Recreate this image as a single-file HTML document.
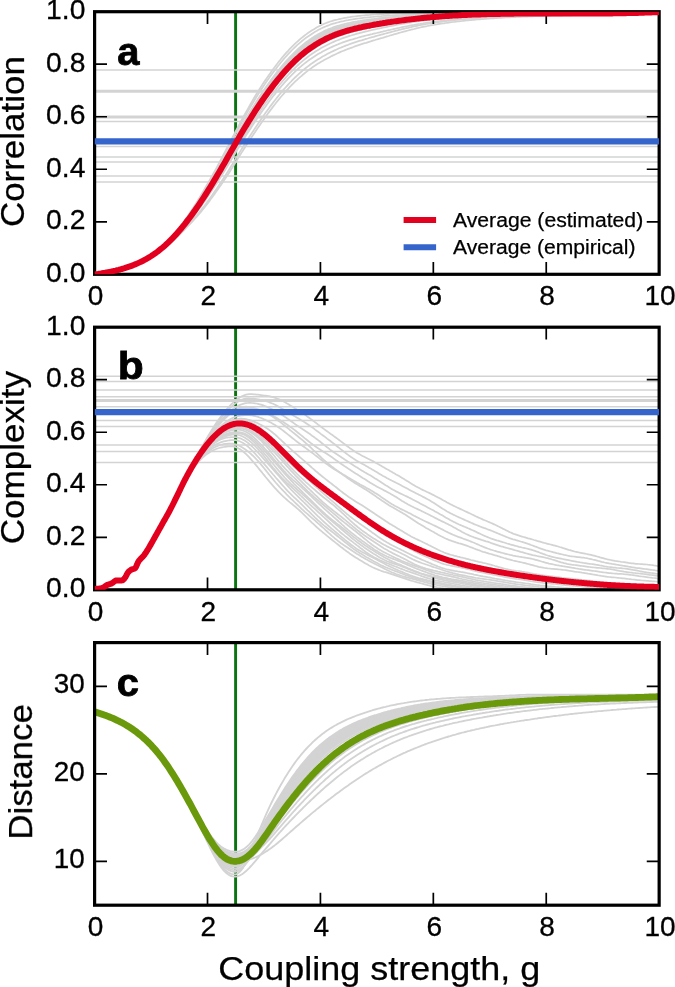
<!DOCTYPE html>
<html lang="en"><head><meta charset="utf-8"><title>Coupling strength figure</title>
<style>html,body{margin:0;padding:0;background:#fff;}body{width:675px;height:987px;overflow:hidden;}svg{display:block;}text{font-family:"Liberation Sans", sans-serif;fill:#000;}.tk{font-size:27.4px;stroke:#000;stroke-width:.3px;}.lb{font-size:33px;stroke:#000;stroke-width:.25px;}.lg{font-size:19.6px;stroke:#000;stroke-width:.25px;}.pl{font-size:39px;font-weight:bold;stroke:#000;stroke-width:.8px;}</style></head><body>
<svg width="675" height="987" viewBox="0 0 675 987">
<rect x="0" y="0" width="675" height="987" fill="#fff"/>
<defs>
<clipPath id="cpa"><rect x="94.60" y="11.70" width="564.55" height="262.60"/></clipPath>
<clipPath id="cpb"><rect x="94.60" y="327.20" width="564.55" height="262.60"/></clipPath>
<clipPath id="cpc"><rect x="94.60" y="642.60" width="564.55" height="262.60"/></clipPath>
</defs>
<line x1="235.6" x2="235.6" y1="11.70" y2="274.30" stroke="#0a7410" stroke-width="2.9" clip-path="url(#cpa)"/>
<g stroke="#d3d3d3" stroke-width="1.75" fill="none" clip-path="url(#cpa)" stroke-linejoin="round">
<line x1="94.60" x2="659.15" y1="69.90" y2="69.90" stroke-width="1.50"/>
<line x1="94.60" x2="659.15" y1="91.30" y2="91.30" stroke-width="3.00"/>
<line x1="94.60" x2="659.15" y1="117.00" y2="117.00" stroke-width="3.15"/>
<line x1="94.60" x2="659.15" y1="121.50" y2="121.50" stroke-width="1.50"/>
<line x1="94.60" x2="659.15" y1="146.40" y2="146.40" stroke-width="1.50"/>
<line x1="94.60" x2="659.15" y1="157.10" y2="157.10" stroke-width="1.50"/>
<line x1="94.60" x2="659.15" y1="162.10" y2="162.10" stroke-width="1.50"/>
<line x1="94.60" x2="659.15" y1="175.90" y2="175.90" stroke-width="1.50"/>
<line x1="94.60" x2="659.15" y1="182.00" y2="182.00" stroke-width="1.50"/>
<path d="M94.6,274.3 L96.1,274.3 L97.6,274.1 L99.1,273.8 L100.6,273.6 L102.1,273.3 L103.6,273.1 L105.1,272.8 L106.6,272.5 L108.1,272.3 L109.6,272.0 L111.1,271.7 L112.6,271.4 L114.1,271.1 L115.6,270.7 L117.1,270.4 L118.6,270.1 L120.1,269.7 L121.6,269.3 L123.1,268.9 L124.6,268.5 L126.1,268.1 L127.6,267.6 L129.1,267.1 L130.6,266.6 L132.1,266.1 L133.6,265.6 L135.1,265.0 L136.6,264.4 L138.1,263.8 L139.6,263.1 L141.1,262.5 L142.6,261.7 L144.1,261.0 L145.6,260.2 L147.1,259.4 L148.6,258.6 L150.1,257.7 L151.6,256.8 L153.1,255.9 L154.6,255.0 L156.1,254.0 L157.6,253.0 L159.1,252.0 L160.6,250.9 L162.1,249.8 L163.6,248.7 L165.1,247.5 L166.6,246.4 L168.1,245.1 L169.6,243.9 L171.1,242.6 L172.6,241.3 L174.1,239.9 L175.6,238.5 L177.1,237.1 L178.6,235.6 L180.1,234.1 L181.6,232.6 L183.1,231.1 L184.6,229.6 L186.1,228.0 L187.6,226.5 L189.1,225.0 L190.6,223.4 L192.1,221.8 L193.6,220.2 L195.1,218.5 L196.6,216.9 L198.1,215.2 L199.6,213.4 L201.1,211.7 L202.6,209.8 L204.1,208.0 L205.6,206.0 L207.1,204.1 L208.6,202.1 L210.1,200.1 L211.6,198.0 L213.1,196.0 L214.6,193.9 L216.1,191.8 L217.6,189.7 L219.1,187.6 L220.6,185.4 L222.1,183.2 L223.6,181.0 L225.1,178.8 L226.6,176.5 L228.1,174.2 L229.6,171.9 L231.1,169.5 L232.6,167.1 L234.1,164.7 L235.6,162.3 L237.1,159.8 L238.6,157.4 L240.1,155.0 L241.6,152.6 L243.1,150.2 L244.6,147.9 L246.1,145.6 L247.6,143.3 L249.1,141.0 L250.6,138.7 L252.1,136.4 L253.6,134.2 L255.1,132.0 L256.6,129.8 L258.1,127.6 L259.6,125.4 L261.1,123.2 L262.6,121.1 L264.1,118.9 L265.6,116.8 L267.1,114.7 L268.6,112.6 L270.1,110.6 L271.6,108.6 L273.1,106.6 L274.6,104.7 L276.1,102.8 L277.6,100.9 L279.1,99.1 L280.6,97.3 L282.1,95.5 L283.6,93.8 L285.1,92.1 L286.6,90.4 L288.1,88.8 L289.6,87.2 L291.1,85.7 L292.6,84.1 L294.1,82.7 L295.6,81.2 L297.1,79.8 L298.6,78.4 L300.1,77.1 L301.6,75.8 L303.1,74.5 L304.6,73.3 L306.1,72.1 L307.6,70.9 L309.1,69.8 L310.6,68.7 L312.1,67.6 L313.6,66.6 L315.1,65.6 L316.6,64.6 L318.1,63.6 L319.6,62.7 L321.1,61.8 L322.6,61.0 L324.1,60.1 L325.6,59.3 L327.1,58.5 L328.6,57.7 L330.1,56.9 L331.6,56.1 L333.1,55.4 L334.6,54.7 L336.1,54.0 L337.6,53.3 L339.1,52.6 L340.6,51.9 L342.1,51.3 L343.6,50.7 L345.1,50.1 L346.6,49.5 L348.1,48.9 L349.6,48.4 L351.1,47.8 L352.6,47.3 L354.1,46.7 L355.6,46.2 L357.1,45.7 L358.6,45.2 L360.1,44.7 L361.6,44.2 L363.1,43.7 L364.6,43.2 L366.1,42.8 L367.6,42.3 L369.1,41.8 L370.6,41.4 L372.1,40.9 L373.6,40.4 L375.1,40.0 L376.6,39.5 L378.1,39.1 L379.6,38.7 L381.1,38.2 L382.6,37.8 L384.1,37.3 L385.6,36.9 L387.1,36.4 L388.6,36.0 L390.1,35.5 L391.6,35.1 L393.1,34.7 L394.6,34.2 L396.1,33.8 L397.6,33.4 L399.1,32.9 L400.6,32.5 L402.1,32.1 L403.6,31.7 L405.1,31.3 L406.6,30.9 L408.1,30.5 L409.6,30.1 L411.1,29.7 L412.6,29.3 L414.1,29.0 L415.6,28.6 L417.1,28.2 L418.6,27.9 L420.1,27.5 L421.6,27.2 L423.1,26.9 L424.6,26.6 L426.1,26.3 L427.6,26.0 L429.1,25.7 L430.6,25.4 L432.1,25.1 L433.6,24.9 L435.1,24.6 L436.6,24.4 L438.1,24.1 L439.6,23.9 L441.1,23.7 L442.6,23.5 L444.1,23.3 L445.6,23.0 L447.1,22.8 L448.6,22.6 L450.1,22.4 L451.6,22.2 L453.1,22.0 L454.6,21.9 L456.1,21.7 L457.6,21.5 L459.1,21.3 L460.6,21.2 L462.1,21.0 L463.6,20.8 L465.1,20.7 L466.6,20.5 L468.1,20.4 L469.6,20.2 L471.1,20.1 L472.6,19.9 L474.1,19.8 L475.6,19.7 L477.1,19.5 L478.6,19.4 L480.1,19.3 L481.6,19.2 L483.1,19.1 L484.6,18.9 L486.1,18.8 L487.6,18.7 L489.1,18.6 L490.6,18.5 L492.1,18.4 L493.6,18.3 L495.1,18.2 L496.6,18.1 L498.1,18.0 L499.6,17.9 L501.1,17.8 L502.6,17.7 L504.1,17.6 L505.6,17.5 L507.1,17.4 L508.6,17.4 L510.1,17.3 L511.6,17.2 L513.1,17.1 L514.6,17.0 L516.1,17.0 L517.6,16.9 L519.1,16.8 L520.6,16.8 L522.1,16.7 L523.6,16.6 L525.1,16.6 L526.6,16.5 L528.1,16.5 L529.6,16.4 L531.1,16.3 L532.6,16.3 L534.1,16.2 L535.6,16.2 L537.1,16.1 L538.6,16.1 L540.1,16.0 L541.6,16.0 L543.1,16.0 L544.6,15.9 L546.1,15.9 L547.6,15.8 L549.1,15.8 L550.6,15.8 L552.1,15.7 L553.6,15.7 L555.1,15.6 L556.6,15.6 L558.1,15.6 L559.6,15.5 L561.1,15.5 L562.6,15.5 L564.1,15.4 L565.6,15.4 L567.1,15.4 L568.6,15.3 L570.1,15.3 L571.6,15.3 L573.1,15.2 L574.6,15.2 L576.1,15.1 L577.6,15.1 L579.1,15.1 L580.6,15.0 L582.1,15.0 L583.6,15.0 L585.1,14.9 L586.6,14.9 L588.1,14.9 L589.6,14.8 L591.1,14.8 L592.6,14.8 L594.1,14.7 L595.6,14.7 L597.1,14.6 L598.6,14.6 L600.1,14.6 L601.6,14.5 L603.1,14.5 L604.6,14.4 L606.1,14.4 L607.6,14.3 L609.1,14.3 L610.6,14.3 L612.1,14.2 L613.6,14.2 L615.1,14.1 L616.6,14.1 L618.1,14.0 L619.6,14.0 L621.1,13.9 L622.6,13.9 L624.1,13.8 L625.6,13.8 L627.1,13.7 L628.6,13.7 L630.1,13.6 L631.6,13.6 L633.1,13.5 L634.6,13.4 L636.1,13.4 L637.6,13.3 L639.1,13.3 L640.6,13.2 L642.1,13.1 L643.6,13.1 L645.1,13.0 L646.6,12.9 L648.1,12.9 L649.6,12.8 L651.1,12.7 L652.6,12.7 L654.1,12.6 L655.6,12.5 L657.1,12.4 L659.1,12.3"/>
<path d="M94.6,274.3 L96.1,274.3 L97.6,274.1 L99.1,273.8 L100.6,273.6 L102.1,273.3 L103.6,273.1 L105.1,272.8 L106.6,272.5 L108.1,272.3 L109.6,272.0 L111.1,271.7 L112.6,271.4 L114.1,271.1 L115.6,270.7 L117.1,270.4 L118.6,270.0 L120.1,269.7 L121.6,269.3 L123.1,268.9 L124.6,268.5 L126.1,268.0 L127.6,267.6 L129.1,267.1 L130.6,266.6 L132.1,266.0 L133.6,265.5 L135.1,264.9 L136.6,264.3 L138.1,263.7 L139.6,263.0 L141.1,262.4 L142.6,261.6 L144.1,260.9 L145.6,260.1 L147.1,259.3 L148.6,258.5 L150.1,257.6 L151.6,256.7 L153.1,255.8 L154.6,254.8 L156.1,253.8 L157.6,252.8 L159.1,251.7 L160.6,250.7 L162.1,249.6 L163.6,248.4 L165.1,247.2 L166.6,246.0 L168.1,244.8 L169.6,243.5 L171.1,242.2 L172.6,240.8 L174.1,239.4 L175.6,238.0 L177.1,236.5 L178.6,235.0 L180.1,233.4 L181.6,231.9 L183.1,230.3 L184.6,228.8 L186.1,227.2 L187.6,225.6 L189.1,224.0 L190.6,222.3 L192.1,220.7 L193.6,219.0 L195.1,217.2 L196.6,215.5 L198.1,213.7 L199.6,211.9 L201.1,210.0 L202.6,208.1 L204.1,206.2 L205.6,204.2 L207.1,202.1 L208.6,200.1 L210.1,198.0 L211.6,195.9 L213.1,193.7 L214.6,191.6 L216.1,189.4 L217.6,187.2 L219.1,185.0 L220.6,182.8 L222.1,180.5 L223.6,178.2 L225.1,175.9 L226.6,173.6 L228.1,171.2 L229.6,168.8 L231.1,166.3 L232.6,163.9 L234.1,161.4 L235.6,158.9 L237.1,156.5 L238.6,154.0 L240.1,151.6 L241.6,149.1 L243.1,146.7 L244.6,144.3 L246.1,142.0 L247.6,139.6 L249.1,137.3 L250.6,135.0 L252.1,132.7 L253.6,130.4 L255.1,128.2 L256.6,125.9 L258.1,123.7 L259.6,121.5 L261.1,119.3 L262.6,117.1 L264.1,115.0 L265.6,112.8 L267.1,110.7 L268.6,108.7 L270.1,106.6 L271.6,104.6 L273.1,102.6 L274.6,100.7 L276.1,98.8 L277.6,96.9 L279.1,95.0 L280.6,93.2 L282.1,91.4 L283.6,89.7 L285.1,88.0 L286.6,86.3 L288.1,84.6 L289.6,83.0 L291.1,81.5 L292.6,79.9 L294.1,78.4 L295.6,77.0 L297.1,75.6 L298.6,74.2 L300.1,72.8 L301.6,71.5 L303.1,70.2 L304.6,69.0 L306.1,67.8 L307.6,66.6 L309.1,65.5 L310.6,64.3 L312.1,63.3 L313.6,62.2 L315.1,61.2 L316.6,60.2 L318.1,59.3 L319.6,58.4 L321.1,57.5 L322.6,56.6 L324.1,55.8 L325.6,54.9 L327.1,54.1 L328.6,53.3 L330.1,52.6 L331.6,51.8 L333.1,51.1 L334.6,50.4 L336.1,49.7 L337.6,49.0 L339.1,48.3 L340.6,47.7 L342.1,47.1 L343.6,46.5 L345.1,45.9 L346.6,45.3 L348.1,44.8 L349.6,44.2 L351.1,43.7 L352.6,43.2 L354.1,42.7 L355.6,42.2 L357.1,41.7 L358.6,41.2 L360.1,40.7 L361.6,40.3 L363.1,39.8 L364.6,39.4 L366.1,38.9 L367.6,38.5 L369.1,38.0 L370.6,37.6 L372.1,37.2 L373.6,36.8 L375.1,36.3 L376.6,35.9 L378.1,35.5 L379.6,35.1 L381.1,34.7 L382.6,34.3 L384.1,33.9 L385.6,33.5 L387.1,33.1 L388.6,32.7 L390.1,32.3 L391.6,31.9 L393.1,31.5 L394.6,31.1 L396.1,30.7 L397.6,30.3 L399.1,29.9 L400.6,29.6 L402.1,29.2 L403.6,28.8 L405.1,28.5 L406.6,28.1 L408.1,27.8 L409.6,27.4 L411.1,27.1 L412.6,26.7 L414.1,26.4 L415.6,26.1 L417.1,25.8 L418.6,25.5 L420.1,25.2 L421.6,24.9 L423.1,24.6 L424.6,24.3 L426.1,24.0 L427.6,23.8 L429.1,23.5 L430.6,23.3 L432.1,23.0 L433.6,22.8 L435.1,22.6 L436.6,22.4 L438.1,22.2 L439.6,22.0 L441.1,21.8 L442.6,21.6 L444.1,21.4 L445.6,21.2 L447.1,21.0 L448.6,20.8 L450.1,20.6 L451.6,20.5 L453.1,20.3 L454.6,20.1 L456.1,20.0 L457.6,19.8 L459.1,19.7 L460.6,19.5 L462.1,19.4 L463.6,19.2 L465.1,19.1 L466.6,19.0 L468.1,18.8 L469.6,18.7 L471.1,18.6 L472.6,18.5 L474.1,18.3 L475.6,18.2 L477.1,18.1 L478.6,18.0 L480.1,17.9 L481.6,17.8 L483.1,17.7 L484.6,17.6 L486.1,17.5 L487.6,17.4 L489.1,17.3 L490.6,17.2 L492.1,17.1 L493.6,17.0 L495.1,17.0 L496.6,16.9 L498.1,16.8 L499.6,16.7 L501.1,16.6 L502.6,16.6 L504.1,16.5 L505.6,16.4 L507.1,16.4 L508.6,16.3 L510.1,16.2 L511.6,16.2 L513.1,16.1 L514.6,16.0 L516.1,16.0 L517.6,15.9 L519.1,15.9 L520.6,15.8 L522.1,15.8 L523.6,15.7 L525.1,15.7 L526.6,15.6 L528.1,15.6 L529.6,15.5 L531.1,15.5 L532.6,15.4 L534.1,15.4 L535.6,15.4 L537.1,15.3 L538.6,15.3 L540.1,15.3 L541.6,15.2 L543.1,15.2 L544.6,15.2 L546.1,15.1 L547.6,15.1 L549.1,15.1 L550.6,15.1 L552.1,15.0 L553.6,15.0 L555.1,15.0 L556.6,14.9 L558.1,14.9 L559.6,14.9 L561.1,14.9 L562.6,14.8 L564.1,14.8 L565.6,14.8 L567.1,14.8 L568.6,14.7 L570.1,14.7 L571.6,14.7 L573.1,14.7 L574.6,14.6 L576.1,14.6 L577.6,14.6 L579.1,14.6 L580.6,14.5 L582.1,14.5 L583.6,14.5 L585.1,14.5 L586.6,14.4 L588.1,14.4 L589.6,14.4 L591.1,14.4 L592.6,14.3 L594.1,14.3 L595.6,14.3 L597.1,14.3 L598.6,14.2 L600.1,14.2 L601.6,14.2 L603.1,14.1 L604.6,14.1 L606.1,14.1 L607.6,14.0 L609.1,14.0 L610.6,14.0 L612.1,13.9 L613.6,13.9 L615.1,13.9 L616.6,13.8 L618.1,13.8 L619.6,13.7 L621.1,13.7 L622.6,13.7 L624.1,13.6 L625.6,13.6 L627.1,13.5 L628.6,13.5 L630.1,13.4 L631.6,13.4 L633.1,13.3 L634.6,13.3 L636.1,13.2 L637.6,13.2 L639.1,13.1 L640.6,13.1 L642.1,13.0 L643.6,12.9 L645.1,12.9 L646.6,12.8 L648.1,12.7 L649.6,12.7 L651.1,12.6 L652.6,12.5 L654.1,12.5 L655.6,12.4 L657.1,12.3 L659.1,12.2"/>
<path d="M94.6,274.3 L96.1,274.3 L97.6,274.1 L99.1,273.8 L100.6,273.6 L102.1,273.3 L103.6,273.1 L105.1,272.8 L106.6,272.5 L108.1,272.2 L109.6,271.9 L111.1,271.6 L112.6,271.3 L114.1,271.0 L115.6,270.7 L117.1,270.3 L118.6,269.9 L120.1,269.6 L121.6,269.2 L123.1,268.7 L124.6,268.3 L126.1,267.9 L127.6,267.4 L129.1,266.9 L130.6,266.4 L132.1,265.8 L133.6,265.3 L135.1,264.7 L136.6,264.1 L138.1,263.4 L139.6,262.7 L141.1,262.0 L142.6,261.3 L144.1,260.5 L145.6,259.8 L147.1,258.9 L148.6,258.1 L150.1,257.2 L151.6,256.2 L153.1,255.3 L154.6,254.3 L156.1,253.3 L157.6,252.2 L159.1,251.1 L160.6,250.0 L162.1,248.8 L163.6,247.6 L165.1,246.3 L166.6,245.0 L168.1,243.7 L169.6,242.4 L171.1,241.0 L172.6,239.5 L174.1,238.0 L175.6,236.5 L177.1,235.0 L178.6,233.4 L180.1,231.7 L181.6,230.1 L183.1,228.4 L184.6,226.7 L186.1,225.0 L187.6,223.2 L189.1,221.5 L190.6,219.7 L192.1,217.8 L193.6,216.0 L195.1,214.1 L196.6,212.2 L198.1,210.2 L199.6,208.2 L201.1,206.2 L202.6,204.1 L204.1,202.0 L205.6,199.9 L207.1,197.7 L208.6,195.5 L210.1,193.3 L211.6,191.1 L213.1,188.8 L214.6,186.5 L216.1,184.2 L217.6,181.9 L219.1,179.6 L220.6,177.2 L222.1,174.8 L223.6,172.4 L225.1,170.0 L226.6,167.6 L228.1,165.1 L229.6,162.6 L231.1,160.1 L232.6,157.6 L234.1,155.1 L235.6,152.6 L237.1,150.0 L238.6,147.6 L240.1,145.1 L241.6,142.6 L243.1,140.2 L244.6,137.8 L246.1,135.4 L247.6,133.1 L249.1,130.7 L250.6,128.4 L252.1,126.1 L253.6,123.8 L255.1,121.6 L256.6,119.3 L258.1,117.1 L259.6,114.9 L261.1,112.8 L262.6,110.6 L264.1,108.5 L265.6,106.4 L267.1,104.3 L268.6,102.3 L270.1,100.3 L271.6,98.3 L273.1,96.3 L274.6,94.4 L276.1,92.5 L277.6,90.7 L279.1,88.9 L280.6,87.1 L282.1,85.3 L283.6,83.6 L285.1,81.9 L286.6,80.3 L288.1,78.7 L289.6,77.1 L291.1,75.6 L292.6,74.1 L294.1,72.6 L295.6,71.2 L297.1,69.8 L298.6,68.4 L300.1,67.1 L301.6,65.8 L303.1,64.6 L304.6,63.4 L306.1,62.2 L307.6,61.1 L309.1,60.0 L310.6,58.9 L312.1,57.9 L313.6,56.9 L315.1,55.9 L316.6,55.0 L318.1,54.1 L319.6,53.2 L321.1,52.4 L322.6,51.5 L324.1,50.7 L325.6,50.0 L327.1,49.2 L328.6,48.5 L330.1,47.8 L331.6,47.1 L333.1,46.4 L334.6,45.7 L336.1,45.1 L337.6,44.5 L339.1,43.9 L340.6,43.3 L342.1,42.7 L343.6,42.2 L345.1,41.7 L346.6,41.2 L348.1,40.7 L349.6,40.2 L351.1,39.7 L352.6,39.3 L354.1,38.8 L355.6,38.4 L357.1,38.0 L358.6,37.5 L360.1,37.1 L361.6,36.7 L363.1,36.3 L364.6,35.9 L366.1,35.5 L367.6,35.2 L369.1,34.8 L370.6,34.4 L372.1,34.1 L373.6,33.7 L375.1,33.3 L376.6,33.0 L378.1,32.6 L379.6,32.3 L381.1,31.9 L382.6,31.6 L384.1,31.2 L385.6,30.9 L387.1,30.5 L388.6,30.2 L390.1,29.9 L391.6,29.5 L393.1,29.2 L394.6,28.8 L396.1,28.5 L397.6,28.2 L399.1,27.9 L400.6,27.5 L402.1,27.2 L403.6,26.9 L405.1,26.6 L406.6,26.3 L408.1,26.0 L409.6,25.7 L411.1,25.4 L412.6,25.1 L414.1,24.9 L415.6,24.6 L417.1,24.3 L418.6,24.0 L420.1,23.8 L421.6,23.5 L423.1,23.3 L424.6,23.0 L426.1,22.8 L427.6,22.6 L429.1,22.4 L430.6,22.2 L432.1,21.9 L433.6,21.8 L435.1,21.6 L436.6,21.4 L438.1,21.2 L439.6,21.0 L441.1,20.8 L442.6,20.7 L444.1,20.5 L445.6,20.3 L447.1,20.2 L448.6,20.0 L450.1,19.9 L451.6,19.7 L453.1,19.6 L454.6,19.4 L456.1,19.3 L457.6,19.2 L459.1,19.0 L460.6,18.9 L462.1,18.8 L463.6,18.6 L465.1,18.5 L466.6,18.4 L468.1,18.3 L469.6,18.2 L471.1,18.1 L472.6,18.0 L474.1,17.9 L475.6,17.8 L477.1,17.7 L478.6,17.6 L480.1,17.5 L481.6,17.4 L483.1,17.3 L484.6,17.2 L486.1,17.1 L487.6,17.0 L489.1,17.0 L490.6,16.9 L492.1,16.8 L493.6,16.7 L495.1,16.7 L496.6,16.6 L498.1,16.5 L499.6,16.4 L501.1,16.4 L502.6,16.3 L504.1,16.3 L505.6,16.2 L507.1,16.1 L508.6,16.1 L510.1,16.0 L511.6,16.0 L513.1,15.9 L514.6,15.9 L516.1,15.8 L517.6,15.8 L519.1,15.7 L520.6,15.7 L522.1,15.6 L523.6,15.6 L525.1,15.5 L526.6,15.5 L528.1,15.5 L529.6,15.4 L531.1,15.4 L532.6,15.4 L534.1,15.3 L535.6,15.3 L537.1,15.3 L538.6,15.2 L540.1,15.2 L541.6,15.2 L543.1,15.1 L544.6,15.1 L546.1,15.1 L547.6,15.1 L549.1,15.0 L550.6,15.0 L552.1,15.0 L553.6,15.0 L555.1,15.0 L556.6,14.9 L558.1,14.9 L559.6,14.9 L561.1,14.9 L562.6,14.8 L564.1,14.8 L565.6,14.8 L567.1,14.8 L568.6,14.8 L570.1,14.7 L571.6,14.7 L573.1,14.7 L574.6,14.7 L576.1,14.6 L577.6,14.6 L579.1,14.6 L580.6,14.6 L582.1,14.5 L583.6,14.5 L585.1,14.5 L586.6,14.5 L588.1,14.5 L589.6,14.4 L591.1,14.4 L592.6,14.4 L594.1,14.3 L595.6,14.3 L597.1,14.3 L598.6,14.3 L600.1,14.2 L601.6,14.2 L603.1,14.2 L604.6,14.1 L606.1,14.1 L607.6,14.1 L609.1,14.0 L610.6,14.0 L612.1,14.0 L613.6,13.9 L615.1,13.9 L616.6,13.9 L618.1,13.8 L619.6,13.8 L621.1,13.7 L622.6,13.7 L624.1,13.6 L625.6,13.6 L627.1,13.6 L628.6,13.5 L630.1,13.5 L631.6,13.4 L633.1,13.4 L634.6,13.3 L636.1,13.3 L637.6,13.2 L639.1,13.1 L640.6,13.1 L642.1,13.0 L643.6,13.0 L645.1,12.9 L646.6,12.8 L648.1,12.8 L649.6,12.7 L651.1,12.6 L652.6,12.6 L654.1,12.5 L655.6,12.4 L657.1,12.4 L659.1,12.2"/>
<path d="M94.6,274.3 L96.1,274.3 L97.6,274.1 L99.1,273.8 L100.6,273.6 L102.1,273.3 L103.6,273.1 L105.1,272.8 L106.6,272.5 L108.1,272.2 L109.6,271.9 L111.1,271.6 L112.6,271.3 L114.1,271.0 L115.6,270.7 L117.1,270.3 L118.6,269.9 L120.1,269.6 L121.6,269.2 L123.1,268.7 L124.6,268.3 L126.1,267.8 L127.6,267.4 L129.1,266.9 L130.6,266.4 L132.1,265.8 L133.6,265.2 L135.1,264.7 L136.6,264.0 L138.1,263.4 L139.6,262.7 L141.1,262.0 L142.6,261.3 L144.1,260.5 L145.6,259.7 L147.1,258.9 L148.6,258.0 L150.1,257.1 L151.6,256.2 L153.1,255.2 L154.6,254.2 L156.1,253.2 L157.6,252.1 L159.1,251.0 L160.6,249.9 L162.1,248.7 L163.6,247.5 L165.1,246.2 L166.6,244.9 L168.1,243.6 L169.6,242.2 L171.1,240.8 L172.6,239.3 L174.1,237.8 L175.6,236.2 L177.1,234.7 L178.6,233.1 L180.1,231.4 L181.6,229.7 L183.1,228.0 L184.6,226.3 L186.1,224.5 L187.6,222.7 L189.1,220.9 L190.6,219.1 L192.1,217.2 L193.6,215.3 L195.1,213.3 L196.6,211.4 L198.1,209.3 L199.6,207.3 L201.1,205.2 L202.6,203.1 L204.1,200.9 L205.6,198.8 L207.1,196.5 L208.6,194.3 L210.1,192.0 L211.6,189.7 L213.1,187.4 L214.6,185.0 L216.1,182.7 L217.6,180.3 L219.1,177.9 L220.6,175.4 L222.1,173.0 L223.6,170.5 L225.1,168.0 L226.6,165.5 L228.1,163.0 L229.6,160.4 L231.1,157.9 L232.6,155.3 L234.1,152.7 L235.6,150.1 L237.1,147.6 L238.6,145.0 L240.1,142.5 L241.6,140.0 L243.1,137.6 L244.6,135.1 L246.1,132.7 L247.6,130.3 L249.1,127.9 L250.6,125.5 L252.1,123.2 L253.6,120.9 L255.1,118.6 L256.6,116.3 L258.1,114.0 L259.6,111.8 L261.1,109.6 L262.6,107.4 L264.1,105.3 L265.6,103.1 L267.1,101.0 L268.6,98.9 L270.1,96.9 L271.6,94.9 L273.1,92.9 L274.6,91.0 L276.1,89.1 L277.6,87.2 L279.1,85.3 L280.6,83.5 L282.1,81.7 L283.6,80.0 L285.1,78.3 L286.6,76.6 L288.1,75.0 L289.6,73.4 L291.1,71.8 L292.6,70.3 L294.1,68.8 L295.6,67.3 L297.1,65.9 L298.6,64.5 L300.1,63.2 L301.6,61.9 L303.1,60.6 L304.6,59.4 L306.1,58.2 L307.6,57.0 L309.1,55.9 L310.6,54.8 L312.1,53.8 L313.6,52.8 L315.1,51.8 L316.6,50.8 L318.1,49.9 L319.6,49.0 L321.1,48.1 L322.6,47.3 L324.1,46.5 L325.6,45.7 L327.1,44.9 L328.6,44.2 L330.1,43.5 L331.6,42.8 L333.1,42.1 L334.6,41.4 L336.1,40.8 L337.6,40.2 L339.1,39.6 L340.6,39.0 L342.1,38.4 L343.6,37.9 L345.1,37.4 L346.6,36.9 L348.1,36.4 L349.6,35.9 L351.1,35.5 L352.6,35.0 L354.1,34.6 L355.6,34.2 L357.1,33.7 L358.6,33.3 L360.1,32.9 L361.6,32.6 L363.1,32.2 L364.6,31.8 L366.1,31.4 L367.6,31.1 L369.1,30.7 L370.6,30.4 L372.1,30.0 L373.6,29.7 L375.1,29.4 L376.6,29.0 L378.1,28.7 L379.6,28.4 L381.1,28.1 L382.6,27.7 L384.1,27.4 L385.6,27.1 L387.1,26.8 L388.6,26.5 L390.1,26.2 L391.6,25.9 L393.1,25.6 L394.6,25.3 L396.1,25.0 L397.6,24.7 L399.1,24.5 L400.6,24.2 L402.1,23.9 L403.6,23.7 L405.1,23.4 L406.6,23.1 L408.1,22.9 L409.6,22.6 L411.1,22.4 L412.6,22.1 L414.1,21.9 L415.6,21.7 L417.1,21.5 L418.6,21.2 L420.1,21.0 L421.6,20.8 L423.1,20.6 L424.6,20.4 L426.1,20.2 L427.6,20.0 L429.1,19.8 L430.6,19.7 L432.1,19.5 L433.6,19.3 L435.1,19.1 L436.6,19.0 L438.1,18.8 L439.6,18.7 L441.1,18.5 L442.6,18.4 L444.1,18.2 L445.6,18.1 L447.1,18.0 L448.6,17.8 L450.1,17.7 L451.6,17.6 L453.1,17.5 L454.6,17.3 L456.1,17.2 L457.6,17.1 L459.1,17.0 L460.6,16.9 L462.1,16.8 L463.6,16.7 L465.1,16.6 L466.6,16.5 L468.1,16.4 L469.6,16.3 L471.1,16.2 L472.6,16.1 L474.1,16.0 L475.6,16.0 L477.1,15.9 L478.6,15.8 L480.1,15.7 L481.6,15.7 L483.1,15.6 L484.6,15.5 L486.1,15.5 L487.6,15.4 L489.1,15.3 L490.6,15.3 L492.1,15.2 L493.6,15.2 L495.1,15.1 L496.6,15.0 L498.1,15.0 L499.6,14.9 L501.1,14.9 L502.6,14.9 L504.1,14.8 L505.6,14.8 L507.1,14.7 L508.6,14.7 L510.1,14.6 L511.6,14.6 L513.1,14.6 L514.6,14.5 L516.1,14.5 L517.6,14.5 L519.1,14.5 L520.6,14.4 L522.1,14.4 L523.6,14.4 L525.1,14.3 L526.6,14.3 L528.1,14.3 L529.6,14.3 L531.1,14.3 L532.6,14.2 L534.1,14.2 L535.6,14.2 L537.1,14.2 L538.6,14.2 L540.1,14.2 L541.6,14.1 L543.1,14.1 L544.6,14.1 L546.1,14.1 L547.6,14.1 L549.1,14.1 L550.6,14.1 L552.1,14.1 L553.6,14.1 L555.1,14.0 L556.6,14.0 L558.1,14.0 L559.6,14.0 L561.1,14.0 L562.6,14.0 L564.1,14.0 L565.6,14.0 L567.1,14.0 L568.6,14.0 L570.1,14.0 L571.6,13.9 L573.1,13.9 L574.6,13.9 L576.1,13.9 L577.6,13.9 L579.1,13.9 L580.6,13.9 L582.1,13.9 L583.6,13.9 L585.1,13.9 L586.6,13.9 L588.1,13.8 L589.6,13.8 L591.1,13.8 L592.6,13.8 L594.1,13.8 L595.6,13.8 L597.1,13.8 L598.6,13.7 L600.1,13.7 L601.6,13.7 L603.1,13.7 L604.6,13.7 L606.1,13.6 L607.6,13.6 L609.1,13.6 L610.6,13.6 L612.1,13.6 L613.6,13.5 L615.1,13.5 L616.6,13.5 L618.1,13.5 L619.6,13.4 L621.1,13.4 L622.6,13.4 L624.1,13.3 L625.6,13.3 L627.1,13.3 L628.6,13.2 L630.1,13.2 L631.6,13.1 L633.1,13.1 L634.6,13.1 L636.1,13.0 L637.6,13.0 L639.1,12.9 L640.6,12.9 L642.1,12.8 L643.6,12.8 L645.1,12.7 L646.6,12.7 L648.1,12.6 L649.6,12.5 L651.1,12.5 L652.6,12.4 L654.1,12.3 L655.6,12.3 L657.1,12.2 L659.1,12.1"/>
<path d="M94.6,274.3 L96.1,274.3 L97.6,274.1 L99.1,273.8 L100.6,273.6 L102.1,273.3 L103.6,273.0 L105.1,272.8 L106.6,272.5 L108.1,272.2 L109.6,271.9 L111.1,271.6 L112.6,271.3 L114.1,271.0 L115.6,270.6 L117.1,270.3 L118.6,269.9 L120.1,269.5 L121.6,269.1 L123.1,268.7 L124.6,268.2 L126.1,267.8 L127.6,267.3 L129.1,266.8 L130.6,266.3 L132.1,265.7 L133.6,265.1 L135.1,264.5 L136.6,263.9 L138.1,263.2 L139.6,262.6 L141.1,261.8 L142.6,261.1 L144.1,260.3 L145.6,259.5 L147.1,258.7 L148.6,257.8 L150.1,256.9 L151.6,255.9 L153.1,255.0 L154.6,253.9 L156.1,252.9 L157.6,251.8 L159.1,250.7 L160.6,249.5 L162.1,248.3 L163.6,247.0 L165.1,245.7 L166.6,244.4 L168.1,243.0 L169.6,241.6 L171.1,240.1 L172.6,238.6 L174.1,237.0 L175.6,235.4 L177.1,233.8 L178.6,232.1 L180.1,230.4 L181.6,228.7 L183.1,226.9 L184.6,225.1 L186.1,223.3 L187.6,221.4 L189.1,219.5 L190.6,217.5 L192.1,215.5 L193.6,213.5 L195.1,211.5 L196.6,209.4 L198.1,207.3 L199.6,205.2 L201.1,203.0 L202.6,200.8 L204.1,198.5 L205.6,196.2 L207.1,193.9 L208.6,191.6 L210.1,189.2 L211.6,186.8 L213.1,184.4 L214.6,182.0 L216.1,179.5 L217.6,177.1 L219.1,174.6 L220.6,172.1 L222.1,169.5 L223.6,167.0 L225.1,164.4 L226.6,161.8 L228.1,159.2 L229.6,156.6 L231.1,154.0 L232.6,151.4 L234.1,148.8 L235.6,146.1 L237.1,143.6 L238.6,141.0 L240.1,138.4 L241.6,135.9 L243.1,133.4 L244.6,130.9 L246.1,128.5 L247.6,126.0 L249.1,123.6 L250.6,121.3 L252.1,118.9 L253.6,116.6 L255.1,114.2 L256.6,112.0 L258.1,109.7 L259.6,107.5 L261.1,105.3 L262.6,103.1 L264.1,100.9 L265.6,98.8 L267.1,96.7 L268.6,94.6 L270.1,92.6 L271.6,90.6 L273.1,88.6 L274.6,86.7 L276.1,84.8 L277.6,82.9 L279.1,81.1 L280.6,79.3 L282.1,77.5 L283.6,75.8 L285.1,74.1 L286.6,72.4 L288.1,70.8 L289.6,69.2 L291.1,67.6 L292.6,66.1 L294.1,64.6 L295.6,63.1 L297.1,61.7 L298.6,60.4 L300.1,59.0 L301.6,57.7 L303.1,56.5 L304.6,55.3 L306.1,54.1 L307.6,53.0 L309.1,51.8 L310.6,50.8 L312.1,49.7 L313.6,48.7 L315.1,47.8 L316.6,46.8 L318.1,45.9 L319.6,45.0 L321.1,44.2 L322.6,43.3 L324.1,42.6 L325.6,41.8 L327.1,41.0 L328.6,40.3 L330.1,39.6 L331.6,38.9 L333.1,38.3 L334.6,37.7 L336.1,37.1 L337.6,36.5 L339.1,35.9 L340.6,35.4 L342.1,34.8 L343.6,34.3 L345.1,33.9 L346.6,33.4 L348.1,32.9 L349.6,32.5 L351.1,32.1 L352.6,31.6 L354.1,31.2 L355.6,30.8 L357.1,30.5 L358.6,30.1 L360.1,29.7 L361.6,29.4 L363.1,29.1 L364.6,28.7 L366.1,28.4 L367.6,28.1 L369.1,27.8 L370.6,27.4 L372.1,27.1 L373.6,26.8 L375.1,26.5 L376.6,26.2 L378.1,26.0 L379.6,25.7 L381.1,25.4 L382.6,25.1 L384.1,24.8 L385.6,24.6 L387.1,24.3 L388.6,24.0 L390.1,23.8 L391.6,23.5 L393.1,23.3 L394.6,23.0 L396.1,22.8 L397.6,22.5 L399.1,22.3 L400.6,22.1 L402.1,21.8 L403.6,21.6 L405.1,21.4 L406.6,21.2 L408.1,21.0 L409.6,20.8 L411.1,20.6 L412.6,20.4 L414.1,20.2 L415.6,20.0 L417.1,19.8 L418.6,19.6 L420.1,19.4 L421.6,19.2 L423.1,19.1 L424.6,18.9 L426.1,18.7 L427.6,18.6 L429.1,18.4 L430.6,18.3 L432.1,18.1 L433.6,18.0 L435.1,17.8 L436.6,17.7 L438.1,17.6 L439.6,17.4 L441.1,17.3 L442.6,17.2 L444.1,17.1 L445.6,16.9 L447.1,16.8 L448.6,16.7 L450.1,16.6 L451.6,16.5 L453.1,16.4 L454.6,16.3 L456.1,16.2 L457.6,16.1 L459.1,16.0 L460.6,15.9 L462.1,15.8 L463.6,15.7 L465.1,15.6 L466.6,15.6 L468.1,15.5 L469.6,15.4 L471.1,15.3 L472.6,15.3 L474.1,15.2 L475.6,15.1 L477.1,15.1 L478.6,15.0 L480.1,14.9 L481.6,14.9 L483.1,14.8 L484.6,14.8 L486.1,14.7 L487.6,14.7 L489.1,14.6 L490.6,14.6 L492.1,14.5 L493.6,14.5 L495.1,14.4 L496.6,14.4 L498.1,14.4 L499.6,14.3 L501.1,14.3 L502.6,14.2 L504.1,14.2 L505.6,14.2 L507.1,14.2 L508.6,14.1 L510.1,14.1 L511.6,14.1 L513.1,14.0 L514.6,14.0 L516.1,14.0 L517.6,14.0 L519.1,14.0 L520.6,13.9 L522.1,13.9 L523.6,13.9 L525.1,13.9 L526.6,13.9 L528.1,13.9 L529.6,13.8 L531.1,13.8 L532.6,13.8 L534.1,13.8 L535.6,13.8 L537.1,13.8 L538.6,13.8 L540.1,13.8 L541.6,13.8 L543.1,13.8 L544.6,13.8 L546.1,13.8 L547.6,13.8 L549.1,13.7 L550.6,13.7 L552.1,13.7 L553.6,13.7 L555.1,13.7 L556.6,13.7 L558.1,13.7 L559.6,13.7 L561.1,13.7 L562.6,13.7 L564.1,13.7 L565.6,13.7 L567.1,13.7 L568.6,13.7 L570.1,13.7 L571.6,13.7 L573.1,13.7 L574.6,13.7 L576.1,13.7 L577.6,13.7 L579.1,13.7 L580.6,13.7 L582.1,13.7 L583.6,13.7 L585.1,13.7 L586.6,13.7 L588.1,13.7 L589.6,13.6 L591.1,13.6 L592.6,13.6 L594.1,13.6 L595.6,13.6 L597.1,13.6 L598.6,13.6 L600.1,13.6 L601.6,13.6 L603.1,13.5 L604.6,13.5 L606.1,13.5 L607.6,13.5 L609.1,13.5 L610.6,13.5 L612.1,13.4 L613.6,13.4 L615.1,13.4 L616.6,13.4 L618.1,13.4 L619.6,13.3 L621.1,13.3 L622.6,13.3 L624.1,13.2 L625.6,13.2 L627.1,13.2 L628.6,13.1 L630.1,13.1 L631.6,13.1 L633.1,13.0 L634.6,13.0 L636.1,13.0 L637.6,12.9 L639.1,12.9 L640.6,12.8 L642.1,12.8 L643.6,12.7 L645.1,12.7 L646.6,12.6 L648.1,12.6 L649.6,12.5 L651.1,12.4 L652.6,12.4 L654.1,12.3 L655.6,12.2 L657.1,12.2 L659.1,12.1"/>
<path d="M94.6,274.3 L96.1,274.3 L97.6,274.1 L99.1,273.8 L100.6,273.6 L102.1,273.3 L103.6,273.0 L105.1,272.8 L106.6,272.5 L108.1,272.2 L109.6,271.9 L111.1,271.6 L112.6,271.3 L114.1,270.9 L115.6,270.6 L117.1,270.2 L118.6,269.8 L120.1,269.5 L121.6,269.0 L123.1,268.6 L124.6,268.2 L126.1,267.7 L127.6,267.2 L129.1,266.7 L130.6,266.2 L132.1,265.6 L133.6,265.0 L135.1,264.4 L136.6,263.8 L138.1,263.1 L139.6,262.4 L141.1,261.7 L142.6,261.0 L144.1,260.2 L145.6,259.4 L147.1,258.5 L148.6,257.6 L150.1,256.7 L151.6,255.8 L153.1,254.8 L154.6,253.8 L156.1,252.7 L157.6,251.6 L159.1,250.4 L160.6,249.2 L162.1,248.0 L163.6,246.7 L165.1,245.4 L166.6,244.0 L168.1,242.6 L169.6,241.2 L171.1,239.7 L172.6,238.1 L174.1,236.6 L175.6,234.9 L177.1,233.3 L178.6,231.6 L180.1,229.9 L181.6,228.1 L183.1,226.3 L184.6,224.4 L186.1,222.5 L187.6,220.6 L189.1,218.6 L190.6,216.7 L192.1,214.6 L193.6,212.6 L195.1,210.5 L196.6,208.3 L198.1,206.2 L199.6,204.0 L201.1,201.8 L202.6,199.5 L204.1,197.2 L205.6,194.9 L207.1,192.5 L208.6,190.2 L210.1,187.8 L211.6,185.4 L213.1,182.9 L214.6,180.4 L216.1,178.0 L217.6,175.5 L219.1,172.9 L220.6,170.4 L222.1,167.8 L223.6,165.2 L225.1,162.6 L226.6,160.0 L228.1,157.4 L229.6,154.8 L231.1,152.2 L232.6,149.5 L234.1,146.9 L235.6,144.3 L237.1,141.7 L238.6,139.2 L240.1,136.6 L241.6,134.1 L243.1,131.6 L244.6,129.1 L246.1,126.7 L247.6,124.3 L249.1,121.9 L250.6,119.5 L252.1,117.1 L253.6,114.8 L255.1,112.5 L256.6,110.2 L258.1,108.0 L259.6,105.8 L261.1,103.6 L262.6,101.4 L264.1,99.3 L265.6,97.2 L267.1,95.1 L268.6,93.1 L270.1,91.0 L271.6,89.1 L273.1,87.1 L274.6,85.2 L276.1,83.3 L277.6,81.5 L279.1,79.6 L280.6,77.8 L282.1,76.1 L283.6,74.4 L285.1,72.7 L286.6,71.0 L288.1,69.4 L289.6,67.9 L291.1,66.3 L292.6,64.8 L294.1,63.4 L295.6,61.9 L297.1,60.5 L298.6,59.2 L300.1,57.9 L301.6,56.6 L303.1,55.4 L304.6,54.2 L306.1,53.0 L307.6,51.9 L309.1,50.8 L310.6,49.8 L312.1,48.8 L313.6,47.8 L315.1,46.8 L316.6,45.9 L318.1,45.0 L319.6,44.2 L321.1,43.3 L322.6,42.5 L324.1,41.8 L325.6,41.0 L327.1,40.3 L328.6,39.6 L330.1,38.9 L331.6,38.3 L333.1,37.6 L334.6,37.0 L336.1,36.5 L337.6,35.9 L339.1,35.3 L340.6,34.8 L342.1,34.3 L343.6,33.8 L345.1,33.4 L346.6,32.9 L348.1,32.5 L349.6,32.1 L351.1,31.7 L352.6,31.3 L354.1,30.9 L355.6,30.5 L357.1,30.2 L358.6,29.8 L360.1,29.5 L361.6,29.1 L363.1,28.8 L364.6,28.5 L366.1,28.2 L367.6,27.9 L369.1,27.6 L370.6,27.3 L372.1,27.0 L373.6,26.7 L375.1,26.4 L376.6,26.2 L378.1,25.9 L379.6,25.6 L381.1,25.4 L382.6,25.1 L384.1,24.8 L385.6,24.6 L387.1,24.3 L388.6,24.1 L390.1,23.8 L391.6,23.6 L393.1,23.3 L394.6,23.1 L396.1,22.9 L397.6,22.6 L399.1,22.4 L400.6,22.2 L402.1,22.0 L403.6,21.8 L405.1,21.6 L406.6,21.3 L408.1,21.1 L409.6,20.9 L411.1,20.7 L412.6,20.5 L414.1,20.4 L415.6,20.2 L417.1,20.0 L418.6,19.8 L420.1,19.6 L421.6,19.5 L423.1,19.3 L424.6,19.1 L426.1,19.0 L427.6,18.8 L429.1,18.7 L430.6,18.5 L432.1,18.4 L433.6,18.2 L435.1,18.1 L436.6,17.9 L438.1,17.8 L439.6,17.7 L441.1,17.6 L442.6,17.4 L444.1,17.3 L445.6,17.2 L447.1,17.1 L448.6,17.0 L450.1,16.9 L451.6,16.8 L453.1,16.7 L454.6,16.6 L456.1,16.5 L457.6,16.4 L459.1,16.3 L460.6,16.2 L462.1,16.1 L463.6,16.0 L465.1,15.9 L466.6,15.9 L468.1,15.8 L469.6,15.7 L471.1,15.6 L472.6,15.6 L474.1,15.5 L475.6,15.4 L477.1,15.4 L478.6,15.3 L480.1,15.2 L481.6,15.2 L483.1,15.1 L484.6,15.1 L486.1,15.0 L487.6,15.0 L489.1,14.9 L490.6,14.9 L492.1,14.8 L493.6,14.8 L495.1,14.7 L496.6,14.7 L498.1,14.7 L499.6,14.6 L501.1,14.6 L502.6,14.5 L504.1,14.5 L505.6,14.5 L507.1,14.4 L508.6,14.4 L510.1,14.4 L511.6,14.4 L513.1,14.3 L514.6,14.3 L516.1,14.3 L517.6,14.3 L519.1,14.2 L520.6,14.2 L522.1,14.2 L523.6,14.2 L525.1,14.2 L526.6,14.1 L528.1,14.1 L529.6,14.1 L531.1,14.1 L532.6,14.1 L534.1,14.1 L535.6,14.1 L537.1,14.1 L538.6,14.0 L540.1,14.0 L541.6,14.0 L543.1,14.0 L544.6,14.0 L546.1,14.0 L547.6,14.0 L549.1,14.0 L550.6,14.0 L552.1,14.0 L553.6,14.0 L555.1,14.0 L556.6,14.0 L558.1,14.0 L559.6,14.0 L561.1,14.0 L562.6,13.9 L564.1,13.9 L565.6,13.9 L567.1,13.9 L568.6,13.9 L570.1,13.9 L571.6,13.9 L573.1,13.9 L574.6,13.9 L576.1,13.9 L577.6,13.9 L579.1,13.9 L580.6,13.9 L582.1,13.9 L583.6,13.9 L585.1,13.9 L586.6,13.8 L588.1,13.8 L589.6,13.8 L591.1,13.8 L592.6,13.8 L594.1,13.8 L595.6,13.8 L597.1,13.8 L598.6,13.7 L600.1,13.7 L601.6,13.7 L603.1,13.7 L604.6,13.7 L606.1,13.7 L607.6,13.6 L609.1,13.6 L610.6,13.6 L612.1,13.6 L613.6,13.5 L615.1,13.5 L616.6,13.5 L618.1,13.5 L619.6,13.4 L621.1,13.4 L622.6,13.4 L624.1,13.3 L625.6,13.3 L627.1,13.3 L628.6,13.2 L630.1,13.2 L631.6,13.2 L633.1,13.1 L634.6,13.1 L636.1,13.0 L637.6,13.0 L639.1,12.9 L640.6,12.9 L642.1,12.8 L643.6,12.8 L645.1,12.7 L646.6,12.7 L648.1,12.6 L649.6,12.6 L651.1,12.5 L652.6,12.4 L654.1,12.4 L655.6,12.3 L657.1,12.2 L659.1,12.1"/>
<path d="M94.6,274.3 L96.1,274.3 L97.6,274.1 L99.1,273.8 L100.6,273.6 L102.1,273.3 L103.6,273.0 L105.1,272.8 L106.6,272.5 L108.1,272.2 L109.6,271.9 L111.1,271.6 L112.6,271.3 L114.1,271.0 L115.6,270.6 L117.1,270.3 L118.6,269.9 L120.1,269.5 L121.6,269.1 L123.1,268.7 L124.6,268.2 L126.1,267.8 L127.6,267.3 L129.1,266.8 L130.6,266.2 L132.1,265.7 L133.6,265.1 L135.1,264.5 L136.6,263.9 L138.1,263.2 L139.6,262.5 L141.1,261.8 L142.6,261.1 L144.1,260.3 L145.6,259.5 L147.1,258.6 L148.6,257.8 L150.1,256.8 L151.6,255.9 L153.1,254.9 L154.6,253.9 L156.1,252.8 L157.6,251.7 L159.1,250.6 L160.6,249.4 L162.1,248.2 L163.6,246.9 L165.1,245.6 L166.6,244.3 L168.1,242.9 L169.6,241.4 L171.1,239.9 L172.6,238.4 L174.1,236.9 L175.6,235.3 L177.1,233.6 L178.6,231.9 L180.1,230.2 L181.6,228.4 L183.1,226.6 L184.6,224.8 L186.1,222.9 L187.6,221.0 L189.1,219.1 L190.6,217.1 L192.1,215.1 L193.6,213.1 L195.1,211.0 L196.6,208.9 L198.1,206.7 L199.6,204.6 L201.1,202.3 L202.6,200.1 L204.1,197.8 L205.6,195.5 L207.1,193.2 L208.6,190.8 L210.1,188.4 L211.6,186.0 L213.1,183.5 L214.6,181.1 L216.1,178.6 L217.6,176.0 L219.1,173.5 L220.6,171.0 L222.1,168.4 L223.6,165.8 L225.1,163.2 L226.6,160.6 L228.1,157.9 L229.6,155.3 L231.1,152.6 L232.6,150.0 L234.1,147.3 L235.6,144.7 L237.1,142.1 L238.6,139.5 L240.1,136.9 L241.6,134.4 L243.1,131.9 L244.6,129.3 L246.1,126.9 L247.6,124.4 L249.1,122.0 L250.6,119.6 L252.1,117.2 L253.6,114.8 L255.1,112.5 L256.6,110.2 L258.1,107.9 L259.6,105.7 L261.1,103.4 L262.6,101.2 L264.1,99.1 L265.6,96.9 L267.1,94.8 L268.6,92.7 L270.1,90.7 L271.6,88.7 L273.1,86.7 L274.6,84.7 L276.1,82.8 L277.6,80.9 L279.1,79.1 L280.6,77.3 L282.1,75.5 L283.6,73.7 L285.1,72.0 L286.6,70.3 L288.1,68.7 L289.6,67.1 L291.1,65.5 L292.6,64.0 L294.1,62.5 L295.6,61.0 L297.1,59.6 L298.6,58.2 L300.1,56.9 L301.6,55.6 L303.1,54.3 L304.6,53.1 L306.1,51.9 L307.6,50.7 L309.1,49.6 L310.6,48.5 L312.1,47.5 L313.6,46.5 L315.1,45.5 L316.6,44.5 L318.1,43.6 L319.6,42.7 L321.1,41.9 L322.6,41.0 L324.1,40.2 L325.6,39.5 L327.1,38.7 L328.6,38.0 L330.1,37.3 L331.6,36.6 L333.1,36.0 L334.6,35.4 L336.1,34.8 L337.6,34.2 L339.1,33.6 L340.6,33.1 L342.1,32.5 L343.6,32.0 L345.1,31.6 L346.6,31.1 L348.1,30.6 L349.6,30.2 L351.1,29.8 L352.6,29.4 L354.1,29.0 L355.6,28.6 L357.1,28.2 L358.6,27.9 L360.1,27.5 L361.6,27.2 L363.1,26.9 L364.6,26.5 L366.1,26.2 L367.6,25.9 L369.1,25.6 L370.6,25.3 L372.1,25.0 L373.6,24.8 L375.1,24.5 L376.6,24.2 L378.1,23.9 L379.6,23.7 L381.1,23.4 L382.6,23.2 L384.1,22.9 L385.6,22.7 L387.1,22.4 L388.6,22.2 L390.1,21.9 L391.6,21.7 L393.1,21.5 L394.6,21.3 L396.1,21.1 L397.6,20.8 L399.1,20.6 L400.6,20.4 L402.1,20.2 L403.6,20.0 L405.1,19.8 L406.6,19.6 L408.1,19.5 L409.6,19.3 L411.1,19.1 L412.6,18.9 L414.1,18.8 L415.6,18.6 L417.1,18.4 L418.6,18.3 L420.1,18.1 L421.6,18.0 L423.1,17.8 L424.6,17.7 L426.1,17.5 L427.6,17.4 L429.1,17.2 L430.6,17.1 L432.1,17.0 L433.6,16.9 L435.1,16.7 L436.6,16.6 L438.1,16.5 L439.6,16.4 L441.1,16.3 L442.6,16.2 L444.1,16.0 L445.6,15.9 L447.1,15.8 L448.6,15.7 L450.1,15.6 L451.6,15.6 L453.1,15.5 L454.6,15.4 L456.1,15.3 L457.6,15.2 L459.1,15.1 L460.6,15.0 L462.1,15.0 L463.6,14.9 L465.1,14.8 L466.6,14.8 L468.1,14.7 L469.6,14.6 L471.1,14.6 L472.6,14.5 L474.1,14.4 L475.6,14.4 L477.1,14.3 L478.6,14.3 L480.1,14.2 L481.6,14.2 L483.1,14.1 L484.6,14.1 L486.1,14.1 L487.6,14.0 L489.1,14.0 L490.6,13.9 L492.1,13.9 L493.6,13.9 L495.1,13.8 L496.6,13.8 L498.1,13.8 L499.6,13.7 L501.1,13.7 L502.6,13.7 L504.1,13.7 L505.6,13.6 L507.1,13.6 L508.6,13.6 L510.1,13.6 L511.6,13.6 L513.1,13.6 L514.6,13.5 L516.1,13.5 L517.6,13.5 L519.1,13.5 L520.6,13.5 L522.1,13.5 L523.6,13.5 L525.1,13.5 L526.6,13.5 L528.1,13.5 L529.6,13.4 L531.1,13.4 L532.6,13.4 L534.1,13.4 L535.6,13.4 L537.1,13.4 L538.6,13.4 L540.1,13.4 L541.6,13.4 L543.1,13.4 L544.6,13.4 L546.1,13.4 L547.6,13.4 L549.1,13.4 L550.6,13.4 L552.1,13.4 L553.6,13.4 L555.1,13.4 L556.6,13.4 L558.1,13.4 L559.6,13.4 L561.1,13.4 L562.6,13.5 L564.1,13.5 L565.6,13.5 L567.1,13.5 L568.6,13.5 L570.1,13.5 L571.6,13.5 L573.1,13.5 L574.6,13.5 L576.1,13.5 L577.6,13.5 L579.1,13.5 L580.6,13.5 L582.1,13.5 L583.6,13.5 L585.1,13.5 L586.6,13.5 L588.1,13.5 L589.6,13.5 L591.1,13.5 L592.6,13.5 L594.1,13.5 L595.6,13.5 L597.1,13.4 L598.6,13.4 L600.1,13.4 L601.6,13.4 L603.1,13.4 L604.6,13.4 L606.1,13.4 L607.6,13.4 L609.1,13.4 L610.6,13.4 L612.1,13.3 L613.6,13.3 L615.1,13.3 L616.6,13.3 L618.1,13.3 L619.6,13.2 L621.1,13.2 L622.6,13.2 L624.1,13.2 L625.6,13.1 L627.1,13.1 L628.6,13.1 L630.1,13.0 L631.6,13.0 L633.1,13.0 L634.6,12.9 L636.1,12.9 L637.6,12.9 L639.1,12.8 L640.6,12.8 L642.1,12.7 L643.6,12.7 L645.1,12.6 L646.6,12.6 L648.1,12.5 L649.6,12.5 L651.1,12.4 L652.6,12.3 L654.1,12.3 L655.6,12.2 L657.1,12.2 L659.1,12.1"/>
<path d="M94.6,274.3 L96.1,274.3 L97.6,274.1 L99.1,273.8 L100.6,273.6 L102.1,273.3 L103.6,273.0 L105.1,272.8 L106.6,272.5 L108.1,272.2 L109.6,271.9 L111.1,271.6 L112.6,271.3 L114.1,270.9 L115.6,270.6 L117.1,270.2 L118.6,269.8 L120.1,269.4 L121.6,269.0 L123.1,268.6 L124.6,268.2 L126.1,267.7 L127.6,267.2 L129.1,266.7 L130.6,266.2 L132.1,265.6 L133.6,265.0 L135.1,264.4 L136.6,263.8 L138.1,263.1 L139.6,262.4 L141.1,261.7 L142.6,260.9 L144.1,260.2 L145.6,259.3 L147.1,258.5 L148.6,257.6 L150.1,256.7 L151.6,255.7 L153.1,254.7 L154.6,253.7 L156.1,252.6 L157.6,251.5 L159.1,250.4 L160.6,249.2 L162.1,247.9 L163.6,246.6 L165.1,245.3 L166.6,243.9 L168.1,242.5 L169.6,241.1 L171.1,239.6 L172.6,238.0 L174.1,236.4 L175.6,234.8 L177.1,233.1 L178.6,231.4 L180.1,229.7 L181.6,227.9 L183.1,226.1 L184.6,224.2 L186.1,222.3 L187.6,220.3 L189.1,218.4 L190.6,216.4 L192.1,214.3 L193.6,212.2 L195.1,210.1 L196.6,207.9 L198.1,205.8 L199.6,203.5 L201.1,201.3 L202.6,199.0 L204.1,196.7 L205.6,194.3 L207.1,192.0 L208.6,189.6 L210.1,187.2 L211.6,184.7 L213.1,182.2 L214.6,179.7 L216.1,177.2 L217.6,174.7 L219.1,172.1 L220.6,169.6 L222.1,167.0 L223.6,164.4 L225.1,161.7 L226.6,159.1 L228.1,156.4 L229.6,153.8 L231.1,151.1 L232.6,148.5 L234.1,145.8 L235.6,143.2 L237.1,140.6 L238.6,138.0 L240.1,135.4 L241.6,132.9 L243.1,130.4 L244.6,127.9 L246.1,125.4 L247.6,123.0 L249.1,120.5 L250.6,118.1 L252.1,115.8 L253.6,113.4 L255.1,111.1 L256.6,108.8 L258.1,106.6 L259.6,104.3 L261.1,102.1 L262.6,100.0 L264.1,97.8 L265.6,95.7 L267.1,93.6 L268.6,91.5 L270.1,89.5 L271.6,87.5 L273.1,85.6 L274.6,83.6 L276.1,81.7 L277.6,79.9 L279.1,78.0 L280.6,76.2 L282.1,74.5 L283.6,72.8 L285.1,71.1 L286.6,69.4 L288.1,67.8 L289.6,66.2 L291.1,64.7 L292.6,63.1 L294.1,61.7 L295.6,60.2 L297.1,58.8 L298.6,57.5 L300.1,56.2 L301.6,54.9 L303.1,53.6 L304.6,52.4 L306.1,51.3 L307.6,50.2 L309.1,49.1 L310.6,48.0 L312.1,47.0 L313.6,46.0 L315.1,45.0 L316.6,44.1 L318.1,43.2 L319.6,42.3 L321.1,41.5 L322.6,40.7 L324.1,39.9 L325.6,39.2 L327.1,38.5 L328.6,37.8 L330.1,37.1 L331.6,36.4 L333.1,35.8 L334.6,35.2 L336.1,34.6 L337.6,34.1 L339.1,33.5 L340.6,33.0 L342.1,32.5 L343.6,32.0 L345.1,31.6 L346.6,31.1 L348.1,30.7 L349.6,30.3 L351.1,29.9 L352.6,29.5 L354.1,29.1 L355.6,28.8 L357.1,28.4 L358.6,28.1 L360.1,27.8 L361.6,27.4 L363.1,27.1 L364.6,26.8 L366.1,26.5 L367.6,26.2 L369.1,25.9 L370.6,25.7 L372.1,25.4 L373.6,25.1 L375.1,24.8 L376.6,24.6 L378.1,24.3 L379.6,24.1 L381.1,23.8 L382.6,23.6 L384.1,23.3 L385.6,23.1 L387.1,22.8 L388.6,22.6 L390.1,22.4 L391.6,22.1 L393.1,21.9 L394.6,21.7 L396.1,21.5 L397.6,21.3 L399.1,21.1 L400.6,20.9 L402.1,20.7 L403.6,20.5 L405.1,20.3 L406.6,20.1 L408.1,19.9 L409.6,19.7 L411.1,19.5 L412.6,19.4 L414.1,19.2 L415.6,19.0 L417.1,18.9 L418.6,18.7 L420.1,18.5 L421.6,18.4 L423.1,18.2 L424.6,18.1 L426.1,17.9 L427.6,17.8 L429.1,17.7 L430.6,17.5 L432.1,17.4 L433.6,17.3 L435.1,17.1 L436.6,17.0 L438.1,16.9 L439.6,16.8 L441.1,16.7 L442.6,16.6 L444.1,16.4 L445.6,16.3 L447.1,16.2 L448.6,16.1 L450.1,16.0 L451.6,15.9 L453.1,15.9 L454.6,15.8 L456.1,15.7 L457.6,15.6 L459.1,15.5 L460.6,15.4 L462.1,15.3 L463.6,15.3 L465.1,15.2 L466.6,15.1 L468.1,15.1 L469.6,15.0 L471.1,14.9 L472.6,14.9 L474.1,14.8 L475.6,14.7 L477.1,14.7 L478.6,14.6 L480.1,14.6 L481.6,14.5 L483.1,14.5 L484.6,14.4 L486.1,14.4 L487.6,14.3 L489.1,14.3 L490.6,14.3 L492.1,14.2 L493.6,14.2 L495.1,14.1 L496.6,14.1 L498.1,14.1 L499.6,14.1 L501.1,14.0 L502.6,14.0 L504.1,14.0 L505.6,13.9 L507.1,13.9 L508.6,13.9 L510.1,13.9 L511.6,13.9 L513.1,13.8 L514.6,13.8 L516.1,13.8 L517.6,13.8 L519.1,13.8 L520.6,13.8 L522.1,13.7 L523.6,13.7 L525.1,13.7 L526.6,13.7 L528.1,13.7 L529.6,13.7 L531.1,13.7 L532.6,13.7 L534.1,13.7 L535.6,13.7 L537.1,13.7 L538.6,13.7 L540.1,13.7 L541.6,13.6 L543.1,13.6 L544.6,13.6 L546.1,13.6 L547.6,13.6 L549.1,13.6 L550.6,13.6 L552.1,13.6 L553.6,13.6 L555.1,13.6 L556.6,13.6 L558.1,13.6 L559.6,13.6 L561.1,13.6 L562.6,13.6 L564.1,13.6 L565.6,13.6 L567.1,13.6 L568.6,13.6 L570.1,13.6 L571.6,13.6 L573.1,13.6 L574.6,13.6 L576.1,13.6 L577.6,13.6 L579.1,13.6 L580.6,13.6 L582.1,13.6 L583.6,13.6 L585.1,13.6 L586.6,13.6 L588.1,13.6 L589.6,13.6 L591.1,13.6 L592.6,13.6 L594.1,13.6 L595.6,13.6 L597.1,13.6 L598.6,13.6 L600.1,13.5 L601.6,13.5 L603.1,13.5 L604.6,13.5 L606.1,13.5 L607.6,13.5 L609.1,13.5 L610.6,13.4 L612.1,13.4 L613.6,13.4 L615.1,13.4 L616.6,13.4 L618.1,13.3 L619.6,13.3 L621.1,13.3 L622.6,13.3 L624.1,13.2 L625.6,13.2 L627.1,13.2 L628.6,13.1 L630.1,13.1 L631.6,13.1 L633.1,13.0 L634.6,13.0 L636.1,12.9 L637.6,12.9 L639.1,12.9 L640.6,12.8 L642.1,12.8 L643.6,12.7 L645.1,12.7 L646.6,12.6 L648.1,12.5 L649.6,12.5 L651.1,12.4 L652.6,12.4 L654.1,12.3 L655.6,12.2 L657.1,12.2 L659.1,12.1"/>
<path d="M94.6,274.3 L96.1,274.3 L97.6,274.1 L99.1,273.8 L100.6,273.6 L102.1,273.3 L103.6,273.0 L105.1,272.8 L106.6,272.5 L108.1,272.2 L109.6,271.9 L111.1,271.6 L112.6,271.3 L114.1,270.9 L115.6,270.6 L117.1,270.2 L118.6,269.8 L120.1,269.4 L121.6,269.0 L123.1,268.6 L124.6,268.1 L126.1,267.7 L127.6,267.2 L129.1,266.7 L130.6,266.1 L132.1,265.6 L133.6,265.0 L135.1,264.4 L136.6,263.7 L138.1,263.1 L139.6,262.4 L141.1,261.7 L142.6,260.9 L144.1,260.1 L145.6,259.3 L147.1,258.4 L148.6,257.5 L150.1,256.6 L151.6,255.7 L153.1,254.7 L154.6,253.6 L156.1,252.6 L157.6,251.4 L159.1,250.3 L160.6,249.1 L162.1,247.8 L163.6,246.5 L165.1,245.2 L166.6,243.8 L168.1,242.4 L169.6,240.9 L171.1,239.4 L172.6,237.9 L174.1,236.3 L175.6,234.6 L177.1,232.9 L178.6,231.2 L180.1,229.5 L181.6,227.7 L183.1,225.8 L184.6,224.0 L186.1,222.0 L187.6,220.1 L189.1,218.1 L190.6,216.1 L192.1,214.0 L193.6,211.9 L195.1,209.8 L196.6,207.6 L198.1,205.4 L199.6,203.2 L201.1,200.9 L202.6,198.6 L204.1,196.3 L205.6,193.9 L207.1,191.5 L208.6,189.1 L210.1,186.7 L211.6,184.2 L213.1,181.7 L214.6,179.2 L216.1,176.7 L217.6,174.1 L219.1,171.6 L220.6,169.0 L222.1,166.4 L223.6,163.7 L225.1,161.1 L226.6,158.4 L228.1,155.8 L229.6,153.1 L231.1,150.4 L232.6,147.8 L234.1,145.1 L235.6,142.5 L237.1,139.9 L238.6,137.3 L240.1,134.7 L241.6,132.1 L243.1,129.6 L244.6,127.1 L246.1,124.6 L247.6,122.1 L249.1,119.7 L250.6,117.3 L252.1,114.9 L253.6,112.5 L255.1,110.2 L256.6,107.9 L258.1,105.6 L259.6,103.4 L261.1,101.2 L262.6,99.0 L264.1,96.8 L265.6,94.7 L267.1,92.6 L268.6,90.6 L270.1,88.5 L271.6,86.5 L273.1,84.6 L274.6,82.6 L276.1,80.7 L277.6,78.9 L279.1,77.0 L280.6,75.2 L282.1,73.5 L283.6,71.7 L285.1,70.0 L286.6,68.4 L288.1,66.8 L289.6,65.2 L291.1,63.6 L292.6,62.1 L294.1,60.6 L295.6,59.2 L297.1,57.8 L298.6,56.5 L300.1,55.1 L301.6,53.9 L303.1,52.6 L304.6,51.4 L306.1,50.3 L307.6,49.1 L309.1,48.0 L310.6,47.0 L312.1,46.0 L313.6,45.0 L315.1,44.0 L316.6,43.1 L318.1,42.2 L319.6,41.4 L321.1,40.5 L322.6,39.7 L324.1,39.0 L325.6,38.2 L327.1,37.5 L328.6,36.8 L330.1,36.1 L331.6,35.5 L333.1,34.9 L334.6,34.3 L336.1,33.7 L337.6,33.2 L339.1,32.7 L340.6,32.1 L342.1,31.7 L343.6,31.2 L345.1,30.7 L346.6,30.3 L348.1,29.9 L349.6,29.5 L351.1,29.1 L352.6,28.7 L354.1,28.3 L355.6,28.0 L357.1,27.6 L358.6,27.3 L360.1,27.0 L361.6,26.7 L363.1,26.4 L364.6,26.1 L366.1,25.8 L367.6,25.5 L369.1,25.2 L370.6,24.9 L372.1,24.7 L373.6,24.4 L375.1,24.2 L376.6,23.9 L378.1,23.6 L379.6,23.4 L381.1,23.2 L382.6,22.9 L384.1,22.7 L385.6,22.4 L387.1,22.2 L388.6,22.0 L390.1,21.8 L391.6,21.6 L393.1,21.3 L394.6,21.1 L396.1,20.9 L397.6,20.7 L399.1,20.5 L400.6,20.3 L402.1,20.1 L403.6,20.0 L405.1,19.8 L406.6,19.6 L408.1,19.4 L409.6,19.3 L411.1,19.1 L412.6,18.9 L414.1,18.8 L415.6,18.6 L417.1,18.4 L418.6,18.3 L420.1,18.1 L421.6,18.0 L423.1,17.8 L424.6,17.7 L426.1,17.6 L427.6,17.4 L429.1,17.3 L430.6,17.2 L432.1,17.0 L433.6,16.9 L435.1,16.8 L436.6,16.7 L438.1,16.6 L439.6,16.5 L441.1,16.3 L442.6,16.2 L444.1,16.1 L445.6,16.0 L447.1,15.9 L448.6,15.8 L450.1,15.7 L451.6,15.6 L453.1,15.6 L454.6,15.5 L456.1,15.4 L457.6,15.3 L459.1,15.2 L460.6,15.1 L462.1,15.1 L463.6,15.0 L465.1,14.9 L466.6,14.9 L468.1,14.8 L469.6,14.7 L471.1,14.7 L472.6,14.6 L474.1,14.6 L475.6,14.5 L477.1,14.4 L478.6,14.4 L480.1,14.3 L481.6,14.3 L483.1,14.3 L484.6,14.2 L486.1,14.2 L487.6,14.1 L489.1,14.1 L490.6,14.0 L492.1,14.0 L493.6,14.0 L495.1,13.9 L496.6,13.9 L498.1,13.9 L499.6,13.9 L501.1,13.8 L502.6,13.8 L504.1,13.8 L505.6,13.8 L507.1,13.7 L508.6,13.7 L510.1,13.7 L511.6,13.7 L513.1,13.7 L514.6,13.6 L516.1,13.6 L517.6,13.6 L519.1,13.6 L520.6,13.6 L522.1,13.6 L523.6,13.6 L525.1,13.6 L526.6,13.6 L528.1,13.5 L529.6,13.5 L531.1,13.5 L532.6,13.5 L534.1,13.5 L535.6,13.5 L537.1,13.5 L538.6,13.5 L540.1,13.5 L541.6,13.5 L543.1,13.5 L544.6,13.5 L546.1,13.5 L547.6,13.5 L549.1,13.5 L550.6,13.5 L552.1,13.5 L553.6,13.5 L555.1,13.5 L556.6,13.5 L558.1,13.5 L559.6,13.5 L561.1,13.5 L562.6,13.5 L564.1,13.5 L565.6,13.5 L567.1,13.5 L568.6,13.5 L570.1,13.5 L571.6,13.5 L573.1,13.5 L574.6,13.5 L576.1,13.5 L577.6,13.6 L579.1,13.6 L580.6,13.5 L582.1,13.5 L583.6,13.5 L585.1,13.5 L586.6,13.5 L588.1,13.5 L589.6,13.5 L591.1,13.5 L592.6,13.5 L594.1,13.5 L595.6,13.5 L597.1,13.5 L598.6,13.5 L600.1,13.5 L601.6,13.5 L603.1,13.5 L604.6,13.5 L606.1,13.4 L607.6,13.4 L609.1,13.4 L610.6,13.4 L612.1,13.4 L613.6,13.4 L615.1,13.3 L616.6,13.3 L618.1,13.3 L619.6,13.3 L621.1,13.2 L622.6,13.2 L624.1,13.2 L625.6,13.2 L627.1,13.1 L628.6,13.1 L630.1,13.1 L631.6,13.0 L633.1,13.0 L634.6,13.0 L636.1,12.9 L637.6,12.9 L639.1,12.8 L640.6,12.8 L642.1,12.7 L643.6,12.7 L645.1,12.6 L646.6,12.6 L648.1,12.5 L649.6,12.5 L651.1,12.4 L652.6,12.4 L654.1,12.3 L655.6,12.2 L657.1,12.2 L659.1,12.1"/>
<path d="M94.6,274.3 L96.1,274.3 L97.6,274.1 L99.1,273.8 L100.6,273.6 L102.1,273.3 L103.6,273.0 L105.1,272.8 L106.6,272.5 L108.1,272.2 L109.6,271.9 L111.1,271.6 L112.6,271.3 L114.1,270.9 L115.6,270.6 L117.1,270.2 L118.6,269.8 L120.1,269.5 L121.6,269.0 L123.1,268.6 L124.6,268.2 L126.1,267.7 L127.6,267.2 L129.1,266.7 L130.6,266.2 L132.1,265.6 L133.6,265.0 L135.1,264.4 L136.6,263.8 L138.1,263.1 L139.6,262.4 L141.1,261.7 L142.6,260.9 L144.1,260.2 L145.6,259.3 L147.1,258.5 L148.6,257.6 L150.1,256.7 L151.6,255.7 L153.1,254.7 L154.6,253.7 L156.1,252.6 L157.6,251.5 L159.1,250.3 L160.6,249.1 L162.1,247.9 L163.6,246.6 L165.1,245.3 L166.6,243.9 L168.1,242.5 L169.6,241.0 L171.1,239.5 L172.6,238.0 L174.1,236.4 L175.6,234.7 L177.1,233.0 L178.6,231.3 L180.1,229.6 L181.6,227.8 L183.1,225.9 L184.6,224.1 L186.1,222.1 L187.6,220.2 L189.1,218.2 L190.6,216.2 L192.1,214.1 L193.6,212.0 L195.1,209.9 L196.6,207.7 L198.1,205.5 L199.6,203.3 L201.1,201.0 L202.6,198.7 L204.1,196.3 L205.6,194.0 L207.1,191.6 L208.6,189.2 L210.1,186.7 L211.6,184.3 L213.1,181.8 L214.6,179.2 L216.1,176.7 L217.6,174.1 L219.1,171.6 L220.6,169.0 L222.1,166.3 L223.6,163.7 L225.1,161.0 L226.6,158.4 L228.1,155.7 L229.6,153.0 L231.1,150.3 L232.6,147.7 L234.1,145.0 L235.6,142.3 L237.1,139.7 L238.6,137.1 L240.1,134.5 L241.6,131.9 L243.1,129.3 L244.6,126.8 L246.1,124.3 L247.6,121.8 L249.1,119.3 L250.6,116.9 L252.1,114.5 L253.6,112.1 L255.1,109.8 L256.6,107.4 L258.1,105.2 L259.6,102.9 L261.1,100.6 L262.6,98.4 L264.1,96.3 L265.6,94.1 L267.1,92.0 L268.6,89.9 L270.1,87.9 L271.6,85.8 L273.1,83.8 L274.6,81.9 L276.1,80.0 L277.6,78.1 L279.1,76.2 L280.6,74.4 L282.1,72.6 L283.6,70.8 L285.1,69.1 L286.6,67.4 L288.1,65.8 L289.6,64.2 L291.1,62.6 L292.6,61.1 L294.1,59.6 L295.6,58.1 L297.1,56.7 L298.6,55.3 L300.1,54.0 L301.6,52.7 L303.1,51.5 L304.6,50.2 L306.1,49.1 L307.6,47.9 L309.1,46.8 L310.6,45.7 L312.1,44.7 L313.6,43.7 L315.1,42.7 L316.6,41.8 L318.1,40.9 L319.6,40.0 L321.1,39.2 L322.6,38.4 L324.1,37.6 L325.6,36.8 L327.1,36.1 L328.6,35.4 L330.1,34.7 L331.6,34.1 L333.1,33.5 L334.6,32.9 L336.1,32.3 L337.6,31.8 L339.1,31.2 L340.6,30.7 L342.1,30.2 L343.6,29.8 L345.1,29.3 L346.6,28.9 L348.1,28.5 L349.6,28.1 L351.1,27.7 L352.6,27.3 L354.1,26.9 L355.6,26.6 L357.1,26.3 L358.6,25.9 L360.1,25.6 L361.6,25.3 L363.1,25.0 L364.6,24.7 L366.1,24.4 L367.6,24.2 L369.1,23.9 L370.6,23.6 L372.1,23.4 L373.6,23.1 L375.1,22.8 L376.6,22.6 L378.1,22.4 L379.6,22.1 L381.1,21.9 L382.6,21.7 L384.1,21.4 L385.6,21.2 L387.1,21.0 L388.6,20.8 L390.1,20.6 L391.6,20.4 L393.1,20.2 L394.6,20.0 L396.1,19.8 L397.6,19.6 L399.1,19.4 L400.6,19.3 L402.1,19.1 L403.6,18.9 L405.1,18.7 L406.6,18.6 L408.1,18.4 L409.6,18.3 L411.1,18.1 L412.6,18.0 L414.1,17.8 L415.6,17.7 L417.1,17.5 L418.6,17.4 L420.1,17.3 L421.6,17.1 L423.1,17.0 L424.6,16.9 L426.1,16.8 L427.6,16.6 L429.1,16.5 L430.6,16.4 L432.1,16.3 L433.6,16.2 L435.1,16.1 L436.6,16.0 L438.1,15.9 L439.6,15.8 L441.1,15.7 L442.6,15.6 L444.1,15.5 L445.6,15.4 L447.1,15.3 L448.6,15.2 L450.1,15.1 L451.6,15.0 L453.1,15.0 L454.6,14.9 L456.1,14.8 L457.6,14.7 L459.1,14.7 L460.6,14.6 L462.1,14.5 L463.6,14.5 L465.1,14.4 L466.6,14.3 L468.1,14.3 L469.6,14.2 L471.1,14.2 L472.6,14.1 L474.1,14.1 L475.6,14.0 L477.1,14.0 L478.6,13.9 L480.1,13.9 L481.6,13.9 L483.1,13.8 L484.6,13.8 L486.1,13.7 L487.6,13.7 L489.1,13.7 L490.6,13.6 L492.1,13.6 L493.6,13.6 L495.1,13.6 L496.6,13.5 L498.1,13.5 L499.6,13.5 L501.1,13.5 L502.6,13.4 L504.1,13.4 L505.6,13.4 L507.1,13.4 L508.6,13.4 L510.1,13.4 L511.6,13.4 L513.1,13.3 L514.6,13.3 L516.1,13.3 L517.6,13.3 L519.1,13.3 L520.6,13.3 L522.1,13.3 L523.6,13.3 L525.1,13.3 L526.6,13.3 L528.1,13.3 L529.6,13.3 L531.1,13.3 L532.6,13.3 L534.1,13.3 L535.6,13.3 L537.1,13.3 L538.6,13.3 L540.1,13.3 L541.6,13.3 L543.1,13.3 L544.6,13.3 L546.1,13.3 L547.6,13.3 L549.1,13.3 L550.6,13.3 L552.1,13.3 L553.6,13.3 L555.1,13.3 L556.6,13.3 L558.1,13.3 L559.6,13.3 L561.1,13.3 L562.6,13.4 L564.1,13.4 L565.6,13.4 L567.1,13.4 L568.6,13.4 L570.1,13.4 L571.6,13.4 L573.1,13.4 L574.6,13.4 L576.1,13.4 L577.6,13.4 L579.1,13.4 L580.6,13.4 L582.1,13.4 L583.6,13.4 L585.1,13.4 L586.6,13.4 L588.1,13.4 L589.6,13.4 L591.1,13.4 L592.6,13.4 L594.1,13.4 L595.6,13.4 L597.1,13.4 L598.6,13.4 L600.1,13.4 L601.6,13.4 L603.1,13.4 L604.6,13.4 L606.1,13.4 L607.6,13.3 L609.1,13.3 L610.6,13.3 L612.1,13.3 L613.6,13.3 L615.1,13.3 L616.6,13.3 L618.1,13.2 L619.6,13.2 L621.1,13.2 L622.6,13.2 L624.1,13.1 L625.6,13.1 L627.1,13.1 L628.6,13.1 L630.1,13.0 L631.6,13.0 L633.1,13.0 L634.6,12.9 L636.1,12.9 L637.6,12.9 L639.1,12.8 L640.6,12.8 L642.1,12.7 L643.6,12.7 L645.1,12.6 L646.6,12.6 L648.1,12.5 L649.6,12.5 L651.1,12.4 L652.6,12.3 L654.1,12.3 L655.6,12.2 L657.1,12.2 L659.1,12.1"/>
<path d="M94.6,274.3 L96.1,274.3 L97.6,274.1 L99.1,273.8 L100.6,273.6 L102.1,273.3 L103.6,273.0 L105.1,272.8 L106.6,272.5 L108.1,272.2 L109.6,271.9 L111.1,271.6 L112.6,271.2 L114.1,270.9 L115.6,270.5 L117.1,270.2 L118.6,269.8 L120.1,269.4 L121.6,269.0 L123.1,268.5 L124.6,268.1 L126.1,267.6 L127.6,267.1 L129.1,266.6 L130.6,266.1 L132.1,265.5 L133.6,264.9 L135.1,264.3 L136.6,263.6 L138.1,263.0 L139.6,262.3 L141.1,261.5 L142.6,260.8 L144.1,260.0 L145.6,259.2 L147.1,258.3 L148.6,257.4 L150.1,256.5 L151.6,255.5 L153.1,254.5 L154.6,253.5 L156.1,252.4 L157.6,251.2 L159.1,250.1 L160.6,248.9 L162.1,247.6 L163.6,246.3 L165.1,244.9 L166.6,243.5 L168.1,242.1 L169.6,240.6 L171.1,239.1 L172.6,237.5 L174.1,235.9 L175.6,234.2 L177.1,232.5 L178.6,230.8 L180.1,229.0 L181.6,227.2 L183.1,225.3 L184.6,223.4 L186.1,221.5 L187.6,219.5 L189.1,217.5 L190.6,215.4 L192.1,213.3 L193.6,211.2 L195.1,209.1 L196.6,206.9 L198.1,204.6 L199.6,202.4 L201.1,200.1 L202.6,197.7 L204.1,195.4 L205.6,193.0 L207.1,190.6 L208.6,188.1 L210.1,185.7 L211.6,183.2 L213.1,180.7 L214.6,178.1 L216.1,175.6 L217.6,173.0 L219.1,170.4 L220.6,167.8 L222.1,165.1 L223.6,162.5 L225.1,159.8 L226.6,157.1 L228.1,154.4 L229.6,151.7 L231.1,149.1 L232.6,146.4 L234.1,143.7 L235.6,141.0 L237.1,138.4 L238.6,135.7 L240.1,133.1 L241.6,130.6 L243.1,128.0 L244.6,125.5 L246.1,123.0 L247.6,120.5 L249.1,118.0 L250.6,115.6 L252.1,113.2 L253.6,110.8 L255.1,108.4 L256.6,106.1 L258.1,103.8 L259.6,101.6 L261.1,99.4 L262.6,97.2 L264.1,95.0 L265.6,92.9 L267.1,90.8 L268.6,88.7 L270.1,86.7 L271.6,84.7 L273.1,82.7 L274.6,80.8 L276.1,78.9 L277.6,77.0 L279.1,75.1 L280.6,73.3 L282.1,71.6 L283.6,69.8 L285.1,68.1 L286.6,66.5 L288.1,64.9 L289.6,63.3 L291.1,61.7 L292.6,60.2 L294.1,58.8 L295.6,57.3 L297.1,56.0 L298.6,54.6 L300.1,53.3 L301.6,52.0 L303.1,50.8 L304.6,49.6 L306.1,48.5 L307.6,47.4 L309.1,46.3 L310.6,45.2 L312.1,44.2 L313.6,43.2 L315.1,42.3 L316.6,41.4 L318.1,40.5 L319.6,39.7 L321.1,38.9 L322.6,38.1 L324.1,37.3 L325.6,36.6 L327.1,35.9 L328.6,35.2 L330.1,34.6 L331.6,34.0 L333.1,33.4 L334.6,32.8 L336.1,32.3 L337.6,31.7 L339.1,31.2 L340.6,30.8 L342.1,30.3 L343.6,29.8 L345.1,29.4 L346.6,29.0 L348.1,28.6 L349.6,28.2 L351.1,27.8 L352.6,27.5 L354.1,27.1 L355.6,26.8 L357.1,26.5 L358.6,26.2 L360.1,25.9 L361.6,25.6 L363.1,25.3 L364.6,25.0 L366.1,24.8 L367.6,24.5 L369.1,24.2 L370.6,24.0 L372.1,23.7 L373.6,23.5 L375.1,23.2 L376.6,23.0 L378.1,22.8 L379.6,22.5 L381.1,22.3 L382.6,22.1 L384.1,21.9 L385.6,21.7 L387.1,21.4 L388.6,21.2 L390.1,21.0 L391.6,20.8 L393.1,20.6 L394.6,20.5 L396.1,20.3 L397.6,20.1 L399.1,19.9 L400.6,19.7 L402.1,19.6 L403.6,19.4 L405.1,19.2 L406.6,19.1 L408.1,18.9 L409.6,18.7 L411.1,18.6 L412.6,18.4 L414.1,18.3 L415.6,18.1 L417.1,18.0 L418.6,17.9 L420.1,17.7 L421.6,17.6 L423.1,17.5 L424.6,17.3 L426.1,17.2 L427.6,17.1 L429.1,17.0 L430.6,16.8 L432.1,16.7 L433.6,16.6 L435.1,16.5 L436.6,16.4 L438.1,16.3 L439.6,16.2 L441.1,16.1 L442.6,16.0 L444.1,15.9 L445.6,15.8 L447.1,15.7 L448.6,15.6 L450.1,15.5 L451.6,15.4 L453.1,15.3 L454.6,15.3 L456.1,15.2 L457.6,15.1 L459.1,15.0 L460.6,15.0 L462.1,14.9 L463.6,14.8 L465.1,14.8 L466.6,14.7 L468.1,14.6 L469.6,14.6 L471.1,14.5 L472.6,14.5 L474.1,14.4 L475.6,14.4 L477.1,14.3 L478.6,14.3 L480.1,14.2 L481.6,14.2 L483.1,14.1 L484.6,14.1 L486.1,14.0 L487.6,14.0 L489.1,14.0 L490.6,13.9 L492.1,13.9 L493.6,13.9 L495.1,13.8 L496.6,13.8 L498.1,13.8 L499.6,13.8 L501.1,13.7 L502.6,13.7 L504.1,13.7 L505.6,13.7 L507.1,13.6 L508.6,13.6 L510.1,13.6 L511.6,13.6 L513.1,13.6 L514.6,13.6 L516.1,13.6 L517.6,13.5 L519.1,13.5 L520.6,13.5 L522.1,13.5 L523.6,13.5 L525.1,13.5 L526.6,13.5 L528.1,13.5 L529.6,13.5 L531.1,13.5 L532.6,13.5 L534.1,13.5 L535.6,13.5 L537.1,13.5 L538.6,13.5 L540.1,13.5 L541.6,13.5 L543.1,13.5 L544.6,13.5 L546.1,13.5 L547.6,13.5 L549.1,13.5 L550.6,13.5 L552.1,13.5 L553.6,13.5 L555.1,13.5 L556.6,13.5 L558.1,13.5 L559.6,13.5 L561.1,13.5 L562.6,13.5 L564.1,13.5 L565.6,13.5 L567.1,13.5 L568.6,13.5 L570.1,13.5 L571.6,13.5 L573.1,13.5 L574.6,13.5 L576.1,13.5 L577.6,13.5 L579.1,13.5 L580.6,13.5 L582.1,13.5 L583.6,13.5 L585.1,13.5 L586.6,13.5 L588.1,13.5 L589.6,13.5 L591.1,13.5 L592.6,13.5 L594.1,13.5 L595.6,13.5 L597.1,13.5 L598.6,13.5 L600.1,13.5 L601.6,13.5 L603.1,13.4 L604.6,13.4 L606.1,13.4 L607.6,13.4 L609.1,13.4 L610.6,13.4 L612.1,13.4 L613.6,13.3 L615.1,13.3 L616.6,13.3 L618.1,13.3 L619.6,13.3 L621.1,13.2 L622.6,13.2 L624.1,13.2 L625.6,13.1 L627.1,13.1 L628.6,13.1 L630.1,13.1 L631.6,13.0 L633.1,13.0 L634.6,12.9 L636.1,12.9 L637.6,12.9 L639.1,12.8 L640.6,12.8 L642.1,12.7 L643.6,12.7 L645.1,12.6 L646.6,12.6 L648.1,12.5 L649.6,12.5 L651.1,12.4 L652.6,12.3 L654.1,12.3 L655.6,12.2 L657.1,12.2 L659.1,12.1"/>
<path d="M94.6,274.3 L96.1,274.3 L97.6,274.1 L99.1,273.8 L100.6,273.6 L102.1,273.3 L103.6,273.0 L105.1,272.8 L106.6,272.5 L108.1,272.2 L109.6,271.9 L111.1,271.6 L112.6,271.2 L114.1,270.9 L115.6,270.6 L117.1,270.2 L118.6,269.8 L120.1,269.4 L121.6,269.0 L123.1,268.6 L124.6,268.1 L126.1,267.6 L127.6,267.1 L129.1,266.6 L130.6,266.1 L132.1,265.5 L133.6,264.9 L135.1,264.3 L136.6,263.7 L138.1,263.0 L139.6,262.3 L141.1,261.6 L142.6,260.8 L144.1,260.0 L145.6,259.2 L147.1,258.3 L148.6,257.4 L150.1,256.5 L151.6,255.5 L153.1,254.5 L154.6,253.5 L156.1,252.4 L157.6,251.3 L159.1,250.1 L160.6,248.9 L162.1,247.6 L163.6,246.3 L165.1,245.0 L166.6,243.6 L168.1,242.1 L169.6,240.7 L171.1,239.1 L172.6,237.6 L174.1,235.9 L175.6,234.3 L177.1,232.6 L178.6,230.9 L180.1,229.1 L181.6,227.3 L183.1,225.4 L184.6,223.5 L186.1,221.6 L187.6,219.6 L189.1,217.6 L190.6,215.5 L192.1,213.4 L193.6,211.3 L195.1,209.1 L196.6,206.9 L198.1,204.7 L199.6,202.4 L201.1,200.1 L202.6,197.7 L204.1,195.4 L205.6,193.0 L207.1,190.6 L208.6,188.1 L210.1,185.7 L211.6,183.2 L213.1,180.6 L214.6,178.1 L216.1,175.5 L217.6,172.9 L219.1,170.3 L220.6,167.7 L222.1,165.0 L223.6,162.4 L225.1,159.7 L226.6,157.0 L228.1,154.3 L229.6,151.6 L231.1,148.9 L232.6,146.2 L234.1,143.5 L235.6,140.8 L237.1,138.2 L238.6,135.5 L240.1,132.9 L241.6,130.3 L243.1,127.7 L244.6,125.2 L246.1,122.7 L247.6,120.1 L249.1,117.7 L250.6,115.2 L252.1,112.8 L253.6,110.4 L255.1,108.0 L256.6,105.7 L258.1,103.4 L259.6,101.1 L261.1,98.9 L262.6,96.7 L264.1,94.5 L265.6,92.3 L267.1,90.2 L268.6,88.1 L270.1,86.1 L271.6,84.1 L273.1,82.1 L274.6,80.1 L276.1,78.2 L277.6,76.3 L279.1,74.4 L280.6,72.6 L282.1,70.8 L283.6,69.1 L285.1,67.4 L286.6,65.7 L288.1,64.1 L289.6,62.5 L291.1,60.9 L292.6,59.4 L294.1,57.9 L295.6,56.5 L297.1,55.1 L298.6,53.7 L300.1,52.4 L301.6,51.1 L303.1,49.9 L304.6,48.6 L306.1,47.5 L307.6,46.4 L309.1,45.3 L310.6,44.2 L312.1,43.2 L313.6,42.2 L315.1,41.3 L316.6,40.3 L318.1,39.4 L319.6,38.6 L321.1,37.8 L322.6,37.0 L324.1,36.2 L325.6,35.5 L327.1,34.8 L328.6,34.1 L330.1,33.5 L331.6,32.8 L333.1,32.3 L334.6,31.7 L336.1,31.1 L337.6,30.6 L339.1,30.1 L340.6,29.6 L342.1,29.2 L343.6,28.7 L345.1,28.3 L346.6,27.9 L348.1,27.5 L349.6,27.1 L351.1,26.8 L352.6,26.4 L354.1,26.1 L355.6,25.7 L357.1,25.4 L358.6,25.1 L360.1,24.8 L361.6,24.5 L363.1,24.2 L364.6,24.0 L366.1,23.7 L367.6,23.4 L369.1,23.2 L370.6,22.9 L372.1,22.7 L373.6,22.5 L375.1,22.2 L376.6,22.0 L378.1,21.8 L379.6,21.5 L381.1,21.3 L382.6,21.1 L384.1,20.9 L385.6,20.7 L387.1,20.5 L388.6,20.3 L390.1,20.1 L391.6,19.9 L393.1,19.8 L394.6,19.6 L396.1,19.4 L397.6,19.2 L399.1,19.1 L400.6,18.9 L402.1,18.7 L403.6,18.6 L405.1,18.4 L406.6,18.3 L408.1,18.1 L409.6,18.0 L411.1,17.8 L412.6,17.7 L414.1,17.6 L415.6,17.4 L417.1,17.3 L418.6,17.2 L420.1,17.1 L421.6,16.9 L423.1,16.8 L424.6,16.7 L426.1,16.6 L427.6,16.5 L429.1,16.4 L430.6,16.3 L432.1,16.1 L433.6,16.0 L435.1,15.9 L436.6,15.8 L438.1,15.7 L439.6,15.6 L441.1,15.5 L442.6,15.4 L444.1,15.4 L445.6,15.3 L447.1,15.2 L448.6,15.1 L450.1,15.0 L451.6,14.9 L453.1,14.9 L454.6,14.8 L456.1,14.7 L457.6,14.7 L459.1,14.6 L460.6,14.5 L462.1,14.5 L463.6,14.4 L465.1,14.3 L466.6,14.3 L468.1,14.2 L469.6,14.2 L471.1,14.1 L472.6,14.1 L474.1,14.0 L475.6,14.0 L477.1,13.9 L478.6,13.9 L480.1,13.9 L481.6,13.8 L483.1,13.8 L484.6,13.8 L486.1,13.7 L487.6,13.7 L489.1,13.7 L490.6,13.6 L492.1,13.6 L493.6,13.6 L495.1,13.5 L496.6,13.5 L498.1,13.5 L499.6,13.5 L501.1,13.5 L502.6,13.4 L504.1,13.4 L505.6,13.4 L507.1,13.4 L508.6,13.4 L510.1,13.4 L511.6,13.4 L513.1,13.3 L514.6,13.3 L516.1,13.3 L517.6,13.3 L519.1,13.3 L520.6,13.3 L522.1,13.3 L523.6,13.3 L525.1,13.3 L526.6,13.3 L528.1,13.3 L529.6,13.3 L531.1,13.3 L532.6,13.3 L534.1,13.3 L535.6,13.3 L537.1,13.3 L538.6,13.3 L540.1,13.3 L541.6,13.3 L543.1,13.3 L544.6,13.3 L546.1,13.3 L547.6,13.3 L549.1,13.3 L550.6,13.3 L552.1,13.3 L553.6,13.3 L555.1,13.3 L556.6,13.3 L558.1,13.4 L559.6,13.4 L561.1,13.4 L562.6,13.4 L564.1,13.4 L565.6,13.4 L567.1,13.4 L568.6,13.4 L570.1,13.4 L571.6,13.4 L573.1,13.4 L574.6,13.4 L576.1,13.4 L577.6,13.4 L579.1,13.4 L580.6,13.4 L582.1,13.4 L583.6,13.4 L585.1,13.4 L586.6,13.4 L588.1,13.4 L589.6,13.4 L591.1,13.4 L592.6,13.4 L594.1,13.4 L595.6,13.4 L597.1,13.4 L598.6,13.4 L600.1,13.4 L601.6,13.4 L603.1,13.4 L604.6,13.4 L606.1,13.4 L607.6,13.4 L609.1,13.3 L610.6,13.3 L612.1,13.3 L613.6,13.3 L615.1,13.3 L616.6,13.3 L618.1,13.2 L619.6,13.2 L621.1,13.2 L622.6,13.2 L624.1,13.2 L625.6,13.1 L627.1,13.1 L628.6,13.1 L630.1,13.0 L631.6,13.0 L633.1,13.0 L634.6,12.9 L636.1,12.9 L637.6,12.9 L639.1,12.8 L640.6,12.8 L642.1,12.7 L643.6,12.7 L645.1,12.6 L646.6,12.6 L648.1,12.5 L649.6,12.5 L651.1,12.4 L652.6,12.3 L654.1,12.3 L655.6,12.2 L657.1,12.2 L659.1,12.1"/>
<path d="M94.6,274.3 L96.1,274.3 L97.6,274.1 L99.1,273.8 L100.6,273.6 L102.1,273.3 L103.6,273.0 L105.1,272.8 L106.6,272.5 L108.1,272.2 L109.6,271.9 L111.1,271.6 L112.6,271.2 L114.1,270.9 L115.6,270.6 L117.1,270.2 L118.6,269.8 L120.1,269.4 L121.6,269.0 L123.1,268.6 L124.6,268.1 L126.1,267.6 L127.6,267.1 L129.1,266.6 L130.6,266.1 L132.1,265.5 L133.6,264.9 L135.1,264.3 L136.6,263.7 L138.1,263.0 L139.6,262.3 L141.1,261.6 L142.6,260.8 L144.1,260.0 L145.6,259.2 L147.1,258.3 L148.6,257.4 L150.1,256.5 L151.6,255.5 L153.1,254.5 L154.6,253.5 L156.1,252.4 L157.6,251.3 L159.1,250.1 L160.6,248.9 L162.1,247.6 L163.6,246.3 L165.1,245.0 L166.6,243.6 L168.1,242.1 L169.6,240.6 L171.1,239.1 L172.6,237.5 L174.1,235.9 L175.6,234.2 L177.1,232.5 L178.6,230.8 L180.1,229.0 L181.6,227.2 L183.1,225.3 L184.6,223.4 L186.1,221.5 L187.6,219.5 L189.1,217.5 L190.6,215.4 L192.1,213.3 L193.6,211.1 L195.1,209.0 L196.6,206.8 L198.1,204.5 L199.6,202.2 L201.1,199.9 L202.6,197.6 L204.1,195.2 L205.6,192.8 L207.1,190.4 L208.6,187.9 L210.1,185.4 L211.6,182.9 L213.1,180.4 L214.6,177.8 L216.1,175.3 L217.6,172.7 L219.1,170.0 L220.6,167.4 L222.1,164.7 L223.6,162.1 L225.1,159.4 L226.6,156.7 L228.1,154.0 L229.6,151.3 L231.1,148.5 L232.6,145.8 L234.1,143.1 L235.6,140.4 L237.1,137.7 L238.6,135.1 L240.1,132.5 L241.6,129.8 L243.1,127.3 L244.6,124.7 L246.1,122.1 L247.6,119.6 L249.1,117.1 L250.6,114.7 L252.1,112.2 L253.6,109.8 L255.1,107.4 L256.6,105.1 L258.1,102.8 L259.6,100.5 L261.1,98.2 L262.6,96.0 L264.1,93.8 L265.6,91.7 L267.1,89.5 L268.6,87.4 L270.1,85.4 L271.6,83.3 L273.1,81.3 L274.6,79.4 L276.1,77.4 L277.6,75.5 L279.1,73.7 L280.6,71.8 L282.1,70.0 L283.6,68.3 L285.1,66.6 L286.6,64.9 L288.1,63.2 L289.6,61.6 L291.1,60.1 L292.6,58.5 L294.1,57.0 L295.6,55.6 L297.1,54.2 L298.6,52.8 L300.1,51.5 L301.6,50.2 L303.1,49.0 L304.6,47.7 L306.1,46.6 L307.6,45.4 L309.1,44.4 L310.6,43.3 L312.1,42.3 L313.6,41.3 L315.1,40.3 L316.6,39.4 L318.1,38.5 L319.6,37.7 L321.1,36.8 L322.6,36.0 L324.1,35.3 L325.6,34.5 L327.1,33.8 L328.6,33.2 L330.1,32.5 L331.6,31.9 L333.1,31.3 L334.6,30.8 L336.1,30.2 L337.6,29.7 L339.1,29.2 L340.6,28.8 L342.1,28.3 L343.6,27.9 L345.1,27.4 L346.6,27.0 L348.1,26.6 L349.6,26.3 L351.1,25.9 L352.6,25.6 L354.1,25.2 L355.6,24.9 L357.1,24.6 L358.6,24.3 L360.1,24.0 L361.6,23.7 L363.1,23.4 L364.6,23.2 L366.1,22.9 L367.6,22.7 L369.1,22.4 L370.6,22.2 L372.1,21.9 L373.6,21.7 L375.1,21.5 L376.6,21.3 L378.1,21.0 L379.6,20.8 L381.1,20.6 L382.6,20.4 L384.1,20.2 L385.6,20.0 L387.1,19.8 L388.6,19.7 L390.1,19.5 L391.6,19.3 L393.1,19.1 L394.6,19.0 L396.1,18.8 L397.6,18.6 L399.1,18.5 L400.6,18.3 L402.1,18.2 L403.6,18.0 L405.1,17.9 L406.6,17.7 L408.1,17.6 L409.6,17.5 L411.1,17.3 L412.6,17.2 L414.1,17.1 L415.6,17.0 L417.1,16.9 L418.6,16.7 L420.1,16.6 L421.6,16.5 L423.1,16.4 L424.6,16.3 L426.1,16.2 L427.6,16.1 L429.1,16.0 L430.6,15.9 L432.1,15.8 L433.6,15.7 L435.1,15.6 L436.6,15.5 L438.1,15.4 L439.6,15.3 L441.1,15.2 L442.6,15.1 L444.1,15.0 L445.6,14.9 L447.1,14.9 L448.6,14.8 L450.1,14.7 L451.6,14.6 L453.1,14.6 L454.6,14.5 L456.1,14.4 L457.6,14.4 L459.1,14.3 L460.6,14.3 L462.1,14.2 L463.6,14.1 L465.1,14.1 L466.6,14.0 L468.1,14.0 L469.6,13.9 L471.1,13.9 L472.6,13.9 L474.1,13.8 L475.6,13.8 L477.1,13.7 L478.6,13.7 L480.1,13.7 L481.6,13.6 L483.1,13.6 L484.6,13.6 L486.1,13.5 L487.6,13.5 L489.1,13.5 L490.6,13.4 L492.1,13.4 L493.6,13.4 L495.1,13.4 L496.6,13.3 L498.1,13.3 L499.6,13.3 L501.1,13.3 L502.6,13.3 L504.1,13.3 L505.6,13.3 L507.1,13.2 L508.6,13.2 L510.1,13.2 L511.6,13.2 L513.1,13.2 L514.6,13.2 L516.1,13.2 L517.6,13.2 L519.1,13.2 L520.6,13.2 L522.1,13.2 L523.6,13.2 L525.1,13.2 L526.6,13.2 L528.1,13.2 L529.6,13.2 L531.1,13.2 L532.6,13.2 L534.1,13.2 L535.6,13.2 L537.1,13.2 L538.6,13.2 L540.1,13.2 L541.6,13.2 L543.1,13.2 L544.6,13.2 L546.1,13.2 L547.6,13.2 L549.1,13.2 L550.6,13.2 L552.1,13.2 L553.6,13.2 L555.1,13.3 L556.6,13.3 L558.1,13.3 L559.6,13.3 L561.1,13.3 L562.6,13.3 L564.1,13.3 L565.6,13.3 L567.1,13.3 L568.6,13.3 L570.1,13.3 L571.6,13.3 L573.1,13.3 L574.6,13.3 L576.1,13.3 L577.6,13.4 L579.1,13.4 L580.6,13.4 L582.1,13.4 L583.6,13.4 L585.1,13.4 L586.6,13.4 L588.1,13.4 L589.6,13.4 L591.1,13.4 L592.6,13.4 L594.1,13.4 L595.6,13.4 L597.1,13.4 L598.6,13.4 L600.1,13.4 L601.6,13.4 L603.1,13.4 L604.6,13.3 L606.1,13.3 L607.6,13.3 L609.1,13.3 L610.6,13.3 L612.1,13.3 L613.6,13.3 L615.1,13.3 L616.6,13.2 L618.1,13.2 L619.6,13.2 L621.1,13.2 L622.6,13.2 L624.1,13.1 L625.6,13.1 L627.1,13.1 L628.6,13.1 L630.1,13.0 L631.6,13.0 L633.1,13.0 L634.6,12.9 L636.1,12.9 L637.6,12.8 L639.1,12.8 L640.6,12.8 L642.1,12.7 L643.6,12.7 L645.1,12.6 L646.6,12.6 L648.1,12.5 L649.6,12.5 L651.1,12.4 L652.6,12.3 L654.1,12.3 L655.6,12.2 L657.1,12.2 L659.1,12.1"/>
<path d="M94.6,274.3 L96.1,274.3 L97.6,274.1 L99.1,273.8 L100.6,273.6 L102.1,273.3 L103.6,273.0 L105.1,272.7 L106.6,272.5 L108.1,272.2 L109.6,271.9 L111.1,271.5 L112.6,271.2 L114.1,270.9 L115.6,270.5 L117.1,270.1 L118.6,269.8 L120.1,269.4 L121.6,268.9 L123.1,268.5 L124.6,268.0 L126.1,267.6 L127.6,267.1 L129.1,266.5 L130.6,266.0 L132.1,265.4 L133.6,264.8 L135.1,264.2 L136.6,263.5 L138.1,262.9 L139.6,262.2 L141.1,261.4 L142.6,260.7 L144.1,259.9 L145.6,259.0 L147.1,258.2 L148.6,257.2 L150.1,256.3 L151.6,255.3 L153.1,254.3 L154.6,253.3 L156.1,252.2 L157.6,251.0 L159.1,249.8 L160.6,248.6 L162.1,247.3 L163.6,246.0 L165.1,244.6 L166.6,243.2 L168.1,241.8 L169.6,240.2 L171.1,238.7 L172.6,237.1 L174.1,235.5 L175.6,233.8 L177.1,232.1 L178.6,230.3 L180.1,228.5 L181.6,226.7 L183.1,224.8 L184.6,222.8 L186.1,220.9 L187.6,218.9 L189.1,216.8 L190.6,214.7 L192.1,212.6 L193.6,210.4 L195.1,208.2 L196.6,206.0 L198.1,203.7 L199.6,201.4 L201.1,199.1 L202.6,196.7 L204.1,194.3 L205.6,191.9 L207.1,189.4 L208.6,186.9 L210.1,184.4 L211.6,181.9 L213.1,179.4 L214.6,176.8 L216.1,174.2 L217.6,171.6 L219.1,168.9 L220.6,166.3 L222.1,163.6 L223.6,160.9 L225.1,158.2 L226.6,155.5 L228.1,152.8 L229.6,150.1 L231.1,147.3 L232.6,144.6 L234.1,141.9 L235.6,139.2 L237.1,136.5 L238.6,133.8 L240.1,131.2 L241.6,128.6 L243.1,126.0 L244.6,123.4 L246.1,120.9 L247.6,118.4 L249.1,115.9 L250.6,113.4 L252.1,111.0 L253.6,108.6 L255.1,106.2 L256.6,103.8 L258.1,101.5 L259.6,99.2 L261.1,97.0 L262.6,94.8 L264.1,92.6 L265.6,90.5 L267.1,88.3 L268.6,86.3 L270.1,84.2 L271.6,82.2 L273.1,80.2 L274.6,78.3 L276.1,76.3 L277.6,74.5 L279.1,72.6 L280.6,70.8 L282.1,69.0 L283.6,67.3 L285.1,65.6 L286.6,63.9 L288.1,62.3 L289.6,60.7 L291.1,59.2 L292.6,57.7 L294.1,56.2 L295.6,54.8 L297.1,53.4 L298.6,52.1 L300.1,50.8 L301.6,49.5 L303.1,48.3 L304.6,47.1 L306.1,46.0 L307.6,44.9 L309.1,43.8 L310.6,42.8 L312.1,41.8 L313.6,40.8 L315.1,39.9 L316.6,39.0 L318.1,38.1 L319.6,37.3 L321.1,36.5 L322.6,35.7 L324.1,35.0 L325.6,34.2 L327.1,33.6 L328.6,32.9 L330.1,32.3 L331.6,31.7 L333.1,31.2 L334.6,30.6 L336.1,30.1 L337.6,29.6 L339.1,29.2 L340.6,28.7 L342.1,28.3 L343.6,27.8 L345.1,27.4 L346.6,27.1 L348.1,26.7 L349.6,26.3 L351.1,26.0 L352.6,25.7 L354.1,25.3 L355.6,25.0 L357.1,24.7 L358.6,24.4 L360.1,24.2 L361.6,23.9 L363.1,23.6 L364.6,23.4 L366.1,23.2 L367.6,22.9 L369.1,22.7 L370.6,22.5 L372.1,22.2 L373.6,22.0 L375.1,21.8 L376.6,21.6 L378.1,21.4 L379.6,21.2 L381.1,21.0 L382.6,20.8 L384.1,20.6 L385.6,20.4 L387.1,20.2 L388.6,20.0 L390.1,19.8 L391.6,19.7 L393.1,19.5 L394.6,19.3 L396.1,19.2 L397.6,19.0 L399.1,18.9 L400.6,18.7 L402.1,18.6 L403.6,18.4 L405.1,18.3 L406.6,18.1 L408.1,18.0 L409.6,17.9 L411.1,17.7 L412.6,17.6 L414.1,17.5 L415.6,17.4 L417.1,17.2 L418.6,17.1 L420.1,17.0 L421.6,16.9 L423.1,16.8 L424.6,16.7 L426.1,16.6 L427.6,16.4 L429.1,16.3 L430.6,16.2 L432.1,16.1 L433.6,16.0 L435.1,15.9 L436.6,15.8 L438.1,15.7 L439.6,15.6 L441.1,15.5 L442.6,15.5 L444.1,15.4 L445.6,15.3 L447.1,15.2 L448.6,15.1 L450.1,15.1 L451.6,15.0 L453.1,14.9 L454.6,14.8 L456.1,14.8 L457.6,14.7 L459.1,14.6 L460.6,14.6 L462.1,14.5 L463.6,14.5 L465.1,14.4 L466.6,14.3 L468.1,14.3 L469.6,14.2 L471.1,14.2 L472.6,14.1 L474.1,14.1 L475.6,14.1 L477.1,14.0 L478.6,14.0 L480.1,13.9 L481.6,13.9 L483.1,13.9 L484.6,13.8 L486.1,13.8 L487.6,13.8 L489.1,13.7 L490.6,13.7 L492.1,13.7 L493.6,13.6 L495.1,13.6 L496.6,13.6 L498.1,13.6 L499.6,13.5 L501.1,13.5 L502.6,13.5 L504.1,13.5 L505.6,13.5 L507.1,13.5 L508.6,13.4 L510.1,13.4 L511.6,13.4 L513.1,13.4 L514.6,13.4 L516.1,13.4 L517.6,13.4 L519.1,13.4 L520.6,13.4 L522.1,13.4 L523.6,13.4 L525.1,13.4 L526.6,13.4 L528.1,13.4 L529.6,13.4 L531.1,13.4 L532.6,13.4 L534.1,13.4 L535.6,13.4 L537.1,13.4 L538.6,13.4 L540.1,13.4 L541.6,13.4 L543.1,13.4 L544.6,13.4 L546.1,13.4 L547.6,13.4 L549.1,13.4 L550.6,13.4 L552.1,13.4 L553.6,13.4 L555.1,13.4 L556.6,13.4 L558.1,13.4 L559.6,13.4 L561.1,13.4 L562.6,13.4 L564.1,13.4 L565.6,13.4 L567.1,13.4 L568.6,13.4 L570.1,13.4 L571.6,13.4 L573.1,13.4 L574.6,13.5 L576.1,13.5 L577.6,13.5 L579.1,13.5 L580.6,13.5 L582.1,13.5 L583.6,13.5 L585.1,13.5 L586.6,13.5 L588.1,13.5 L589.6,13.5 L591.1,13.5 L592.6,13.5 L594.1,13.5 L595.6,13.4 L597.1,13.4 L598.6,13.4 L600.1,13.4 L601.6,13.4 L603.1,13.4 L604.6,13.4 L606.1,13.4 L607.6,13.4 L609.1,13.4 L610.6,13.4 L612.1,13.3 L613.6,13.3 L615.1,13.3 L616.6,13.3 L618.1,13.3 L619.6,13.2 L621.1,13.2 L622.6,13.2 L624.1,13.2 L625.6,13.1 L627.1,13.1 L628.6,13.1 L630.1,13.0 L631.6,13.0 L633.1,13.0 L634.6,12.9 L636.1,12.9 L637.6,12.9 L639.1,12.8 L640.6,12.8 L642.1,12.7 L643.6,12.7 L645.1,12.6 L646.6,12.6 L648.1,12.5 L649.6,12.5 L651.1,12.4 L652.6,12.3 L654.1,12.3 L655.6,12.2 L657.1,12.2 L659.1,12.1"/>
<path d="M94.6,274.3 L96.1,274.3 L97.6,274.1 L99.1,273.8 L100.6,273.6 L102.1,273.3 L103.6,273.0 L105.1,272.8 L106.6,272.5 L108.1,272.2 L109.6,271.9 L111.1,271.6 L112.6,271.2 L114.1,270.9 L115.6,270.5 L117.1,270.2 L118.6,269.8 L120.1,269.4 L121.6,269.0 L123.1,268.5 L124.6,268.1 L126.1,267.6 L127.6,267.1 L129.1,266.6 L130.6,266.0 L132.1,265.5 L133.6,264.9 L135.1,264.3 L136.6,263.6 L138.1,262.9 L139.6,262.2 L141.1,261.5 L142.6,260.7 L144.1,259.9 L145.6,259.1 L147.1,258.2 L148.6,257.3 L150.1,256.4 L151.6,255.4 L153.1,254.4 L154.6,253.4 L156.1,252.3 L157.6,251.1 L159.1,250.0 L160.6,248.7 L162.1,247.5 L163.6,246.1 L165.1,244.8 L166.6,243.4 L168.1,241.9 L169.6,240.4 L171.1,238.9 L172.6,237.3 L174.1,235.6 L175.6,234.0 L177.1,232.3 L178.6,230.5 L180.1,228.7 L181.6,226.9 L183.1,225.0 L184.6,223.1 L186.1,221.1 L187.6,219.1 L189.1,217.0 L190.6,214.9 L192.1,212.8 L193.6,210.7 L195.1,208.5 L196.6,206.2 L198.1,204.0 L199.6,201.7 L201.1,199.3 L202.6,197.0 L204.1,194.6 L205.6,192.1 L207.1,189.7 L208.6,187.2 L210.1,184.7 L211.6,182.2 L213.1,179.6 L214.6,177.0 L216.1,174.4 L217.6,171.8 L219.1,169.2 L220.6,166.5 L222.1,163.8 L223.6,161.1 L225.1,158.4 L226.6,155.7 L228.1,152.9 L229.6,150.2 L231.1,147.5 L232.6,144.7 L234.1,142.0 L235.6,139.3 L237.1,136.6 L238.6,133.9 L240.1,131.2 L241.6,128.6 L243.1,126.0 L244.6,123.4 L246.1,120.8 L247.6,118.3 L249.1,115.8 L250.6,113.3 L252.1,110.8 L253.6,108.4 L255.1,106.0 L256.6,103.6 L258.1,101.3 L259.6,99.0 L261.1,96.7 L262.6,94.5 L264.1,92.3 L265.6,90.1 L267.1,87.9 L268.6,85.8 L270.1,83.8 L271.6,81.7 L273.1,79.7 L274.6,77.7 L276.1,75.8 L277.6,73.9 L279.1,72.0 L280.6,70.2 L282.1,68.4 L283.6,66.6 L285.1,64.9 L286.6,63.2 L288.1,61.5 L289.6,59.9 L291.1,58.3 L292.6,56.8 L294.1,55.3 L295.6,53.9 L297.1,52.5 L298.6,51.1 L300.1,49.8 L301.6,48.5 L303.1,47.3 L304.6,46.1 L306.1,44.9 L307.6,43.8 L309.1,42.7 L310.6,41.6 L312.1,40.6 L313.6,39.6 L315.1,38.7 L316.6,37.7 L318.1,36.9 L319.6,36.0 L321.1,35.2 L322.6,34.4 L324.1,33.6 L325.6,32.9 L327.1,32.2 L328.6,31.6 L330.1,31.0 L331.6,30.4 L333.1,29.8 L334.6,29.2 L336.1,28.7 L337.6,28.2 L339.1,27.8 L340.6,27.3 L342.1,26.9 L343.6,26.5 L345.1,26.1 L346.6,25.7 L348.1,25.3 L349.6,24.9 L351.1,24.6 L352.6,24.2 L354.1,23.9 L355.6,23.6 L357.1,23.3 L358.6,23.0 L360.1,22.8 L361.6,22.5 L363.1,22.3 L364.6,22.0 L366.1,21.8 L367.6,21.5 L369.1,21.3 L370.6,21.1 L372.1,20.9 L373.6,20.6 L375.1,20.4 L376.6,20.2 L378.1,20.0 L379.6,19.8 L381.1,19.6 L382.6,19.4 L384.1,19.3 L385.6,19.1 L387.1,18.9 L388.6,18.7 L390.1,18.6 L391.6,18.4 L393.1,18.3 L394.6,18.1 L396.1,18.0 L397.6,17.8 L399.1,17.7 L400.6,17.6 L402.1,17.4 L403.6,17.3 L405.1,17.2 L406.6,17.1 L408.1,16.9 L409.6,16.8 L411.1,16.7 L412.6,16.6 L414.1,16.5 L415.6,16.4 L417.1,16.3 L418.6,16.2 L420.1,16.1 L421.6,16.0 L423.1,15.9 L424.6,15.8 L426.1,15.7 L427.6,15.6 L429.1,15.5 L430.6,15.4 L432.1,15.3 L433.6,15.2 L435.1,15.1 L436.6,15.0 L438.1,15.0 L439.6,14.9 L441.1,14.8 L442.6,14.7 L444.1,14.6 L445.6,14.6 L447.1,14.5 L448.6,14.4 L450.1,14.4 L451.6,14.3 L453.1,14.2 L454.6,14.2 L456.1,14.1 L457.6,14.1 L459.1,14.0 L460.6,14.0 L462.1,13.9 L463.6,13.9 L465.1,13.8 L466.6,13.8 L468.1,13.7 L469.6,13.7 L471.1,13.6 L472.6,13.6 L474.1,13.6 L475.6,13.5 L477.1,13.5 L478.6,13.5 L480.1,13.4 L481.6,13.4 L483.1,13.4 L484.6,13.3 L486.1,13.3 L487.6,13.3 L489.1,13.3 L490.6,13.2 L492.1,13.2 L493.6,13.2 L495.1,13.2 L496.6,13.2 L498.1,13.1 L499.6,13.1 L501.1,13.1 L502.6,13.1 L504.1,13.1 L505.6,13.1 L507.1,13.1 L508.6,13.1 L510.1,13.1 L511.6,13.1 L513.1,13.1 L514.6,13.1 L516.1,13.1 L517.6,13.1 L519.1,13.1 L520.6,13.1 L522.1,13.1 L523.6,13.1 L525.1,13.1 L526.6,13.1 L528.1,13.1 L529.6,13.1 L531.1,13.1 L532.6,13.1 L534.1,13.1 L535.6,13.1 L537.1,13.1 L538.6,13.1 L540.1,13.1 L541.6,13.1 L543.1,13.1 L544.6,13.1 L546.1,13.1 L547.6,13.1 L549.1,13.1 L550.6,13.2 L552.1,13.2 L553.6,13.2 L555.1,13.2 L556.6,13.2 L558.1,13.2 L559.6,13.2 L561.1,13.2 L562.6,13.2 L564.1,13.2 L565.6,13.2 L567.1,13.2 L568.6,13.3 L570.1,13.3 L571.6,13.3 L573.1,13.3 L574.6,13.3 L576.1,13.3 L577.6,13.3 L579.1,13.3 L580.6,13.3 L582.1,13.3 L583.6,13.3 L585.1,13.3 L586.6,13.3 L588.1,13.3 L589.6,13.3 L591.1,13.3 L592.6,13.3 L594.1,13.3 L595.6,13.3 L597.1,13.3 L598.6,13.3 L600.1,13.3 L601.6,13.3 L603.1,13.3 L604.6,13.3 L606.1,13.3 L607.6,13.3 L609.1,13.3 L610.6,13.3 L612.1,13.3 L613.6,13.3 L615.1,13.2 L616.6,13.2 L618.1,13.2 L619.6,13.2 L621.1,13.2 L622.6,13.2 L624.1,13.1 L625.6,13.1 L627.1,13.1 L628.6,13.0 L630.1,13.0 L631.6,13.0 L633.1,13.0 L634.6,12.9 L636.1,12.9 L637.6,12.8 L639.1,12.8 L640.6,12.8 L642.1,12.7 L643.6,12.7 L645.1,12.6 L646.6,12.6 L648.1,12.5 L649.6,12.5 L651.1,12.4 L652.6,12.3 L654.1,12.3 L655.6,12.2 L657.1,12.2 L659.1,12.1"/>
<path d="M94.6,274.3 L96.1,274.3 L97.6,274.1 L99.1,273.8 L100.6,273.6 L102.1,273.3 L103.6,273.0 L105.1,272.7 L106.6,272.5 L108.1,272.2 L109.6,271.9 L111.1,271.5 L112.6,271.2 L114.1,270.9 L115.6,270.5 L117.1,270.1 L118.6,269.8 L120.1,269.4 L121.6,268.9 L123.1,268.5 L124.6,268.0 L126.1,267.6 L127.6,267.1 L129.1,266.5 L130.6,266.0 L132.1,265.4 L133.6,264.8 L135.1,264.2 L136.6,263.5 L138.1,262.9 L139.6,262.2 L141.1,261.4 L142.6,260.6 L144.1,259.8 L145.6,259.0 L147.1,258.1 L148.6,257.2 L150.1,256.3 L151.6,255.3 L153.1,254.3 L154.6,253.2 L156.1,252.1 L157.6,251.0 L159.1,249.8 L160.6,248.6 L162.1,247.3 L163.6,246.0 L165.1,244.6 L166.6,243.2 L168.1,241.7 L169.6,240.2 L171.1,238.6 L172.6,237.0 L174.1,235.4 L175.6,233.7 L177.1,232.0 L178.6,230.2 L180.1,228.4 L181.6,226.6 L183.1,224.7 L184.6,222.7 L186.1,220.7 L187.6,218.7 L189.1,216.6 L190.6,214.5 L192.1,212.4 L193.6,210.2 L195.1,208.0 L196.6,205.7 L198.1,203.5 L199.6,201.1 L201.1,198.8 L202.6,196.4 L204.1,194.0 L205.6,191.5 L207.1,189.1 L208.6,186.6 L210.1,184.1 L211.6,181.5 L213.1,178.9 L214.6,176.4 L216.1,173.7 L217.6,171.1 L219.1,168.4 L220.6,165.8 L222.1,163.1 L223.6,160.4 L225.1,157.6 L226.6,154.9 L228.1,152.1 L229.6,149.4 L231.1,146.6 L232.6,143.9 L234.1,141.2 L235.6,138.4 L237.1,135.7 L238.6,133.0 L240.1,130.4 L241.6,127.7 L243.1,125.1 L244.6,122.5 L246.1,119.9 L247.6,117.4 L249.1,114.8 L250.6,112.3 L252.1,109.9 L253.6,107.4 L255.1,105.0 L256.6,102.7 L258.1,100.3 L259.6,98.0 L261.1,95.7 L262.6,93.5 L264.1,91.3 L265.6,89.1 L267.1,87.0 L268.6,84.9 L270.1,82.8 L271.6,80.8 L273.1,78.8 L274.6,76.8 L276.1,74.9 L277.6,73.0 L279.1,71.1 L280.6,69.2 L282.1,67.5 L283.6,65.7 L285.1,64.0 L286.6,62.3 L288.1,60.7 L289.6,59.0 L291.1,57.5 L292.6,56.0 L294.1,54.5 L295.6,53.1 L297.1,51.7 L298.6,50.3 L300.1,49.0 L301.6,47.7 L303.1,46.5 L304.6,45.3 L306.1,44.1 L307.6,43.0 L309.1,41.9 L310.6,40.9 L312.1,39.9 L313.6,38.9 L315.1,38.0 L316.6,37.1 L318.1,36.2 L319.6,35.4 L321.1,34.5 L322.6,33.8 L324.1,33.0 L325.6,32.3 L327.1,31.7 L328.6,31.0 L330.1,30.4 L331.6,29.8 L333.1,29.3 L334.6,28.7 L336.1,28.2 L337.6,27.8 L339.1,27.3 L340.6,26.9 L342.1,26.4 L343.6,26.0 L345.1,25.6 L346.6,25.3 L348.1,24.9 L349.6,24.6 L351.1,24.2 L352.6,23.9 L354.1,23.6 L355.6,23.3 L357.1,23.0 L358.6,22.8 L360.1,22.5 L361.6,22.2 L363.1,22.0 L364.6,21.8 L366.1,21.5 L367.6,21.3 L369.1,21.1 L370.6,20.9 L372.1,20.7 L373.6,20.4 L375.1,20.2 L376.6,20.0 L378.1,19.9 L379.6,19.7 L381.1,19.5 L382.6,19.3 L384.1,19.1 L385.6,19.0 L387.1,18.8 L388.6,18.6 L390.1,18.5 L391.6,18.3 L393.1,18.2 L394.6,18.0 L396.1,17.9 L397.6,17.8 L399.1,17.6 L400.6,17.5 L402.1,17.4 L403.6,17.2 L405.1,17.1 L406.6,17.0 L408.1,16.9 L409.6,16.8 L411.1,16.7 L412.6,16.6 L414.1,16.5 L415.6,16.4 L417.1,16.3 L418.6,16.2 L420.1,16.1 L421.6,16.0 L423.1,15.9 L424.6,15.8 L426.1,15.7 L427.6,15.6 L429.1,15.5 L430.6,15.4 L432.1,15.3 L433.6,15.2 L435.1,15.2 L436.6,15.1 L438.1,15.0 L439.6,14.9 L441.1,14.8 L442.6,14.7 L444.1,14.7 L445.6,14.6 L447.1,14.5 L448.6,14.5 L450.1,14.4 L451.6,14.3 L453.1,14.3 L454.6,14.2 L456.1,14.2 L457.6,14.1 L459.1,14.0 L460.6,14.0 L462.1,13.9 L463.6,13.9 L465.1,13.8 L466.6,13.8 L468.1,13.8 L469.6,13.7 L471.1,13.7 L472.6,13.6 L474.1,13.6 L475.6,13.6 L477.1,13.5 L478.6,13.5 L480.1,13.5 L481.6,13.4 L483.1,13.4 L484.6,13.4 L486.1,13.4 L487.6,13.3 L489.1,13.3 L490.6,13.3 L492.1,13.3 L493.6,13.2 L495.1,13.2 L496.6,13.2 L498.1,13.2 L499.6,13.2 L501.1,13.2 L502.6,13.2 L504.1,13.1 L505.6,13.1 L507.1,13.1 L508.6,13.1 L510.1,13.1 L511.6,13.1 L513.1,13.1 L514.6,13.1 L516.1,13.1 L517.6,13.1 L519.1,13.1 L520.6,13.1 L522.1,13.1 L523.6,13.1 L525.1,13.1 L526.6,13.1 L528.1,13.1 L529.6,13.1 L531.1,13.1 L532.6,13.1 L534.1,13.1 L535.6,13.1 L537.1,13.1 L538.6,13.1 L540.1,13.1 L541.6,13.1 L543.1,13.2 L544.6,13.2 L546.1,13.2 L547.6,13.2 L549.1,13.2 L550.6,13.2 L552.1,13.2 L553.6,13.2 L555.1,13.2 L556.6,13.2 L558.1,13.2 L559.6,13.2 L561.1,13.2 L562.6,13.3 L564.1,13.3 L565.6,13.3 L567.1,13.3 L568.6,13.3 L570.1,13.3 L571.6,13.3 L573.1,13.3 L574.6,13.3 L576.1,13.3 L577.6,13.3 L579.1,13.3 L580.6,13.3 L582.1,13.3 L583.6,13.4 L585.1,13.4 L586.6,13.4 L588.1,13.4 L589.6,13.4 L591.1,13.4 L592.6,13.4 L594.1,13.4 L595.6,13.4 L597.1,13.4 L598.6,13.4 L600.1,13.4 L601.6,13.3 L603.1,13.3 L604.6,13.3 L606.1,13.3 L607.6,13.3 L609.1,13.3 L610.6,13.3 L612.1,13.3 L613.6,13.3 L615.1,13.3 L616.6,13.2 L618.1,13.2 L619.6,13.2 L621.1,13.2 L622.6,13.2 L624.1,13.1 L625.6,13.1 L627.1,13.1 L628.6,13.1 L630.1,13.0 L631.6,13.0 L633.1,13.0 L634.6,12.9 L636.1,12.9 L637.6,12.8 L639.1,12.8 L640.6,12.8 L642.1,12.7 L643.6,12.7 L645.1,12.6 L646.6,12.6 L648.1,12.5 L649.6,12.5 L651.1,12.4 L652.6,12.3 L654.1,12.3 L655.6,12.2 L657.1,12.2 L659.1,12.1"/>
<path d="M94.6,274.3 L96.1,274.3 L97.6,274.1 L99.1,273.8 L100.6,273.6 L102.1,273.3 L103.6,273.0 L105.1,272.7 L106.6,272.5 L108.1,272.2 L109.6,271.8 L111.1,271.5 L112.6,271.2 L114.1,270.9 L115.6,270.5 L117.1,270.1 L118.6,269.7 L120.1,269.3 L121.6,268.9 L123.1,268.5 L124.6,268.0 L126.1,267.5 L127.6,267.0 L129.1,266.5 L130.6,265.9 L132.1,265.3 L133.6,264.7 L135.1,264.1 L136.6,263.5 L138.1,262.8 L139.6,262.1 L141.1,261.3 L142.6,260.5 L144.1,259.7 L145.6,258.9 L147.1,258.0 L148.6,257.1 L150.1,256.2 L151.6,255.2 L153.1,254.2 L154.6,253.1 L156.1,252.0 L157.6,250.8 L159.1,249.6 L160.6,248.4 L162.1,247.1 L163.6,245.8 L165.1,244.4 L166.6,243.0 L168.1,241.5 L169.6,239.9 L171.1,238.4 L172.6,236.8 L174.1,235.1 L175.6,233.4 L177.1,231.7 L178.6,229.9 L180.1,228.1 L181.6,226.2 L183.1,224.3 L184.6,222.3 L186.1,220.3 L187.6,218.3 L189.1,216.2 L190.6,214.1 L192.1,211.9 L193.6,209.7 L195.1,207.5 L196.6,205.2 L198.1,202.9 L199.6,200.6 L201.1,198.2 L202.6,195.8 L204.1,193.3 L205.6,190.9 L207.1,188.4 L208.6,185.9 L210.1,183.4 L211.6,180.8 L213.1,178.2 L214.6,175.6 L216.1,173.0 L217.6,170.3 L219.1,167.6 L220.6,165.0 L222.1,162.2 L223.6,159.5 L225.1,156.8 L226.6,154.0 L228.1,151.3 L229.6,148.5 L231.1,145.7 L232.6,143.0 L234.1,140.2 L235.6,137.5 L237.1,134.8 L238.6,132.1 L240.1,129.4 L241.6,126.8 L243.1,124.1 L244.6,121.5 L246.1,118.9 L247.6,116.4 L249.1,113.8 L250.6,111.3 L252.1,108.9 L253.6,106.4 L255.1,104.0 L256.6,101.6 L258.1,99.3 L259.6,97.0 L261.1,94.7 L262.6,92.5 L264.1,90.3 L265.6,88.1 L267.1,86.0 L268.6,83.9 L270.1,81.8 L271.6,79.8 L273.1,77.8 L274.6,75.8 L276.1,73.9 L277.6,72.0 L279.1,70.1 L280.6,68.3 L282.1,66.5 L283.6,64.8 L285.1,63.1 L286.6,61.4 L288.1,59.8 L289.6,58.2 L291.1,56.6 L292.6,55.1 L294.1,53.7 L295.6,52.2 L297.1,50.8 L298.6,49.5 L300.1,48.2 L301.6,46.9 L303.1,45.7 L304.6,44.5 L306.1,43.4 L307.6,42.3 L309.1,41.2 L310.6,40.2 L312.1,39.2 L313.6,38.3 L315.1,37.3 L316.6,36.4 L318.1,35.6 L319.6,34.8 L321.1,34.0 L322.6,33.2 L324.1,32.5 L325.6,31.8 L327.1,31.1 L328.6,30.5 L330.1,29.9 L331.6,29.4 L333.1,28.8 L334.6,28.3 L336.1,27.8 L337.6,27.4 L339.1,26.9 L340.6,26.5 L342.1,26.1 L343.6,25.7 L345.1,25.3 L346.6,25.0 L348.1,24.6 L349.6,24.3 L351.1,24.0 L352.6,23.7 L354.1,23.4 L355.6,23.1 L357.1,22.8 L358.6,22.5 L360.1,22.3 L361.6,22.1 L363.1,21.8 L364.6,21.6 L366.1,21.4 L367.6,21.2 L369.1,21.0 L370.6,20.7 L372.1,20.5 L373.6,20.3 L375.1,20.2 L376.6,20.0 L378.1,19.8 L379.6,19.6 L381.1,19.4 L382.6,19.3 L384.1,19.1 L385.6,18.9 L387.1,18.8 L388.6,18.6 L390.1,18.5 L391.6,18.3 L393.1,18.2 L394.6,18.0 L396.1,17.9 L397.6,17.8 L399.1,17.6 L400.6,17.5 L402.1,17.4 L403.6,17.3 L405.1,17.2 L406.6,17.1 L408.1,16.9 L409.6,16.8 L411.1,16.7 L412.6,16.6 L414.1,16.5 L415.6,16.4 L417.1,16.3 L418.6,16.2 L420.1,16.1 L421.6,16.0 L423.1,15.9 L424.6,15.9 L426.1,15.8 L427.6,15.7 L429.1,15.6 L430.6,15.5 L432.1,15.4 L433.6,15.3 L435.1,15.2 L436.6,15.2 L438.1,15.1 L439.6,15.0 L441.1,14.9 L442.6,14.8 L444.1,14.8 L445.6,14.7 L447.1,14.6 L448.6,14.6 L450.1,14.5 L451.6,14.4 L453.1,14.4 L454.6,14.3 L456.1,14.3 L457.6,14.2 L459.1,14.1 L460.6,14.1 L462.1,14.0 L463.6,14.0 L465.1,13.9 L466.6,13.9 L468.1,13.9 L469.6,13.8 L471.1,13.8 L472.6,13.7 L474.1,13.7 L475.6,13.7 L477.1,13.6 L478.6,13.6 L480.1,13.6 L481.6,13.5 L483.1,13.5 L484.6,13.5 L486.1,13.4 L487.6,13.4 L489.1,13.4 L490.6,13.4 L492.1,13.4 L493.6,13.3 L495.1,13.3 L496.6,13.3 L498.1,13.3 L499.6,13.3 L501.1,13.3 L502.6,13.2 L504.1,13.2 L505.6,13.2 L507.1,13.2 L508.6,13.2 L510.1,13.2 L511.6,13.2 L513.1,13.2 L514.6,13.2 L516.1,13.2 L517.6,13.2 L519.1,13.2 L520.6,13.2 L522.1,13.2 L523.6,13.2 L525.1,13.2 L526.6,13.2 L528.1,13.2 L529.6,13.2 L531.1,13.2 L532.6,13.2 L534.1,13.2 L535.6,13.2 L537.1,13.2 L538.6,13.2 L540.1,13.2 L541.6,13.2 L543.1,13.2 L544.6,13.2 L546.1,13.2 L547.6,13.2 L549.1,13.2 L550.6,13.2 L552.1,13.3 L553.6,13.3 L555.1,13.3 L556.6,13.3 L558.1,13.3 L559.6,13.3 L561.1,13.3 L562.6,13.3 L564.1,13.3 L565.6,13.3 L567.1,13.3 L568.6,13.3 L570.1,13.3 L571.6,13.3 L573.1,13.4 L574.6,13.4 L576.1,13.4 L577.6,13.4 L579.1,13.4 L580.6,13.4 L582.1,13.4 L583.6,13.4 L585.1,13.4 L586.6,13.4 L588.1,13.4 L589.6,13.4 L591.1,13.4 L592.6,13.4 L594.1,13.4 L595.6,13.4 L597.1,13.4 L598.6,13.4 L600.1,13.4 L601.6,13.4 L603.1,13.4 L604.6,13.4 L606.1,13.4 L607.6,13.3 L609.1,13.3 L610.6,13.3 L612.1,13.3 L613.6,13.3 L615.1,13.3 L616.6,13.3 L618.1,13.2 L619.6,13.2 L621.1,13.2 L622.6,13.2 L624.1,13.1 L625.6,13.1 L627.1,13.1 L628.6,13.1 L630.1,13.0 L631.6,13.0 L633.1,13.0 L634.6,12.9 L636.1,12.9 L637.6,12.9 L639.1,12.8 L640.6,12.8 L642.1,12.7 L643.6,12.7 L645.1,12.6 L646.6,12.6 L648.1,12.5 L649.6,12.5 L651.1,12.4 L652.6,12.3 L654.1,12.3 L655.6,12.2 L657.1,12.2 L659.1,12.1"/>
<path d="M94.6,274.3 L96.1,274.3 L97.6,274.1 L99.1,273.8 L100.6,273.6 L102.1,273.3 L103.6,273.0 L105.1,272.7 L106.6,272.5 L108.1,272.2 L109.6,271.9 L111.1,271.5 L112.6,271.2 L114.1,270.9 L115.6,270.5 L117.1,270.1 L118.6,269.8 L120.1,269.4 L121.6,268.9 L123.1,268.5 L124.6,268.0 L126.1,267.6 L127.6,267.1 L129.1,266.5 L130.6,266.0 L132.1,265.4 L133.6,264.8 L135.1,264.2 L136.6,263.5 L138.1,262.9 L139.6,262.1 L141.1,261.4 L142.6,260.6 L144.1,259.8 L145.6,259.0 L147.1,258.1 L148.6,257.2 L150.1,256.3 L151.6,255.3 L153.1,254.3 L154.6,253.2 L156.1,252.1 L157.6,251.0 L159.1,249.8 L160.6,248.5 L162.1,247.3 L163.6,245.9 L165.1,244.5 L166.6,243.1 L168.1,241.6 L169.6,240.1 L171.1,238.6 L172.6,237.0 L174.1,235.3 L175.6,233.6 L177.1,231.9 L178.6,230.1 L180.1,228.3 L181.6,226.4 L183.1,224.5 L184.6,222.6 L186.1,220.6 L187.6,218.5 L189.1,216.5 L190.6,214.3 L192.1,212.2 L193.6,210.0 L195.1,207.7 L196.6,205.5 L198.1,203.2 L199.6,200.8 L201.1,198.5 L202.6,196.1 L204.1,193.6 L205.6,191.2 L207.1,188.7 L208.6,186.2 L210.1,183.6 L211.6,181.1 L213.1,178.5 L214.6,175.9 L216.1,173.2 L217.6,170.6 L219.1,167.9 L220.6,165.2 L222.1,162.5 L223.6,159.7 L225.1,157.0 L226.6,154.2 L228.1,151.5 L229.6,148.7 L231.1,145.9 L232.6,143.1 L234.1,140.4 L235.6,137.6 L237.1,134.9 L238.6,132.2 L240.1,129.5 L241.6,126.8 L243.1,124.1 L244.6,121.5 L246.1,118.9 L247.6,116.3 L249.1,113.8 L250.6,111.3 L252.1,108.8 L253.6,106.3 L255.1,103.9 L256.6,101.4 L258.1,99.1 L259.6,96.7 L261.1,94.4 L262.6,92.2 L264.1,90.0 L265.6,87.8 L267.1,85.6 L268.6,83.5 L270.1,81.4 L271.6,79.3 L273.1,77.3 L274.6,75.3 L276.1,73.3 L277.6,71.4 L279.1,69.5 L280.6,67.7 L282.1,65.9 L283.6,64.1 L285.1,62.3 L286.6,60.6 L288.1,59.0 L289.6,57.4 L291.1,55.8 L292.6,54.3 L294.1,52.8 L295.6,51.3 L297.1,49.9 L298.6,48.5 L300.1,47.2 L301.6,45.9 L303.1,44.7 L304.6,43.5 L306.1,42.3 L307.6,41.2 L309.1,40.1 L310.6,39.1 L312.1,38.0 L313.6,37.1 L315.1,36.1 L316.6,35.2 L318.1,34.3 L319.6,33.5 L321.1,32.7 L322.6,31.9 L324.1,31.1 L325.6,30.4 L327.1,29.8 L328.6,29.1 L330.1,28.5 L331.6,28.0 L333.1,27.4 L334.6,26.9 L336.1,26.4 L337.6,25.9 L339.1,25.5 L340.6,25.1 L342.1,24.7 L343.6,24.3 L345.1,23.9 L346.6,23.5 L348.1,23.2 L349.6,22.9 L351.1,22.5 L352.6,22.2 L354.1,21.9 L355.6,21.6 L357.1,21.4 L358.6,21.1 L360.1,20.9 L361.6,20.6 L363.1,20.4 L364.6,20.2 L366.1,20.0 L367.6,19.7 L369.1,19.5 L370.6,19.3 L372.1,19.1 L373.6,19.0 L375.1,18.8 L376.6,18.6 L378.1,18.4 L379.6,18.2 L381.1,18.1 L382.6,17.9 L384.1,17.7 L385.6,17.6 L387.1,17.4 L388.6,17.3 L390.1,17.2 L391.6,17.0 L393.1,16.9 L394.6,16.8 L396.1,16.7 L397.6,16.6 L399.1,16.4 L400.6,16.3 L402.1,16.2 L403.6,16.1 L405.1,16.0 L406.6,15.9 L408.1,15.8 L409.6,15.8 L411.1,15.7 L412.6,15.6 L414.1,15.5 L415.6,15.4 L417.1,15.3 L418.6,15.3 L420.1,15.2 L421.6,15.1 L423.1,15.0 L424.6,14.9 L426.1,14.9 L427.6,14.8 L429.1,14.7 L430.6,14.6 L432.1,14.6 L433.6,14.5 L435.1,14.4 L436.6,14.3 L438.1,14.3 L439.6,14.2 L441.1,14.1 L442.6,14.1 L444.1,14.0 L445.6,14.0 L447.1,13.9 L448.6,13.8 L450.1,13.8 L451.6,13.7 L453.1,13.7 L454.6,13.6 L456.1,13.6 L457.6,13.5 L459.1,13.5 L460.6,13.5 L462.1,13.4 L463.6,13.4 L465.1,13.3 L466.6,13.3 L468.1,13.3 L469.6,13.2 L471.1,13.2 L472.6,13.2 L474.1,13.1 L475.6,13.1 L477.1,13.1 L478.6,13.1 L480.1,13.0 L481.6,13.0 L483.1,13.0 L484.6,13.0 L486.1,13.0 L487.6,12.9 L489.1,12.9 L490.6,12.9 L492.1,12.9 L493.6,12.9 L495.1,12.9 L496.6,12.9 L498.1,12.8 L499.6,12.8 L501.1,12.8 L502.6,12.8 L504.1,12.8 L505.6,12.8 L507.1,12.8 L508.6,12.8 L510.1,12.8 L511.6,12.8 L513.1,12.8 L514.6,12.8 L516.1,12.8 L517.6,12.8 L519.1,12.8 L520.6,12.8 L522.1,12.8 L523.6,12.8 L525.1,12.9 L526.6,12.9 L528.1,12.9 L529.6,12.9 L531.1,12.9 L532.6,12.9 L534.1,12.9 L535.6,12.9 L537.1,12.9 L538.6,12.9 L540.1,12.9 L541.6,12.9 L543.1,13.0 L544.6,13.0 L546.1,13.0 L547.6,13.0 L549.1,13.0 L550.6,13.0 L552.1,13.0 L553.6,13.0 L555.1,13.0 L556.6,13.1 L558.1,13.1 L559.6,13.1 L561.1,13.1 L562.6,13.1 L564.1,13.1 L565.6,13.1 L567.1,13.1 L568.6,13.1 L570.1,13.2 L571.6,13.2 L573.1,13.2 L574.6,13.2 L576.1,13.2 L577.6,13.2 L579.1,13.2 L580.6,13.2 L582.1,13.2 L583.6,13.2 L585.1,13.3 L586.6,13.3 L588.1,13.3 L589.6,13.3 L591.1,13.3 L592.6,13.3 L594.1,13.3 L595.6,13.3 L597.1,13.3 L598.6,13.3 L600.1,13.3 L601.6,13.3 L603.1,13.3 L604.6,13.3 L606.1,13.3 L607.6,13.3 L609.1,13.3 L610.6,13.2 L612.1,13.2 L613.6,13.2 L615.1,13.2 L616.6,13.2 L618.1,13.2 L619.6,13.2 L621.1,13.1 L622.6,13.1 L624.1,13.1 L625.6,13.1 L627.1,13.1 L628.6,13.0 L630.1,13.0 L631.6,13.0 L633.1,12.9 L634.6,12.9 L636.1,12.9 L637.6,12.8 L639.1,12.8 L640.6,12.8 L642.1,12.7 L643.6,12.7 L645.1,12.6 L646.6,12.6 L648.1,12.5 L649.6,12.5 L651.1,12.4 L652.6,12.3 L654.1,12.3 L655.6,12.2 L657.1,12.2 L659.1,12.1"/>
<path d="M94.6,274.3 L96.1,274.3 L97.6,274.1 L99.1,273.8 L100.6,273.6 L102.1,273.3 L103.6,273.0 L105.1,272.7 L106.6,272.4 L108.1,272.1 L109.6,271.8 L111.1,271.5 L112.6,271.2 L114.1,270.8 L115.6,270.4 L117.1,270.1 L118.6,269.7 L120.1,269.2 L121.6,268.8 L123.1,268.4 L124.6,267.9 L126.1,267.4 L127.6,266.9 L129.1,266.3 L130.6,265.8 L132.1,265.2 L133.6,264.6 L135.1,263.9 L136.6,263.3 L138.1,262.6 L139.6,261.8 L141.1,261.1 L142.6,260.3 L144.1,259.5 L145.6,258.6 L147.1,257.7 L148.6,256.8 L150.1,255.9 L151.6,254.9 L153.1,253.8 L154.6,252.7 L156.1,251.6 L157.6,250.4 L159.1,249.2 L160.6,247.9 L162.1,246.6 L163.6,245.2 L165.1,243.8 L166.6,242.3 L168.1,240.8 L169.6,239.3 L171.1,237.6 L172.6,236.0 L174.1,234.3 L175.6,232.5 L177.1,230.8 L178.6,228.9 L180.1,227.1 L181.6,225.1 L183.1,223.2 L184.6,221.1 L186.1,219.1 L187.6,217.0 L189.1,214.8 L190.6,212.6 L192.1,210.4 L193.6,208.1 L195.1,205.8 L196.6,203.4 L198.1,201.0 L199.6,198.6 L201.1,196.2 L202.6,193.7 L204.1,191.2 L205.6,188.6 L207.1,186.1 L208.6,183.5 L210.1,180.9 L211.6,178.3 L213.1,175.6 L214.6,172.9 L216.1,170.2 L217.6,167.5 L219.1,164.7 L220.6,161.9 L222.1,159.2 L223.6,156.4 L225.1,153.5 L226.6,150.7 L228.1,147.9 L229.6,145.0 L231.1,142.2 L232.6,139.3 L234.1,136.5 L235.6,133.7 L237.1,130.9 L238.6,128.1 L240.1,125.4 L241.6,122.7 L243.1,119.9 L244.6,117.3 L246.1,114.6 L247.6,111.9 L249.1,109.3 L250.6,106.8 L252.1,104.2 L253.6,101.7 L255.1,99.2 L256.6,96.8 L258.1,94.4 L259.6,92.0 L261.1,89.7 L262.6,87.4 L264.1,85.2 L265.6,83.0 L267.1,80.8 L268.6,78.7 L270.1,76.5 L271.6,74.5 L273.1,72.4 L274.6,70.4 L276.1,68.5 L277.6,66.5 L279.1,64.7 L280.6,62.8 L282.1,61.0 L283.6,59.2 L285.1,57.5 L286.6,55.8 L288.1,54.2 L289.6,52.6 L291.1,51.0 L292.6,49.5 L294.1,48.0 L295.6,46.6 L297.1,45.2 L298.6,43.9 L300.1,42.6 L301.6,41.3 L303.1,40.1 L304.6,38.9 L306.1,37.8 L307.6,36.7 L309.1,35.7 L310.6,34.7 L312.1,33.7 L313.6,32.7 L315.1,31.8 L316.6,31.0 L318.1,30.1 L319.6,29.3 L321.1,28.5 L322.6,27.8 L324.1,27.1 L325.6,26.5 L327.1,25.8 L328.6,25.3 L330.1,24.7 L331.6,24.2 L333.1,23.7 L334.6,23.3 L336.1,22.9 L337.6,22.5 L339.1,22.1 L340.6,21.7 L342.1,21.4 L343.6,21.1 L345.1,20.7 L346.6,20.4 L348.1,20.2 L349.6,19.9 L351.1,19.6 L352.6,19.4 L354.1,19.1 L355.6,18.9 L357.1,18.7 L358.6,18.5 L360.1,18.3 L361.6,18.1 L363.1,17.9 L364.6,17.7 L366.1,17.6 L367.6,17.4 L369.1,17.3 L370.6,17.1 L372.1,17.0 L373.6,16.8 L375.1,16.7 L376.6,16.5 L378.1,16.4 L379.6,16.3 L381.1,16.2 L382.6,16.0 L384.1,15.9 L385.6,15.8 L387.1,15.7 L388.6,15.6 L390.1,15.5 L391.6,15.5 L393.1,15.4 L394.6,15.3 L396.1,15.2 L397.6,15.1 L399.1,15.1 L400.6,15.0 L402.1,14.9 L403.6,14.9 L405.1,14.8 L406.6,14.8 L408.1,14.7 L409.6,14.7 L411.1,14.6 L412.6,14.6 L414.1,14.5 L415.6,14.5 L417.1,14.4 L418.6,14.4 L420.1,14.3 L421.6,14.3 L423.1,14.2 L424.6,14.2 L426.1,14.1 L427.6,14.1 L429.1,14.0 L430.6,14.0 L432.1,13.9 L433.6,13.9 L435.1,13.8 L436.6,13.7 L438.1,13.7 L439.6,13.6 L441.1,13.6 L442.6,13.5 L444.1,13.5 L445.6,13.5 L447.1,13.4 L448.6,13.4 L450.1,13.3 L451.6,13.3 L453.1,13.3 L454.6,13.2 L456.1,13.2 L457.6,13.1 L459.1,13.1 L460.6,13.1 L462.1,13.1 L463.6,13.0 L465.1,13.0 L466.6,13.0 L468.1,13.0 L469.6,12.9 L471.1,12.9 L472.6,12.9 L474.1,12.9 L475.6,12.9 L477.1,12.8 L478.6,12.8 L480.1,12.8 L481.6,12.8 L483.1,12.8 L484.6,12.8 L486.1,12.8 L487.6,12.7 L489.1,12.7 L490.6,12.7 L492.1,12.7 L493.6,12.7 L495.1,12.7 L496.6,12.7 L498.1,12.7 L499.6,12.7 L501.1,12.7 L502.6,12.7 L504.1,12.7 L505.6,12.7 L507.1,12.7 L508.6,12.7 L510.1,12.7 L511.6,12.7 L513.1,12.7 L514.6,12.7 L516.1,12.7 L517.6,12.7 L519.1,12.7 L520.6,12.7 L522.1,12.8 L523.6,12.8 L525.1,12.8 L526.6,12.8 L528.1,12.8 L529.6,12.8 L531.1,12.8 L532.6,12.8 L534.1,12.8 L535.6,12.9 L537.1,12.9 L538.6,12.9 L540.1,12.9 L541.6,12.9 L543.1,12.9 L544.6,12.9 L546.1,12.9 L547.6,12.9 L549.1,13.0 L550.6,13.0 L552.1,13.0 L553.6,13.0 L555.1,13.0 L556.6,13.0 L558.1,13.0 L559.6,13.1 L561.1,13.1 L562.6,13.1 L564.1,13.1 L565.6,13.1 L567.1,13.1 L568.6,13.1 L570.1,13.1 L571.6,13.2 L573.1,13.2 L574.6,13.2 L576.1,13.2 L577.6,13.2 L579.1,13.2 L580.6,13.2 L582.1,13.2 L583.6,13.2 L585.1,13.2 L586.6,13.3 L588.1,13.3 L589.6,13.3 L591.1,13.3 L592.6,13.3 L594.1,13.3 L595.6,13.3 L597.1,13.3 L598.6,13.3 L600.1,13.3 L601.6,13.3 L603.1,13.3 L604.6,13.3 L606.1,13.3 L607.6,13.3 L609.1,13.3 L610.6,13.2 L612.1,13.2 L613.6,13.2 L615.1,13.2 L616.6,13.2 L618.1,13.2 L619.6,13.2 L621.1,13.2 L622.6,13.1 L624.1,13.1 L625.6,13.1 L627.1,13.1 L628.6,13.0 L630.1,13.0 L631.6,13.0 L633.1,12.9 L634.6,12.9 L636.1,12.9 L637.6,12.8 L639.1,12.8 L640.6,12.8 L642.1,12.7 L643.6,12.7 L645.1,12.6 L646.6,12.6 L648.1,12.5 L649.6,12.5 L651.1,12.4 L652.6,12.3 L654.1,12.3 L655.6,12.2 L657.1,12.2 L659.1,12.1"/>
<path d="M94.6,274.3 L96.1,274.3 L97.6,274.1 L99.1,273.8 L100.6,273.6 L102.1,273.3 L103.6,273.0 L105.1,272.7 L106.6,272.4 L108.1,272.1 L109.6,271.8 L111.1,271.5 L112.6,271.1 L114.1,270.8 L115.6,270.4 L117.1,270.0 L118.6,269.6 L120.1,269.2 L121.6,268.8 L123.1,268.3 L124.6,267.8 L126.1,267.3 L127.6,266.8 L129.1,266.3 L130.6,265.7 L132.1,265.1 L133.6,264.5 L135.1,263.8 L136.6,263.2 L138.1,262.5 L139.6,261.7 L141.1,261.0 L142.6,260.2 L144.1,259.3 L145.6,258.5 L147.1,257.6 L148.6,256.6 L150.1,255.7 L151.6,254.7 L153.1,253.6 L154.6,252.5 L156.1,251.4 L157.6,250.2 L159.1,248.9 L160.6,247.7 L162.1,246.3 L163.6,244.9 L165.1,243.5 L166.6,242.0 L168.1,240.4 L169.6,238.8 L171.1,237.2 L172.6,235.5 L174.1,233.8 L175.6,232.0 L177.1,230.2 L178.6,228.4 L180.1,226.5 L181.6,224.5 L183.1,222.5 L184.6,220.5 L186.1,218.3 L187.6,216.2 L189.1,214.0 L190.6,211.8 L192.1,209.5 L193.6,207.2 L195.1,204.8 L196.6,202.4 L198.1,200.0 L199.6,197.5 L201.1,195.0 L202.6,192.5 L204.1,189.9 L205.6,187.3 L207.1,184.7 L208.6,182.1 L210.1,179.4 L211.6,176.8 L213.1,174.0 L214.6,171.3 L216.1,168.6 L217.6,165.8 L219.1,163.0 L220.6,160.2 L222.1,157.3 L223.6,154.5 L225.1,151.6 L226.6,148.7 L228.1,145.8 L229.6,142.9 L231.1,140.1 L232.6,137.2 L234.1,134.3 L235.6,131.5 L237.1,128.6 L238.6,125.8 L240.1,123.0 L241.6,120.2 L243.1,117.4 L244.6,114.7 L246.1,112.0 L247.6,109.3 L249.1,106.6 L250.6,104.0 L252.1,101.4 L253.6,98.8 L255.1,96.3 L256.6,93.8 L258.1,91.4 L259.6,89.0 L261.1,86.6 L262.6,84.3 L264.1,82.1 L265.6,79.8 L267.1,77.7 L268.6,75.5 L270.1,73.4 L271.6,71.3 L273.1,69.2 L274.6,67.2 L276.1,65.2 L277.6,63.3 L279.1,61.3 L280.6,59.5 L282.1,57.6 L283.6,55.9 L285.1,54.1 L286.6,52.4 L288.1,50.8 L289.6,49.1 L291.1,47.6 L292.6,46.1 L294.1,44.6 L295.6,43.2 L297.1,41.8 L298.6,40.5 L300.1,39.2 L301.6,37.9 L303.1,36.7 L304.6,35.5 L306.1,34.4 L307.6,33.3 L309.1,32.3 L310.6,31.3 L312.1,30.3 L313.6,29.4 L315.1,28.5 L316.6,27.6 L318.1,26.8 L319.6,26.0 L321.1,25.2 L322.6,24.5 L324.1,23.8 L325.6,23.2 L327.1,22.6 L328.6,22.1 L330.1,21.5 L331.6,21.1 L333.1,20.6 L334.6,20.2 L336.1,19.8 L337.6,19.5 L339.1,19.1 L340.6,18.8 L342.1,18.5 L343.6,18.2 L345.1,17.9 L346.6,17.7 L348.1,17.4 L349.6,17.2 L351.1,16.9 L352.6,16.7 L354.1,16.5 L355.6,16.3 L357.1,16.1 L358.6,15.9 L360.1,15.8 L361.6,15.6 L363.1,15.5 L364.6,15.3 L366.1,15.2 L367.6,15.1 L369.1,15.0 L370.6,14.8 L372.1,14.7 L373.6,14.6 L375.1,14.5 L376.6,14.4 L378.1,14.3 L379.6,14.2 L381.1,14.1 L382.6,14.0 L384.1,14.0 L385.6,13.9 L387.1,13.8 L388.6,13.8 L390.1,13.7 L391.6,13.7 L393.1,13.6 L394.6,13.6 L396.1,13.5 L397.6,13.5 L399.1,13.5 L400.6,13.4 L402.1,13.4 L403.6,13.4 L405.1,13.4 L406.6,13.3 L408.1,13.3 L409.6,13.3 L411.1,13.3 L412.6,13.3 L414.1,13.2 L415.6,13.2 L417.1,13.2 L418.6,13.2 L420.1,13.2 L421.6,13.2 L423.1,13.1 L424.6,13.1 L426.1,13.1 L427.6,13.1 L429.1,13.0 L430.6,13.0 L432.1,13.0 L433.6,12.9 L435.1,12.9 L436.6,12.9 L438.1,12.8 L439.6,12.8 L441.1,12.8 L442.6,12.7 L444.1,12.7 L445.6,12.7 L447.1,12.6 L448.6,12.6 L450.1,12.6 L451.6,12.6 L453.1,12.5 L454.6,12.5 L456.1,12.5 L457.6,12.5 L459.1,12.5 L460.6,12.5 L462.1,12.4 L463.6,12.4 L465.1,12.4 L466.6,12.4 L468.1,12.4 L469.6,12.4 L471.1,12.4 L472.6,12.4 L474.1,12.3 L475.6,12.3 L477.1,12.3 L478.6,12.3 L480.1,12.3 L481.6,12.3 L483.1,12.3 L484.6,12.3 L486.1,12.3 L487.6,12.3 L489.1,12.3 L490.6,12.3 L492.1,12.3 L493.6,12.3 L495.1,12.3 L496.6,12.3 L498.1,12.3 L499.6,12.3 L501.1,12.3 L502.6,12.3 L504.1,12.3 L505.6,12.4 L507.1,12.4 L508.6,12.4 L510.1,12.4 L511.6,12.4 L513.1,12.4 L514.6,12.4 L516.1,12.4 L517.6,12.4 L519.1,12.5 L520.6,12.5 L522.1,12.5 L523.6,12.5 L525.1,12.5 L526.6,12.5 L528.1,12.6 L529.6,12.6 L531.1,12.6 L532.6,12.6 L534.1,12.6 L535.6,12.6 L537.1,12.7 L538.6,12.7 L540.1,12.7 L541.6,12.7 L543.1,12.7 L544.6,12.7 L546.1,12.7 L547.6,12.8 L549.1,12.8 L550.6,12.8 L552.1,12.8 L553.6,12.8 L555.1,12.8 L556.6,12.9 L558.1,12.9 L559.6,12.9 L561.1,12.9 L562.6,12.9 L564.1,12.9 L565.6,13.0 L567.1,13.0 L568.6,13.0 L570.1,13.0 L571.6,13.0 L573.1,13.0 L574.6,13.1 L576.1,13.1 L577.6,13.1 L579.1,13.1 L580.6,13.1 L582.1,13.1 L583.6,13.1 L585.1,13.1 L586.6,13.2 L588.1,13.2 L589.6,13.2 L591.1,13.2 L592.6,13.2 L594.1,13.2 L595.6,13.2 L597.1,13.2 L598.6,13.2 L600.1,13.2 L601.6,13.2 L603.1,13.2 L604.6,13.2 L606.1,13.2 L607.6,13.2 L609.1,13.2 L610.6,13.2 L612.1,13.2 L613.6,13.2 L615.1,13.2 L616.6,13.2 L618.1,13.2 L619.6,13.1 L621.1,13.1 L622.6,13.1 L624.1,13.1 L625.6,13.1 L627.1,13.0 L628.6,13.0 L630.1,13.0 L631.6,13.0 L633.1,12.9 L634.6,12.9 L636.1,12.9 L637.6,12.8 L639.1,12.8 L640.6,12.7 L642.1,12.7 L643.6,12.7 L645.1,12.6 L646.6,12.6 L648.1,12.5 L649.6,12.5 L651.1,12.4 L652.6,12.3 L654.1,12.3 L655.6,12.2 L657.1,12.2 L659.1,12.1"/>
</g>
<g stroke="#000" fill="none">
<path d="M207.51,274.30v-12.40M207.51,11.70v12.40M320.42,274.30v-12.40M320.42,11.70v12.40M433.33,274.30v-12.40M433.33,11.70v12.40M546.24,274.30v-12.40M546.24,11.70v12.40M94.60,64.22h12.40M659.15,64.22h-12.40M94.60,116.74h12.40M659.15,116.74h-12.40M94.60,169.26h12.40M659.15,169.26h-12.40M94.60,221.78h12.40M659.15,221.78h-12.40" stroke-width="1.70"/>
<rect x="94.60" y="11.70" width="564.55" height="262.60" stroke-width="3.20"/>
</g>
<g fill="none" clip-path="url(#cpa)" stroke-linejoin="round">
<line x1="94.60" x2="659.15" y1="141.35" y2="141.35" stroke="#3565cb" stroke-width="6.10"/>
<path d="M94.6,274.6 L96.1,274.3 L97.6,274.1 L99.1,273.8 L100.6,273.6 L102.1,273.3 L103.6,273.0 L105.1,272.8 L106.6,272.5 L108.1,272.2 L109.6,271.9 L111.1,271.6 L112.6,271.3 L114.1,270.9 L115.6,270.6 L117.1,270.2 L118.6,269.9 L120.1,269.5 L121.6,269.0 L123.1,268.6 L124.6,268.2 L126.1,267.7 L127.6,267.2 L129.1,266.7 L130.6,266.2 L132.1,265.6 L133.6,265.0 L135.1,264.4 L136.6,263.8 L138.1,263.1 L139.6,262.4 L141.1,261.7 L142.6,261.0 L144.1,260.2 L145.6,259.4 L147.1,258.5 L148.6,257.6 L150.1,256.7 L151.6,255.8 L153.1,254.8 L154.6,253.7 L156.1,252.7 L157.6,251.6 L159.1,250.4 L160.6,249.2 L162.1,248.0 L163.6,246.7 L165.1,245.4 L166.6,244.0 L168.1,242.6 L169.6,241.1 L171.1,239.6 L172.6,238.1 L174.1,236.5 L175.6,234.9 L177.1,233.2 L178.6,231.5 L180.1,229.8 L181.6,228.0 L183.1,226.1 L184.6,224.3 L186.1,222.4 L187.6,220.4 L189.1,218.5 L190.6,216.5 L192.1,214.4 L193.6,212.3 L195.1,210.2 L196.6,208.1 L198.1,205.9 L199.6,203.7 L201.1,201.4 L202.6,199.1 L204.1,196.8 L205.6,194.5 L207.1,192.1 L208.6,189.7 L210.1,187.3 L211.6,184.9 L213.1,182.4 L214.6,179.9 L216.1,177.4 L217.6,174.8 L219.1,172.3 L220.6,169.7 L222.1,167.1 L223.6,164.5 L225.1,161.9 L226.6,159.2 L228.1,156.6 L229.6,153.9 L231.1,151.3 L232.6,148.6 L234.1,146.0 L235.6,143.4 L237.1,140.7 L238.6,138.2 L240.1,135.6 L241.6,133.0 L243.1,130.5 L244.6,128.0 L246.1,125.6 L247.6,123.1 L249.1,120.7 L250.6,118.3 L252.1,115.9 L253.6,113.6 L255.1,111.2 L256.6,108.9 L258.1,106.7 L259.6,104.4 L261.1,102.2 L262.6,100.1 L264.1,97.9 L265.6,95.8 L267.1,93.7 L268.6,91.6 L270.1,89.6 L271.6,87.6 L273.1,85.6 L274.6,83.7 L276.1,81.8 L277.6,79.9 L279.1,78.1 L280.6,76.3 L282.1,74.5 L283.6,72.8 L285.1,71.1 L286.6,69.4 L288.1,67.8 L289.6,66.2 L291.1,64.7 L292.6,63.1 L294.1,61.7 L295.6,60.2 L297.1,58.8 L298.6,57.5 L300.1,56.1 L301.6,54.8 L303.1,53.6 L304.6,52.4 L306.1,51.2 L307.6,50.1 L309.1,49.0 L310.6,47.9 L312.1,46.9 L313.6,45.9 L315.1,44.9 L316.6,44.0 L318.1,43.1 L319.6,42.2 L321.1,41.4 L322.6,40.6 L324.1,39.8 L325.6,39.0 L327.1,38.3 L328.6,37.6 L330.1,36.9 L331.6,36.3 L333.1,35.6 L334.6,35.0 L336.1,34.4 L337.6,33.9 L339.1,33.3 L340.6,32.8 L342.1,32.3 L343.6,31.8 L345.1,31.4 L346.6,30.9 L348.1,30.5 L349.6,30.1 L351.1,29.7 L352.6,29.3 L354.1,28.9 L355.6,28.5 L357.1,28.2 L358.6,27.8 L360.1,27.5 L361.6,27.2 L363.1,26.8 L364.6,26.5 L366.1,26.2 L367.6,25.9 L369.1,25.7 L370.6,25.4 L372.1,25.1 L373.6,24.8 L375.1,24.5 L376.6,24.3 L378.1,24.0 L379.6,23.8 L381.1,23.5 L382.6,23.3 L384.1,23.0 L385.6,22.8 L387.1,22.5 L388.6,22.3 L390.1,22.1 L391.6,21.8 L393.1,21.6 L394.6,21.4 L396.1,21.2 L397.6,21.0 L399.1,20.8 L400.6,20.6 L402.1,20.4 L403.6,20.2 L405.1,20.0 L406.6,19.8 L408.1,19.6 L409.6,19.4 L411.1,19.3 L412.6,19.1 L414.1,18.9 L415.6,18.8 L417.1,18.6 L418.6,18.4 L420.1,18.3 L421.6,18.1 L423.1,18.0 L424.6,17.8 L426.1,17.7 L427.6,17.5 L429.1,17.4 L430.6,17.3 L432.1,17.1 L433.6,17.0 L435.1,16.9 L436.6,16.8 L438.1,16.7 L439.6,16.5 L441.1,16.4 L442.6,16.3 L444.1,16.2 L445.6,16.1 L447.1,16.0 L448.6,15.9 L450.1,15.8 L451.6,15.7 L453.1,15.6 L454.6,15.5 L456.1,15.4 L457.6,15.4 L459.1,15.3 L460.6,15.2 L462.1,15.1 L463.6,15.0 L465.1,15.0 L466.6,14.9 L468.1,14.8 L469.6,14.8 L471.1,14.7 L472.6,14.6 L474.1,14.6 L475.6,14.5 L477.1,14.5 L478.6,14.4 L480.1,14.4 L481.6,14.3 L483.1,14.3 L484.6,14.2 L486.1,14.2 L487.6,14.1 L489.1,14.1 L490.6,14.1 L492.1,14.0 L493.6,14.0 L495.1,14.0 L496.6,13.9 L498.1,13.9 L499.6,13.9 L501.1,13.8 L502.6,13.8 L504.1,13.8 L505.6,13.8 L507.1,13.7 L508.6,13.7 L510.1,13.7 L511.6,13.7 L513.1,13.7 L514.6,13.6 L516.1,13.6 L517.6,13.6 L519.1,13.6 L520.6,13.6 L522.1,13.6 L523.6,13.6 L525.1,13.6 L526.6,13.6 L528.1,13.5 L529.6,13.5 L531.1,13.5 L532.6,13.5 L534.1,13.5 L535.6,13.5 L537.1,13.5 L538.6,13.5 L540.1,13.5 L541.6,13.5 L543.1,13.5 L544.6,13.5 L546.1,13.5 L547.6,13.5 L549.1,13.5 L550.6,13.5 L552.1,13.5 L553.6,13.5 L555.1,13.5 L556.6,13.5 L558.1,13.5 L559.6,13.5 L561.1,13.5 L562.6,13.5 L564.1,13.5 L565.6,13.5 L567.1,13.5 L568.6,13.5 L570.1,13.5 L571.6,13.5 L573.1,13.5 L574.6,13.5 L576.1,13.5 L577.6,13.5 L579.1,13.5 L580.6,13.5 L582.1,13.5 L583.6,13.5 L585.1,13.5 L586.6,13.5 L588.1,13.5 L589.6,13.5 L591.1,13.5 L592.6,13.5 L594.1,13.5 L595.6,13.5 L597.1,13.5 L598.6,13.5 L600.1,13.5 L601.6,13.5 L603.1,13.4 L604.6,13.4 L606.1,13.4 L607.6,13.4 L609.1,13.4 L610.6,13.4 L612.1,13.4 L613.6,13.3 L615.1,13.3 L616.6,13.3 L618.1,13.3 L619.6,13.3 L621.1,13.2 L622.6,13.2 L624.1,13.2 L625.6,13.2 L627.1,13.1 L628.6,13.1 L630.1,13.1 L631.6,13.0 L633.1,13.0 L634.6,12.9 L636.1,12.9 L637.6,12.9 L639.1,12.8 L640.6,12.8 L642.1,12.7 L643.6,12.7 L645.1,12.6 L646.6,12.6 L648.1,12.5 L649.6,12.5 L651.1,12.4 L652.6,12.3 L654.1,12.3 L655.6,12.2 L657.1,12.2 L659.1,12.1" stroke="#e2001e" stroke-width="6.00"/>
</g>
<line x1="235.6" x2="235.6" y1="327.20" y2="589.80" stroke="#0a7410" stroke-width="2.9" clip-path="url(#cpb)"/>
<g stroke="#d3d3d3" stroke-width="1.75" fill="none" clip-path="url(#cpb)" stroke-linejoin="round">
<line x1="94.60" x2="659.15" y1="376.30" y2="376.30" stroke-width="1.50"/>
<line x1="94.60" x2="659.15" y1="381.60" y2="381.60" stroke-width="1.50"/>
<line x1="94.60" x2="659.15" y1="389.90" y2="389.90" stroke-width="1.50"/>
<line x1="94.60" x2="659.15" y1="396.80" y2="396.80" stroke-width="1.50"/>
<line x1="94.60" x2="659.15" y1="400.60" y2="400.60" stroke-width="3.00"/>
<line x1="94.60" x2="659.15" y1="406.70" y2="406.70" stroke-width="1.50"/>
<line x1="94.60" x2="659.15" y1="420.50" y2="420.50" stroke-width="1.50"/>
<line x1="94.60" x2="659.15" y1="426.60" y2="426.60" stroke-width="1.50"/>
<line x1="94.60" x2="659.15" y1="445.00" y2="445.00" stroke-width="1.50"/>
<line x1="94.60" x2="659.15" y1="451.50" y2="451.50" stroke-width="1.50"/>
<line x1="94.60" x2="659.15" y1="462.50" y2="462.50" stroke-width="1.50"/>
<path d="M94.6,588.9 L96.1,588.9 L97.6,588.8 L99.1,588.6 L100.6,588.3 L102.1,588.1 L103.6,587.4 L105.1,586.2 L106.6,585.1 L108.1,584.6 L109.6,584.2 L111.1,583.7 L112.6,582.8 L114.1,581.6 L115.6,580.7 L117.1,580.4 L118.6,580.4 L120.1,580.4 L121.6,580.4 L123.1,579.9 L124.6,578.3 L126.1,575.9 L127.6,573.0 L129.1,571.3 L130.6,570.1 L132.1,569.3 L133.6,568.9 L135.1,568.2 L136.6,565.5 L138.1,562.1 L139.6,560.0 L141.1,558.4 L142.6,556.9 L144.1,555.1 L145.6,553.0 L147.1,550.7 L148.6,548.2 L150.1,545.7 L151.6,543.1 L153.1,540.4 L154.6,537.7 L156.1,535.0 L157.6,532.3 L159.1,529.6 L160.6,526.9 L162.1,524.2 L163.6,521.6 L165.1,518.9 L166.6,516.3 L168.1,513.6 L169.6,510.8 L171.1,507.9 L172.6,504.9 L174.1,501.8 L175.6,498.8 L177.1,495.7 L178.6,492.5 L180.1,489.3 L181.6,486.1 L183.1,482.9 L184.6,479.8 L186.1,476.8 L187.6,473.7 L189.1,470.8 L190.6,467.8 L192.1,464.9 L193.6,462.1 L195.1,459.3 L196.6,456.5 L198.1,453.7 L199.6,451.0 L201.1,448.3 L202.6,445.6 L204.1,443.0 L205.6,440.4 L207.1,437.8 L208.6,435.2 L210.1,432.8 L211.6,430.3 L213.1,427.9 L214.6,425.6 L216.1,423.3 L217.6,421.1 L219.1,419.0 L220.6,416.9 L222.1,414.9 L223.6,413.0 L225.1,411.1 L226.6,409.4 L228.1,407.7 L229.6,406.1 L231.1,404.5 L232.6,403.1 L234.1,401.7 L235.6,400.5 L237.1,399.3 L238.6,398.2 L240.1,397.3 L241.6,396.4 L243.1,395.7 L244.6,395.1 L246.1,394.7 L247.6,394.4 L249.1,394.2 L250.6,394.2 L252.1,394.2 L253.6,394.3 L255.1,394.4 L256.6,394.6 L258.1,394.7 L259.6,394.9 L261.1,395.1 L262.6,395.3 L264.1,395.5 L265.6,395.7 L267.1,395.9 L268.6,396.1 L270.1,396.4 L271.6,396.8 L273.1,397.2 L274.6,397.6 L276.1,398.1 L277.6,398.7 L279.1,399.3 L280.6,399.9 L282.1,400.7 L283.6,401.5 L285.1,402.3 L286.6,403.2 L288.1,404.0 L289.6,405.0 L291.1,405.9 L292.6,406.8 L294.1,407.8 L295.6,408.7 L297.1,409.7 L298.6,410.7 L300.1,411.6 L301.6,412.6 L303.1,413.6 L304.6,414.6 L306.1,415.6 L307.6,416.7 L309.1,417.8 L310.6,418.9 L312.1,420.0 L313.6,421.1 L315.1,422.3 L316.6,423.4 L318.1,424.6 L319.6,425.7 L321.1,426.9 L322.6,428.0 L324.1,429.1 L325.6,430.2 L327.1,431.3 L328.6,432.4 L330.1,433.5 L331.6,434.6 L333.1,435.6 L334.6,436.7 L336.1,437.8 L337.6,438.9 L339.1,440.0 L340.6,441.1 L342.1,442.3 L343.6,443.4 L345.1,444.5 L346.6,445.7 L348.1,446.8 L349.6,447.9 L351.1,448.9 L352.6,450.0 L354.1,451.0 L355.6,451.9 L357.1,452.9 L358.6,453.7 L360.1,454.6 L361.6,455.4 L363.1,456.2 L364.6,456.9 L366.1,457.7 L367.6,458.5 L369.1,459.2 L370.6,460.0 L372.1,460.8 L373.6,461.6 L375.1,462.4 L376.6,463.2 L378.1,464.1 L379.6,464.9 L381.1,465.8 L382.6,466.7 L384.1,467.5 L385.6,468.4 L387.1,469.3 L388.6,470.1 L390.1,471.0 L391.6,471.8 L393.1,472.7 L394.6,473.5 L396.1,474.4 L397.6,475.2 L399.1,476.1 L400.6,477.0 L402.1,477.9 L403.6,478.8 L405.1,479.8 L406.6,480.7 L408.1,481.6 L409.6,482.6 L411.1,483.5 L412.6,484.4 L414.1,485.3 L415.6,486.2 L417.1,487.0 L418.6,487.8 L420.1,488.6 L421.6,489.4 L423.1,490.1 L424.6,490.8 L426.1,491.5 L427.6,492.2 L429.1,492.9 L430.6,493.6 L432.1,494.4 L433.6,495.1 L435.1,495.9 L436.6,496.7 L438.1,497.5 L439.6,498.3 L441.1,499.1 L442.6,500.0 L444.1,500.8 L445.6,501.6 L447.1,502.5 L448.6,503.3 L450.1,504.1 L451.6,504.8 L453.1,505.6 L454.6,506.3 L456.1,507.0 L457.6,507.7 L459.1,508.4 L460.6,509.1 L462.1,509.8 L463.6,510.5 L465.1,511.2 L466.6,511.9 L468.1,512.6 L469.6,513.3 L471.1,514.0 L472.6,514.7 L474.1,515.4 L475.6,516.2 L477.1,516.9 L478.6,517.6 L480.1,518.2 L481.6,518.9 L483.1,519.6 L484.6,520.2 L486.1,520.8 L487.6,521.5 L489.1,522.1 L490.6,522.8 L492.1,523.4 L493.6,524.1 L495.1,524.8 L496.6,525.5 L498.1,526.3 L499.6,527.0 L501.1,527.8 L502.6,528.6 L504.1,529.3 L505.6,530.1 L507.1,530.8 L508.6,531.6 L510.1,532.3 L511.6,532.9 L513.1,533.6 L514.6,534.2 L516.1,534.7 L517.6,535.2 L519.1,535.7 L520.6,536.2 L522.1,536.6 L523.6,537.0 L525.1,537.4 L526.6,537.8 L528.1,538.3 L529.6,538.7 L531.1,539.1 L532.6,539.5 L534.1,540.0 L535.6,540.4 L537.1,540.9 L538.6,541.3 L540.1,541.7 L541.6,542.2 L543.1,542.6 L544.6,543.0 L546.1,543.4 L547.6,543.8 L549.1,544.2 L550.6,544.5 L552.1,544.9 L553.6,545.3 L555.1,545.7 L556.6,546.1 L558.1,546.5 L559.6,547.0 L561.1,547.4 L562.6,547.9 L564.1,548.3 L565.6,548.8 L567.1,549.3 L568.6,549.8 L570.1,550.2 L571.6,550.7 L573.1,551.1 L574.6,551.5 L576.1,551.8 L577.6,552.2 L579.1,552.5 L580.6,552.8 L582.1,553.1 L583.6,553.4 L585.1,553.7 L586.6,554.0 L588.1,554.3 L589.6,554.6 L591.1,554.9 L592.6,555.3 L594.1,555.7 L595.6,556.1 L597.1,556.5 L598.6,556.9 L600.1,557.4 L601.6,557.8 L603.1,558.2 L604.6,558.6 L606.1,559.0 L607.6,559.4 L609.1,559.7 L610.6,560.0 L612.1,560.3 L613.6,560.6 L615.1,560.9 L616.6,561.1 L618.1,561.3 L619.6,561.5 L621.1,561.8 L622.6,562.0 L624.1,562.2 L625.6,562.4 L627.1,562.6 L628.6,562.9 L630.1,563.1 L631.6,563.3 L633.1,563.4 L634.6,563.6 L636.1,563.8 L637.6,563.9 L639.1,564.0 L640.6,564.1 L642.1,564.2 L643.6,564.3 L645.1,564.4 L646.6,564.5 L648.1,564.7 L649.6,564.8 L651.1,565.0 L652.6,565.2 L654.1,565.5 L655.6,565.7 L657.1,566.0 L659.1,566.4"/>
<path d="M94.6,588.9 L96.1,588.9 L97.6,588.8 L99.1,588.6 L100.6,588.3 L102.1,588.1 L103.6,587.4 L105.1,586.2 L106.6,585.1 L108.1,584.6 L109.6,584.2 L111.1,583.7 L112.6,582.8 L114.1,581.6 L115.6,580.7 L117.1,580.4 L118.6,580.4 L120.1,580.4 L121.6,580.4 L123.1,579.9 L124.6,578.3 L126.1,575.9 L127.6,573.0 L129.1,571.3 L130.6,570.1 L132.1,569.3 L133.6,568.9 L135.1,568.2 L136.6,565.5 L138.1,562.1 L139.6,560.0 L141.1,558.4 L142.6,556.9 L144.1,555.1 L145.6,553.0 L147.1,550.7 L148.6,548.2 L150.1,545.7 L151.6,543.1 L153.1,540.4 L154.6,537.7 L156.1,535.0 L157.6,532.3 L159.1,529.6 L160.6,526.9 L162.1,524.2 L163.6,521.6 L165.1,518.9 L166.6,516.3 L168.1,513.6 L169.6,510.8 L171.1,507.9 L172.6,504.9 L174.1,501.8 L175.6,498.8 L177.1,495.7 L178.6,492.6 L180.1,489.4 L181.6,486.2 L183.1,483.0 L184.6,479.9 L186.1,476.9 L187.6,474.0 L189.1,471.0 L190.6,468.2 L192.1,465.3 L193.6,462.5 L195.1,459.7 L196.6,457.0 L198.1,454.3 L199.6,451.6 L201.1,448.9 L202.6,446.3 L204.1,443.7 L205.6,441.1 L207.1,438.6 L208.6,436.2 L210.1,433.8 L211.6,431.4 L213.1,429.1 L214.6,426.9 L216.1,424.7 L217.6,422.6 L219.1,420.6 L220.6,418.6 L222.1,416.7 L223.6,414.9 L225.1,413.2 L226.6,411.5 L228.1,409.9 L229.6,408.4 L231.1,407.0 L232.6,405.7 L234.1,404.4 L235.6,403.3 L237.1,402.2 L238.6,401.3 L240.1,400.5 L241.6,399.8 L243.1,399.2 L244.6,398.8 L246.1,398.5 L247.6,398.4 L249.1,398.4 L250.6,398.5 L252.1,398.6 L253.6,398.7 L255.1,398.9 L256.6,399.1 L258.1,399.4 L259.6,399.7 L261.1,400.0 L262.6,400.3 L264.1,400.7 L265.6,401.1 L267.1,401.5 L268.6,402.0 L270.1,402.6 L271.6,403.2 L273.1,403.8 L274.6,404.5 L276.1,405.3 L277.6,406.1 L279.1,406.9 L280.6,407.8 L282.1,408.7 L283.6,409.6 L285.1,410.5 L286.6,411.4 L288.1,412.4 L289.6,413.3 L291.1,414.2 L292.6,415.1 L294.1,416.0 L295.6,416.8 L297.1,417.7 L298.6,418.6 L300.1,419.5 L301.6,420.4 L303.1,421.3 L304.6,422.2 L306.1,423.2 L307.6,424.2 L309.1,425.2 L310.6,426.3 L312.1,427.3 L313.6,428.4 L315.1,429.6 L316.6,430.7 L318.1,431.8 L319.6,432.9 L321.1,434.1 L322.6,435.2 L324.1,436.3 L325.6,437.4 L327.1,438.6 L328.6,439.7 L330.1,440.8 L331.6,442.0 L333.1,443.1 L334.6,444.3 L336.1,445.5 L337.6,446.7 L339.1,447.9 L340.6,449.1 L342.1,450.3 L343.6,451.5 L345.1,452.6 L346.6,453.8 L348.1,454.9 L349.6,456.0 L351.1,457.1 L352.6,458.1 L354.1,459.0 L355.6,460.0 L357.1,460.9 L358.6,461.8 L360.1,462.6 L361.6,463.5 L363.1,464.3 L364.6,465.1 L366.1,465.9 L367.6,466.8 L369.1,467.7 L370.6,468.5 L372.1,469.4 L373.6,470.3 L375.1,471.2 L376.6,472.1 L378.1,473.0 L379.6,473.9 L381.1,474.8 L382.6,475.7 L384.1,476.5 L385.6,477.3 L387.1,478.2 L388.6,478.9 L390.1,479.7 L391.6,480.5 L393.1,481.2 L394.6,482.0 L396.1,482.8 L397.6,483.5 L399.1,484.3 L400.6,485.1 L402.1,485.9 L403.6,486.7 L405.1,487.5 L406.6,488.3 L408.1,489.1 L409.6,489.9 L411.1,490.7 L412.6,491.5 L414.1,492.3 L415.6,493.1 L417.1,493.8 L418.6,494.6 L420.1,495.3 L421.6,496.1 L423.1,496.9 L424.6,497.6 L426.1,498.4 L427.6,499.3 L429.1,500.1 L430.6,501.0 L432.1,501.9 L433.6,502.8 L435.1,503.8 L436.6,504.8 L438.1,505.7 L439.6,506.7 L441.1,507.7 L442.6,508.7 L444.1,509.6 L445.6,510.5 L447.1,511.4 L448.6,512.2 L450.1,513.1 L451.6,513.8 L453.1,514.6 L454.6,515.3 L456.1,516.0 L457.6,516.7 L459.1,517.4 L460.6,518.0 L462.1,518.7 L463.6,519.4 L465.1,520.1 L466.6,520.7 L468.1,521.4 L469.6,522.1 L471.1,522.8 L472.6,523.4 L474.1,524.1 L475.6,524.7 L477.1,525.3 L478.6,525.9 L480.1,526.5 L481.6,527.1 L483.1,527.6 L484.6,528.2 L486.1,528.7 L487.6,529.3 L489.1,529.8 L490.6,530.4 L492.1,531.0 L493.6,531.6 L495.1,532.2 L496.6,532.9 L498.1,533.5 L499.6,534.1 L501.1,534.8 L502.6,535.4 L504.1,536.0 L505.6,536.6 L507.1,537.2 L508.6,537.8 L510.1,538.3 L511.6,538.8 L513.1,539.3 L514.6,539.7 L516.1,540.2 L517.6,540.6 L519.1,541.0 L520.6,541.5 L522.1,541.9 L523.6,542.4 L525.1,542.8 L526.6,543.3 L528.1,543.9 L529.6,544.4 L531.1,545.0 L532.6,545.5 L534.1,546.1 L535.6,546.7 L537.1,547.2 L538.6,547.8 L540.1,548.3 L541.6,548.8 L543.1,549.3 L544.6,549.8 L546.1,550.3 L547.6,550.7 L549.1,551.1 L550.6,551.5 L552.1,551.9 L553.6,552.3 L555.1,552.7 L556.6,553.1 L558.1,553.4 L559.6,553.8 L561.1,554.2 L562.6,554.5 L564.1,554.9 L565.6,555.2 L567.1,555.5 L568.6,555.8 L570.1,556.1 L571.6,556.3 L573.1,556.5 L574.6,556.7 L576.1,556.9 L577.6,557.1 L579.1,557.2 L580.6,557.4 L582.1,557.6 L583.6,557.7 L585.1,558.0 L586.6,558.2 L588.1,558.5 L589.6,558.8 L591.1,559.1 L592.6,559.5 L594.1,559.8 L595.6,560.2 L597.1,560.6 L598.6,561.0 L600.1,561.4 L601.6,561.8 L603.1,562.1 L604.6,562.5 L606.1,562.8 L607.6,563.1 L609.1,563.4 L610.6,563.6 L612.1,563.9 L613.6,564.1 L615.1,564.3 L616.6,564.6 L618.1,564.8 L619.6,565.1 L621.1,565.3 L622.6,565.6 L624.1,565.8 L625.6,566.1 L627.1,566.4 L628.6,566.7 L630.1,566.9 L631.6,567.2 L633.1,567.4 L634.6,567.6 L636.1,567.9 L637.6,568.1 L639.1,568.2 L640.6,568.4 L642.1,568.6 L643.6,568.8 L645.1,569.0 L646.6,569.2 L648.1,569.4 L649.6,569.6 L651.1,569.8 L652.6,570.0 L654.1,570.2 L655.6,570.5 L657.1,570.7 L659.1,571.0"/>
<path d="M94.6,588.9 L96.1,588.9 L97.6,588.8 L99.1,588.6 L100.6,588.3 L102.1,588.1 L103.6,587.4 L105.1,586.2 L106.6,585.1 L108.1,584.6 L109.6,584.2 L111.1,583.7 L112.6,582.8 L114.1,581.6 L115.6,580.7 L117.1,580.4 L118.6,580.4 L120.1,580.4 L121.6,580.4 L123.1,579.9 L124.6,578.3 L126.1,575.9 L127.6,573.0 L129.1,571.3 L130.6,570.1 L132.1,569.3 L133.6,568.9 L135.1,568.2 L136.6,565.5 L138.1,562.1 L139.6,560.0 L141.1,558.4 L142.6,556.9 L144.1,555.1 L145.6,553.0 L147.1,550.7 L148.6,548.2 L150.1,545.7 L151.6,543.1 L153.1,540.4 L154.6,537.7 L156.1,535.0 L157.6,532.3 L159.1,529.6 L160.6,526.9 L162.1,524.2 L163.6,521.6 L165.1,518.9 L166.6,516.3 L168.1,513.6 L169.6,510.8 L171.1,507.9 L172.6,504.9 L174.1,501.9 L175.6,498.8 L177.1,495.7 L178.6,492.6 L180.1,489.4 L181.6,486.2 L183.1,483.1 L184.6,480.0 L186.1,477.0 L187.6,474.0 L189.1,471.1 L190.6,468.2 L192.1,465.4 L193.6,462.7 L195.1,460.0 L196.6,457.3 L198.1,454.7 L199.6,452.1 L201.1,449.5 L202.6,447.0 L204.1,444.5 L205.6,442.1 L207.1,439.7 L208.6,437.4 L210.1,435.1 L211.6,432.9 L213.1,430.7 L214.6,428.6 L216.1,426.6 L217.6,424.6 L219.1,422.7 L220.6,420.9 L222.1,419.1 L223.6,417.5 L225.1,415.9 L226.6,414.4 L228.1,413.0 L229.6,411.7 L231.1,410.5 L232.6,409.3 L234.1,408.3 L235.6,407.3 L237.1,406.4 L238.6,405.6 L240.1,404.9 L241.6,404.3 L243.1,403.8 L244.6,403.4 L246.1,403.1 L247.6,403.0 L249.1,402.9 L250.6,402.9 L252.1,403.0 L253.6,403.1 L255.1,403.3 L256.6,403.5 L258.1,403.9 L259.6,404.3 L261.1,404.7 L262.6,405.2 L264.1,405.7 L265.6,406.3 L267.1,406.9 L268.6,407.6 L270.1,408.3 L271.6,409.0 L273.1,409.7 L274.6,410.5 L276.1,411.3 L277.6,412.2 L279.1,413.1 L280.6,414.0 L282.1,414.9 L283.6,415.9 L285.1,416.9 L286.6,418.0 L288.1,419.1 L289.6,420.1 L291.1,421.2 L292.6,422.3 L294.1,423.4 L295.6,424.5 L297.1,425.5 L298.6,426.5 L300.1,427.6 L301.6,428.6 L303.1,429.6 L304.6,430.6 L306.1,431.6 L307.6,432.6 L309.1,433.6 L310.6,434.6 L312.1,435.7 L313.6,436.7 L315.1,437.9 L316.6,439.0 L318.1,440.1 L319.6,441.3 L321.1,442.5 L322.6,443.7 L324.1,444.9 L325.6,446.1 L327.1,447.3 L328.6,448.4 L330.1,449.6 L331.6,450.7 L333.1,451.7 L334.6,452.8 L336.1,453.8 L337.6,454.8 L339.1,455.8 L340.6,456.8 L342.1,457.8 L343.6,458.8 L345.1,459.8 L346.6,460.7 L348.1,461.7 L349.6,462.7 L351.1,463.7 L352.6,464.7 L354.1,465.7 L355.6,466.7 L357.1,467.6 L358.6,468.6 L360.1,469.5 L361.6,470.4 L363.1,471.3 L364.6,472.2 L366.1,473.0 L367.6,473.9 L369.1,474.8 L370.6,475.6 L372.1,476.5 L373.6,477.4 L375.1,478.4 L376.6,479.3 L378.1,480.3 L379.6,481.2 L381.1,482.2 L382.6,483.2 L384.1,484.2 L385.6,485.2 L387.1,486.1 L388.6,487.1 L390.1,488.0 L391.6,488.9 L393.1,489.8 L394.6,490.6 L396.1,491.4 L397.6,492.1 L399.1,492.9 L400.6,493.6 L402.1,494.3 L403.6,495.0 L405.1,495.7 L406.6,496.4 L408.1,497.1 L409.6,497.9 L411.1,498.6 L412.6,499.4 L414.1,500.2 L415.6,501.0 L417.1,501.8 L418.6,502.6 L420.1,503.4 L421.6,504.2 L423.1,505.0 L424.6,505.8 L426.1,506.6 L427.6,507.4 L429.1,508.2 L430.6,509.0 L432.1,509.7 L433.6,510.5 L435.1,511.4 L436.6,512.2 L438.1,513.0 L439.6,513.9 L441.1,514.7 L442.6,515.6 L444.1,516.5 L445.6,517.4 L447.1,518.2 L448.6,519.1 L450.1,520.0 L451.6,520.8 L453.1,521.6 L454.6,522.3 L456.1,523.1 L457.6,523.8 L459.1,524.5 L460.6,525.1 L462.1,525.7 L463.6,526.4 L465.1,527.0 L466.6,527.6 L468.1,528.3 L469.6,528.9 L471.1,529.6 L472.6,530.2 L474.1,530.9 L475.6,531.6 L477.1,532.4 L478.6,533.1 L480.1,533.8 L481.6,534.5 L483.1,535.2 L484.6,535.9 L486.1,536.5 L487.6,537.1 L489.1,537.7 L490.6,538.3 L492.1,538.8 L493.6,539.3 L495.1,539.8 L496.6,540.3 L498.1,540.7 L499.6,541.2 L501.1,541.6 L502.6,542.1 L504.1,542.5 L505.6,543.0 L507.1,543.5 L508.6,543.9 L510.1,544.4 L511.6,544.8 L513.1,545.2 L514.6,545.6 L516.1,546.0 L517.6,546.4 L519.1,546.8 L520.6,547.1 L522.1,547.5 L523.6,547.8 L525.1,548.2 L526.6,548.5 L528.1,548.9 L529.6,549.3 L531.1,549.7 L532.6,550.2 L534.1,550.6 L535.6,551.1 L537.1,551.7 L538.6,552.2 L540.1,552.8 L541.6,553.3 L543.1,553.9 L544.6,554.4 L546.1,555.0 L547.6,555.5 L549.1,555.9 L550.6,556.4 L552.1,556.8 L553.6,557.2 L555.1,557.5 L556.6,557.8 L558.1,558.1 L559.6,558.4 L561.1,558.7 L562.6,559.0 L564.1,559.3 L565.6,559.6 L567.1,559.9 L568.6,560.2 L570.1,560.5 L571.6,560.8 L573.1,561.1 L574.6,561.4 L576.1,561.7 L577.6,562.0 L579.1,562.2 L580.6,562.5 L582.1,562.7 L583.6,563.0 L585.1,563.2 L586.6,563.4 L588.1,563.6 L589.6,563.8 L591.1,564.0 L592.6,564.2 L594.1,564.4 L595.6,564.7 L597.1,564.9 L598.6,565.2 L600.1,565.5 L601.6,565.7 L603.1,566.0 L604.6,566.3 L606.1,566.5 L607.6,566.8 L609.1,567.0 L610.6,567.2 L612.1,567.4 L613.6,567.6 L615.1,567.7 L616.6,567.9 L618.1,568.0 L619.6,568.1 L621.1,568.2 L622.6,568.4 L624.1,568.5 L625.6,568.7 L627.1,568.9 L628.6,569.1 L630.1,569.3 L631.6,569.6 L633.1,569.9 L634.6,570.1 L636.1,570.4 L637.6,570.7 L639.1,571.0 L640.6,571.3 L642.1,571.6 L643.6,571.9 L645.1,572.1 L646.6,572.4 L648.1,572.6 L649.6,572.8 L651.1,573.0 L652.6,573.2 L654.1,573.4 L655.6,573.6 L657.1,573.8 L659.1,574.0"/>
<path d="M94.6,588.9 L96.1,588.9 L97.6,588.8 L99.1,588.6 L100.6,588.3 L102.1,588.1 L103.6,587.4 L105.1,586.2 L106.6,585.1 L108.1,584.6 L109.6,584.2 L111.1,583.7 L112.6,582.8 L114.1,581.6 L115.6,580.7 L117.1,580.4 L118.6,580.4 L120.1,580.4 L121.6,580.4 L123.1,579.9 L124.6,578.3 L126.1,575.9 L127.6,573.0 L129.1,571.3 L130.6,570.1 L132.1,569.3 L133.6,568.9 L135.1,568.2 L136.6,565.5 L138.1,562.1 L139.6,560.0 L141.1,558.4 L142.6,556.9 L144.1,555.1 L145.6,553.0 L147.1,550.7 L148.6,548.2 L150.1,545.7 L151.6,543.1 L153.1,540.4 L154.6,537.7 L156.1,535.0 L157.6,532.3 L159.1,529.6 L160.6,526.9 L162.1,524.2 L163.6,521.6 L165.1,518.9 L166.6,516.3 L168.1,513.6 L169.6,510.8 L171.1,508.0 L172.6,504.9 L174.1,501.9 L175.6,498.8 L177.1,495.8 L178.6,492.6 L180.1,489.5 L181.6,486.3 L183.1,483.1 L184.6,480.0 L186.1,477.1 L187.6,474.1 L189.1,471.3 L190.6,468.5 L192.1,465.7 L193.6,463.0 L195.1,460.4 L196.6,457.8 L198.1,455.2 L199.6,452.7 L201.1,450.2 L202.6,447.8 L204.1,445.4 L205.6,443.1 L207.1,440.9 L208.6,438.7 L210.1,436.5 L211.6,434.5 L213.1,432.4 L214.6,430.5 L216.1,428.6 L217.6,426.7 L219.1,424.9 L220.6,423.2 L222.1,421.5 L223.6,419.9 L225.1,418.4 L226.6,417.0 L228.1,415.6 L229.6,414.3 L231.1,413.2 L232.6,412.1 L234.1,411.2 L235.6,410.4 L237.1,409.7 L238.6,409.2 L240.1,408.7 L241.6,408.4 L243.1,408.3 L244.6,408.2 L246.1,408.3 L247.6,408.4 L249.1,408.5 L250.6,408.7 L252.1,408.9 L253.6,409.1 L255.1,409.4 L256.6,409.7 L258.1,410.0 L259.6,410.4 L261.1,410.8 L262.6,411.2 L264.1,411.7 L265.6,412.3 L267.1,412.9 L268.6,413.6 L270.1,414.3 L271.6,415.1 L273.1,415.9 L274.6,416.7 L276.1,417.6 L277.6,418.5 L279.1,419.4 L280.6,420.4 L282.1,421.3 L283.6,422.3 L285.1,423.3 L286.6,424.3 L288.1,425.3 L289.6,426.4 L291.1,427.4 L292.6,428.5 L294.1,429.6 L295.6,430.8 L297.1,432.0 L298.6,433.2 L300.1,434.4 L301.6,435.6 L303.1,436.8 L304.6,438.1 L306.1,439.3 L307.6,440.5 L309.1,441.7 L310.6,442.9 L312.1,444.0 L313.6,445.1 L315.1,446.2 L316.6,447.2 L318.1,448.3 L319.6,449.2 L321.1,450.2 L322.6,451.2 L324.1,452.2 L325.6,453.1 L327.1,454.1 L328.6,455.1 L330.1,456.1 L331.6,457.1 L333.1,458.1 L334.6,459.2 L336.1,460.3 L337.6,461.3 L339.1,462.4 L340.6,463.5 L342.1,464.5 L343.6,465.5 L345.1,466.6 L346.6,467.6 L348.1,468.6 L349.6,469.5 L351.1,470.5 L352.6,471.5 L354.1,472.4 L355.6,473.4 L357.1,474.3 L358.6,475.3 L360.1,476.2 L361.6,477.2 L363.1,478.2 L364.6,479.1 L366.1,480.1 L367.6,481.1 L369.1,482.0 L370.6,482.9 L372.1,483.8 L373.6,484.7 L375.1,485.6 L376.6,486.4 L378.1,487.2 L379.6,488.0 L381.1,488.8 L382.6,489.6 L384.1,490.4 L385.6,491.1 L387.1,491.9 L388.6,492.8 L390.1,493.6 L391.6,494.4 L393.1,495.3 L394.6,496.2 L396.1,497.1 L397.6,498.1 L399.1,499.0 L400.6,499.9 L402.1,500.9 L403.6,501.8 L405.1,502.7 L406.6,503.5 L408.1,504.4 L409.6,505.2 L411.1,506.0 L412.6,506.7 L414.1,507.5 L415.6,508.2 L417.1,508.9 L418.6,509.6 L420.1,510.3 L421.6,511.1 L423.1,511.8 L424.6,512.5 L426.1,513.3 L427.6,514.0 L429.1,514.8 L430.6,515.6 L432.1,516.3 L433.6,517.1 L435.1,517.9 L436.6,518.6 L438.1,519.4 L439.6,520.1 L441.1,520.9 L442.6,521.6 L444.1,522.3 L445.6,523.1 L447.1,523.8 L448.6,524.6 L450.1,525.3 L451.6,526.1 L453.1,526.9 L454.6,527.7 L456.1,528.5 L457.6,529.4 L459.1,530.2 L460.6,531.0 L462.1,531.9 L463.6,532.7 L465.1,533.5 L466.6,534.2 L468.1,534.9 L469.6,535.6 L471.1,536.2 L472.6,536.8 L474.1,537.4 L475.6,537.9 L477.1,538.4 L478.6,538.9 L480.1,539.4 L481.6,539.9 L483.1,540.3 L484.6,540.8 L486.1,541.3 L487.6,541.7 L489.1,542.2 L490.6,542.8 L492.1,543.3 L493.6,543.8 L495.1,544.3 L496.6,544.8 L498.1,545.3 L499.6,545.8 L501.1,546.3 L502.6,546.7 L504.1,547.2 L505.6,547.6 L507.1,548.0 L508.6,548.4 L510.1,548.8 L511.6,549.2 L513.1,549.6 L514.6,550.1 L516.1,550.5 L517.6,550.9 L519.1,551.3 L520.6,551.8 L522.1,552.2 L523.6,552.7 L525.1,553.1 L526.6,553.5 L528.1,553.9 L529.6,554.3 L531.1,554.7 L532.6,555.1 L534.1,555.4 L535.6,555.7 L537.1,556.0 L538.6,556.3 L540.1,556.6 L541.6,556.9 L543.1,557.2 L544.6,557.5 L546.1,557.9 L547.6,558.2 L549.1,558.6 L550.6,559.0 L552.1,559.5 L553.6,559.9 L555.1,560.4 L556.6,560.9 L558.1,561.4 L559.6,561.8 L561.1,562.3 L562.6,562.7 L564.1,563.1 L565.6,563.4 L567.1,563.8 L568.6,564.1 L570.1,564.3 L571.6,564.6 L573.1,564.8 L574.6,565.0 L576.1,565.2 L577.6,565.4 L579.1,565.6 L580.6,565.8 L582.1,566.0 L583.6,566.2 L585.1,566.4 L586.6,566.6 L588.1,566.8 L589.6,567.0 L591.1,567.2 L592.6,567.3 L594.1,567.5 L595.6,567.6 L597.1,567.8 L598.6,567.9 L600.1,568.0 L601.6,568.2 L603.1,568.3 L604.6,568.5 L606.1,568.6 L607.6,568.8 L609.1,569.0 L610.6,569.2 L612.1,569.5 L613.6,569.7 L615.1,570.0 L616.6,570.3 L618.1,570.6 L619.6,570.9 L621.1,571.1 L622.6,571.4 L624.1,571.7 L625.6,571.9 L627.1,572.1 L628.6,572.3 L630.1,572.5 L631.6,572.7 L633.1,572.9 L634.6,573.0 L636.1,573.2 L637.6,573.3 L639.1,573.5 L640.6,573.6 L642.1,573.8 L643.6,574.0 L645.1,574.2 L646.6,574.4 L648.1,574.6 L649.6,574.8 L651.1,575.0 L652.6,575.2 L654.1,575.4 L655.6,575.6 L657.1,575.8 L659.1,576.1"/>
<path d="M94.6,588.9 L96.1,588.9 L97.6,588.8 L99.1,588.6 L100.6,588.3 L102.1,588.1 L103.6,587.4 L105.1,586.2 L106.6,585.1 L108.1,584.6 L109.6,584.2 L111.1,583.7 L112.6,582.8 L114.1,581.6 L115.6,580.7 L117.1,580.4 L118.6,580.4 L120.1,580.4 L121.6,580.4 L123.1,579.9 L124.6,578.3 L126.1,575.9 L127.6,573.0 L129.1,571.3 L130.6,570.1 L132.1,569.3 L133.6,568.9 L135.1,568.2 L136.6,565.5 L138.1,562.1 L139.6,560.0 L141.1,558.4 L142.6,556.9 L144.1,555.1 L145.6,553.0 L147.1,550.7 L148.6,548.2 L150.1,545.7 L151.6,543.1 L153.1,540.4 L154.6,537.7 L156.1,535.0 L157.6,532.3 L159.1,529.6 L160.6,526.9 L162.1,524.2 L163.6,521.6 L165.1,518.9 L166.6,516.3 L168.1,513.6 L169.6,510.8 L171.1,508.0 L172.6,505.0 L174.1,501.9 L175.6,498.9 L177.1,495.8 L178.6,492.7 L180.1,489.5 L181.6,486.4 L183.1,483.2 L184.6,480.2 L186.1,477.2 L187.6,474.4 L189.1,471.6 L190.6,468.8 L192.1,466.1 L193.6,463.5 L195.1,460.9 L196.6,458.4 L198.1,455.9 L199.6,453.5 L201.1,451.1 L202.6,448.8 L204.1,446.6 L205.6,444.4 L207.1,442.2 L208.6,440.2 L210.1,438.2 L211.6,436.2 L213.1,434.4 L214.6,432.6 L216.1,430.9 L217.6,429.3 L219.1,427.7 L220.6,426.3 L222.1,424.9 L223.6,423.7 L225.1,422.5 L226.6,421.4 L228.1,420.5 L229.6,419.6 L231.1,418.8 L232.6,418.0 L234.1,417.4 L235.6,416.8 L237.1,416.3 L238.6,415.9 L240.1,415.6 L241.6,415.4 L243.1,415.3 L244.6,415.2 L246.1,415.1 L247.6,415.1 L249.1,415.2 L250.6,415.3 L252.1,415.5 L253.6,415.8 L255.1,416.1 L256.6,416.5 L258.1,416.9 L259.6,417.5 L261.1,418.0 L262.6,418.6 L264.1,419.3 L265.6,419.9 L267.1,420.7 L268.6,421.4 L270.1,422.2 L271.6,423.1 L273.1,423.9 L274.6,424.8 L276.1,425.8 L277.6,426.7 L279.1,427.7 L280.6,428.8 L282.1,429.9 L283.6,431.0 L285.1,432.2 L286.6,433.4 L288.1,434.6 L289.6,435.8 L291.1,437.0 L292.6,438.2 L294.1,439.4 L295.6,440.6 L297.1,441.8 L298.6,442.9 L300.1,444.0 L301.6,445.2 L303.1,446.2 L304.6,447.3 L306.1,448.4 L307.6,449.5 L309.1,450.6 L310.6,451.7 L312.1,452.8 L313.6,453.9 L315.1,455.1 L316.6,456.2 L318.1,457.4 L319.6,458.6 L321.1,459.7 L322.6,460.9 L324.1,462.1 L325.6,463.2 L327.1,464.3 L328.6,465.4 L330.1,466.4 L331.6,467.4 L333.1,468.4 L334.6,469.4 L336.1,470.3 L337.6,471.2 L339.1,472.1 L340.6,473.0 L342.1,473.9 L343.6,474.8 L345.1,475.6 L346.6,476.5 L348.1,477.4 L349.6,478.3 L351.1,479.2 L352.6,480.1 L354.1,480.9 L355.6,481.8 L357.1,482.7 L358.6,483.5 L360.1,484.4 L361.6,485.2 L363.1,486.0 L364.6,486.8 L366.1,487.7 L367.6,488.5 L369.1,489.3 L370.6,490.2 L372.1,491.0 L373.6,491.9 L375.1,492.9 L376.6,493.8 L378.1,494.8 L379.6,495.8 L381.1,496.9 L382.6,497.9 L384.1,498.9 L385.6,500.0 L387.1,501.0 L388.6,502.0 L390.1,502.9 L391.6,503.9 L393.1,504.8 L394.6,505.7 L396.1,506.5 L397.6,507.3 L399.1,508.1 L400.6,508.9 L402.1,509.6 L403.6,510.3 L405.1,511.1 L406.6,511.8 L408.1,512.6 L409.6,513.3 L411.1,514.1 L412.6,514.9 L414.1,515.7 L415.6,516.4 L417.1,517.2 L418.6,518.0 L420.1,518.8 L421.6,519.5 L423.1,520.3 L424.6,521.0 L426.1,521.7 L427.6,522.4 L429.1,523.1 L430.6,523.8 L432.1,524.5 L433.6,525.2 L435.1,525.9 L436.6,526.6 L438.1,527.4 L439.6,528.1 L441.1,528.9 L442.6,529.6 L444.1,530.4 L445.6,531.2 L447.1,531.9 L448.6,532.7 L450.1,533.4 L451.6,534.1 L453.1,534.8 L454.6,535.4 L456.1,536.0 L457.6,536.6 L459.1,537.2 L460.6,537.7 L462.1,538.2 L463.6,538.8 L465.1,539.3 L466.6,539.9 L468.1,540.4 L469.6,541.0 L471.1,541.6 L472.6,542.2 L474.1,542.8 L475.6,543.5 L477.1,544.1 L478.6,544.8 L480.1,545.5 L481.6,546.1 L483.1,546.7 L484.6,547.4 L486.1,547.9 L487.6,548.5 L489.1,549.0 L490.6,549.6 L492.1,550.0 L493.6,550.5 L495.1,550.9 L496.6,551.4 L498.1,551.8 L499.6,552.2 L501.1,552.6 L502.6,553.0 L504.1,553.4 L505.6,553.8 L507.1,554.2 L508.6,554.5 L510.1,554.9 L511.6,555.2 L513.1,555.6 L514.6,555.9 L516.1,556.2 L517.6,556.4 L519.1,556.7 L520.6,556.9 L522.1,557.2 L523.6,557.4 L525.1,557.6 L526.6,557.8 L528.1,558.1 L529.6,558.4 L531.1,558.7 L532.6,559.0 L534.1,559.4 L535.6,559.8 L537.1,560.2 L538.6,560.6 L540.1,561.0 L541.6,561.5 L543.1,561.9 L544.6,562.4 L546.1,562.8 L547.6,563.2 L549.1,563.6 L550.6,563.9 L552.1,564.2 L553.6,564.5 L555.1,564.8 L556.6,565.1 L558.1,565.3 L559.6,565.6 L561.1,565.8 L562.6,566.1 L564.1,566.3 L565.6,566.6 L567.1,566.8 L568.6,567.1 L570.1,567.4 L571.6,567.7 L573.1,567.9 L574.6,568.2 L576.1,568.5 L577.6,568.7 L579.1,569.0 L580.6,569.2 L582.1,569.4 L583.6,569.6 L585.1,569.8 L586.6,570.0 L588.1,570.2 L589.6,570.4 L591.1,570.6 L592.6,570.8 L594.1,571.0 L595.6,571.2 L597.1,571.4 L598.6,571.6 L600.1,571.9 L601.6,572.1 L603.1,572.3 L604.6,572.5 L606.1,572.7 L607.6,572.9 L609.1,573.1 L610.6,573.2 L612.1,573.3 L613.6,573.5 L615.1,573.6 L616.6,573.7 L618.1,573.8 L619.6,573.8 L621.1,573.9 L622.6,574.0 L624.1,574.2 L625.6,574.3 L627.1,574.4 L628.6,574.6 L630.1,574.8 L631.6,575.0 L633.1,575.2 L634.6,575.4 L636.1,575.6 L637.6,575.8 L639.1,576.1 L640.6,576.3 L642.1,576.5 L643.6,576.7 L645.1,576.9 L646.6,577.1 L648.1,577.3 L649.6,577.5 L651.1,577.7 L652.6,577.9 L654.1,578.0 L655.6,578.2 L657.1,578.4 L659.1,578.6"/>
<path d="M94.6,588.9 L96.1,588.9 L97.6,588.8 L99.1,588.6 L100.6,588.3 L102.1,588.1 L103.6,587.4 L105.1,586.2 L106.6,585.1 L108.1,584.6 L109.6,584.2 L111.1,583.7 L112.6,582.8 L114.1,581.6 L115.6,580.7 L117.1,580.4 L118.6,580.4 L120.1,580.4 L121.6,580.4 L123.1,579.9 L124.6,578.3 L126.1,575.9 L127.6,573.0 L129.1,571.3 L130.6,570.1 L132.1,569.3 L133.6,568.9 L135.1,568.2 L136.6,565.5 L138.1,562.1 L139.6,560.0 L141.1,558.4 L142.6,556.9 L144.1,555.1 L145.6,553.0 L147.1,550.7 L148.6,548.2 L150.1,545.7 L151.6,543.1 L153.1,540.4 L154.6,537.7 L156.1,535.0 L157.6,532.3 L159.1,529.6 L160.6,526.9 L162.1,524.2 L163.6,521.6 L165.1,518.9 L166.6,516.3 L168.1,513.6 L169.6,510.8 L171.1,507.9 L172.6,504.9 L174.1,501.9 L175.6,498.8 L177.1,495.8 L178.6,492.6 L180.1,489.4 L181.6,486.3 L183.1,483.1 L184.6,480.0 L186.1,477.0 L187.6,474.1 L189.1,471.2 L190.6,468.4 L192.1,465.6 L193.6,462.8 L195.1,460.1 L196.6,457.5 L198.1,454.8 L199.6,452.2 L201.1,449.7 L202.6,447.2 L204.1,444.7 L205.6,442.3 L207.1,440.0 L208.6,437.7 L210.1,435.5 L211.6,433.4 L213.1,431.3 L214.6,429.3 L216.1,427.3 L217.6,425.5 L219.1,423.7 L220.6,422.0 L222.1,420.4 L223.6,418.9 L225.1,417.5 L226.6,416.1 L228.1,414.8 L229.6,413.6 L231.1,412.5 L232.6,411.5 L234.1,410.5 L235.6,409.7 L237.1,408.9 L238.6,408.2 L240.1,407.7 L241.6,407.3 L243.1,406.9 L244.6,406.8 L246.1,406.7 L247.6,406.8 L249.1,406.9 L250.6,407.1 L252.1,407.4 L253.6,407.8 L255.1,408.3 L256.6,408.8 L258.1,409.3 L259.6,409.9 L261.1,410.6 L262.6,411.3 L264.1,412.0 L265.6,412.8 L267.1,413.5 L268.6,414.4 L270.1,415.2 L271.6,416.1 L273.1,417.1 L274.6,418.1 L276.1,419.1 L277.6,420.2 L279.1,421.3 L280.6,422.4 L282.1,423.6 L283.6,424.8 L285.1,426.0 L286.6,427.2 L288.1,428.4 L289.6,429.7 L291.1,430.9 L292.6,432.1 L294.1,433.3 L295.6,434.5 L297.1,435.7 L298.6,437.0 L300.1,438.2 L301.6,439.4 L303.1,440.7 L304.6,442.0 L306.1,443.3 L307.6,444.6 L309.1,446.0 L310.6,447.4 L312.1,448.8 L313.6,450.3 L315.1,451.7 L316.6,453.2 L318.1,454.6 L319.6,456.0 L321.1,457.4 L322.6,458.8 L324.1,460.2 L325.6,461.5 L327.1,462.7 L328.6,464.0 L330.1,465.2 L331.6,466.4 L333.1,467.5 L334.6,468.7 L336.1,469.8 L337.6,470.9 L339.1,472.0 L340.6,473.1 L342.1,474.1 L343.6,475.2 L345.1,476.3 L346.6,477.4 L348.1,478.4 L349.6,479.4 L351.1,480.5 L352.6,481.5 L354.1,482.4 L355.6,483.4 L357.1,484.3 L358.6,485.2 L360.1,486.2 L361.6,487.1 L363.1,488.0 L364.6,488.9 L366.1,489.8 L367.6,490.8 L369.1,491.7 L370.6,492.7 L372.1,493.7 L373.6,494.8 L375.1,495.8 L376.6,496.9 L378.1,497.9 L379.6,499.0 L381.1,500.0 L382.6,501.1 L384.1,502.1 L385.6,503.1 L387.1,504.0 L388.6,505.0 L390.1,505.9 L391.6,506.8 L393.1,507.6 L394.6,508.5 L396.1,509.3 L397.6,510.2 L399.1,511.0 L400.6,511.9 L402.1,512.8 L403.6,513.7 L405.1,514.6 L406.6,515.6 L408.1,516.6 L409.6,517.5 L411.1,518.5 L412.6,519.5 L414.1,520.5 L415.6,521.5 L417.1,522.4 L418.6,523.4 L420.1,524.3 L421.6,525.2 L423.1,526.1 L424.6,527.0 L426.1,527.9 L427.6,528.7 L429.1,529.6 L430.6,530.4 L432.1,531.3 L433.6,532.1 L435.1,533.0 L436.6,533.8 L438.1,534.7 L439.6,535.5 L441.1,536.3 L442.6,537.0 L444.1,537.8 L445.6,538.5 L447.1,539.1 L448.6,539.8 L450.1,540.3 L451.6,540.9 L453.1,541.4 L454.6,541.9 L456.1,542.4 L457.6,542.8 L459.1,543.3 L460.6,543.7 L462.1,544.2 L463.6,544.7 L465.1,545.2 L466.6,545.7 L468.1,546.2 L469.6,546.8 L471.1,547.3 L472.6,547.9 L474.1,548.5 L475.6,549.1 L477.1,549.6 L478.6,550.2 L480.1,550.7 L481.6,551.3 L483.1,551.8 L484.6,552.2 L486.1,552.7 L487.6,553.1 L489.1,553.6 L490.6,554.0 L492.1,554.4 L493.6,554.9 L495.1,555.3 L496.6,555.7 L498.1,556.2 L499.6,556.6 L501.1,557.1 L502.6,557.5 L504.1,558.0 L505.6,558.4 L507.1,558.9 L508.6,559.3 L510.1,559.7 L511.6,560.1 L513.1,560.5 L514.6,560.8 L516.1,561.2 L517.6,561.5 L519.1,561.8 L520.6,562.2 L522.1,562.5 L523.6,562.8 L525.1,563.2 L526.6,563.6 L528.1,564.0 L529.6,564.4 L531.1,564.8 L532.6,565.2 L534.1,565.6 L535.6,566.0 L537.1,566.4 L538.6,566.8 L540.1,567.1 L541.6,567.4 L543.1,567.7 L544.6,568.0 L546.1,568.2 L547.6,568.4 L549.1,568.5 L550.6,568.7 L552.1,568.8 L553.6,568.9 L555.1,569.1 L556.6,569.2 L558.1,569.3 L559.6,569.5 L561.1,569.6 L562.6,569.8 L564.1,570.0 L565.6,570.2 L567.1,570.4 L568.6,570.7 L570.1,570.9 L571.6,571.1 L573.1,571.3 L574.6,571.6 L576.1,571.8 L577.6,572.0 L579.1,572.2 L580.6,572.4 L582.1,572.7 L583.6,572.9 L585.1,573.1 L586.6,573.3 L588.1,573.6 L589.6,573.8 L591.1,574.1 L592.6,574.4 L594.1,574.6 L595.6,574.9 L597.1,575.2 L598.6,575.5 L600.1,575.7 L601.6,576.0 L603.1,576.2 L604.6,576.4 L606.1,576.6 L607.6,576.8 L609.1,577.0 L610.6,577.1 L612.1,577.3 L613.6,577.4 L615.1,577.5 L616.6,577.7 L618.1,577.8 L619.6,578.0 L621.1,578.1 L622.6,578.3 L624.1,578.4 L625.6,578.6 L627.1,578.8 L628.6,579.0 L630.1,579.2 L631.6,579.4 L633.1,579.5 L634.6,579.7 L636.1,579.9 L637.6,580.1 L639.1,580.2 L640.6,580.3 L642.1,580.5 L643.6,580.6 L645.1,580.7 L646.6,580.8 L648.1,580.9 L649.6,581.1 L651.1,581.2 L652.6,581.3 L654.1,581.4 L655.6,581.5 L657.1,581.6 L659.1,581.8"/>
<path d="M94.6,588.9 L96.1,588.9 L97.6,588.8 L99.1,588.6 L100.6,588.3 L102.1,588.1 L103.6,587.4 L105.1,586.2 L106.6,585.1 L108.1,584.6 L109.6,584.2 L111.1,583.7 L112.6,582.8 L114.1,581.6 L115.6,580.7 L117.1,580.4 L118.6,580.4 L120.1,580.4 L121.6,580.4 L123.1,579.9 L124.6,578.3 L126.1,575.9 L127.6,573.0 L129.1,571.3 L130.6,570.1 L132.1,569.3 L133.6,568.9 L135.1,568.2 L136.6,565.5 L138.1,562.1 L139.6,560.0 L141.1,558.4 L142.6,556.9 L144.1,555.1 L145.6,553.0 L147.1,550.7 L148.6,548.2 L150.1,545.7 L151.6,543.1 L153.1,540.4 L154.6,537.7 L156.1,535.0 L157.6,532.3 L159.1,529.6 L160.6,526.9 L162.1,524.2 L163.6,521.6 L165.1,518.9 L166.6,516.3 L168.1,513.6 L169.6,510.8 L171.1,508.0 L172.6,505.0 L174.1,501.9 L175.6,498.9 L177.1,495.9 L178.6,492.7 L180.1,489.6 L181.6,486.4 L183.1,483.3 L184.6,480.3 L186.1,477.4 L187.6,474.6 L189.1,471.8 L190.6,469.1 L192.1,466.5 L193.6,463.8 L195.1,461.3 L196.6,458.8 L198.1,456.3 L199.6,453.9 L201.1,451.5 L202.6,449.2 L204.1,447.0 L205.6,444.8 L207.1,442.7 L208.6,440.7 L210.1,438.7 L211.6,436.9 L213.1,435.1 L214.6,433.4 L216.1,431.8 L217.6,430.3 L219.1,428.9 L220.6,427.6 L222.1,426.4 L223.6,425.2 L225.1,424.2 L226.6,423.2 L228.1,422.3 L229.6,421.5 L231.1,420.8 L232.6,420.2 L234.1,419.7 L235.6,419.3 L237.1,419.0 L238.6,418.8 L240.1,418.7 L241.6,418.7 L243.1,418.8 L244.6,418.9 L246.1,419.2 L247.6,419.5 L249.1,419.9 L250.6,420.4 L252.1,420.9 L253.6,421.5 L255.1,422.1 L256.6,422.7 L258.1,423.4 L259.6,424.2 L261.1,424.9 L262.6,425.8 L264.1,426.6 L265.6,427.6 L267.1,428.5 L268.6,429.5 L270.1,430.6 L271.6,431.8 L273.1,433.0 L274.6,434.2 L276.1,435.5 L277.6,436.9 L279.1,438.3 L280.6,439.7 L282.1,441.1 L283.6,442.5 L285.1,443.9 L286.6,445.3 L288.1,446.7 L289.6,448.1 L291.1,449.4 L292.6,450.8 L294.1,452.1 L295.6,453.4 L297.1,454.7 L298.6,456.0 L300.1,457.3 L301.6,458.6 L303.1,459.9 L304.6,461.2 L306.1,462.6 L307.6,463.9 L309.1,465.2 L310.6,466.5 L312.1,467.9 L313.6,469.2 L315.1,470.5 L316.6,471.8 L318.1,473.0 L319.6,474.3 L321.1,475.5 L322.6,476.7 L324.1,477.9 L325.6,479.1 L327.1,480.3 L328.6,481.5 L330.1,482.6 L331.6,483.8 L333.1,485.0 L334.6,486.1 L336.1,487.3 L337.6,488.5 L339.1,489.7 L340.6,490.9 L342.1,492.0 L343.6,493.2 L345.1,494.3 L346.6,495.4 L348.1,496.5 L349.6,497.6 L351.1,498.6 L352.6,499.6 L354.1,500.5 L355.6,501.5 L357.1,502.4 L358.6,503.3 L360.1,504.2 L361.6,505.1 L363.1,506.0 L364.6,506.9 L366.1,507.9 L367.6,508.9 L369.1,509.9 L370.6,510.9 L372.1,511.9 L373.6,512.9 L375.1,514.0 L376.6,515.0 L378.1,516.1 L379.6,517.1 L381.1,518.1 L382.6,519.1 L384.1,520.1 L385.6,521.1 L387.1,522.0 L388.6,523.0 L390.1,523.9 L391.6,524.8 L393.1,525.7 L394.6,526.6 L396.1,527.5 L397.6,528.4 L399.1,529.3 L400.6,530.2 L402.1,531.1 L403.6,532.0 L405.1,532.9 L406.6,533.8 L408.1,534.7 L409.6,535.5 L411.1,536.4 L412.6,537.2 L414.1,537.9 L415.6,538.7 L417.1,539.4 L418.6,540.1 L420.1,540.8 L421.6,541.5 L423.1,542.3 L424.6,543.0 L426.1,543.7 L427.6,544.4 L429.1,545.2 L430.6,545.9 L432.1,546.7 L433.6,547.5 L435.1,548.2 L436.6,549.0 L438.1,549.8 L439.6,550.5 L441.1,551.2 L442.6,551.8 L444.1,552.5 L445.6,553.1 L447.1,553.6 L448.6,554.1 L450.1,554.6 L451.6,555.0 L453.1,555.4 L454.6,555.8 L456.1,556.2 L457.6,556.6 L459.1,556.9 L460.6,557.3 L462.1,557.6 L463.6,558.0 L465.1,558.4 L466.6,558.8 L468.1,559.2 L469.6,559.6 L471.1,560.0 L472.6,560.3 L474.1,560.7 L475.6,561.1 L477.1,561.4 L478.6,561.8 L480.1,562.1 L481.6,562.4 L483.1,562.8 L484.6,563.1 L486.1,563.5 L487.6,563.9 L489.1,564.3 L490.6,564.7 L492.1,565.1 L493.6,565.5 L495.1,566.0 L496.6,566.4 L498.1,566.9 L499.6,567.3 L501.1,567.7 L502.6,568.1 L504.1,568.5 L505.6,568.9 L507.1,569.2 L508.6,569.5 L510.1,569.8 L511.6,570.1 L513.1,570.3 L514.6,570.5 L516.1,570.8 L517.6,571.0 L519.1,571.2 L520.6,571.4 L522.1,571.7 L523.6,571.9 L525.1,572.2 L526.6,572.4 L528.1,572.7 L529.6,573.0 L531.1,573.3 L532.6,573.6 L534.1,573.9 L535.6,574.1 L537.1,574.4 L538.6,574.6 L540.1,574.9 L541.6,575.1 L543.1,575.3 L544.6,575.5 L546.1,575.7 L547.6,575.9 L549.1,576.1 L550.6,576.3 L552.1,576.4 L553.6,576.6 L555.1,576.8 L556.6,577.0 L558.1,577.2 L559.6,577.4 L561.1,577.6 L562.6,577.8 L564.1,577.9 L565.6,578.1 L567.1,578.3 L568.6,578.4 L570.1,578.6 L571.6,578.7 L573.1,578.9 L574.6,579.0 L576.1,579.2 L577.6,579.3 L579.1,579.5 L580.6,579.6 L582.1,579.8 L583.6,579.9 L585.1,580.1 L586.6,580.3 L588.1,580.5 L589.6,580.7 L591.1,580.9 L592.6,581.2 L594.1,581.4 L595.6,581.6 L597.1,581.8 L598.6,582.0 L600.1,582.2 L601.6,582.4 L603.1,582.5 L604.6,582.7 L606.1,582.9 L607.6,583.0 L609.1,583.1 L610.6,583.3 L612.1,583.4 L613.6,583.5 L615.1,583.6 L616.6,583.8 L618.1,583.9 L619.6,584.0 L621.1,584.1 L622.6,584.2 L624.1,584.3 L625.6,584.5 L627.1,584.6 L628.6,584.7 L630.1,584.8 L631.6,584.9 L633.1,585.0 L634.6,585.1 L636.1,585.2 L637.6,585.3 L639.1,585.3 L640.6,585.4 L642.1,585.5 L643.6,585.6 L645.1,585.7 L646.6,585.8 L648.1,585.9 L649.6,586.0 L651.1,586.0 L652.6,586.1 L654.1,586.2 L655.6,586.3 L657.1,586.4 L659.1,586.5"/>
<path d="M94.6,588.9 L96.1,588.9 L97.6,588.8 L99.1,588.6 L100.6,588.3 L102.1,588.1 L103.6,587.4 L105.1,586.2 L106.6,585.1 L108.1,584.6 L109.6,584.2 L111.1,583.7 L112.6,582.8 L114.1,581.6 L115.6,580.7 L117.1,580.4 L118.6,580.4 L120.1,580.4 L121.6,580.4 L123.1,579.9 L124.6,578.3 L126.1,575.9 L127.6,573.0 L129.1,571.3 L130.6,570.1 L132.1,569.3 L133.6,568.9 L135.1,568.2 L136.6,565.5 L138.1,562.1 L139.6,560.0 L141.1,558.4 L142.6,556.9 L144.1,555.1 L145.6,553.0 L147.1,550.7 L148.6,548.2 L150.1,545.7 L151.6,543.1 L153.1,540.4 L154.6,537.7 L156.1,535.0 L157.6,532.3 L159.1,529.6 L160.6,526.9 L162.1,524.2 L163.6,521.6 L165.1,518.9 L166.6,516.3 L168.1,513.6 L169.6,510.9 L171.1,508.0 L172.6,505.0 L174.1,501.9 L175.6,498.9 L177.1,495.9 L178.6,492.8 L180.1,489.6 L181.6,486.5 L183.1,483.4 L184.6,480.4 L186.1,477.4 L187.6,474.6 L189.1,471.9 L190.6,469.2 L192.1,466.5 L193.6,463.9 L195.1,461.4 L196.6,458.9 L198.1,456.5 L199.6,454.1 L201.1,451.8 L202.6,449.5 L204.1,447.3 L205.6,445.2 L207.1,443.2 L208.6,441.2 L210.1,439.3 L211.6,437.6 L213.1,435.9 L214.6,434.2 L216.1,432.7 L217.6,431.3 L219.1,430.0 L220.6,428.7 L222.1,427.5 L223.6,426.5 L225.1,425.5 L226.6,424.6 L228.1,423.7 L229.6,423.0 L231.1,422.3 L232.6,421.7 L234.1,421.2 L235.6,420.8 L237.1,420.5 L238.6,420.3 L240.1,420.1 L241.6,420.1 L243.1,420.2 L244.6,420.4 L246.1,420.8 L247.6,421.2 L249.1,421.7 L250.6,422.3 L252.1,423.1 L253.6,423.8 L255.1,424.7 L256.6,425.6 L258.1,426.6 L259.6,427.7 L261.1,428.7 L262.6,429.9 L264.1,431.1 L265.6,432.3 L267.1,433.5 L268.6,434.9 L270.1,436.2 L271.6,437.6 L273.1,439.1 L274.6,440.5 L276.1,442.1 L277.6,443.6 L279.1,445.2 L280.6,446.8 L282.1,448.3 L283.6,449.9 L285.1,451.5 L286.6,453.1 L288.1,454.6 L289.6,456.1 L291.1,457.6 L292.6,459.0 L294.1,460.4 L295.6,461.8 L297.1,463.2 L298.6,464.6 L300.1,466.0 L301.6,467.4 L303.1,468.8 L304.6,470.2 L306.1,471.6 L307.6,473.0 L309.1,474.4 L310.6,475.9 L312.1,477.3 L313.6,478.8 L315.1,480.2 L316.6,481.7 L318.1,483.1 L319.6,484.5 L321.1,485.8 L322.6,487.1 L324.1,488.5 L325.6,489.7 L327.1,491.0 L328.6,492.2 L330.1,493.5 L331.6,494.7 L333.1,495.9 L334.6,497.1 L336.1,498.4 L337.6,499.6 L339.1,500.8 L340.6,502.1 L342.1,503.3 L343.6,504.6 L345.1,505.8 L346.6,507.0 L348.1,508.2 L349.6,509.4 L351.1,510.5 L352.6,511.7 L354.1,512.8 L355.6,513.9 L357.1,515.0 L358.6,516.0 L360.1,517.1 L361.6,518.1 L363.1,519.2 L364.6,520.3 L366.1,521.4 L367.6,522.5 L369.1,523.6 L370.6,524.7 L372.1,525.9 L373.6,527.0 L375.1,528.1 L376.6,529.2 L378.1,530.3 L379.6,531.4 L381.1,532.5 L382.6,533.5 L384.1,534.4 L385.6,535.4 L387.1,536.3 L388.6,537.1 L390.1,538.0 L391.6,538.8 L393.1,539.6 L394.6,540.3 L396.1,541.1 L397.6,541.9 L399.1,542.7 L400.6,543.5 L402.1,544.3 L403.6,545.1 L405.1,545.9 L406.6,546.8 L408.1,547.6 L409.6,548.4 L411.1,549.3 L412.6,550.1 L414.1,550.9 L415.6,551.6 L417.1,552.4 L418.6,553.1 L420.1,553.9 L421.6,554.6 L423.1,555.3 L424.6,556.0 L426.1,556.7 L427.6,557.3 L429.1,558.0 L430.6,558.7 L432.1,559.4 L433.6,560.1 L435.1,560.7 L436.6,561.3 L438.1,561.9 L439.6,562.5 L441.1,563.1 L442.6,563.6 L444.1,564.1 L445.6,564.5 L447.1,564.9 L448.6,565.2 L450.1,565.5 L451.6,565.8 L453.1,566.1 L454.6,566.3 L456.1,566.6 L457.6,566.9 L459.1,567.2 L460.6,567.4 L462.1,567.8 L463.6,568.1 L465.1,568.4 L466.6,568.8 L468.1,569.2 L469.6,569.5 L471.1,569.9 L472.6,570.3 L474.1,570.7 L475.6,571.1 L477.1,571.4 L478.6,571.8 L480.1,572.1 L481.6,572.4 L483.1,572.7 L484.6,573.0 L486.1,573.3 L487.6,573.6 L489.1,573.9 L490.6,574.2 L492.1,574.5 L493.6,574.8 L495.1,575.0 L496.6,575.3 L498.1,575.6 L499.6,575.9 L501.1,576.2 L502.6,576.5 L504.1,576.8 L505.6,577.1 L507.1,577.4 L508.6,577.6 L510.1,577.9 L511.6,578.1 L513.1,578.3 L514.6,578.6 L516.1,578.8 L517.6,579.0 L519.1,579.2 L520.6,579.5 L522.1,579.7 L523.6,579.9 L525.1,580.2 L526.6,580.4 L528.1,580.7 L529.6,580.9 L531.1,581.2 L532.6,581.4 L534.1,581.6 L535.6,581.9 L537.1,582.1 L538.6,582.3 L540.1,582.5 L541.6,582.7 L543.1,582.9 L544.6,583.0 L546.1,583.2 L547.6,583.3 L549.1,583.5 L550.6,583.6 L552.1,583.8 L553.6,583.9 L555.1,584.0 L556.6,584.2 L558.1,584.3 L559.6,584.5 L561.1,584.6 L562.6,584.8 L564.1,584.9 L565.6,585.1 L567.1,585.3 L568.6,585.4 L570.1,585.6 L571.6,585.7 L573.1,585.8 L574.6,586.0 L576.1,586.1 L577.6,586.3 L579.1,586.4 L580.6,586.5 L582.1,586.7 L583.6,586.8 L585.1,586.9 L586.6,587.1 L588.1,587.2 L589.6,587.3 L591.1,587.5 L592.6,587.6 L594.1,587.7 L595.6,587.8 L597.1,587.9 L598.6,588.0 L600.1,588.1 L601.6,588.2 L603.1,588.3 L604.6,588.4 L606.1,588.5 L607.6,588.6 L609.1,588.7 L610.6,588.8 L612.1,588.8 L613.6,588.9 L615.1,589.0 L616.6,589.1 L618.1,589.1 L619.6,589.2 L621.1,589.3 L622.6,589.3 L624.1,589.4 L625.6,589.4 L627.1,589.5 L628.6,589.6 L630.1,589.6 L631.6,589.7 L633.1,589.7 L634.6,589.8 L636.1,589.8 L637.6,589.8 L639.1,589.9 L640.6,589.9 L642.1,589.9 L643.6,590.0 L645.1,590.0 L646.6,590.0 L648.1,590.1 L649.6,590.1 L651.1,590.1 L652.6,590.1 L654.1,590.1 L655.6,590.1 L657.1,590.1 L659.1,590.1"/>
<path d="M94.6,588.9 L96.1,588.9 L97.6,588.8 L99.1,588.6 L100.6,588.3 L102.1,588.1 L103.6,587.4 L105.1,586.2 L106.6,585.1 L108.1,584.6 L109.6,584.2 L111.1,583.7 L112.6,582.8 L114.1,581.6 L115.6,580.7 L117.1,580.4 L118.6,580.4 L120.1,580.4 L121.6,580.4 L123.1,579.9 L124.6,578.3 L126.1,575.9 L127.6,573.0 L129.1,571.3 L130.6,570.1 L132.1,569.3 L133.6,568.9 L135.1,568.2 L136.6,565.5 L138.1,562.1 L139.6,560.0 L141.1,558.4 L142.6,556.9 L144.1,555.1 L145.6,553.0 L147.1,550.7 L148.6,548.2 L150.1,545.7 L151.6,543.1 L153.1,540.4 L154.6,537.7 L156.1,535.0 L157.6,532.3 L159.1,529.6 L160.6,526.9 L162.1,524.2 L163.6,521.6 L165.1,518.9 L166.6,516.3 L168.1,513.6 L169.6,510.9 L171.1,508.0 L172.6,505.0 L174.1,501.9 L175.6,498.9 L177.1,495.9 L178.6,492.8 L180.1,489.6 L181.6,486.5 L183.1,483.5 L184.6,480.5 L186.1,477.6 L187.6,474.8 L189.1,472.1 L190.6,469.5 L192.1,466.9 L193.6,464.3 L195.1,461.8 L196.6,459.4 L198.1,457.0 L199.6,454.7 L201.1,452.5 L202.6,450.3 L204.1,448.2 L205.6,446.1 L207.1,444.2 L208.6,442.3 L210.1,440.5 L211.6,438.8 L213.1,437.1 L214.6,435.6 L216.1,434.2 L217.6,432.9 L219.1,431.6 L220.6,430.5 L222.1,429.4 L223.6,428.5 L225.1,427.6 L226.6,426.8 L228.1,426.1 L229.6,425.5 L231.1,425.0 L232.6,424.5 L234.1,424.1 L235.6,423.9 L237.1,423.6 L238.6,423.5 L240.1,423.5 L241.6,423.6 L243.1,423.8 L244.6,424.1 L246.1,424.5 L247.6,425.1 L249.1,425.7 L250.6,426.4 L252.1,427.2 L253.6,428.1 L255.1,429.1 L256.6,430.1 L258.1,431.2 L259.6,432.4 L261.1,433.5 L262.6,434.8 L264.1,436.1 L265.6,437.4 L267.1,438.7 L268.6,440.2 L270.1,441.6 L271.6,443.1 L273.1,444.7 L274.6,446.2 L276.1,447.9 L277.6,449.5 L279.1,451.2 L280.6,452.8 L282.1,454.5 L283.6,456.2 L285.1,457.8 L286.6,459.5 L288.1,461.0 L289.6,462.6 L291.1,464.1 L292.6,465.6 L294.1,467.0 L295.6,468.3 L297.1,469.7 L298.6,471.0 L300.1,472.4 L301.6,473.7 L303.1,475.0 L304.6,476.4 L306.1,477.7 L307.6,479.1 L309.1,480.4 L310.6,481.8 L312.1,483.2 L313.6,484.6 L315.1,486.0 L316.6,487.3 L318.1,488.7 L319.6,490.1 L321.1,491.5 L322.6,492.8 L324.1,494.1 L325.6,495.4 L327.1,496.8 L328.6,498.1 L330.1,499.3 L331.6,500.6 L333.1,501.9 L334.6,503.2 L336.1,504.5 L337.6,505.9 L339.1,507.2 L340.6,508.5 L342.1,509.8 L343.6,511.1 L345.1,512.4 L346.6,513.7 L348.1,514.9 L349.6,516.2 L351.1,517.3 L352.6,518.5 L354.1,519.6 L355.6,520.8 L357.1,521.8 L358.6,522.9 L360.1,523.9 L361.6,525.0 L363.1,526.0 L364.6,527.0 L366.1,528.1 L367.6,529.1 L369.1,530.2 L370.6,531.3 L372.1,532.4 L373.6,533.4 L375.1,534.5 L376.6,535.6 L378.1,536.7 L379.6,537.7 L381.1,538.7 L382.6,539.7 L384.1,540.7 L385.6,541.6 L387.1,542.5 L388.6,543.3 L390.1,544.2 L391.6,545.0 L393.1,545.7 L394.6,546.5 L396.1,547.2 L397.6,548.0 L399.1,548.7 L400.6,549.4 L402.1,550.2 L403.6,550.9 L405.1,551.7 L406.6,552.5 L408.1,553.2 L409.6,554.0 L411.1,554.7 L412.6,555.5 L414.1,556.2 L415.6,556.9 L417.1,557.6 L418.6,558.3 L420.1,558.9 L421.6,559.6 L423.1,560.2 L424.6,560.8 L426.1,561.5 L427.6,562.1 L429.1,562.8 L430.6,563.4 L432.1,564.1 L433.6,564.7 L435.1,565.3 L436.6,565.9 L438.1,566.5 L439.6,567.0 L441.1,567.6 L442.6,568.1 L444.1,568.5 L445.6,569.0 L447.1,569.4 L448.6,569.7 L450.1,570.0 L451.6,570.3 L453.1,570.6 L454.6,570.9 L456.1,571.1 L457.6,571.4 L459.1,571.6 L460.6,571.9 L462.1,572.1 L463.6,572.4 L465.1,572.7 L466.6,573.0 L468.1,573.3 L469.6,573.6 L471.1,573.9 L472.6,574.2 L474.1,574.6 L475.6,574.9 L477.1,575.2 L478.6,575.5 L480.1,575.8 L481.6,576.1 L483.1,576.4 L484.6,576.6 L486.1,576.9 L487.6,577.2 L489.1,577.4 L490.6,577.7 L492.1,578.0 L493.6,578.3 L495.1,578.6 L496.6,578.8 L498.1,579.1 L499.6,579.4 L501.1,579.7 L502.6,580.0 L504.1,580.2 L505.6,580.5 L507.1,580.7 L508.6,581.0 L510.1,581.2 L511.6,581.4 L513.1,581.6 L514.6,581.8 L516.1,582.1 L517.6,582.3 L519.1,582.5 L520.6,582.7 L522.1,582.9 L523.6,583.1 L525.1,583.3 L526.6,583.5 L528.1,583.7 L529.6,583.9 L531.1,584.2 L532.6,584.4 L534.1,584.6 L535.6,584.8 L537.1,585.0 L538.6,585.2 L540.1,585.4 L541.6,585.5 L543.1,585.7 L544.6,585.9 L546.1,586.0 L547.6,586.2 L549.1,586.3 L550.6,586.4 L552.1,586.6 L553.6,586.7 L555.1,586.9 L556.6,587.0 L558.1,587.1 L559.6,587.3 L561.1,587.4 L562.6,587.5 L564.1,587.7 L565.6,587.8 L567.1,587.9 L568.6,588.1 L570.1,588.2 L571.6,588.3 L573.1,588.4 L574.6,588.5 L576.1,588.7 L577.6,588.8 L579.1,588.9 L580.6,589.0 L582.1,589.1 L583.6,589.2 L585.1,589.3 L586.6,589.4 L588.1,589.5 L589.6,589.6 L591.1,589.7 L592.6,589.8 L594.1,589.9 L595.6,590.0 L597.1,590.0 L598.6,590.1 L600.1,590.2 L601.6,590.3 L603.1,590.3 L604.6,590.4 L606.1,590.5 L607.6,590.5 L609.1,590.6 L610.6,590.6 L612.1,590.7 L613.6,590.8 L615.1,590.8 L616.6,590.9 L618.1,590.9 L619.6,590.9 L621.1,591.0 L622.6,591.0 L624.1,591.1 L625.6,591.1 L627.1,591.1 L628.6,591.1 L630.1,591.2 L631.6,591.2 L633.1,591.2 L634.6,591.2 L636.1,591.2 L637.6,591.2 L639.1,591.2 L640.6,591.2 L642.1,591.2 L643.6,591.2 L645.1,591.2 L646.6,591.2 L648.1,591.2 L649.6,591.2 L651.1,591.2 L652.6,591.2 L654.1,591.2 L655.6,591.2 L657.1,591.2 L659.1,591.2"/>
<path d="M94.6,588.9 L96.1,588.9 L97.6,588.8 L99.1,588.6 L100.6,588.3 L102.1,588.1 L103.6,587.4 L105.1,586.2 L106.6,585.1 L108.1,584.6 L109.6,584.2 L111.1,583.7 L112.6,582.8 L114.1,581.6 L115.6,580.7 L117.1,580.4 L118.6,580.4 L120.1,580.4 L121.6,580.4 L123.1,579.9 L124.6,578.3 L126.1,575.9 L127.6,573.0 L129.1,571.3 L130.6,570.1 L132.1,569.3 L133.6,568.9 L135.1,568.2 L136.6,565.5 L138.1,562.1 L139.6,560.0 L141.1,558.4 L142.6,556.9 L144.1,555.1 L145.6,553.0 L147.1,550.7 L148.6,548.2 L150.1,545.7 L151.6,543.1 L153.1,540.4 L154.6,537.7 L156.1,535.0 L157.6,532.3 L159.1,529.6 L160.6,526.9 L162.1,524.2 L163.6,521.6 L165.1,518.9 L166.6,516.3 L168.1,513.6 L169.6,510.9 L171.1,508.0 L172.6,505.0 L174.1,502.0 L175.6,498.9 L177.1,495.9 L178.6,492.8 L180.1,489.7 L181.6,486.5 L183.1,483.5 L184.6,480.5 L186.1,477.7 L187.6,474.9 L189.1,472.2 L190.6,469.6 L192.1,467.1 L193.6,464.6 L195.1,462.2 L196.6,459.8 L198.1,457.5 L199.6,455.3 L201.1,453.1 L202.6,451.0 L204.1,449.0 L205.6,447.0 L207.1,445.1 L208.6,443.2 L210.1,441.5 L211.6,439.8 L213.1,438.2 L214.6,436.7 L216.1,435.2 L217.6,433.9 L219.1,432.6 L220.6,431.4 L222.1,430.4 L223.6,429.4 L225.1,428.5 L226.6,427.7 L228.1,427.0 L229.6,426.4 L231.1,425.8 L232.6,425.4 L234.1,425.0 L235.6,424.8 L237.1,424.6 L238.6,424.5 L240.1,424.6 L241.6,424.8 L243.1,425.1 L244.6,425.5 L246.1,426.1 L247.6,426.7 L249.1,427.5 L250.6,428.4 L252.1,429.4 L253.6,430.5 L255.1,431.6 L256.6,432.8 L258.1,434.0 L259.6,435.3 L261.1,436.6 L262.6,438.0 L264.1,439.4 L265.6,440.7 L267.1,442.2 L268.6,443.6 L270.1,445.0 L271.6,446.5 L273.1,448.1 L274.6,449.6 L276.1,451.2 L277.6,452.9 L279.1,454.5 L280.6,456.2 L282.1,457.9 L283.6,459.6 L285.1,461.3 L286.6,463.0 L288.1,464.6 L289.6,466.3 L291.1,467.9 L292.6,469.4 L294.1,471.0 L295.6,472.4 L297.1,473.9 L298.6,475.3 L300.1,476.8 L301.6,478.2 L303.1,479.5 L304.6,480.9 L306.1,482.3 L307.6,483.6 L309.1,484.9 L310.6,486.3 L312.1,487.6 L313.6,488.9 L315.1,490.2 L316.6,491.5 L318.1,492.8 L319.6,494.0 L321.1,495.3 L322.6,496.5 L324.1,497.7 L325.6,498.9 L327.1,500.1 L328.6,501.3 L330.1,502.5 L331.6,503.7 L333.1,504.9 L334.6,506.2 L336.1,507.5 L337.6,508.8 L339.1,510.1 L340.6,511.4 L342.1,512.8 L343.6,514.2 L345.1,515.6 L346.6,517.1 L348.1,518.5 L349.6,519.9 L351.1,521.3 L352.6,522.7 L354.1,524.0 L355.6,525.3 L357.1,526.5 L358.6,527.8 L360.1,528.9 L361.6,530.1 L363.1,531.2 L364.6,532.3 L366.1,533.3 L367.6,534.4 L369.1,535.4 L370.6,536.4 L372.1,537.4 L373.6,538.4 L375.1,539.3 L376.6,540.3 L378.1,541.2 L379.6,542.1 L381.1,543.0 L382.6,543.9 L384.1,544.8 L385.6,545.6 L387.1,546.4 L388.6,547.1 L390.1,547.9 L391.6,548.6 L393.1,549.4 L394.6,550.1 L396.1,550.8 L397.6,551.5 L399.1,552.3 L400.6,553.0 L402.1,553.8 L403.6,554.5 L405.1,555.3 L406.6,556.1 L408.1,556.9 L409.6,557.7 L411.1,558.4 L412.6,559.2 L414.1,559.9 L415.6,560.6 L417.1,561.2 L418.6,561.9 L420.1,562.4 L421.6,563.0 L423.1,563.5 L424.6,564.0 L426.1,564.5 L427.6,565.0 L429.1,565.5 L430.6,566.0 L432.1,566.6 L433.6,567.1 L435.1,567.5 L436.6,568.0 L438.1,568.5 L439.6,569.0 L441.1,569.5 L442.6,570.0 L444.1,570.5 L445.6,571.0 L447.1,571.4 L448.6,571.9 L450.1,572.3 L451.6,572.7 L453.1,573.1 L454.6,573.4 L456.1,573.8 L457.6,574.1 L459.1,574.5 L460.6,574.8 L462.1,575.1 L463.6,575.4 L465.1,575.7 L466.6,576.0 L468.1,576.4 L469.6,576.7 L471.1,576.9 L472.6,577.2 L474.1,577.5 L475.6,577.8 L477.1,578.0 L478.6,578.2 L480.1,578.5 L481.6,578.7 L483.1,578.9 L484.6,579.1 L486.1,579.3 L487.6,579.5 L489.1,579.7 L490.6,579.9 L492.1,580.1 L493.6,580.3 L495.1,580.6 L496.6,580.8 L498.1,581.1 L499.6,581.3 L501.1,581.6 L502.6,581.8 L504.1,582.1 L505.6,582.4 L507.1,582.6 L508.6,582.9 L510.1,583.1 L511.6,583.4 L513.1,583.6 L514.6,583.8 L516.1,584.1 L517.6,584.3 L519.1,584.5 L520.6,584.7 L522.1,584.9 L523.6,585.1 L525.1,585.3 L526.6,585.5 L528.1,585.6 L529.6,585.8 L531.1,586.0 L532.6,586.2 L534.1,586.4 L535.6,586.5 L537.1,586.7 L538.6,586.9 L540.1,587.0 L541.6,587.2 L543.1,587.4 L544.6,587.5 L546.1,587.7 L547.6,587.8 L549.1,587.9 L550.6,588.1 L552.1,588.2 L553.6,588.4 L555.1,588.5 L556.6,588.6 L558.1,588.7 L559.6,588.9 L561.1,589.0 L562.6,589.1 L564.1,589.2 L565.6,589.4 L567.1,589.5 L568.6,589.6 L570.1,589.7 L571.6,589.8 L573.1,589.9 L574.6,590.0 L576.1,590.1 L577.6,590.2 L579.1,590.3 L580.6,590.4 L582.1,590.5 L583.6,590.5 L585.1,590.6 L586.6,590.7 L588.1,590.8 L589.6,590.8 L591.1,590.9 L592.6,591.0 L594.1,591.1 L595.6,591.1 L597.1,591.2 L598.6,591.2 L600.1,591.3 L601.6,591.3 L603.1,591.4 L604.6,591.4 L606.1,591.5 L607.6,591.5 L609.1,591.6 L610.6,591.6 L612.1,591.6 L613.6,591.7 L615.1,591.7 L616.6,591.7 L618.1,591.7 L619.6,591.7 L621.1,591.7 L622.6,591.7 L624.1,591.7 L625.6,591.7 L627.1,591.7 L628.6,591.7 L630.1,591.7 L631.6,591.7 L633.1,591.7 L634.6,591.7 L636.1,591.7 L637.6,591.7 L639.1,591.7 L640.6,591.7 L642.1,591.7 L643.6,591.7 L645.1,591.7 L646.6,591.7 L648.1,591.7 L649.6,591.7 L651.1,591.7 L652.6,591.7 L654.1,591.7 L655.6,591.7 L657.1,591.7 L659.1,591.7"/>
<path d="M94.6,588.9 L96.1,588.9 L97.6,588.8 L99.1,588.6 L100.6,588.3 L102.1,588.1 L103.6,587.4 L105.1,586.2 L106.6,585.1 L108.1,584.6 L109.6,584.2 L111.1,583.7 L112.6,582.8 L114.1,581.6 L115.6,580.7 L117.1,580.4 L118.6,580.4 L120.1,580.4 L121.6,580.4 L123.1,579.9 L124.6,578.3 L126.1,575.9 L127.6,573.0 L129.1,571.3 L130.6,570.1 L132.1,569.3 L133.6,568.9 L135.1,568.2 L136.6,565.5 L138.1,562.1 L139.6,560.0 L141.1,558.4 L142.6,556.9 L144.1,555.1 L145.6,553.0 L147.1,550.7 L148.6,548.2 L150.1,545.7 L151.6,543.1 L153.1,540.4 L154.6,537.7 L156.1,535.0 L157.6,532.3 L159.1,529.6 L160.6,526.9 L162.1,524.2 L163.6,521.6 L165.1,518.9 L166.6,516.3 L168.1,513.6 L169.6,510.9 L171.1,508.0 L172.6,505.0 L174.1,502.0 L175.6,498.9 L177.1,495.9 L178.6,492.8 L180.1,489.7 L181.6,486.5 L183.1,483.5 L184.6,480.5 L186.1,477.7 L187.6,474.9 L189.1,472.2 L190.6,469.6 L192.1,467.0 L193.6,464.5 L195.1,462.1 L196.6,459.8 L198.1,457.5 L199.6,455.4 L201.1,453.2 L202.6,451.2 L204.1,449.2 L205.6,447.4 L207.1,445.5 L208.6,443.8 L210.1,442.1 L211.6,440.6 L213.1,439.1 L214.6,437.7 L216.1,436.4 L217.6,435.1 L219.1,434.0 L220.6,432.9 L222.1,432.0 L223.6,431.1 L225.1,430.4 L226.6,429.7 L228.1,429.1 L229.6,428.5 L231.1,428.1 L232.6,427.7 L234.1,427.4 L235.6,427.2 L237.1,427.0 L238.6,427.0 L240.1,427.0 L241.6,427.2 L243.1,427.4 L244.6,427.8 L246.1,428.4 L247.6,429.0 L249.1,429.8 L250.6,430.6 L252.1,431.6 L253.6,432.6 L255.1,433.8 L256.6,435.0 L258.1,436.3 L259.6,437.6 L261.1,439.0 L262.6,440.4 L264.1,441.9 L265.6,443.3 L267.1,444.8 L268.6,446.3 L270.1,447.8 L271.6,449.4 L273.1,450.9 L274.6,452.5 L276.1,454.1 L277.6,455.7 L279.1,457.3 L280.6,459.0 L282.1,460.7 L283.6,462.4 L285.1,464.1 L286.6,465.8 L288.1,467.5 L289.6,469.1 L291.1,470.8 L292.6,472.4 L294.1,474.0 L295.6,475.6 L297.1,477.1 L298.6,478.6 L300.1,480.2 L301.6,481.7 L303.1,483.2 L304.6,484.6 L306.1,486.1 L307.6,487.6 L309.1,489.0 L310.6,490.5 L312.1,491.9 L313.6,493.4 L315.1,494.8 L316.6,496.2 L318.1,497.7 L319.6,499.1 L321.1,500.4 L322.6,501.8 L324.1,503.1 L325.6,504.4 L327.1,505.7 L328.6,506.9 L330.1,508.1 L331.6,509.3 L333.1,510.5 L334.6,511.6 L336.1,512.8 L337.6,514.0 L339.1,515.1 L340.6,516.3 L342.1,517.5 L343.6,518.7 L345.1,519.9 L346.6,521.2 L348.1,522.4 L349.6,523.7 L351.1,524.9 L352.6,526.2 L354.1,527.4 L355.6,528.7 L357.1,529.9 L358.6,531.0 L360.1,532.2 L361.6,533.3 L363.1,534.4 L364.6,535.5 L366.1,536.5 L367.6,537.6 L369.1,538.6 L370.6,539.6 L372.1,540.6 L373.6,541.6 L375.1,542.6 L376.6,543.6 L378.1,544.5 L379.6,545.5 L381.1,546.5 L382.6,547.4 L384.1,548.4 L385.6,549.3 L387.1,550.1 L388.6,551.0 L390.1,551.8 L391.6,552.6 L393.1,553.4 L394.6,554.1 L396.1,554.9 L397.6,555.6 L399.1,556.3 L400.6,557.1 L402.1,557.8 L403.6,558.6 L405.1,559.3 L406.6,560.1 L408.1,560.9 L409.6,561.7 L411.1,562.4 L412.6,563.2 L414.1,564.0 L415.6,564.7 L417.1,565.4 L418.6,566.0 L420.1,566.6 L421.6,567.2 L423.1,567.7 L424.6,568.1 L426.1,568.6 L427.6,569.0 L429.1,569.4 L430.6,569.8 L432.1,570.2 L433.6,570.6 L435.1,570.9 L436.6,571.2 L438.1,571.6 L439.6,571.9 L441.1,572.3 L442.6,572.6 L444.1,572.9 L445.6,573.3 L447.1,573.6 L448.6,574.0 L450.1,574.3 L451.6,574.6 L453.1,575.0 L454.6,575.3 L456.1,575.6 L457.6,575.9 L459.1,576.2 L460.6,576.5 L462.1,576.8 L463.6,577.1 L465.1,577.4 L466.6,577.8 L468.1,578.1 L469.6,578.4 L471.1,578.8 L472.6,579.1 L474.1,579.4 L475.6,579.8 L477.1,580.1 L478.6,580.4 L480.1,580.7 L481.6,581.0 L483.1,581.2 L484.6,581.5 L486.1,581.7 L487.6,582.0 L489.1,582.2 L490.6,582.4 L492.1,582.6 L493.6,582.9 L495.1,583.1 L496.6,583.3 L498.1,583.5 L499.6,583.7 L501.1,584.0 L502.6,584.2 L504.1,584.4 L505.6,584.6 L507.1,584.9 L508.6,585.1 L510.1,585.3 L511.6,585.5 L513.1,585.7 L514.6,585.9 L516.1,586.1 L517.6,586.3 L519.1,586.5 L520.6,586.6 L522.1,586.8 L523.6,587.0 L525.1,587.2 L526.6,587.3 L528.1,587.5 L529.6,587.6 L531.1,587.8 L532.6,588.0 L534.1,588.1 L535.6,588.3 L537.1,588.4 L538.6,588.6 L540.1,588.7 L541.6,588.8 L543.1,589.0 L544.6,589.1 L546.1,589.3 L547.6,589.4 L549.1,589.5 L550.6,589.6 L552.1,589.8 L553.6,589.9 L555.1,590.0 L556.6,590.1 L558.1,590.2 L559.6,590.3 L561.1,590.4 L562.6,590.6 L564.1,590.7 L565.6,590.8 L567.1,590.8 L568.6,590.9 L570.1,591.0 L571.6,591.1 L573.1,591.2 L574.6,591.3 L576.1,591.4 L577.6,591.4 L579.1,591.5 L580.6,591.6 L582.1,591.6 L583.6,591.7 L585.1,591.8 L586.6,591.8 L588.1,591.8 L589.6,591.8 L591.1,591.8 L592.6,591.8 L594.1,591.8 L595.6,591.8 L597.1,591.8 L598.6,591.8 L600.1,591.8 L601.6,591.8 L603.1,591.8 L604.6,591.8 L606.1,591.8 L607.6,591.8 L609.1,591.8 L610.6,591.8 L612.1,591.8 L613.6,591.8 L615.1,591.8 L616.6,591.8 L618.1,591.8 L619.6,591.8 L621.1,591.8 L622.6,591.8 L624.1,591.8 L625.6,591.8 L627.1,591.8 L628.6,591.8 L630.1,591.8 L631.6,591.8 L633.1,591.8 L634.6,591.8 L636.1,591.8 L637.6,591.8 L639.1,591.8 L640.6,591.8 L642.1,591.8 L643.6,591.8 L645.1,591.8 L646.6,591.8 L648.1,591.8 L649.6,591.8 L651.1,591.8 L652.6,591.8 L654.1,591.8 L655.6,591.8 L657.1,591.8 L659.1,591.8"/>
<path d="M94.6,588.9 L96.1,588.9 L97.6,588.8 L99.1,588.6 L100.6,588.3 L102.1,588.1 L103.6,587.4 L105.1,586.2 L106.6,585.1 L108.1,584.6 L109.6,584.2 L111.1,583.7 L112.6,582.8 L114.1,581.6 L115.6,580.7 L117.1,580.4 L118.6,580.4 L120.1,580.4 L121.6,580.4 L123.1,579.9 L124.6,578.3 L126.1,575.9 L127.6,573.0 L129.1,571.3 L130.6,570.1 L132.1,569.3 L133.6,568.9 L135.1,568.2 L136.6,565.5 L138.1,562.1 L139.6,560.0 L141.1,558.4 L142.6,556.9 L144.1,555.1 L145.6,553.0 L147.1,550.7 L148.6,548.2 L150.1,545.7 L151.6,543.1 L153.1,540.4 L154.6,537.7 L156.1,535.0 L157.6,532.3 L159.1,529.6 L160.6,526.9 L162.1,524.2 L163.6,521.6 L165.1,518.9 L166.6,516.3 L168.1,513.6 L169.6,510.9 L171.1,508.0 L172.6,505.0 L174.1,502.0 L175.6,499.0 L177.1,496.0 L178.6,492.9 L180.1,489.7 L181.6,486.6 L183.1,483.6 L184.6,480.6 L186.1,477.8 L187.6,475.1 L189.1,472.4 L190.6,469.9 L192.1,467.3 L193.6,464.9 L195.1,462.5 L196.6,460.2 L198.1,457.9 L199.6,455.8 L201.1,453.7 L202.6,451.7 L204.1,449.8 L205.6,448.0 L207.1,446.2 L208.6,444.6 L210.1,443.0 L211.6,441.5 L213.1,440.1 L214.6,438.8 L216.1,437.6 L217.6,436.4 L219.1,435.3 L220.6,434.3 L222.1,433.3 L223.6,432.4 L225.1,431.6 L226.6,430.9 L228.1,430.2 L229.6,429.7 L231.1,429.2 L232.6,428.8 L234.1,428.5 L235.6,428.3 L237.1,428.1 L238.6,428.1 L240.1,428.2 L241.6,428.5 L243.1,428.8 L244.6,429.3 L246.1,429.9 L247.6,430.6 L249.1,431.4 L250.6,432.3 L252.1,433.3 L253.6,434.3 L255.1,435.4 L256.6,436.6 L258.1,437.9 L259.6,439.3 L261.1,440.7 L262.6,442.3 L264.1,443.9 L265.6,445.5 L267.1,447.2 L268.6,449.0 L270.1,450.8 L271.6,452.7 L273.1,454.5 L274.6,456.3 L276.1,458.2 L277.6,460.0 L279.1,461.8 L280.6,463.5 L282.1,465.3 L283.6,466.9 L285.1,468.6 L286.6,470.2 L288.1,471.7 L289.6,473.3 L291.1,474.8 L292.6,476.3 L294.1,477.7 L295.6,479.2 L297.1,480.7 L298.6,482.1 L300.1,483.7 L301.6,485.2 L303.1,486.7 L304.6,488.1 L306.1,489.6 L307.6,491.1 L309.1,492.5 L310.6,493.9 L312.1,495.2 L313.6,496.6 L315.1,497.9 L316.6,499.2 L318.1,500.4 L319.6,501.7 L321.1,503.0 L322.6,504.2 L324.1,505.5 L325.6,506.7 L327.1,508.0 L328.6,509.3 L330.1,510.6 L331.6,511.9 L333.1,513.1 L334.6,514.4 L336.1,515.7 L337.6,517.0 L339.1,518.3 L340.6,519.5 L342.1,520.7 L343.6,521.9 L345.1,523.1 L346.6,524.3 L348.1,525.5 L349.6,526.7 L351.1,527.8 L352.6,529.0 L354.1,530.2 L355.6,531.3 L357.1,532.5 L358.6,533.8 L360.1,535.0 L361.6,536.2 L363.1,537.5 L364.6,538.7 L366.1,539.9 L367.6,541.2 L369.1,542.4 L370.6,543.5 L372.1,544.7 L373.6,545.8 L375.1,546.8 L376.6,547.8 L378.1,548.8 L379.6,549.7 L381.1,550.6 L382.6,551.4 L384.1,552.2 L385.6,553.0 L387.1,553.8 L388.6,554.5 L390.1,555.3 L391.6,556.0 L393.1,556.7 L394.6,557.5 L396.1,558.2 L397.6,558.9 L399.1,559.6 L400.6,560.3 L402.1,561.0 L403.6,561.6 L405.1,562.2 L406.6,562.8 L408.1,563.4 L409.6,564.0 L411.1,564.5 L412.6,565.1 L414.1,565.6 L415.6,566.1 L417.1,566.7 L418.6,567.2 L420.1,567.7 L421.6,568.3 L423.1,568.8 L424.6,569.4 L426.1,570.0 L427.6,570.5 L429.1,571.0 L430.6,571.6 L432.1,572.1 L433.6,572.6 L435.1,573.0 L436.6,573.3 L438.1,573.7 L439.6,574.0 L441.1,574.4 L442.6,574.7 L444.1,575.0 L445.6,575.3 L447.1,575.6 L448.6,575.9 L450.1,576.2 L451.6,576.6 L453.1,576.9 L454.6,577.2 L456.1,577.6 L457.6,577.9 L459.1,578.3 L460.6,578.6 L462.1,579.0 L463.6,579.3 L465.1,579.7 L466.6,580.0 L468.1,580.3 L469.6,580.6 L471.1,580.9 L472.6,581.2 L474.1,581.5 L475.6,581.8 L477.1,582.0 L478.6,582.3 L480.1,582.5 L481.6,582.8 L483.1,583.0 L484.6,583.3 L486.1,583.5 L487.6,583.7 L489.1,584.0 L490.6,584.2 L492.1,584.4 L493.6,584.6 L495.1,584.8 L496.6,585.0 L498.1,585.2 L499.6,585.4 L501.1,585.6 L502.6,585.8 L504.1,586.0 L505.6,586.2 L507.1,586.3 L508.6,586.5 L510.1,586.7 L511.6,586.9 L513.1,587.1 L514.6,587.3 L516.1,587.4 L517.6,587.6 L519.1,587.8 L520.6,588.0 L522.1,588.2 L523.6,588.3 L525.1,588.5 L526.6,588.7 L528.1,588.8 L529.6,589.0 L531.1,589.2 L532.6,589.3 L534.1,589.5 L535.6,589.6 L537.1,589.7 L538.6,589.9 L540.1,590.0 L541.6,590.1 L543.1,590.3 L544.6,590.4 L546.1,590.5 L547.6,590.6 L549.1,590.7 L550.6,590.8 L552.1,591.0 L553.6,591.1 L555.1,591.2 L556.6,591.3 L558.1,591.4 L559.6,591.5 L561.1,591.5 L562.6,591.6 L564.1,591.7 L565.6,591.8 L567.1,591.8 L568.6,591.8 L570.1,591.8 L571.6,591.8 L573.1,591.8 L574.6,591.8 L576.1,591.8 L577.6,591.8 L579.1,591.8 L580.6,591.8 L582.1,591.8 L583.6,591.8 L585.1,591.8 L586.6,591.8 L588.1,591.8 L589.6,591.8 L591.1,591.8 L592.6,591.8 L594.1,591.8 L595.6,591.8 L597.1,591.8 L598.6,591.8 L600.1,591.8 L601.6,591.8 L603.1,591.8 L604.6,591.8 L606.1,591.8 L607.6,591.8 L609.1,591.8 L610.6,591.8 L612.1,591.8 L613.6,591.8 L615.1,591.8 L616.6,591.8 L618.1,591.8 L619.6,591.8 L621.1,591.8 L622.6,591.8 L624.1,591.8 L625.6,591.8 L627.1,591.8 L628.6,591.8 L630.1,591.8 L631.6,591.8 L633.1,591.8 L634.6,591.8 L636.1,591.8 L637.6,591.8 L639.1,591.8 L640.6,591.8 L642.1,591.8 L643.6,591.8 L645.1,591.8 L646.6,591.8 L648.1,591.8 L649.6,591.8 L651.1,591.8 L652.6,591.8 L654.1,591.8 L655.6,591.8 L657.1,591.8 L659.1,591.8"/>
<path d="M94.6,588.9 L96.1,588.9 L97.6,588.8 L99.1,588.6 L100.6,588.3 L102.1,588.1 L103.6,587.4 L105.1,586.2 L106.6,585.1 L108.1,584.6 L109.6,584.2 L111.1,583.7 L112.6,582.8 L114.1,581.6 L115.6,580.7 L117.1,580.4 L118.6,580.4 L120.1,580.4 L121.6,580.4 L123.1,579.9 L124.6,578.3 L126.1,575.9 L127.6,573.0 L129.1,571.3 L130.6,570.1 L132.1,569.3 L133.6,568.9 L135.1,568.2 L136.6,565.5 L138.1,562.1 L139.6,560.0 L141.1,558.4 L142.6,556.9 L144.1,555.1 L145.6,553.0 L147.1,550.7 L148.6,548.2 L150.1,545.7 L151.6,543.1 L153.1,540.4 L154.6,537.7 L156.1,535.0 L157.6,532.3 L159.1,529.6 L160.6,526.9 L162.1,524.2 L163.6,521.6 L165.1,518.9 L166.6,516.3 L168.1,513.6 L169.6,510.9 L171.1,508.0 L172.6,505.0 L174.1,502.0 L175.6,499.0 L177.1,496.0 L178.6,492.9 L180.1,489.8 L181.6,486.7 L183.1,483.7 L184.6,480.8 L186.1,478.0 L187.6,475.3 L189.1,472.6 L190.6,470.1 L192.1,467.6 L193.6,465.2 L195.1,462.8 L196.6,460.5 L198.1,458.3 L199.6,456.1 L201.1,454.1 L202.6,452.1 L204.1,450.1 L205.6,448.3 L207.1,446.5 L208.6,444.9 L210.1,443.3 L211.6,441.8 L213.1,440.4 L214.6,439.1 L216.1,437.9 L217.6,436.8 L219.1,435.8 L220.6,434.9 L222.1,434.0 L223.6,433.2 L225.1,432.5 L226.6,431.9 L228.1,431.4 L229.6,430.9 L231.1,430.5 L232.6,430.2 L234.1,429.9 L235.6,429.7 L237.1,429.7 L238.6,429.7 L240.1,429.9 L241.6,430.2 L243.1,430.6 L244.6,431.2 L246.1,431.9 L247.6,432.8 L249.1,433.8 L250.6,434.8 L252.1,436.0 L253.6,437.2 L255.1,438.6 L256.6,440.0 L258.1,441.5 L259.6,443.0 L261.1,444.5 L262.6,446.1 L264.1,447.8 L265.6,449.5 L267.1,451.2 L268.6,452.9 L270.1,454.6 L271.6,456.4 L273.1,458.2 L274.6,460.0 L276.1,461.8 L277.6,463.6 L279.1,465.4 L280.6,467.1 L282.1,468.9 L283.6,470.6 L285.1,472.2 L286.6,473.8 L288.1,475.3 L289.6,476.8 L291.1,478.2 L292.6,479.6 L294.1,480.9 L295.6,482.2 L297.1,483.5 L298.6,484.8 L300.1,486.1 L301.6,487.4 L303.1,488.8 L304.6,490.1 L306.1,491.5 L307.6,492.9 L309.1,494.3 L310.6,495.7 L312.1,497.1 L313.6,498.6 L315.1,500.0 L316.6,501.5 L318.1,502.9 L319.6,504.3 L321.1,505.7 L322.6,507.1 L324.1,508.5 L325.6,509.8 L327.1,511.2 L328.6,512.5 L330.1,513.9 L331.6,515.2 L333.1,516.5 L334.6,517.8 L336.1,519.2 L337.6,520.5 L339.1,521.9 L340.6,523.2 L342.1,524.6 L343.6,525.9 L345.1,527.3 L346.6,528.6 L348.1,529.9 L349.6,531.1 L351.1,532.4 L352.6,533.6 L354.1,534.8 L355.6,535.9 L357.1,537.1 L358.6,538.2 L360.1,539.3 L361.6,540.4 L363.1,541.4 L364.6,542.5 L366.1,543.6 L367.6,544.7 L369.1,545.7 L370.6,546.8 L372.1,547.8 L373.6,548.9 L375.1,549.9 L376.6,550.8 L378.1,551.8 L379.6,552.7 L381.1,553.5 L382.6,554.3 L384.1,555.1 L385.6,555.8 L387.1,556.5 L388.6,557.1 L390.1,557.7 L391.6,558.3 L393.1,558.9 L394.6,559.5 L396.1,560.0 L397.6,560.6 L399.1,561.2 L400.6,561.8 L402.1,562.4 L403.6,563.1 L405.1,563.7 L406.6,564.4 L408.1,565.1 L409.6,565.7 L411.1,566.4 L412.6,567.0 L414.1,567.6 L415.6,568.3 L417.1,568.9 L418.6,569.4 L420.1,570.0 L421.6,570.6 L423.1,571.1 L424.6,571.7 L426.1,572.2 L427.6,572.8 L429.1,573.3 L430.6,573.8 L432.1,574.3 L433.6,574.8 L435.1,575.3 L436.6,575.7 L438.1,576.1 L439.6,576.5 L441.1,576.9 L442.6,577.3 L444.1,577.6 L445.6,577.9 L447.1,578.2 L448.6,578.5 L450.1,578.8 L451.6,579.1 L453.1,579.3 L454.6,579.6 L456.1,579.8 L457.6,580.1 L459.1,580.4 L460.6,580.6 L462.1,580.9 L463.6,581.2 L465.1,581.5 L466.6,581.8 L468.1,582.0 L469.6,582.3 L471.1,582.6 L472.6,582.9 L474.1,583.2 L475.6,583.4 L477.1,583.7 L478.6,583.9 L480.1,584.1 L481.6,584.4 L483.1,584.6 L484.6,584.8 L486.1,585.0 L487.6,585.2 L489.1,585.4 L490.6,585.6 L492.1,585.8 L493.6,586.1 L495.1,586.3 L496.6,586.5 L498.1,586.7 L499.6,586.9 L501.1,587.1 L502.6,587.3 L504.1,587.5 L505.6,587.7 L507.1,587.9 L508.6,588.1 L510.1,588.2 L511.6,588.4 L513.1,588.6 L514.6,588.8 L516.1,588.9 L517.6,589.1 L519.1,589.3 L520.6,589.4 L522.1,589.6 L523.6,589.8 L525.1,589.9 L526.6,590.1 L528.1,590.2 L529.6,590.3 L531.1,590.5 L532.6,590.6 L534.1,590.7 L535.6,590.9 L537.1,591.0 L538.6,591.1 L540.1,591.2 L541.6,591.4 L543.1,591.5 L544.6,591.6 L546.1,591.7 L547.6,591.8 L549.1,591.8 L550.6,591.8 L552.1,591.8 L553.6,591.8 L555.1,591.8 L556.6,591.8 L558.1,591.8 L559.6,591.8 L561.1,591.8 L562.6,591.8 L564.1,591.8 L565.6,591.8 L567.1,591.8 L568.6,591.8 L570.1,591.8 L571.6,591.8 L573.1,591.8 L574.6,591.8 L576.1,591.8 L577.6,591.8 L579.1,591.8 L580.6,591.8 L582.1,591.8 L583.6,591.8 L585.1,591.8 L586.6,591.8 L588.1,591.8 L589.6,591.8 L591.1,591.8 L592.6,591.8 L594.1,591.8 L595.6,591.8 L597.1,591.8 L598.6,591.8 L600.1,591.8 L601.6,591.8 L603.1,591.8 L604.6,591.8 L606.1,591.8 L607.6,591.8 L609.1,591.8 L610.6,591.8 L612.1,591.8 L613.6,591.8 L615.1,591.8 L616.6,591.8 L618.1,591.8 L619.6,591.8 L621.1,591.8 L622.6,591.8 L624.1,591.8 L625.6,591.8 L627.1,591.8 L628.6,591.8 L630.1,591.8 L631.6,591.8 L633.1,591.8 L634.6,591.8 L636.1,591.8 L637.6,591.8 L639.1,591.8 L640.6,591.8 L642.1,591.8 L643.6,591.8 L645.1,591.8 L646.6,591.8 L648.1,591.8 L649.6,591.8 L651.1,591.8 L652.6,591.8 L654.1,591.8 L655.6,591.8 L657.1,591.8 L659.1,591.8"/>
<path d="M94.6,588.9 L96.1,588.9 L97.6,588.8 L99.1,588.6 L100.6,588.3 L102.1,588.1 L103.6,587.4 L105.1,586.2 L106.6,585.1 L108.1,584.6 L109.6,584.2 L111.1,583.7 L112.6,582.8 L114.1,581.6 L115.6,580.7 L117.1,580.4 L118.6,580.4 L120.1,580.4 L121.6,580.4 L123.1,579.9 L124.6,578.3 L126.1,575.9 L127.6,573.0 L129.1,571.3 L130.6,570.1 L132.1,569.3 L133.6,568.9 L135.1,568.2 L136.6,565.5 L138.1,562.1 L139.6,560.0 L141.1,558.4 L142.6,556.9 L144.1,555.1 L145.6,553.0 L147.1,550.7 L148.6,548.2 L150.1,545.7 L151.6,543.1 L153.1,540.4 L154.6,537.7 L156.1,535.0 L157.6,532.3 L159.1,529.6 L160.6,526.9 L162.1,524.2 L163.6,521.6 L165.1,518.9 L166.6,516.3 L168.1,513.6 L169.6,510.9 L171.1,508.0 L172.6,505.0 L174.1,502.0 L175.6,499.0 L177.1,496.0 L178.6,492.9 L180.1,489.8 L181.6,486.7 L183.1,483.7 L184.6,480.7 L186.1,477.9 L187.6,475.2 L189.1,472.6 L190.6,470.1 L192.1,467.6 L193.6,465.2 L195.1,462.9 L196.6,460.7 L198.1,458.5 L199.6,456.4 L201.1,454.5 L202.6,452.6 L204.1,450.7 L205.6,449.0 L207.1,447.3 L208.6,445.8 L210.1,444.3 L211.6,442.9 L213.1,441.6 L214.6,440.3 L216.1,439.2 L217.6,438.1 L219.1,437.2 L220.6,436.3 L222.1,435.5 L223.6,434.9 L225.1,434.3 L226.6,433.7 L228.1,433.3 L229.6,432.9 L231.1,432.6 L232.6,432.4 L234.1,432.2 L235.6,432.1 L237.1,432.0 L238.6,432.1 L240.1,432.3 L241.6,432.6 L243.1,433.1 L244.6,433.6 L246.1,434.3 L247.6,435.2 L249.1,436.1 L250.6,437.2 L252.1,438.3 L253.6,439.6 L255.1,440.9 L256.6,442.4 L258.1,443.8 L259.6,445.4 L261.1,447.0 L262.6,448.6 L264.1,450.3 L265.6,452.0 L267.1,453.6 L268.6,455.3 L270.1,457.0 L271.6,458.7 L273.1,460.4 L274.6,462.1 L276.1,463.8 L277.6,465.5 L279.1,467.3 L280.6,469.0 L282.1,470.7 L283.6,472.4 L285.1,474.1 L286.6,475.7 L288.1,477.4 L289.6,479.0 L291.1,480.6 L292.6,482.2 L294.1,483.8 L295.6,485.3 L297.1,486.8 L298.6,488.2 L300.1,489.7 L301.6,491.2 L303.1,492.7 L304.6,494.1 L306.1,495.6 L307.6,497.0 L309.1,498.5 L310.6,499.9 L312.1,501.4 L313.6,502.9 L315.1,504.3 L316.6,505.8 L318.1,507.3 L319.6,508.8 L321.1,510.2 L322.6,511.6 L324.1,513.0 L325.6,514.4 L327.1,515.7 L328.6,517.0 L330.1,518.2 L331.6,519.5 L333.1,520.6 L334.6,521.8 L336.1,523.0 L337.6,524.1 L339.1,525.3 L340.6,526.5 L342.1,527.6 L343.6,528.8 L345.1,530.0 L346.6,531.2 L348.1,532.4 L349.6,533.6 L351.1,534.9 L352.6,536.1 L354.1,537.3 L355.6,538.4 L357.1,539.6 L358.6,540.7 L360.1,541.8 L361.6,542.9 L363.1,543.9 L364.6,545.0 L366.1,546.0 L367.6,546.9 L369.1,547.9 L370.6,548.9 L372.1,549.8 L373.6,550.8 L375.1,551.7 L376.6,552.7 L378.1,553.6 L379.6,554.5 L381.1,555.4 L382.6,556.3 L384.1,557.2 L385.6,558.0 L387.1,558.8 L388.6,559.6 L390.1,560.4 L391.6,561.1 L393.1,561.8 L394.6,562.4 L396.1,563.1 L397.6,563.7 L399.1,564.3 L400.6,564.9 L402.1,565.6 L403.6,566.2 L405.1,566.9 L406.6,567.5 L408.1,568.2 L409.6,568.8 L411.1,569.5 L412.6,570.1 L414.1,570.7 L415.6,571.3 L417.1,571.9 L418.6,572.4 L420.1,573.0 L421.6,573.5 L423.1,573.9 L424.6,574.3 L426.1,574.8 L427.6,575.2 L429.1,575.5 L430.6,575.9 L432.1,576.3 L433.6,576.6 L435.1,576.9 L436.6,577.2 L438.1,577.5 L439.6,577.8 L441.1,578.1 L442.6,578.4 L444.1,578.7 L445.6,579.0 L447.1,579.3 L448.6,579.6 L450.1,579.9 L451.6,580.2 L453.1,580.5 L454.6,580.8 L456.1,581.1 L457.6,581.4 L459.1,581.7 L460.6,582.0 L462.1,582.2 L463.6,582.5 L465.1,582.8 L466.6,583.1 L468.1,583.4 L469.6,583.7 L471.1,584.0 L472.6,584.3 L474.1,584.5 L475.6,584.8 L477.1,585.1 L478.6,585.3 L480.1,585.6 L481.6,585.8 L483.1,586.0 L484.6,586.3 L486.1,586.5 L487.6,586.7 L489.1,586.9 L490.6,587.1 L492.1,587.3 L493.6,587.5 L495.1,587.7 L496.6,587.9 L498.1,588.0 L499.6,588.2 L501.1,588.4 L502.6,588.6 L504.1,588.8 L505.6,589.0 L507.1,589.1 L508.6,589.3 L510.1,589.5 L511.6,589.6 L513.1,589.8 L514.6,589.9 L516.1,590.1 L517.6,590.3 L519.1,590.4 L520.6,590.5 L522.1,590.7 L523.6,590.8 L525.1,591.0 L526.6,591.1 L528.1,591.2 L529.6,591.3 L531.1,591.5 L532.6,591.6 L534.1,591.7 L535.6,591.8 L537.1,591.8 L538.6,591.8 L540.1,591.8 L541.6,591.8 L543.1,591.8 L544.6,591.8 L546.1,591.8 L547.6,591.8 L549.1,591.8 L550.6,591.8 L552.1,591.8 L553.6,591.8 L555.1,591.8 L556.6,591.8 L558.1,591.8 L559.6,591.8 L561.1,591.8 L562.6,591.8 L564.1,591.8 L565.6,591.8 L567.1,591.8 L568.6,591.8 L570.1,591.8 L571.6,591.8 L573.1,591.8 L574.6,591.8 L576.1,591.8 L577.6,591.8 L579.1,591.8 L580.6,591.8 L582.1,591.8 L583.6,591.8 L585.1,591.8 L586.6,591.8 L588.1,591.8 L589.6,591.8 L591.1,591.8 L592.6,591.8 L594.1,591.8 L595.6,591.8 L597.1,591.8 L598.6,591.8 L600.1,591.8 L601.6,591.8 L603.1,591.8 L604.6,591.8 L606.1,591.8 L607.6,591.8 L609.1,591.8 L610.6,591.8 L612.1,591.8 L613.6,591.8 L615.1,591.8 L616.6,591.8 L618.1,591.8 L619.6,591.8 L621.1,591.8 L622.6,591.8 L624.1,591.8 L625.6,591.8 L627.1,591.8 L628.6,591.8 L630.1,591.8 L631.6,591.8 L633.1,591.8 L634.6,591.8 L636.1,591.8 L637.6,591.8 L639.1,591.8 L640.6,591.8 L642.1,591.8 L643.6,591.8 L645.1,591.8 L646.6,591.8 L648.1,591.8 L649.6,591.8 L651.1,591.8 L652.6,591.8 L654.1,591.8 L655.6,591.8 L657.1,591.8 L659.1,591.8"/>
<path d="M94.6,588.9 L96.1,588.9 L97.6,588.8 L99.1,588.6 L100.6,588.3 L102.1,588.1 L103.6,587.4 L105.1,586.2 L106.6,585.1 L108.1,584.6 L109.6,584.2 L111.1,583.7 L112.6,582.8 L114.1,581.6 L115.6,580.7 L117.1,580.4 L118.6,580.4 L120.1,580.4 L121.6,580.4 L123.1,579.9 L124.6,578.3 L126.1,575.9 L127.6,573.0 L129.1,571.3 L130.6,570.1 L132.1,569.3 L133.6,568.9 L135.1,568.2 L136.6,565.5 L138.1,562.1 L139.6,560.0 L141.1,558.4 L142.6,556.9 L144.1,555.1 L145.6,553.0 L147.1,550.7 L148.6,548.2 L150.1,545.7 L151.6,543.1 L153.1,540.4 L154.6,537.7 L156.1,535.0 L157.6,532.3 L159.1,529.6 L160.6,526.9 L162.1,524.2 L163.6,521.6 L165.1,518.9 L166.6,516.3 L168.1,513.6 L169.6,510.9 L171.1,508.0 L172.6,505.0 L174.1,502.0 L175.6,499.0 L177.1,496.0 L178.6,492.9 L180.1,489.8 L181.6,486.8 L183.1,483.8 L184.6,480.9 L186.1,478.1 L187.6,475.5 L189.1,472.9 L190.6,470.4 L192.1,468.0 L193.6,465.6 L195.1,463.3 L196.6,461.1 L198.1,459.0 L199.6,457.0 L201.1,455.0 L202.6,453.1 L204.1,451.3 L205.6,449.6 L207.1,448.0 L208.6,446.4 L210.1,445.0 L211.6,443.6 L213.1,442.3 L214.6,441.1 L216.1,440.0 L217.6,439.0 L219.1,438.1 L220.6,437.2 L222.1,436.5 L223.6,435.8 L225.1,435.2 L226.6,434.7 L228.1,434.3 L229.6,433.9 L231.1,433.6 L232.6,433.4 L234.1,433.2 L235.6,433.0 L237.1,433.0 L238.6,433.1 L240.1,433.4 L241.6,433.8 L243.1,434.3 L244.6,435.0 L246.1,435.8 L247.6,436.8 L249.1,437.8 L250.6,439.0 L252.1,440.3 L253.6,441.7 L255.1,443.2 L256.6,444.7 L258.1,446.3 L259.6,448.0 L261.1,449.7 L262.6,451.5 L264.1,453.3 L265.6,455.0 L267.1,456.8 L268.6,458.6 L270.1,460.4 L271.6,462.2 L273.1,464.0 L274.6,465.8 L276.1,467.6 L277.6,469.4 L279.1,471.2 L280.6,472.9 L282.1,474.7 L283.6,476.3 L285.1,478.0 L286.6,479.6 L288.1,481.1 L289.6,482.6 L291.1,484.1 L292.6,485.5 L294.1,486.9 L295.6,488.2 L297.1,489.5 L298.6,490.8 L300.1,492.1 L301.6,493.4 L303.1,494.8 L304.6,496.1 L306.1,497.4 L307.6,498.8 L309.1,500.2 L310.6,501.6 L312.1,503.0 L313.6,504.4 L315.1,505.9 L316.6,507.3 L318.1,508.8 L319.6,510.2 L321.1,511.6 L322.6,513.0 L324.1,514.4 L325.6,515.7 L327.1,517.1 L328.6,518.4 L330.1,519.6 L331.6,520.9 L333.1,522.2 L334.6,523.4 L336.1,524.7 L337.6,525.9 L339.1,527.2 L340.6,528.5 L342.1,529.8 L343.6,531.0 L345.1,532.3 L346.6,533.6 L348.1,534.9 L349.6,536.2 L351.1,537.5 L352.6,538.7 L354.1,539.9 L355.6,541.1 L357.1,542.3 L358.6,543.4 L360.1,544.5 L361.6,545.6 L363.1,546.6 L364.6,547.7 L366.1,548.7 L367.6,549.7 L369.1,550.7 L370.6,551.7 L372.1,552.7 L373.6,553.7 L375.1,554.6 L376.6,555.6 L378.1,556.5 L379.6,557.4 L381.1,558.2 L382.6,559.0 L384.1,559.8 L385.6,560.5 L387.1,561.2 L388.6,561.8 L390.1,562.4 L391.6,562.9 L393.1,563.4 L394.6,563.9 L396.1,564.4 L397.6,565.0 L399.1,565.5 L400.6,566.0 L402.1,566.6 L403.6,567.1 L405.1,567.7 L406.6,568.3 L408.1,568.9 L409.6,569.5 L411.1,570.1 L412.6,570.7 L414.1,571.3 L415.6,571.9 L417.1,572.4 L418.6,573.0 L420.1,573.5 L421.6,574.0 L423.1,574.5 L424.6,575.0 L426.1,575.4 L427.6,575.9 L429.1,576.3 L430.6,576.8 L432.1,577.2 L433.6,577.7 L435.1,578.0 L436.6,578.4 L438.1,578.8 L439.6,579.1 L441.1,579.5 L442.6,579.8 L444.1,580.1 L445.6,580.5 L447.1,580.8 L448.6,581.1 L450.1,581.4 L451.6,581.6 L453.1,581.9 L454.6,582.2 L456.1,582.5 L457.6,582.7 L459.1,583.0 L460.6,583.2 L462.1,583.5 L463.6,583.8 L465.1,584.0 L466.6,584.3 L468.1,584.6 L469.6,584.8 L471.1,585.1 L472.6,585.4 L474.1,585.6 L475.6,585.9 L477.1,586.1 L478.6,586.3 L480.1,586.5 L481.6,586.7 L483.1,587.0 L484.6,587.2 L486.1,587.3 L487.6,587.5 L489.1,587.7 L490.6,587.9 L492.1,588.1 L493.6,588.3 L495.1,588.5 L496.6,588.7 L498.1,588.9 L499.6,589.0 L501.1,589.2 L502.6,589.4 L504.1,589.6 L505.6,589.7 L507.1,589.9 L508.6,590.1 L510.1,590.2 L511.6,590.4 L513.1,590.5 L514.6,590.7 L516.1,590.8 L517.6,591.0 L519.1,591.1 L520.6,591.3 L522.1,591.4 L523.6,591.5 L525.1,591.6 L526.6,591.8 L528.1,591.8 L529.6,591.8 L531.1,591.8 L532.6,591.8 L534.1,591.8 L535.6,591.8 L537.1,591.8 L538.6,591.8 L540.1,591.8 L541.6,591.8 L543.1,591.8 L544.6,591.8 L546.1,591.8 L547.6,591.8 L549.1,591.8 L550.6,591.8 L552.1,591.8 L553.6,591.8 L555.1,591.8 L556.6,591.8 L558.1,591.8 L559.6,591.8 L561.1,591.8 L562.6,591.8 L564.1,591.8 L565.6,591.8 L567.1,591.8 L568.6,591.8 L570.1,591.8 L571.6,591.8 L573.1,591.8 L574.6,591.8 L576.1,591.8 L577.6,591.8 L579.1,591.8 L580.6,591.8 L582.1,591.8 L583.6,591.8 L585.1,591.8 L586.6,591.8 L588.1,591.8 L589.6,591.8 L591.1,591.8 L592.6,591.8 L594.1,591.8 L595.6,591.8 L597.1,591.8 L598.6,591.8 L600.1,591.8 L601.6,591.8 L603.1,591.8 L604.6,591.8 L606.1,591.8 L607.6,591.8 L609.1,591.8 L610.6,591.8 L612.1,591.8 L613.6,591.8 L615.1,591.8 L616.6,591.8 L618.1,591.8 L619.6,591.8 L621.1,591.8 L622.6,591.8 L624.1,591.8 L625.6,591.8 L627.1,591.8 L628.6,591.8 L630.1,591.8 L631.6,591.8 L633.1,591.8 L634.6,591.8 L636.1,591.8 L637.6,591.8 L639.1,591.8 L640.6,591.8 L642.1,591.8 L643.6,591.8 L645.1,591.8 L646.6,591.8 L648.1,591.8 L649.6,591.8 L651.1,591.8 L652.6,591.8 L654.1,591.8 L655.6,591.8 L657.1,591.8 L659.1,591.8"/>
<path d="M94.6,588.9 L96.1,588.9 L97.6,588.8 L99.1,588.6 L100.6,588.3 L102.1,588.1 L103.6,587.4 L105.1,586.2 L106.6,585.1 L108.1,584.6 L109.6,584.2 L111.1,583.7 L112.6,582.8 L114.1,581.6 L115.6,580.7 L117.1,580.4 L118.6,580.4 L120.1,580.4 L121.6,580.4 L123.1,579.9 L124.6,578.3 L126.1,575.9 L127.6,573.0 L129.1,571.3 L130.6,570.1 L132.1,569.3 L133.6,568.9 L135.1,568.2 L136.6,565.5 L138.1,562.1 L139.6,560.0 L141.1,558.4 L142.6,556.9 L144.1,555.1 L145.6,553.0 L147.1,550.7 L148.6,548.2 L150.1,545.7 L151.6,543.1 L153.1,540.4 L154.6,537.7 L156.1,535.0 L157.6,532.3 L159.1,529.6 L160.6,526.9 L162.1,524.2 L163.6,521.6 L165.1,518.9 L166.6,516.3 L168.1,513.6 L169.6,510.9 L171.1,508.0 L172.6,505.1 L174.1,502.0 L175.6,499.0 L177.1,496.0 L178.6,493.0 L180.1,489.9 L181.6,486.8 L183.1,483.9 L184.6,481.0 L186.1,478.3 L187.6,475.6 L189.1,473.1 L190.6,470.6 L192.1,468.2 L193.6,465.8 L195.1,463.6 L196.6,461.4 L198.1,459.3 L199.6,457.3 L201.1,455.4 L202.6,453.5 L204.1,451.8 L205.6,450.2 L207.1,448.6 L208.6,447.1 L210.1,445.8 L211.6,444.5 L213.1,443.3 L214.6,442.1 L216.1,441.1 L217.6,440.1 L219.1,439.2 L220.6,438.4 L222.1,437.6 L223.6,437.0 L225.1,436.4 L226.6,435.9 L228.1,435.4 L229.6,435.1 L231.1,434.8 L232.6,434.6 L234.1,434.5 L235.6,434.5 L237.1,434.7 L238.6,435.0 L240.1,435.4 L241.6,436.0 L243.1,436.7 L244.6,437.5 L246.1,438.5 L247.6,439.5 L249.1,440.6 L250.6,441.9 L252.1,443.2 L253.6,444.6 L255.1,446.0 L256.6,447.6 L258.1,449.2 L259.6,450.9 L261.1,452.6 L262.6,454.4 L264.1,456.3 L265.6,458.2 L267.1,460.1 L268.6,462.0 L270.1,463.9 L271.6,465.9 L273.1,467.8 L274.6,469.6 L276.1,471.4 L277.6,473.2 L279.1,474.9 L280.6,476.5 L282.1,478.1 L283.6,479.6 L285.1,481.1 L286.6,482.6 L288.1,484.0 L289.6,485.4 L291.1,486.7 L292.6,488.1 L294.1,489.4 L295.6,490.8 L297.1,492.2 L298.6,493.6 L300.1,495.0 L301.6,496.5 L303.1,497.9 L304.6,499.4 L306.1,500.8 L307.6,502.2 L309.1,503.7 L310.6,505.1 L312.1,506.5 L313.6,507.8 L315.1,509.2 L316.6,510.6 L318.1,512.0 L319.6,513.3 L321.1,514.7 L322.6,516.1 L324.1,517.4 L325.6,518.8 L327.1,520.2 L328.6,521.6 L330.1,523.0 L331.6,524.4 L333.1,525.8 L334.6,527.2 L336.1,528.5 L337.6,529.9 L339.1,531.2 L340.6,532.5 L342.1,533.7 L343.6,534.9 L345.1,536.2 L346.6,537.3 L348.1,538.5 L349.6,539.7 L351.1,540.8 L352.6,541.9 L354.1,543.1 L355.6,544.2 L357.1,545.4 L358.6,546.5 L360.1,547.7 L361.6,548.8 L363.1,550.0 L364.6,551.1 L366.1,552.2 L367.6,553.2 L369.1,554.2 L370.6,555.2 L372.1,556.1 L373.6,557.0 L375.1,557.8 L376.6,558.6 L378.1,559.4 L379.6,560.1 L381.1,560.7 L382.6,561.4 L384.1,562.0 L385.6,562.6 L387.1,563.2 L388.6,563.8 L390.1,564.4 L391.6,565.0 L393.1,565.6 L394.6,566.2 L396.1,566.8 L397.6,567.4 L399.1,568.0 L400.6,568.6 L402.1,569.1 L403.6,569.7 L405.1,570.3 L406.6,570.8 L408.1,571.3 L409.6,571.9 L411.1,572.4 L412.6,572.9 L414.1,573.4 L415.6,573.9 L417.1,574.5 L418.6,575.0 L420.1,575.5 L421.6,576.1 L423.1,576.6 L424.6,577.1 L426.1,577.6 L427.6,578.1 L429.1,578.6 L430.6,579.0 L432.1,579.5 L433.6,579.9 L435.1,580.3 L436.6,580.6 L438.1,580.9 L439.6,581.2 L441.1,581.5 L442.6,581.7 L444.1,582.0 L445.6,582.3 L447.1,582.6 L448.6,582.8 L450.1,583.1 L451.6,583.4 L453.1,583.7 L454.6,584.0 L456.1,584.2 L457.6,584.5 L459.1,584.8 L460.6,585.1 L462.1,585.3 L463.6,585.6 L465.1,585.9 L466.6,586.1 L468.1,586.3 L469.6,586.6 L471.1,586.8 L472.6,587.0 L474.1,587.2 L475.6,587.4 L477.1,587.7 L478.6,587.9 L480.1,588.1 L481.6,588.3 L483.1,588.5 L484.6,588.7 L486.1,588.9 L487.6,589.1 L489.1,589.3 L490.6,589.4 L492.1,589.6 L493.6,589.8 L495.1,590.0 L496.6,590.2 L498.1,590.3 L499.6,590.5 L501.1,590.7 L502.6,590.8 L504.1,591.0 L505.6,591.1 L507.1,591.3 L508.6,591.4 L510.1,591.6 L511.6,591.7 L513.1,591.8 L514.6,591.8 L516.1,591.8 L517.6,591.8 L519.1,591.8 L520.6,591.8 L522.1,591.8 L523.6,591.8 L525.1,591.8 L526.6,591.8 L528.1,591.8 L529.6,591.8 L531.1,591.8 L532.6,591.8 L534.1,591.8 L535.6,591.8 L537.1,591.8 L538.6,591.8 L540.1,591.8 L541.6,591.8 L543.1,591.8 L544.6,591.8 L546.1,591.8 L547.6,591.8 L549.1,591.8 L550.6,591.8 L552.1,591.8 L553.6,591.8 L555.1,591.8 L556.6,591.8 L558.1,591.8 L559.6,591.8 L561.1,591.8 L562.6,591.8 L564.1,591.8 L565.6,591.8 L567.1,591.8 L568.6,591.8 L570.1,591.8 L571.6,591.8 L573.1,591.8 L574.6,591.8 L576.1,591.8 L577.6,591.8 L579.1,591.8 L580.6,591.8 L582.1,591.8 L583.6,591.8 L585.1,591.8 L586.6,591.8 L588.1,591.8 L589.6,591.8 L591.1,591.8 L592.6,591.8 L594.1,591.8 L595.6,591.8 L597.1,591.8 L598.6,591.8 L600.1,591.8 L601.6,591.8 L603.1,591.8 L604.6,591.8 L606.1,591.8 L607.6,591.8 L609.1,591.8 L610.6,591.8 L612.1,591.8 L613.6,591.8 L615.1,591.8 L616.6,591.8 L618.1,591.8 L619.6,591.8 L621.1,591.8 L622.6,591.8 L624.1,591.8 L625.6,591.8 L627.1,591.8 L628.6,591.8 L630.1,591.8 L631.6,591.8 L633.1,591.8 L634.6,591.8 L636.1,591.8 L637.6,591.8 L639.1,591.8 L640.6,591.8 L642.1,591.8 L643.6,591.8 L645.1,591.8 L646.6,591.8 L648.1,591.8 L649.6,591.8 L651.1,591.8 L652.6,591.8 L654.1,591.8 L655.6,591.8 L657.1,591.8 L659.1,591.8"/>
<path d="M94.6,588.9 L96.1,588.9 L97.6,588.8 L99.1,588.6 L100.6,588.3 L102.1,588.1 L103.6,587.4 L105.1,586.2 L106.6,585.1 L108.1,584.6 L109.6,584.2 L111.1,583.7 L112.6,582.8 L114.1,581.6 L115.6,580.7 L117.1,580.4 L118.6,580.4 L120.1,580.4 L121.6,580.4 L123.1,579.9 L124.6,578.3 L126.1,575.9 L127.6,573.0 L129.1,571.3 L130.6,570.1 L132.1,569.3 L133.6,568.9 L135.1,568.2 L136.6,565.5 L138.1,562.1 L139.6,560.0 L141.1,558.4 L142.6,556.9 L144.1,555.1 L145.6,553.0 L147.1,550.7 L148.6,548.2 L150.1,545.7 L151.6,543.1 L153.1,540.4 L154.6,537.7 L156.1,535.0 L157.6,532.3 L159.1,529.6 L160.6,526.9 L162.1,524.2 L163.6,521.6 L165.1,518.9 L166.6,516.3 L168.1,513.6 L169.6,510.9 L171.1,508.0 L172.6,505.1 L174.1,502.0 L175.6,499.0 L177.1,496.1 L178.6,493.0 L180.1,489.9 L181.6,486.8 L183.1,483.9 L184.6,481.0 L186.1,478.3 L187.6,475.7 L189.1,473.1 L190.6,470.7 L192.1,468.3 L193.6,466.0 L195.1,463.8 L196.6,461.7 L198.1,459.7 L199.6,457.7 L201.1,455.8 L202.6,454.1 L204.1,452.3 L205.6,450.7 L207.1,449.2 L208.6,447.7 L210.1,446.4 L211.6,445.1 L213.1,443.9 L214.6,442.9 L216.1,441.9 L217.6,441.0 L219.1,440.2 L220.6,439.5 L222.1,438.9 L223.6,438.4 L225.1,438.0 L226.6,437.7 L228.1,437.4 L229.6,437.3 L231.1,437.1 L232.6,437.1 L234.1,437.0 L235.6,437.1 L237.1,437.4 L238.6,437.8 L240.1,438.3 L241.6,438.9 L243.1,439.7 L244.6,440.5 L246.1,441.5 L247.6,442.6 L249.1,443.8 L250.6,445.1 L252.1,446.5 L253.6,448.0 L255.1,449.5 L256.6,451.1 L258.1,452.7 L259.6,454.3 L261.1,455.9 L262.6,457.6 L264.1,459.3 L265.6,460.9 L267.1,462.6 L268.6,464.3 L270.1,466.0 L271.6,467.7 L273.1,469.4 L274.6,471.1 L276.1,472.8 L277.6,474.5 L279.1,476.2 L280.6,477.9 L282.1,479.6 L283.6,481.3 L285.1,483.0 L286.6,484.7 L288.1,486.3 L289.6,488.0 L291.1,489.6 L292.6,491.1 L294.1,492.7 L295.6,494.2 L297.1,495.6 L298.6,497.1 L300.1,498.6 L301.6,500.1 L303.1,501.5 L304.6,503.0 L306.1,504.4 L307.6,505.9 L309.1,507.4 L310.6,508.8 L312.1,510.3 L313.6,511.8 L315.1,513.3 L316.6,514.8 L318.1,516.3 L319.6,517.7 L321.1,519.2 L322.6,520.6 L324.1,522.0 L325.6,523.3 L327.1,524.7 L328.6,526.0 L330.1,527.3 L331.6,528.6 L333.1,529.8 L334.6,531.1 L336.1,532.3 L337.6,533.6 L339.1,534.9 L340.6,536.1 L342.1,537.4 L343.6,538.6 L345.1,539.9 L346.6,541.1 L348.1,542.3 L349.6,543.5 L351.1,544.7 L352.6,545.8 L354.1,546.9 L355.6,548.0 L357.1,549.0 L358.6,549.9 L360.1,550.8 L361.6,551.7 L363.1,552.5 L364.6,553.3 L366.1,554.1 L367.6,554.9 L369.1,555.7 L370.6,556.5 L372.1,557.2 L373.6,558.0 L375.1,558.8 L376.6,559.6 L378.1,560.4 L379.6,561.2 L381.1,562.0 L382.6,562.8 L384.1,563.6 L385.6,564.4 L387.1,565.2 L388.6,565.9 L390.1,566.6 L391.6,567.3 L393.1,568.0 L394.6,568.7 L396.1,569.4 L397.6,570.0 L399.1,570.7 L400.6,571.3 L402.1,571.9 L403.6,572.6 L405.1,573.2 L406.6,573.8 L408.1,574.4 L409.6,575.0 L411.1,575.5 L412.6,576.1 L414.1,576.6 L415.6,577.1 L417.1,577.5 L418.6,578.0 L420.1,578.4 L421.6,578.8 L423.1,579.2 L424.6,579.5 L426.1,579.9 L427.6,580.3 L429.1,580.6 L430.6,581.0 L432.1,581.4 L433.6,581.7 L435.1,582.0 L436.6,582.3 L438.1,582.6 L439.6,582.9 L441.1,583.2 L442.6,583.5 L444.1,583.8 L445.6,584.1 L447.1,584.4 L448.6,584.6 L450.1,584.9 L451.6,585.2 L453.1,585.5 L454.6,585.7 L456.1,586.0 L457.6,586.2 L459.1,586.5 L460.6,586.7 L462.1,587.0 L463.6,587.2 L465.1,587.4 L466.6,587.7 L468.1,587.9 L469.6,588.1 L471.1,588.4 L472.6,588.6 L474.1,588.8 L475.6,589.0 L477.1,589.2 L478.6,589.4 L480.1,589.6 L481.6,589.8 L483.1,590.0 L484.6,590.2 L486.1,590.4 L487.6,590.6 L489.1,590.8 L490.6,590.9 L492.1,591.1 L493.6,591.3 L495.1,591.4 L496.6,591.6 L498.1,591.8 L499.6,591.8 L501.1,591.8 L502.6,591.8 L504.1,591.8 L505.6,591.8 L507.1,591.8 L508.6,591.8 L510.1,591.8 L511.6,591.8 L513.1,591.8 L514.6,591.8 L516.1,591.8 L517.6,591.8 L519.1,591.8 L520.6,591.8 L522.1,591.8 L523.6,591.8 L525.1,591.8 L526.6,591.8 L528.1,591.8 L529.6,591.8 L531.1,591.8 L532.6,591.8 L534.1,591.8 L535.6,591.8 L537.1,591.8 L538.6,591.8 L540.1,591.8 L541.6,591.8 L543.1,591.8 L544.6,591.8 L546.1,591.8 L547.6,591.8 L549.1,591.8 L550.6,591.8 L552.1,591.8 L553.6,591.8 L555.1,591.8 L556.6,591.8 L558.1,591.8 L559.6,591.8 L561.1,591.8 L562.6,591.8 L564.1,591.8 L565.6,591.8 L567.1,591.8 L568.6,591.8 L570.1,591.8 L571.6,591.8 L573.1,591.8 L574.6,591.8 L576.1,591.8 L577.6,591.8 L579.1,591.8 L580.6,591.8 L582.1,591.8 L583.6,591.8 L585.1,591.8 L586.6,591.8 L588.1,591.8 L589.6,591.8 L591.1,591.8 L592.6,591.8 L594.1,591.8 L595.6,591.8 L597.1,591.8 L598.6,591.8 L600.1,591.8 L601.6,591.8 L603.1,591.8 L604.6,591.8 L606.1,591.8 L607.6,591.8 L609.1,591.8 L610.6,591.8 L612.1,591.8 L613.6,591.8 L615.1,591.8 L616.6,591.8 L618.1,591.8 L619.6,591.8 L621.1,591.8 L622.6,591.8 L624.1,591.8 L625.6,591.8 L627.1,591.8 L628.6,591.8 L630.1,591.8 L631.6,591.8 L633.1,591.8 L634.6,591.8 L636.1,591.8 L637.6,591.8 L639.1,591.8 L640.6,591.8 L642.1,591.8 L643.6,591.8 L645.1,591.8 L646.6,591.8 L648.1,591.8 L649.6,591.8 L651.1,591.8 L652.6,591.8 L654.1,591.8 L655.6,591.8 L657.1,591.8 L659.1,591.8"/>
<path d="M94.6,588.9 L96.1,588.9 L97.6,588.8 L99.1,588.6 L100.6,588.3 L102.1,588.1 L103.6,587.4 L105.1,586.2 L106.6,585.1 L108.1,584.6 L109.6,584.2 L111.1,583.7 L112.6,582.8 L114.1,581.6 L115.6,580.7 L117.1,580.4 L118.6,580.4 L120.1,580.4 L121.6,580.4 L123.1,579.9 L124.6,578.3 L126.1,575.9 L127.6,573.0 L129.1,571.3 L130.6,570.1 L132.1,569.3 L133.6,568.9 L135.1,568.2 L136.6,565.5 L138.1,562.1 L139.6,560.0 L141.1,558.4 L142.6,556.9 L144.1,555.1 L145.6,553.0 L147.1,550.7 L148.6,548.2 L150.1,545.7 L151.6,543.1 L153.1,540.4 L154.6,537.7 L156.1,535.0 L157.6,532.3 L159.1,529.6 L160.6,526.9 L162.1,524.2 L163.6,521.6 L165.1,518.9 L166.6,516.3 L168.1,513.6 L169.6,510.9 L171.1,508.1 L172.6,505.1 L174.1,502.1 L175.6,499.1 L177.1,496.1 L178.6,493.1 L180.1,490.0 L181.6,487.0 L183.1,484.1 L184.6,481.3 L186.1,478.6 L187.6,476.0 L189.1,473.5 L190.6,471.2 L192.1,468.9 L193.6,466.7 L195.1,464.6 L196.6,462.5 L198.1,460.6 L199.6,458.8 L201.1,457.0 L202.6,455.3 L204.1,453.8 L205.6,452.3 L207.1,450.9 L208.6,449.6 L210.1,448.3 L211.6,447.2 L213.1,446.2 L214.6,445.2 L216.1,444.4 L217.6,443.6 L219.1,443.0 L220.6,442.4 L222.1,441.9 L223.6,441.4 L225.1,441.1 L226.6,440.8 L228.1,440.5 L229.6,440.3 L231.1,440.1 L232.6,440.0 L234.1,440.0 L235.6,440.2 L237.1,440.5 L238.6,440.9 L240.1,441.5 L241.6,442.2 L243.1,443.0 L244.6,444.0 L246.1,445.1 L247.6,446.3 L249.1,447.6 L250.6,449.0 L252.1,450.5 L253.6,452.1 L255.1,453.7 L256.6,455.3 L258.1,457.0 L259.6,458.7 L261.1,460.5 L262.6,462.2 L264.1,463.9 L265.6,465.7 L267.1,467.4 L268.6,469.2 L270.1,471.0 L271.6,472.7 L273.1,474.5 L274.6,476.2 L276.1,478.0 L277.6,479.7 L279.1,481.4 L280.6,483.1 L282.1,484.8 L283.6,486.5 L285.1,488.2 L286.6,489.8 L288.1,491.4 L289.6,492.9 L291.1,494.4 L292.6,495.9 L294.1,497.3 L295.6,498.7 L297.1,500.1 L298.6,501.5 L300.1,503.0 L301.6,504.4 L303.1,505.9 L304.6,507.3 L306.1,508.8 L307.6,510.3 L309.1,511.7 L310.6,513.2 L312.1,514.7 L313.6,516.1 L315.1,517.6 L316.6,519.0 L318.1,520.4 L319.6,521.7 L321.1,523.0 L322.6,524.3 L324.1,525.6 L325.6,526.8 L327.1,528.0 L328.6,529.2 L330.1,530.3 L331.6,531.5 L333.1,532.6 L334.6,533.8 L336.1,535.0 L337.6,536.2 L339.1,537.4 L340.6,538.6 L342.1,539.8 L343.6,541.0 L345.1,542.2 L346.6,543.4 L348.1,544.6 L349.6,545.8 L351.1,547.0 L352.6,548.1 L354.1,549.2 L355.6,550.2 L357.1,551.3 L358.6,552.2 L360.1,553.2 L361.6,554.1 L363.1,555.1 L364.6,556.0 L366.1,556.9 L367.6,557.7 L369.1,558.6 L370.6,559.5 L372.1,560.3 L373.6,561.2 L375.1,562.0 L376.6,562.8 L378.1,563.6 L379.6,564.4 L381.1,565.2 L382.6,565.9 L384.1,566.6 L385.6,567.2 L387.1,567.8 L388.6,568.5 L390.1,569.0 L391.6,569.6 L393.1,570.2 L394.6,570.8 L396.1,571.3 L397.6,571.9 L399.1,572.5 L400.6,573.1 L402.1,573.6 L403.6,574.2 L405.1,574.8 L406.6,575.3 L408.1,575.8 L409.6,576.4 L411.1,576.9 L412.6,577.3 L414.1,577.8 L415.6,578.2 L417.1,578.7 L418.6,579.1 L420.1,579.4 L421.6,579.8 L423.1,580.2 L424.6,580.5 L426.1,580.9 L427.6,581.3 L429.1,581.6 L430.6,582.0 L432.1,582.4 L433.6,582.7 L435.1,583.0 L436.6,583.3 L438.1,583.6 L439.6,583.9 L441.1,584.2 L442.6,584.5 L444.1,584.8 L445.6,585.1 L447.1,585.3 L448.6,585.6 L450.1,585.9 L451.6,586.2 L453.1,586.4 L454.6,586.7 L456.1,586.9 L457.6,587.2 L459.1,587.4 L460.6,587.7 L462.1,587.9 L463.6,588.1 L465.1,588.4 L466.6,588.6 L468.1,588.8 L469.6,589.0 L471.1,589.2 L472.6,589.4 L474.1,589.6 L475.6,589.8 L477.1,590.0 L478.6,590.2 L480.1,590.4 L481.6,590.6 L483.1,590.8 L484.6,590.9 L486.1,591.1 L487.6,591.3 L489.1,591.4 L490.6,591.6 L492.1,591.8 L493.6,591.8 L495.1,591.8 L496.6,591.8 L498.1,591.8 L499.6,591.8 L501.1,591.8 L502.6,591.8 L504.1,591.8 L505.6,591.8 L507.1,591.8 L508.6,591.8 L510.1,591.8 L511.6,591.8 L513.1,591.8 L514.6,591.8 L516.1,591.8 L517.6,591.8 L519.1,591.8 L520.6,591.8 L522.1,591.8 L523.6,591.8 L525.1,591.8 L526.6,591.8 L528.1,591.8 L529.6,591.8 L531.1,591.8 L532.6,591.8 L534.1,591.8 L535.6,591.8 L537.1,591.8 L538.6,591.8 L540.1,591.8 L541.6,591.8 L543.1,591.8 L544.6,591.8 L546.1,591.8 L547.6,591.8 L549.1,591.8 L550.6,591.8 L552.1,591.8 L553.6,591.8 L555.1,591.8 L556.6,591.8 L558.1,591.8 L559.6,591.8 L561.1,591.8 L562.6,591.8 L564.1,591.8 L565.6,591.8 L567.1,591.8 L568.6,591.8 L570.1,591.8 L571.6,591.8 L573.1,591.8 L574.6,591.8 L576.1,591.8 L577.6,591.8 L579.1,591.8 L580.6,591.8 L582.1,591.8 L583.6,591.8 L585.1,591.8 L586.6,591.8 L588.1,591.8 L589.6,591.8 L591.1,591.8 L592.6,591.8 L594.1,591.8 L595.6,591.8 L597.1,591.8 L598.6,591.8 L600.1,591.8 L601.6,591.8 L603.1,591.8 L604.6,591.8 L606.1,591.8 L607.6,591.8 L609.1,591.8 L610.6,591.8 L612.1,591.8 L613.6,591.8 L615.1,591.8 L616.6,591.8 L618.1,591.8 L619.6,591.8 L621.1,591.8 L622.6,591.8 L624.1,591.8 L625.6,591.8 L627.1,591.8 L628.6,591.8 L630.1,591.8 L631.6,591.8 L633.1,591.8 L634.6,591.8 L636.1,591.8 L637.6,591.8 L639.1,591.8 L640.6,591.8 L642.1,591.8 L643.6,591.8 L645.1,591.8 L646.6,591.8 L648.1,591.8 L649.6,591.8 L651.1,591.8 L652.6,591.8 L654.1,591.8 L655.6,591.8 L657.1,591.8 L659.1,591.8"/>
<path d="M94.6,588.9 L96.1,588.9 L97.6,588.8 L99.1,588.6 L100.6,588.3 L102.1,588.1 L103.6,587.4 L105.1,586.2 L106.6,585.1 L108.1,584.6 L109.6,584.2 L111.1,583.7 L112.6,582.8 L114.1,581.6 L115.6,580.7 L117.1,580.4 L118.6,580.4 L120.1,580.4 L121.6,580.4 L123.1,579.9 L124.6,578.3 L126.1,575.9 L127.6,573.0 L129.1,571.3 L130.6,570.1 L132.1,569.3 L133.6,568.9 L135.1,568.2 L136.6,565.5 L138.1,562.1 L139.6,560.0 L141.1,558.4 L142.6,556.9 L144.1,555.1 L145.6,553.0 L147.1,550.7 L148.6,548.2 L150.1,545.7 L151.6,543.1 L153.1,540.4 L154.6,537.7 L156.1,535.0 L157.6,532.3 L159.1,529.6 L160.6,526.9 L162.1,524.2 L163.6,521.6 L165.1,518.9 L166.6,516.3 L168.1,513.6 L169.6,510.9 L171.1,508.1 L172.6,505.1 L174.1,502.1 L175.6,499.1 L177.1,496.2 L178.6,493.1 L180.1,490.1 L181.6,487.2 L183.1,484.3 L184.6,481.5 L186.1,478.9 L187.6,476.4 L189.1,474.0 L190.6,471.6 L192.1,469.4 L193.6,467.3 L195.1,465.2 L196.6,463.2 L198.1,461.4 L199.6,459.6 L201.1,458.0 L202.6,456.4 L204.1,454.9 L205.6,453.6 L207.1,452.3 L208.6,451.1 L210.1,450.0 L211.6,449.0 L213.1,448.1 L214.6,447.3 L216.1,446.6 L217.6,445.9 L219.1,445.4 L220.6,444.9 L222.1,444.5 L223.6,444.2 L225.1,443.9 L226.6,443.8 L228.1,443.7 L229.6,443.6 L231.1,443.6 L232.6,443.7 L234.1,444.0 L235.6,444.4 L237.1,444.9 L238.6,445.5 L240.1,446.2 L241.6,447.0 L243.1,447.9 L244.6,448.9 L246.1,450.0 L247.6,451.1 L249.1,452.3 L250.6,453.6 L252.1,455.0 L253.6,456.4 L255.1,457.9 L256.6,459.5 L258.1,461.1 L259.6,462.8 L261.1,464.6 L262.6,466.4 L264.1,468.2 L265.6,470.1 L267.1,472.0 L268.6,473.9 L270.1,475.7 L271.6,477.6 L273.1,479.4 L274.6,481.2 L276.1,483.0 L277.6,484.7 L279.1,486.3 L280.6,488.0 L282.1,489.6 L283.6,491.2 L285.1,492.7 L286.6,494.3 L288.1,495.8 L289.6,497.3 L291.1,498.8 L292.6,500.2 L294.1,501.7 L295.6,503.1 L297.1,504.5 L298.6,505.9 L300.1,507.4 L301.6,508.8 L303.1,510.2 L304.6,511.6 L306.1,512.9 L307.6,514.2 L309.1,515.5 L310.6,516.8 L312.1,518.1 L313.6,519.4 L315.1,520.7 L316.6,522.0 L318.1,523.3 L319.6,524.6 L321.1,526.0 L322.6,527.4 L324.1,528.7 L325.6,530.1 L327.1,531.5 L328.6,532.9 L330.1,534.2 L331.6,535.6 L333.1,536.9 L334.6,538.2 L336.1,539.4 L337.6,540.6 L339.1,541.7 L340.6,542.9 L342.1,543.9 L343.6,545.0 L345.1,546.0 L346.6,547.0 L348.1,548.0 L349.6,549.0 L351.1,550.0 L352.6,551.0 L354.1,551.9 L355.6,552.9 L357.1,553.9 L358.6,554.8 L360.1,555.7 L361.6,556.7 L363.1,557.6 L364.6,558.4 L366.1,559.3 L367.6,560.1 L369.1,560.9 L370.6,561.7 L372.1,562.5 L373.6,563.2 L375.1,564.0 L376.6,564.8 L378.1,565.5 L379.6,566.3 L381.1,567.0 L382.6,567.8 L384.1,568.6 L385.6,569.3 L387.1,570.1 L388.6,570.8 L390.1,571.5 L391.6,572.2 L393.1,572.8 L394.6,573.4 L396.1,574.0 L397.6,574.5 L399.1,575.0 L400.6,575.5 L402.1,576.0 L403.6,576.4 L405.1,576.8 L406.6,577.3 L408.1,577.7 L409.6,578.1 L411.1,578.5 L412.6,578.9 L414.1,579.3 L415.6,579.7 L417.1,580.1 L418.6,580.5 L420.1,580.9 L421.6,581.3 L423.1,581.7 L424.6,582.1 L426.1,582.5 L427.6,582.9 L429.1,583.3 L430.6,583.7 L432.1,584.1 L433.6,584.5 L435.1,584.7 L436.6,585.0 L438.1,585.3 L439.6,585.6 L441.1,585.9 L442.6,586.1 L444.1,586.4 L445.6,586.7 L447.1,586.9 L448.6,587.2 L450.1,587.5 L451.6,587.7 L453.1,588.0 L454.6,588.2 L456.1,588.4 L457.6,588.7 L459.1,588.9 L460.6,589.1 L462.1,589.3 L463.6,589.5 L465.1,589.7 L466.6,590.0 L468.1,590.2 L469.6,590.4 L471.1,590.5 L472.6,590.7 L474.1,590.9 L475.6,591.1 L477.1,591.3 L478.6,591.5 L480.1,591.6 L481.6,591.8 L483.1,591.8 L484.6,591.8 L486.1,591.8 L487.6,591.8 L489.1,591.8 L490.6,591.8 L492.1,591.8 L493.6,591.8 L495.1,591.8 L496.6,591.8 L498.1,591.8 L499.6,591.8 L501.1,591.8 L502.6,591.8 L504.1,591.8 L505.6,591.8 L507.1,591.8 L508.6,591.8 L510.1,591.8 L511.6,591.8 L513.1,591.8 L514.6,591.8 L516.1,591.8 L517.6,591.8 L519.1,591.8 L520.6,591.8 L522.1,591.8 L523.6,591.8 L525.1,591.8 L526.6,591.8 L528.1,591.8 L529.6,591.8 L531.1,591.8 L532.6,591.8 L534.1,591.8 L535.6,591.8 L537.1,591.8 L538.6,591.8 L540.1,591.8 L541.6,591.8 L543.1,591.8 L544.6,591.8 L546.1,591.8 L547.6,591.8 L549.1,591.8 L550.6,591.8 L552.1,591.8 L553.6,591.8 L555.1,591.8 L556.6,591.8 L558.1,591.8 L559.6,591.8 L561.1,591.8 L562.6,591.8 L564.1,591.8 L565.6,591.8 L567.1,591.8 L568.6,591.8 L570.1,591.8 L571.6,591.8 L573.1,591.8 L574.6,591.8 L576.1,591.8 L577.6,591.8 L579.1,591.8 L580.6,591.8 L582.1,591.8 L583.6,591.8 L585.1,591.8 L586.6,591.8 L588.1,591.8 L589.6,591.8 L591.1,591.8 L592.6,591.8 L594.1,591.8 L595.6,591.8 L597.1,591.8 L598.6,591.8 L600.1,591.8 L601.6,591.8 L603.1,591.8 L604.6,591.8 L606.1,591.8 L607.6,591.8 L609.1,591.8 L610.6,591.8 L612.1,591.8 L613.6,591.8 L615.1,591.8 L616.6,591.8 L618.1,591.8 L619.6,591.8 L621.1,591.8 L622.6,591.8 L624.1,591.8 L625.6,591.8 L627.1,591.8 L628.6,591.8 L630.1,591.8 L631.6,591.8 L633.1,591.8 L634.6,591.8 L636.1,591.8 L637.6,591.8 L639.1,591.8 L640.6,591.8 L642.1,591.8 L643.6,591.8 L645.1,591.8 L646.6,591.8 L648.1,591.8 L649.6,591.8 L651.1,591.8 L652.6,591.8 L654.1,591.8 L655.6,591.8 L657.1,591.8 L659.1,591.8"/>
<path d="M94.6,588.9 L96.1,588.9 L97.6,588.8 L99.1,588.6 L100.6,588.3 L102.1,588.1 L103.6,587.4 L105.1,586.2 L106.6,585.1 L108.1,584.6 L109.6,584.2 L111.1,583.7 L112.6,582.8 L114.1,581.6 L115.6,580.7 L117.1,580.4 L118.6,580.4 L120.1,580.4 L121.6,580.4 L123.1,579.9 L124.6,578.3 L126.1,575.9 L127.6,573.0 L129.1,571.3 L130.6,570.1 L132.1,569.3 L133.6,568.9 L135.1,568.2 L136.6,565.5 L138.1,562.1 L139.6,560.0 L141.1,558.4 L142.6,556.9 L144.1,555.1 L145.6,553.0 L147.1,550.7 L148.6,548.2 L150.1,545.7 L151.6,543.1 L153.1,540.4 L154.6,537.7 L156.1,535.0 L157.6,532.3 L159.1,529.6 L160.6,526.9 L162.1,524.2 L163.6,521.6 L165.1,518.9 L166.6,516.3 L168.1,513.7 L169.6,510.9 L171.1,508.1 L172.6,505.1 L174.1,502.1 L175.6,499.2 L177.1,496.2 L178.6,493.2 L180.1,490.3 L181.6,487.3 L183.1,484.5 L184.6,481.8 L186.1,479.3 L187.6,476.8 L189.1,474.5 L190.6,472.2 L192.1,470.1 L193.6,468.0 L195.1,466.0 L196.6,464.2 L198.1,462.4 L199.6,460.7 L201.1,459.2 L202.6,457.7 L204.1,456.3 L205.6,455.1 L207.1,453.9 L208.6,452.9 L210.1,451.9 L211.6,451.0 L213.1,450.3 L214.6,449.6 L216.1,449.0 L217.6,448.5 L219.1,448.0 L220.6,447.6 L222.1,447.3 L223.6,447.0 L225.1,446.8 L226.6,446.6 L228.1,446.4 L229.6,446.3 L231.1,446.3 L232.6,446.4 L234.1,446.7 L235.6,447.1 L237.1,447.7 L238.6,448.5 L240.1,449.3 L241.6,450.4 L243.1,451.5 L244.6,452.8 L246.1,454.2 L247.6,455.7 L249.1,457.2 L250.6,458.9 L252.1,460.6 L253.6,462.3 L255.1,464.1 L256.6,465.9 L258.1,467.7 L259.6,469.6 L261.1,471.4 L262.6,473.3 L264.1,475.1 L265.6,477.0 L267.1,478.8 L268.6,480.6 L270.1,482.4 L271.6,484.1 L273.1,485.9 L274.6,487.6 L276.1,489.2 L277.6,490.8 L279.1,492.4 L280.6,493.9 L282.1,495.4 L283.6,496.8 L285.1,498.2 L286.6,499.5 L288.1,500.8 L289.6,502.1 L291.1,503.3 L292.6,504.5 L294.1,505.8 L295.6,507.0 L297.1,508.3 L298.6,509.6 L300.1,511.0 L301.6,512.4 L303.1,513.9 L304.6,515.4 L306.1,516.8 L307.6,518.3 L309.1,519.8 L310.6,521.3 L312.1,522.8 L313.6,524.2 L315.1,525.6 L316.6,527.0 L318.1,528.3 L319.6,529.7 L321.1,530.9 L322.6,532.2 L324.1,533.4 L325.6,534.6 L327.1,535.9 L328.6,537.1 L330.1,538.3 L331.6,539.5 L333.1,540.7 L334.6,541.9 L336.1,543.1 L337.6,544.3 L339.1,545.5 L340.6,546.7 L342.1,547.8 L343.6,549.0 L345.1,550.1 L346.6,551.3 L348.1,552.3 L349.6,553.4 L351.1,554.4 L352.6,555.4 L354.1,556.4 L355.6,557.4 L357.1,558.3 L358.6,559.3 L360.1,560.2 L361.6,561.1 L363.1,562.0 L364.6,562.9 L366.1,563.8 L367.6,564.6 L369.1,565.5 L370.6,566.2 L372.1,567.0 L373.6,567.7 L375.1,568.4 L376.6,569.0 L378.1,569.6 L379.6,570.2 L381.1,570.8 L382.6,571.3 L384.1,571.8 L385.6,572.2 L387.1,572.7 L388.6,573.2 L390.1,573.7 L391.6,574.1 L393.1,574.6 L394.6,575.1 L396.1,575.6 L397.6,576.1 L399.1,576.6 L400.6,577.1 L402.1,577.7 L403.6,578.2 L405.1,578.7 L406.6,579.2 L408.1,579.7 L409.6,580.1 L411.1,580.6 L412.6,581.0 L414.1,581.5 L415.6,581.9 L417.1,582.3 L418.6,582.7 L420.1,583.1 L421.6,583.5 L423.1,583.9 L424.6,584.3 L426.1,584.7 L427.6,585.1 L429.1,585.5 L430.6,585.9 L432.1,586.3 L433.6,586.7 L435.1,586.9 L436.6,587.2 L438.1,587.5 L439.6,587.7 L441.1,588.0 L442.6,588.2 L444.1,588.5 L445.6,588.7 L447.1,588.9 L448.6,589.2 L450.1,589.4 L451.6,589.6 L453.1,589.9 L454.6,590.1 L456.1,590.3 L457.6,590.5 L459.1,590.7 L460.6,590.9 L462.1,591.1 L463.6,591.3 L465.1,591.5 L466.6,591.7 L468.1,591.8 L469.6,591.8 L471.1,591.8 L472.6,591.8 L474.1,591.8 L475.6,591.8 L477.1,591.8 L478.6,591.8 L480.1,591.8 L481.6,591.8 L483.1,591.8 L484.6,591.8 L486.1,591.8 L487.6,591.8 L489.1,591.8 L490.6,591.8 L492.1,591.8 L493.6,591.8 L495.1,591.8 L496.6,591.8 L498.1,591.8 L499.6,591.8 L501.1,591.8 L502.6,591.8 L504.1,591.8 L505.6,591.8 L507.1,591.8 L508.6,591.8 L510.1,591.8 L511.6,591.8 L513.1,591.8 L514.6,591.8 L516.1,591.8 L517.6,591.8 L519.1,591.8 L520.6,591.8 L522.1,591.8 L523.6,591.8 L525.1,591.8 L526.6,591.8 L528.1,591.8 L529.6,591.8 L531.1,591.8 L532.6,591.8 L534.1,591.8 L535.6,591.8 L537.1,591.8 L538.6,591.8 L540.1,591.8 L541.6,591.8 L543.1,591.8 L544.6,591.8 L546.1,591.8 L547.6,591.8 L549.1,591.8 L550.6,591.8 L552.1,591.8 L553.6,591.8 L555.1,591.8 L556.6,591.8 L558.1,591.8 L559.6,591.8 L561.1,591.8 L562.6,591.8 L564.1,591.8 L565.6,591.8 L567.1,591.8 L568.6,591.8 L570.1,591.8 L571.6,591.8 L573.1,591.8 L574.6,591.8 L576.1,591.8 L577.6,591.8 L579.1,591.8 L580.6,591.8 L582.1,591.8 L583.6,591.8 L585.1,591.8 L586.6,591.8 L588.1,591.8 L589.6,591.8 L591.1,591.8 L592.6,591.8 L594.1,591.8 L595.6,591.8 L597.1,591.8 L598.6,591.8 L600.1,591.8 L601.6,591.8 L603.1,591.8 L604.6,591.8 L606.1,591.8 L607.6,591.8 L609.1,591.8 L610.6,591.8 L612.1,591.8 L613.6,591.8 L615.1,591.8 L616.6,591.8 L618.1,591.8 L619.6,591.8 L621.1,591.8 L622.6,591.8 L624.1,591.8 L625.6,591.8 L627.1,591.8 L628.6,591.8 L630.1,591.8 L631.6,591.8 L633.1,591.8 L634.6,591.8 L636.1,591.8 L637.6,591.8 L639.1,591.8 L640.6,591.8 L642.1,591.8 L643.6,591.8 L645.1,591.8 L646.6,591.8 L648.1,591.8 L649.6,591.8 L651.1,591.8 L652.6,591.8 L654.1,591.8 L655.6,591.8 L657.1,591.8 L659.1,591.8"/>
</g>
<g stroke="#000" fill="none">
<path d="M207.51,589.80v-12.40M207.51,327.20v12.40M320.42,589.80v-12.40M320.42,327.20v12.40M433.33,589.80v-12.40M433.33,327.20v12.40M546.24,589.80v-12.40M546.24,327.20v12.40M94.60,379.72h12.40M659.15,379.72h-12.40M94.60,432.24h12.40M659.15,432.24h-12.40M94.60,484.76h12.40M659.15,484.76h-12.40M94.60,537.28h12.40M659.15,537.28h-12.40" stroke-width="1.70"/>
<rect x="94.60" y="327.20" width="564.55" height="262.60" stroke-width="3.20"/>
</g>
<g fill="none" clip-path="url(#cpb)" stroke-linejoin="round">
<line x1="94.60" x2="659.15" y1="412.10" y2="412.10" stroke="#3565cb" stroke-width="6.10"/>
<path d="M94.60,588.90 L95.35,588.89 L96.10,588.86 L96.85,588.82 L97.60,588.75 L98.35,588.67 L99.10,588.58 L99.85,588.47 L100.60,588.35 L101.35,588.21 L102.10,588.06 L102.85,587.86 L103.60,587.44 L104.35,586.87 L105.10,586.24 L105.85,585.64 L106.60,585.15 L107.35,584.82 L108.10,584.57 L108.85,584.36 L109.60,584.15 L110.35,583.94 L111.10,583.68 L111.85,583.33 L112.60,582.83 L113.35,582.24 L114.10,581.65 L114.85,581.10 L115.60,580.67 L116.35,580.43 L117.10,580.40 L117.85,580.40 L118.60,580.40 L119.35,580.40 L120.10,580.40 L120.85,580.40 L121.60,580.40 L122.35,580.34 L123.10,579.89 L123.85,579.15 L124.60,578.31 L125.35,577.30 L126.10,575.92 L126.85,574.41 L127.60,573.02 L128.35,572.00 L129.10,571.28 L129.85,570.66 L130.60,570.13 L131.35,569.68 L132.10,569.30 L132.85,569.04 L133.60,568.85 L134.35,568.62 L135.10,568.19 L135.85,567.11 L136.60,565.52 L137.35,563.75 L138.10,562.13 L138.85,560.94 L139.60,559.99 L140.35,559.15 L141.10,558.38 L141.85,557.63 L142.60,556.87 L143.35,556.05 L144.10,555.14 L144.85,554.12 L145.60,553.03 L146.35,551.87 L147.10,550.67 L147.85,549.43 L148.60,548.18 L149.35,546.91 L150.10,545.66 L150.85,544.38 L151.60,543.06 L152.35,541.73 L153.10,540.39 L153.85,539.03 L154.60,537.68 L155.35,536.34 L156.10,535.01 L156.85,533.67 L157.60,532.32 L158.35,530.98 L159.10,529.63 L159.85,528.29 L160.60,526.94 L161.35,525.59 L162.10,524.25 L162.85,522.90 L163.60,521.57 L164.35,520.25 L165.10,518.93 L165.85,517.61 L166.60,516.29 L167.35,514.95 L168.10,513.61 L168.85,512.25 L169.60,510.86 L170.35,509.45 L171.10,507.99 L171.85,506.51 L172.60,505.00 L173.35,503.48 L174.10,501.95 L174.85,500.43 L175.60,498.92 L176.35,497.42 L177.10,495.90 L177.85,494.36 L178.60,492.79 L179.35,491.22 L180.10,489.64 L180.85,488.07 L181.60,486.50 L182.35,484.96 L183.10,483.43 L183.85,481.93 L184.60,480.45 L185.35,479.00 L186.10,477.58 L186.85,476.18 L187.60,474.79 L188.35,473.43 L189.10,472.08 L189.85,470.74 L190.60,469.42 L191.35,468.12 L192.10,466.83 L192.85,465.55 L193.60,464.29 L194.35,463.05 L195.10,461.82 L195.85,460.61 L196.60,459.41 L197.35,458.23 L198.10,457.07 L198.85,455.92 L199.60,454.79 L200.35,453.68 L201.10,452.59 L201.85,451.51 L202.60,450.45 L203.35,449.40 L204.10,448.38 L204.85,447.37 L205.60,446.38 L206.35,445.41 L207.10,444.46 L207.85,443.53 L208.60,442.62 L209.35,441.72 L210.10,440.85 L210.85,439.99 L211.60,439.15 L212.35,438.34 L213.10,437.54 L213.85,436.77 L214.60,436.01 L215.35,435.27 L216.10,434.56 L216.85,433.87 L217.60,433.19 L218.35,432.54 L219.10,431.91 L219.85,431.30 L220.60,430.71 L221.35,430.15 L222.10,429.61 L222.85,429.09 L223.60,428.59 L224.35,428.11 L225.10,427.66 L225.85,427.23 L226.60,426.82 L227.35,426.44 L228.10,426.08 L228.85,425.74 L229.60,425.43 L230.35,425.13 L231.10,424.87 L231.85,424.62 L232.60,424.40 L233.35,424.20 L234.10,424.03 L234.85,423.87 L235.60,423.74 L236.35,423.64 L237.10,423.55 L237.85,423.49 L238.60,423.45 L239.35,423.44 L240.10,423.44 L240.85,423.47 L241.60,423.53 L242.35,423.60 L243.10,423.70 L243.85,423.82 L244.60,423.97 L245.35,424.13 L246.10,424.32 L246.85,424.52 L247.60,424.75 L248.35,425.00 L249.10,425.27 L249.85,425.55 L250.60,425.86 L251.35,426.18 L252.10,426.53 L252.85,426.89 L253.60,427.26 L254.35,427.66 L255.10,428.07 L255.85,428.50 L256.60,428.94 L257.35,429.40 L258.10,429.88 L258.85,430.37 L259.60,430.87 L260.35,431.39 L261.10,431.92 L261.85,432.47 L262.60,433.03 L263.35,433.60 L264.10,434.18 L264.85,434.78 L265.60,435.38 L266.35,436.00 L267.10,436.63 L267.85,437.27 L268.60,437.91 L269.35,438.57 L270.10,439.24 L270.85,439.91 L271.60,440.60 L272.35,441.29 L273.10,441.99 L273.85,442.69 L274.60,443.41 L275.35,444.13 L276.10,444.85 L276.85,445.58 L277.60,446.32 L278.35,447.06 L279.10,447.80 L279.85,448.55 L280.60,449.30 L281.35,450.06 L282.10,450.82 L282.85,451.58 L283.60,452.34 L284.35,453.10 L285.10,453.86 L285.85,454.63 L286.60,455.39 L287.35,456.16 L288.10,456.92 L288.85,457.68 L289.60,458.44 L290.35,459.20 L291.10,459.96 L291.85,460.71 L292.60,461.46 L293.35,462.21 L294.10,462.95 L294.85,463.69 L295.60,464.43 L296.35,465.16 L297.10,465.88 L297.85,466.60 L298.60,467.31 L299.35,468.02 L300.10,468.73 L300.85,469.42 L301.60,470.12 L302.35,470.80 L303.10,471.49 L303.85,472.16 L304.60,472.84 L305.35,473.50 L306.10,474.16 L306.85,474.82 L307.60,475.47 L308.35,476.12 L309.10,476.76 L309.85,477.39 L310.60,478.02 L311.35,478.65 L312.10,479.27 L312.85,479.89 L313.60,480.50 L314.35,481.11 L315.10,481.71 L315.85,482.31 L316.60,482.90 L317.35,483.50 L318.10,484.08 L318.85,484.67 L319.60,485.25 L320.35,485.83 L321.10,486.41 L321.85,486.98 L322.60,487.55 L323.35,488.12 L324.10,488.69 L324.85,489.25 L325.60,489.81 L326.35,490.38 L327.10,490.93 L327.85,491.49 L328.60,492.05 L329.35,492.61 L330.10,493.16 L330.85,493.71 L331.60,494.27 L332.35,494.82 L333.10,495.37 L333.85,495.93 L334.60,496.48 L335.35,497.03 L336.10,497.59 L336.85,498.14 L337.60,498.70 L338.35,499.25 L339.10,499.81 L339.85,500.36 L340.60,500.92 L341.35,501.48 L342.10,502.04 L342.85,502.59 L343.60,503.15 L344.35,503.71 L345.10,504.26 L345.85,504.82 L346.60,505.38 L347.35,505.94 L348.10,506.49 L348.85,507.05 L349.60,507.60 L350.35,508.16 L351.10,508.71 L351.85,509.27 L352.60,509.82 L353.35,510.37 L354.10,510.92 L354.85,511.47 L355.60,512.02 L356.35,512.57 L357.10,513.12 L357.85,513.67 L358.60,514.21 L359.35,514.76 L360.10,515.30 L360.85,515.84 L361.60,516.38 L362.35,516.92 L363.10,517.45 L363.85,517.99 L364.60,518.52 L365.35,519.05 L366.10,519.58 L366.85,520.11 L367.60,520.63 L368.35,521.16 L369.10,521.68 L369.85,522.20 L370.60,522.71 L371.35,523.23 L372.10,523.74 L372.85,524.25 L373.60,524.76 L374.35,525.26 L375.10,525.76 L375.85,526.26 L376.60,526.76 L377.35,527.25 L378.10,527.74 L378.85,528.23 L379.60,528.71 L380.35,529.19 L381.10,529.67 L381.85,530.15 L382.60,530.62 L383.35,531.09 L384.10,531.55 L384.85,532.01 L385.60,532.47 L386.35,532.92 L387.10,533.37 L387.85,533.82 L388.60,534.27 L389.35,534.71 L390.10,535.14 L390.85,535.58 L391.60,536.01 L392.35,536.43 L393.10,536.86 L393.85,537.28 L394.60,537.70 L395.35,538.11 L396.10,538.52 L396.85,538.93 L397.60,539.33 L398.35,539.73 L399.10,540.13 L399.85,540.53 L400.60,540.92 L401.35,541.31 L402.10,541.69 L402.85,542.08 L403.60,542.46 L404.35,542.83 L405.10,543.21 L405.85,543.58 L406.60,543.94 L407.35,544.31 L408.10,544.67 L408.85,545.03 L409.60,545.39 L410.35,545.74 L411.10,546.09 L411.85,546.44 L412.60,546.78 L413.35,547.12 L414.10,547.46 L414.85,547.80 L415.60,548.13 L416.35,548.46 L417.10,548.79 L417.85,549.11 L418.60,549.43 L419.35,549.75 L420.10,550.07 L420.85,550.38 L421.60,550.70 L422.35,551.00 L423.10,551.31 L423.85,551.61 L424.60,551.92 L425.35,552.21 L426.10,552.51 L426.85,552.80 L427.60,553.09 L428.35,553.38 L429.10,553.67 L429.85,553.95 L430.60,554.23 L431.35,554.51 L432.10,554.79 L432.85,555.06 L433.60,555.34 L434.35,555.61 L435.10,555.87 L435.85,556.14 L436.60,556.40 L437.35,556.66 L438.10,556.92 L438.85,557.17 L439.60,557.43 L440.35,557.68 L441.10,557.93 L441.85,558.17 L442.60,558.42 L443.35,558.66 L444.10,558.90 L444.85,559.14 L445.60,559.38 L446.35,559.61 L447.10,559.84 L447.85,560.07 L448.60,560.30 L449.35,560.53 L450.10,560.75 L450.85,560.97 L451.60,561.19 L452.35,561.41 L453.10,561.63 L453.85,561.84 L454.60,562.06 L455.35,562.27 L456.10,562.48 L456.85,562.68 L457.60,562.89 L458.35,563.09 L459.10,563.30 L459.85,563.50 L460.60,563.69 L461.35,563.89 L462.10,564.09 L462.85,564.28 L463.60,564.47 L464.35,564.66 L465.10,564.85 L465.85,565.04 L466.60,565.22 L467.35,565.41 L468.10,565.59 L468.85,565.77 L469.60,565.95 L470.35,566.12 L471.10,566.30 L471.85,566.48 L472.60,566.65 L473.35,566.82 L474.10,566.99 L474.85,567.16 L475.60,567.33 L476.35,567.49 L477.10,567.66 L477.85,567.82 L478.60,567.98 L479.35,568.14 L480.10,568.30 L480.85,568.46 L481.60,568.62 L482.35,568.77 L483.10,568.93 L483.85,569.08 L484.60,569.23 L485.35,569.39 L486.10,569.54 L486.85,569.68 L487.60,569.83 L488.35,569.98 L489.10,570.12 L489.85,570.27 L490.60,570.41 L491.35,570.56 L492.10,570.70 L492.85,570.84 L493.60,570.98 L494.35,571.12 L495.10,571.25 L495.85,571.39 L496.60,571.53 L497.35,571.66 L498.10,571.79 L498.85,571.93 L499.60,572.06 L500.35,572.19 L501.10,572.32 L501.85,572.45 L502.60,572.58 L503.35,572.71 L504.10,572.84 L504.85,572.97 L505.60,573.09 L506.35,573.22 L507.10,573.34 L507.85,573.47 L508.60,573.59 L509.35,573.71 L510.10,573.84 L510.85,573.96 L511.60,574.08 L512.35,574.20 L513.10,574.32 L513.85,574.44 L514.60,574.56 L515.35,574.68 L516.10,574.80 L516.85,574.91 L517.60,575.03 L518.35,575.15 L519.10,575.26 L519.85,575.38 L520.60,575.49 L521.35,575.61 L522.10,575.72 L522.85,575.83 L523.60,575.95 L524.35,576.06 L525.10,576.17 L525.85,576.28 L526.60,576.39 L527.35,576.50 L528.10,576.61 L528.85,576.71 L529.60,576.82 L530.35,576.93 L531.10,577.04 L531.85,577.14 L532.60,577.25 L533.35,577.35 L534.10,577.46 L534.85,577.56 L535.60,577.66 L536.35,577.76 L537.10,577.87 L537.85,577.97 L538.60,578.07 L539.35,578.17 L540.10,578.27 L540.85,578.37 L541.60,578.46 L542.35,578.56 L543.10,578.66 L543.85,578.76 L544.60,578.85 L545.35,578.95 L546.10,579.04 L546.85,579.14 L547.60,579.23 L548.35,579.32 L549.10,579.42 L549.85,579.51 L550.60,579.60 L551.35,579.69 L552.10,579.78 L552.85,579.87 L553.60,579.96 L554.35,580.05 L555.10,580.14 L555.85,580.23 L556.60,580.31 L557.35,580.40 L558.10,580.48 L558.85,580.57 L559.60,580.65 L560.35,580.74 L561.10,580.82 L561.85,580.91 L562.60,580.99 L563.35,581.07 L564.10,581.15 L564.85,581.23 L565.60,581.31 L566.35,581.39 L567.10,581.47 L567.85,581.55 L568.60,581.63 L569.35,581.70 L570.10,581.78 L570.85,581.86 L571.60,581.93 L572.35,582.01 L573.10,582.08 L573.85,582.16 L574.60,582.23 L575.35,582.30 L576.10,582.37 L576.85,582.45 L577.60,582.52 L578.35,582.59 L579.10,582.66 L579.85,582.73 L580.60,582.80 L581.35,582.86 L582.10,582.93 L582.85,583.00 L583.60,583.07 L584.35,583.13 L585.10,583.20 L585.85,583.26 L586.60,583.33 L587.35,583.39 L588.10,583.45 L588.85,583.52 L589.60,583.58 L590.35,583.64 L591.10,583.70 L591.85,583.76 L592.60,583.82 L593.35,583.88 L594.10,583.94 L594.85,584.00 L595.60,584.06 L596.35,584.11 L597.10,584.17 L597.85,584.23 L598.60,584.28 L599.35,584.34 L600.10,584.39 L600.85,584.45 L601.60,584.50 L602.35,584.55 L603.10,584.60 L603.85,584.66 L604.60,584.71 L605.35,584.76 L606.10,584.81 L606.85,584.86 L607.60,584.91 L608.35,584.95 L609.10,585.00 L609.85,585.05 L610.60,585.10 L611.35,585.14 L612.10,585.19 L612.85,585.23 L613.60,585.28 L614.35,585.32 L615.10,585.36 L615.85,585.41 L616.60,585.45 L617.35,585.49 L618.10,585.53 L618.85,585.57 L619.60,585.61 L620.35,585.65 L621.10,585.69 L621.85,585.73 L622.60,585.77 L623.35,585.81 L624.10,585.84 L624.85,585.88 L625.60,585.91 L626.35,585.95 L627.10,585.98 L627.85,586.02 L628.60,586.05 L629.35,586.09 L630.10,586.12 L630.85,586.15 L631.60,586.18 L632.35,586.21 L633.10,586.24 L633.85,586.27 L634.60,586.30 L635.35,586.33 L636.10,586.36 L636.85,586.39 L637.60,586.41 L638.35,586.44 L639.10,586.47 L639.85,586.49 L640.60,586.52 L641.35,586.54 L642.10,586.56 L642.85,586.59 L643.60,586.61 L644.35,586.63 L645.10,586.65 L645.85,586.67 L646.60,586.70 L647.35,586.72 L648.10,586.73 L648.85,586.75 L649.60,586.77 L650.35,586.79 L651.10,586.81 L651.85,586.82 L652.60,586.84 L653.35,586.86 L654.10,586.87 L654.85,586.89 L655.60,586.90 L656.35,586.91 L657.10,586.93 L657.85,586.94 L659.15,586.96" stroke="#e2001e" stroke-width="6.00"/>
</g>
<line x1="235.6" x2="235.6" y1="642.60" y2="905.20" stroke="#0a7410" stroke-width="2.9" clip-path="url(#cpc)"/>
<g stroke="#d3d3d3" stroke-width="1.85" fill="none" clip-path="url(#cpc)" stroke-linejoin="round">
<path d="M94.6,711.7 L96.1,712.2 L97.6,712.7 L99.1,713.2 L100.6,713.7 L102.1,714.2 L103.6,714.7 L105.1,715.3 L106.6,715.8 L108.1,716.4 L109.6,717.0 L111.1,717.6 L112.6,718.2 L114.1,718.9 L115.6,719.6 L117.1,720.3 L118.6,721.0 L120.1,721.8 L121.6,722.5 L123.1,723.3 L124.6,724.2 L126.1,725.1 L127.6,726.0 L129.1,726.9 L130.6,727.9 L132.1,728.9 L133.6,729.9 L135.1,731.0 L136.6,732.1 L138.1,733.3 L139.6,734.5 L141.1,735.7 L142.6,737.0 L144.1,738.4 L145.6,739.7 L147.1,741.2 L148.6,742.6 L150.1,744.2 L151.6,745.7 L153.1,747.4 L154.6,749.1 L156.1,750.8 L157.6,752.6 L159.1,754.4 L160.6,756.3 L162.1,758.3 L163.6,760.3 L165.1,762.4 L166.6,764.6 L168.1,766.8 L169.6,769.1 L171.1,771.4 L172.6,773.8 L174.1,776.2 L175.6,778.7 L177.1,781.2 L178.6,783.8 L180.1,786.5 L181.6,789.1 L183.1,791.9 L184.6,794.6 L186.1,797.5 L187.6,800.3 L189.1,803.2 L190.6,806.2 L192.1,809.2 L193.6,812.2 L195.1,815.3 L196.6,818.4 L198.1,821.6 L199.6,824.8 L201.1,827.9 L202.6,831.1 L204.1,834.3 L205.6,837.4 L207.1,840.6 L208.6,843.6 L210.1,846.6 L211.6,849.6 L213.1,852.4 L214.6,855.1 L216.1,857.7 L217.6,860.2 L219.1,862.5 L220.6,864.6 L222.1,866.6 L223.6,868.3 L225.1,869.9 L226.6,871.2 L228.1,872.3 L229.6,873.2 L231.1,873.8 L232.6,874.2 L234.1,874.4 L235.6,874.3 L237.1,873.8 L238.6,872.8 L240.1,871.5 L241.6,869.7 L243.1,867.6 L244.6,865.2 L246.1,862.5 L247.6,859.4 L249.1,856.1 L250.6,852.7 L252.1,849.0 L253.6,845.3 L255.1,841.4 L256.6,837.6 L258.1,833.7 L259.6,829.9 L261.1,826.2 L262.6,822.5 L264.1,819.0 L265.6,815.5 L267.1,812.1 L268.6,808.8 L270.1,805.6 L271.6,802.5 L273.1,799.5 L274.6,796.5 L276.1,793.6 L277.6,790.8 L279.1,788.0 L280.6,785.3 L282.1,782.7 L283.6,780.1 L285.1,777.6 L286.6,775.2 L288.1,772.8 L289.6,770.5 L291.1,768.2 L292.6,766.0 L294.1,763.9 L295.6,761.8 L297.1,759.8 L298.6,757.9 L300.1,756.0 L301.6,754.1 L303.1,752.4 L304.6,750.6 L306.1,749.0 L307.6,747.4 L309.1,745.8 L310.6,744.3 L312.1,742.8 L313.6,741.4 L315.1,740.0 L316.6,738.7 L318.1,737.4 L319.6,736.2 L321.1,735.0 L322.6,733.8 L324.1,732.7 L325.6,731.6 L327.1,730.5 L328.6,729.5 L330.1,728.5 L331.6,727.6 L333.1,726.7 L334.6,725.8 L336.1,725.0 L337.6,724.1 L339.1,723.3 L340.6,722.6 L342.1,721.8 L343.6,721.1 L345.1,720.4 L346.6,719.7 L348.1,719.0 L349.6,718.4 L351.1,717.8 L352.6,717.2 L354.1,716.6 L355.6,716.0 L357.1,715.4 L358.6,714.9 L360.1,714.3 L361.6,713.8 L363.1,713.3 L364.6,712.8 L366.1,712.3 L367.6,711.8 L369.1,711.3 L370.6,710.8 L372.1,710.4 L373.6,709.9 L375.1,709.5 L376.6,709.1 L378.1,708.7 L379.6,708.3 L381.1,707.9 L382.6,707.5 L384.1,707.1 L385.6,706.8 L387.1,706.4 L388.6,706.1 L390.1,705.7 L391.6,705.4 L393.1,705.1 L394.6,704.8 L396.1,704.5 L397.6,704.2 L399.1,703.9 L400.6,703.6 L402.1,703.3 L403.6,703.1 L405.1,702.8 L406.6,702.6 L408.1,702.3 L409.6,702.1 L411.1,701.9 L412.6,701.7 L414.1,701.5 L415.6,701.3 L417.1,701.1 L418.6,700.9 L420.1,700.7 L421.6,700.5 L423.1,700.3 L424.6,700.2 L426.1,700.0 L427.6,699.8 L429.1,699.7 L430.6,699.5 L432.1,699.4 L433.6,699.3 L435.1,699.1 L436.6,699.0 L438.1,698.9 L439.6,698.8 L441.1,698.6 L442.6,698.5 L444.1,698.4 L445.6,698.3 L447.1,698.2 L448.6,698.1 L450.1,698.0 L451.6,697.9 L453.1,697.9 L454.6,697.8 L456.1,697.7 L457.6,697.6 L459.1,697.5 L460.6,697.5 L462.1,697.4 L463.6,697.3 L465.1,697.3 L466.6,697.2 L468.1,697.1 L469.6,697.1 L471.1,697.0 L472.6,697.0 L474.1,696.9 L475.6,696.8 L477.1,696.8 L478.6,696.7 L480.1,696.7 L481.6,696.6 L483.1,696.6 L484.6,696.5 L486.1,696.5 L487.6,696.4 L489.1,696.4 L490.6,696.3 L492.1,696.3 L493.6,696.2 L495.1,696.1 L496.6,696.1 L498.1,696.0 L499.6,696.0 L501.1,695.9 L502.6,695.8 L504.1,695.8 L505.6,695.7 L507.1,695.6 L508.6,695.6 L510.1,695.5 L511.6,695.4 L513.1,695.3 L514.6,695.3 L516.1,695.2 L517.6,695.1 L519.1,695.0 L520.6,694.9 L522.1,694.8 L523.6,694.8 L525.1,694.8 L526.6,694.7 L528.1,694.7 L529.6,694.7 L531.1,694.7 L532.6,694.7 L534.1,694.7 L535.6,694.7 L537.1,694.7 L538.6,694.7 L540.1,694.7 L541.6,694.7 L543.1,694.7 L544.6,694.7 L546.1,694.7 L547.6,694.7 L549.1,694.7 L550.6,694.7 L552.1,694.7 L553.6,694.7 L555.1,694.7 L556.6,694.7 L558.1,694.7 L559.6,694.7 L561.1,694.7 L562.6,694.7 L564.1,694.7 L565.6,694.7 L567.1,694.7 L568.6,694.7 L570.1,694.7 L571.6,694.7 L573.1,694.7 L574.6,694.7 L576.1,694.7 L577.6,694.7 L579.1,694.7 L580.6,694.7 L582.1,694.7 L583.6,694.7 L585.1,694.7 L586.6,694.7 L588.1,694.7 L589.6,694.7 L591.1,694.7 L592.6,694.7 L594.1,694.7 L595.6,694.7 L597.1,694.7 L598.6,694.7 L600.1,694.7 L601.6,694.7 L603.1,694.7 L604.6,694.7 L606.1,694.7 L607.6,694.7 L609.1,694.7 L610.6,694.7 L612.1,694.7 L613.6,694.7 L615.1,694.7 L616.6,694.7 L618.1,694.7 L619.6,694.7 L621.1,694.7 L622.6,694.7 L624.1,694.7 L625.6,694.7 L627.1,694.7 L628.6,694.7 L630.1,694.7 L631.6,694.7 L633.1,694.7 L634.6,694.7 L636.1,694.7 L637.6,694.7 L639.1,694.7 L640.6,694.7 L642.1,694.7 L643.6,694.7 L645.1,694.7 L646.6,694.7 L648.1,694.7 L649.6,694.7 L651.1,694.7 L652.6,694.7 L654.1,694.7 L655.6,694.7 L657.1,694.7 L659.1,694.7"/>
<path d="M94.6,711.7 L96.1,712.2 L97.6,712.7 L99.1,713.2 L100.6,713.7 L102.1,714.2 L103.6,714.7 L105.1,715.3 L106.6,715.8 L108.1,716.4 L109.6,717.0 L111.1,717.6 L112.6,718.2 L114.1,718.9 L115.6,719.6 L117.1,720.3 L118.6,721.0 L120.1,721.8 L121.6,722.5 L123.1,723.3 L124.6,724.2 L126.1,725.1 L127.6,726.0 L129.1,726.9 L130.6,727.9 L132.1,728.9 L133.6,729.9 L135.1,731.0 L136.6,732.1 L138.1,733.3 L139.6,734.5 L141.1,735.7 L142.6,737.0 L144.1,738.4 L145.6,739.7 L147.1,741.2 L148.6,742.6 L150.1,744.2 L151.6,745.7 L153.1,747.4 L154.6,749.0 L156.1,750.8 L157.6,752.6 L159.1,754.4 L160.6,756.3 L162.1,758.3 L163.6,760.3 L165.1,762.4 L166.6,764.5 L168.1,766.7 L169.6,768.9 L171.1,771.2 L172.6,773.5 L174.1,775.9 L175.6,778.3 L177.1,780.7 L178.6,783.2 L180.1,785.7 L181.6,788.2 L183.1,790.8 L184.6,793.3 L186.1,795.9 L187.6,798.5 L189.1,801.1 L190.6,803.6 L192.1,806.2 L193.6,808.8 L195.1,811.4 L196.6,814.0 L198.1,816.5 L199.6,819.0 L201.1,821.5 L202.6,823.9 L204.1,826.3 L205.6,828.5 L207.1,830.8 L208.6,832.9 L210.1,834.9 L211.6,836.9 L213.1,838.7 L214.6,840.4 L216.1,842.1 L217.6,843.6 L219.1,844.9 L220.6,846.2 L222.1,847.3 L223.6,848.3 L225.1,849.1 L226.6,849.9 L228.1,850.4 L229.6,850.9 L231.1,851.3 L232.6,851.5 L234.1,851.7 L235.6,851.7 L237.1,851.6 L238.6,851.3 L240.1,850.8 L241.6,850.2 L243.1,849.4 L244.6,848.4 L246.1,847.3 L247.6,846.0 L249.1,844.6 L250.6,842.9 L252.1,841.1 L253.6,839.1 L255.1,837.0 L256.6,834.8 L258.1,832.5 L259.6,830.1 L261.1,827.6 L262.6,825.1 L264.1,822.6 L265.6,820.1 L267.1,817.5 L268.6,815.0 L270.1,812.4 L271.6,809.9 L273.1,807.4 L274.6,804.8 L276.1,802.3 L277.6,799.8 L279.1,797.4 L280.6,794.9 L282.1,792.5 L283.6,790.2 L285.1,787.8 L286.6,785.5 L288.1,783.2 L289.6,781.0 L291.1,778.8 L292.6,776.6 L294.1,774.5 L295.6,772.5 L297.1,770.4 L298.6,768.5 L300.1,766.5 L301.6,764.6 L303.1,762.8 L304.6,761.0 L306.1,759.3 L307.6,757.6 L309.1,755.9 L310.6,754.3 L312.1,752.7 L313.6,751.2 L315.1,749.7 L316.6,748.3 L318.1,746.9 L319.6,745.5 L321.1,744.2 L322.6,742.9 L324.1,741.7 L325.6,740.5 L327.1,739.3 L328.6,738.1 L330.1,737.0 L331.6,736.0 L333.1,734.9 L334.6,733.9 L336.1,732.9 L337.6,732.0 L339.1,731.0 L340.6,730.1 L342.1,729.3 L343.6,728.4 L345.1,727.6 L346.6,726.8 L348.1,726.0 L349.6,725.3 L351.1,724.6 L352.6,723.8 L354.1,723.2 L355.6,722.5 L357.1,721.8 L358.6,721.2 L360.1,720.6 L361.6,720.0 L363.1,719.4 L364.6,718.9 L366.1,718.3 L367.6,717.8 L369.1,717.2 L370.6,716.7 L372.1,716.2 L373.6,715.7 L375.1,715.2 L376.6,714.8 L378.1,714.3 L379.6,713.8 L381.1,713.4 L382.6,712.9 L384.1,712.5 L385.6,712.1 L387.1,711.7 L388.6,711.2 L390.1,710.9 L391.6,710.5 L393.1,710.1 L394.6,709.7 L396.1,709.3 L397.6,709.0 L399.1,708.6 L400.6,708.3 L402.1,707.9 L403.6,707.6 L405.1,707.3 L406.6,707.0 L408.1,706.7 L409.6,706.4 L411.1,706.1 L412.6,705.8 L414.1,705.5 L415.6,705.2 L417.1,705.0 L418.6,704.7 L420.1,704.5 L421.6,704.2 L423.1,704.0 L424.6,703.7 L426.1,703.5 L427.6,703.3 L429.1,703.1 L430.6,702.9 L432.1,702.6 L433.6,702.4 L435.1,702.3 L436.6,702.1 L438.1,701.9 L439.6,701.7 L441.1,701.5 L442.6,701.4 L444.1,701.2 L445.6,701.0 L447.1,700.9 L448.6,700.7 L450.1,700.6 L451.6,700.4 L453.1,700.3 L454.6,700.2 L456.1,700.0 L457.6,699.9 L459.1,699.8 L460.6,699.7 L462.1,699.6 L463.6,699.4 L465.1,699.3 L466.6,699.2 L468.1,699.1 L469.6,699.0 L471.1,698.9 L472.6,698.9 L474.1,698.8 L475.6,698.7 L477.1,698.6 L478.6,698.5 L480.1,698.4 L481.6,698.4 L483.1,698.3 L484.6,698.2 L486.1,698.1 L487.6,698.1 L489.1,698.0 L490.6,698.0 L492.1,697.9 L493.6,697.8 L495.1,697.8 L496.6,697.7 L498.1,697.7 L499.6,697.6 L501.1,697.6 L502.6,697.5 L504.1,697.5 L505.6,697.4 L507.1,697.4 L508.6,697.3 L510.1,697.3 L511.6,697.2 L513.1,697.2 L514.6,697.1 L516.1,697.1 L517.6,697.0 L519.1,697.0 L520.6,696.9 L522.1,696.9 L523.6,696.8 L525.1,696.8 L526.6,696.7 L528.1,696.7 L529.6,696.6 L531.1,696.6 L532.6,696.5 L534.1,696.5 L535.6,696.4 L537.1,696.4 L538.6,696.3 L540.1,696.3 L541.6,696.2 L543.1,696.2 L544.6,696.1 L546.1,696.0 L547.6,696.0 L549.1,695.9 L550.6,695.8 L552.1,695.8 L553.6,695.7 L555.1,695.6 L556.6,695.5 L558.1,695.5 L559.6,695.4 L561.1,695.3 L562.6,695.3 L564.1,695.3 L565.6,695.3 L567.1,695.3 L568.6,695.3 L570.1,695.3 L571.6,695.3 L573.1,695.3 L574.6,695.3 L576.1,695.3 L577.6,695.3 L579.1,695.3 L580.6,695.3 L582.1,695.3 L583.6,695.3 L585.1,695.3 L586.6,695.3 L588.1,695.3 L589.6,695.3 L591.1,695.3 L592.6,695.3 L594.1,695.3 L595.6,695.3 L597.1,695.3 L598.6,695.3 L600.1,695.3 L601.6,695.3 L603.1,695.3 L604.6,695.3 L606.1,695.3 L607.6,695.3 L609.1,695.3 L610.6,695.3 L612.1,695.3 L613.6,695.3 L615.1,695.3 L616.6,695.3 L618.1,695.3 L619.6,695.3 L621.1,695.3 L622.6,695.3 L624.1,695.3 L625.6,695.3 L627.1,695.3 L628.6,695.3 L630.1,695.3 L631.6,695.3 L633.1,695.3 L634.6,695.3 L636.1,695.2 L637.6,695.2 L639.1,695.2 L640.6,695.2 L642.1,695.2 L643.6,695.2 L645.1,695.2 L646.6,695.2 L648.1,695.2 L649.6,695.2 L651.1,695.2 L652.6,695.2 L654.1,695.2 L655.6,695.2 L657.1,695.2 L659.1,695.2"/>
<path d="M94.6,711.7 L96.1,712.2 L97.6,712.7 L99.1,713.2 L100.6,713.7 L102.1,714.2 L103.6,714.7 L105.1,715.3 L106.6,715.8 L108.1,716.4 L109.6,717.0 L111.1,717.6 L112.6,718.2 L114.1,718.9 L115.6,719.6 L117.1,720.3 L118.6,721.0 L120.1,721.8 L121.6,722.5 L123.1,723.3 L124.6,724.2 L126.1,725.1 L127.6,726.0 L129.1,726.9 L130.6,727.9 L132.1,728.9 L133.6,729.9 L135.1,731.0 L136.6,732.1 L138.1,733.3 L139.6,734.5 L141.1,735.7 L142.6,737.0 L144.1,738.4 L145.6,739.7 L147.1,741.2 L148.6,742.6 L150.1,744.2 L151.6,745.7 L153.1,747.4 L154.6,749.0 L156.1,750.8 L157.6,752.6 L159.1,754.4 L160.6,756.3 L162.1,758.3 L163.6,760.3 L165.1,762.4 L166.6,764.6 L168.1,766.8 L169.6,769.0 L171.1,771.4 L172.6,773.7 L174.1,776.1 L175.6,778.6 L177.1,781.1 L178.6,783.7 L180.1,786.3 L181.6,788.9 L183.1,791.6 L184.6,794.3 L186.1,797.0 L187.6,799.8 L189.1,802.7 L190.6,805.5 L192.1,808.4 L193.6,811.3 L195.1,814.3 L196.6,817.2 L198.1,820.2 L199.6,823.2 L201.1,826.2 L202.6,829.2 L204.1,832.1 L205.6,835.0 L207.1,837.9 L208.6,840.7 L210.1,843.5 L211.6,846.1 L213.1,848.7 L214.6,851.2 L216.1,853.5 L217.6,855.7 L219.1,857.8 L220.6,859.7 L222.1,861.4 L223.6,862.9 L225.1,864.3 L226.6,865.4 L228.1,866.4 L229.6,867.2 L231.1,867.7 L232.6,868.1 L234.1,868.3 L235.6,868.3 L237.1,867.9 L238.6,867.3 L240.1,866.3 L241.6,865.2 L243.1,863.7 L244.6,862.0 L246.1,860.1 L247.6,858.0 L249.1,855.6 L250.6,853.1 L252.1,850.4 L253.6,847.6 L255.1,844.7 L256.6,841.8 L258.1,838.7 L259.6,835.7 L261.1,832.6 L262.6,829.5 L264.1,826.5 L265.6,823.6 L267.1,820.6 L268.6,817.8 L270.1,815.0 L271.6,812.2 L273.1,809.5 L274.6,806.9 L276.1,804.3 L277.6,801.7 L279.1,799.2 L280.6,796.7 L282.1,794.2 L283.6,791.8 L285.1,789.5 L286.6,787.2 L288.1,784.9 L289.6,782.7 L291.1,780.5 L292.6,778.3 L294.1,776.2 L295.6,774.1 L297.1,772.1 L298.6,770.1 L300.1,768.2 L301.6,766.3 L303.1,764.5 L304.6,762.7 L306.1,760.9 L307.6,759.2 L309.1,757.5 L310.6,755.9 L312.1,754.3 L313.6,752.8 L315.1,751.3 L316.6,749.9 L318.1,748.4 L319.6,747.1 L321.1,745.7 L322.6,744.4 L324.1,743.2 L325.6,741.9 L327.1,740.7 L328.6,739.6 L330.1,738.4 L331.6,737.4 L333.1,736.3 L334.6,735.3 L336.1,734.3 L337.6,733.3 L339.1,732.3 L340.6,731.4 L342.1,730.5 L343.6,729.7 L345.1,728.8 L346.6,728.0 L348.1,727.2 L349.6,726.4 L351.1,725.7 L352.6,725.0 L354.1,724.3 L355.6,723.6 L357.1,722.9 L358.6,722.3 L360.1,721.7 L361.6,721.0 L363.1,720.4 L364.6,719.9 L366.1,719.3 L367.6,718.8 L369.1,718.2 L370.6,717.7 L372.1,717.2 L373.6,716.7 L375.1,716.2 L376.6,715.7 L378.1,715.2 L379.6,714.8 L381.1,714.3 L382.6,713.8 L384.1,713.4 L385.6,713.0 L387.1,712.5 L388.6,712.1 L390.1,711.7 L391.6,711.3 L393.1,710.9 L394.6,710.5 L396.1,710.2 L397.6,709.8 L399.1,709.4 L400.6,709.1 L402.1,708.7 L403.6,708.4 L405.1,708.1 L406.6,707.8 L408.1,707.4 L409.6,707.1 L411.1,706.8 L412.6,706.5 L414.1,706.2 L415.6,706.0 L417.1,705.7 L418.6,705.4 L420.1,705.1 L421.6,704.9 L423.1,704.6 L424.6,704.4 L426.1,704.2 L427.6,703.9 L429.1,703.7 L430.6,703.5 L432.1,703.3 L433.6,703.0 L435.1,702.8 L436.6,702.6 L438.1,702.4 L439.6,702.3 L441.1,702.1 L442.6,701.9 L444.1,701.7 L445.6,701.6 L447.1,701.4 L448.6,701.2 L450.1,701.1 L451.6,700.9 L453.1,700.8 L454.6,700.6 L456.1,700.5 L457.6,700.4 L459.1,700.2 L460.6,700.1 L462.1,700.0 L463.6,699.9 L465.1,699.7 L466.6,699.6 L468.1,699.5 L469.6,699.4 L471.1,699.3 L472.6,699.2 L474.1,699.1 L475.6,699.0 L477.1,698.9 L478.6,698.9 L480.1,698.8 L481.6,698.7 L483.1,698.6 L484.6,698.5 L486.1,698.5 L487.6,698.4 L489.1,698.3 L490.6,698.3 L492.1,698.2 L493.6,698.1 L495.1,698.1 L496.6,698.0 L498.1,697.9 L499.6,697.9 L501.1,697.8 L502.6,697.8 L504.1,697.7 L505.6,697.7 L507.1,697.6 L508.6,697.6 L510.1,697.5 L511.6,697.5 L513.1,697.4 L514.6,697.4 L516.1,697.3 L517.6,697.3 L519.1,697.2 L520.6,697.2 L522.1,697.1 L523.6,697.1 L525.1,697.1 L526.6,697.0 L528.1,697.0 L529.6,696.9 L531.1,696.9 L532.6,696.8 L534.1,696.8 L535.6,696.7 L537.1,696.7 L538.6,696.6 L540.1,696.6 L541.6,696.5 L543.1,696.5 L544.6,696.4 L546.1,696.4 L547.6,696.3 L549.1,696.2 L550.6,696.2 L552.1,696.1 L553.6,696.1 L555.1,696.0 L556.6,695.9 L558.1,695.9 L559.6,695.8 L561.1,695.7 L562.6,695.6 L564.1,695.6 L565.6,695.5 L567.1,695.4 L568.6,695.4 L570.1,695.4 L571.6,695.4 L573.1,695.4 L574.6,695.4 L576.1,695.4 L577.6,695.4 L579.1,695.4 L580.6,695.4 L582.1,695.4 L583.6,695.4 L585.1,695.4 L586.6,695.4 L588.1,695.3 L589.6,695.3 L591.1,695.3 L592.6,695.3 L594.1,695.3 L595.6,695.3 L597.1,695.3 L598.6,695.3 L600.1,695.3 L601.6,695.3 L603.1,695.3 L604.6,695.3 L606.1,695.3 L607.6,695.3 L609.1,695.3 L610.6,695.3 L612.1,695.3 L613.6,695.3 L615.1,695.3 L616.6,695.3 L618.1,695.3 L619.6,695.3 L621.1,695.3 L622.6,695.3 L624.1,695.3 L625.6,695.3 L627.1,695.3 L628.6,695.3 L630.1,695.3 L631.6,695.3 L633.1,695.3 L634.6,695.3 L636.1,695.3 L637.6,695.3 L639.1,695.3 L640.6,695.3 L642.1,695.3 L643.6,695.3 L645.1,695.3 L646.6,695.3 L648.1,695.3 L649.6,695.3 L651.1,695.3 L652.6,695.3 L654.1,695.3 L655.6,695.3 L657.1,695.3 L659.1,695.3"/>
<path d="M94.6,711.7 L96.1,712.2 L97.6,712.7 L99.1,713.2 L100.6,713.7 L102.1,714.2 L103.6,714.7 L105.1,715.3 L106.6,715.8 L108.1,716.4 L109.6,717.0 L111.1,717.6 L112.6,718.2 L114.1,718.9 L115.6,719.6 L117.1,720.3 L118.6,721.0 L120.1,721.8 L121.6,722.5 L123.1,723.3 L124.6,724.2 L126.1,725.1 L127.6,726.0 L129.1,726.9 L130.6,727.9 L132.1,728.9 L133.6,729.9 L135.1,731.0 L136.6,732.1 L138.1,733.3 L139.6,734.5 L141.1,735.7 L142.6,737.0 L144.1,738.4 L145.6,739.7 L147.1,741.2 L148.6,742.6 L150.1,744.2 L151.6,745.7 L153.1,747.4 L154.6,749.0 L156.1,750.8 L157.6,752.6 L159.1,754.4 L160.6,756.3 L162.1,758.3 L163.6,760.3 L165.1,762.4 L166.6,764.5 L168.1,766.7 L169.6,768.9 L171.1,771.2 L172.6,773.6 L174.1,776.0 L175.6,778.4 L177.1,780.8 L178.6,783.3 L180.1,785.9 L181.6,788.4 L183.1,791.0 L184.6,793.6 L186.1,796.3 L187.6,798.9 L189.1,801.6 L190.6,804.2 L192.1,806.9 L193.6,809.6 L195.1,812.3 L196.6,815.0 L198.1,817.7 L199.6,820.3 L201.1,823.0 L202.6,825.6 L204.1,828.1 L205.6,830.6 L207.1,833.0 L208.6,835.4 L210.1,837.6 L211.6,839.8 L213.1,841.9 L214.6,843.8 L216.1,845.7 L217.6,847.4 L219.1,849.0 L220.6,850.5 L222.1,851.8 L223.6,852.9 L225.1,853.9 L226.6,854.8 L228.1,855.5 L229.6,856.0 L231.1,856.5 L232.6,856.8 L234.1,856.9 L235.6,856.9 L237.1,856.8 L238.6,856.4 L240.1,855.8 L241.6,855.1 L243.1,854.2 L244.6,853.1 L246.1,851.8 L247.6,850.3 L249.1,848.7 L250.6,846.9 L252.1,845.0 L253.6,842.9 L255.1,840.7 L256.6,838.3 L258.1,835.9 L259.6,833.4 L261.1,830.8 L262.6,828.3 L264.1,825.7 L265.6,823.1 L267.1,820.5 L268.6,817.9 L270.1,815.3 L271.6,812.8 L273.1,810.3 L274.6,807.7 L276.1,805.3 L277.6,802.8 L279.1,800.4 L280.6,798.0 L282.1,795.6 L283.6,793.2 L285.1,790.9 L286.6,788.7 L288.1,786.4 L289.6,784.2 L291.1,782.0 L292.6,779.9 L294.1,777.8 L295.6,775.7 L297.1,773.7 L298.6,771.8 L300.1,769.8 L301.6,767.9 L303.1,766.1 L304.6,764.3 L306.1,762.5 L307.6,760.8 L309.1,759.1 L310.6,757.5 L312.1,755.9 L313.6,754.4 L315.1,752.9 L316.6,751.4 L318.1,750.0 L319.6,748.6 L321.1,747.2 L322.6,745.9 L324.1,744.6 L325.6,743.4 L327.1,742.2 L328.6,741.0 L330.1,739.9 L331.6,738.7 L333.1,737.7 L334.6,736.6 L336.1,735.6 L337.6,734.6 L339.1,733.6 L340.6,732.7 L342.1,731.8 L343.6,730.9 L345.1,730.0 L346.6,729.2 L348.1,728.4 L349.6,727.6 L351.1,726.9 L352.6,726.1 L354.1,725.4 L355.6,724.7 L357.1,724.0 L358.6,723.4 L360.1,722.7 L361.6,722.1 L363.1,721.5 L364.6,720.9 L366.1,720.3 L367.6,719.7 L369.1,719.2 L370.6,718.7 L372.1,718.1 L373.6,717.6 L375.1,717.1 L376.6,716.6 L378.1,716.1 L379.6,715.7 L381.1,715.2 L382.6,714.8 L384.1,714.3 L385.6,713.9 L387.1,713.4 L388.6,713.0 L390.1,712.6 L391.6,712.2 L393.1,711.8 L394.6,711.4 L396.1,711.0 L397.6,710.6 L399.1,710.3 L400.6,709.9 L402.1,709.5 L403.6,709.2 L405.1,708.9 L406.6,708.5 L408.1,708.2 L409.6,707.9 L411.1,707.6 L412.6,707.3 L414.1,707.0 L415.6,706.7 L417.1,706.4 L418.6,706.1 L420.1,705.8 L421.6,705.6 L423.1,705.3 L424.6,705.1 L426.1,704.8 L427.6,704.6 L429.1,704.3 L430.6,704.1 L432.1,703.9 L433.6,703.7 L435.1,703.4 L436.6,703.2 L438.1,703.0 L439.6,702.8 L441.1,702.6 L442.6,702.5 L444.1,702.3 L445.6,702.1 L447.1,701.9 L448.6,701.7 L450.1,701.6 L451.6,701.4 L453.1,701.3 L454.6,701.1 L456.1,701.0 L457.6,700.8 L459.1,700.7 L460.6,700.6 L462.1,700.4 L463.6,700.3 L465.1,700.2 L466.6,700.1 L468.1,699.9 L469.6,699.8 L471.1,699.7 L472.6,699.6 L474.1,699.5 L475.6,699.4 L477.1,699.3 L478.6,699.2 L480.1,699.1 L481.6,699.0 L483.1,698.9 L484.6,698.9 L486.1,698.8 L487.6,698.7 L489.1,698.6 L490.6,698.6 L492.1,698.5 L493.6,698.4 L495.1,698.4 L496.6,698.3 L498.1,698.2 L499.6,698.2 L501.1,698.1 L502.6,698.0 L504.1,698.0 L505.6,697.9 L507.1,697.9 L508.6,697.8 L510.1,697.8 L511.6,697.7 L513.1,697.7 L514.6,697.6 L516.1,697.6 L517.6,697.5 L519.1,697.5 L520.6,697.4 L522.1,697.4 L523.6,697.3 L525.1,697.3 L526.6,697.3 L528.1,697.2 L529.6,697.2 L531.1,697.1 L532.6,697.1 L534.1,697.0 L535.6,697.0 L537.1,696.9 L538.6,696.9 L540.1,696.9 L541.6,696.8 L543.1,696.8 L544.6,696.7 L546.1,696.7 L547.6,696.6 L549.1,696.6 L550.6,696.5 L552.1,696.4 L553.6,696.4 L555.1,696.3 L556.6,696.3 L558.1,696.2 L559.6,696.2 L561.1,696.1 L562.6,696.0 L564.1,696.0 L565.6,695.9 L567.1,695.8 L568.6,695.7 L570.1,695.7 L571.6,695.6 L573.1,695.5 L574.6,695.4 L576.1,695.4 L577.6,695.4 L579.1,695.4 L580.6,695.4 L582.1,695.4 L583.6,695.4 L585.1,695.4 L586.6,695.4 L588.1,695.4 L589.6,695.4 L591.1,695.4 L592.6,695.4 L594.1,695.4 L595.6,695.4 L597.1,695.4 L598.6,695.4 L600.1,695.4 L601.6,695.4 L603.1,695.4 L604.6,695.4 L606.1,695.4 L607.6,695.4 L609.1,695.4 L610.6,695.4 L612.1,695.4 L613.6,695.4 L615.1,695.4 L616.6,695.4 L618.1,695.4 L619.6,695.4 L621.1,695.4 L622.6,695.4 L624.1,695.4 L625.6,695.4 L627.1,695.4 L628.6,695.4 L630.1,695.4 L631.6,695.4 L633.1,695.4 L634.6,695.4 L636.1,695.4 L637.6,695.4 L639.1,695.4 L640.6,695.4 L642.1,695.4 L643.6,695.4 L645.1,695.4 L646.6,695.4 L648.1,695.4 L649.6,695.4 L651.1,695.4 L652.6,695.4 L654.1,695.4 L655.6,695.4 L657.1,695.4 L659.1,695.4"/>
<path d="M94.6,711.7 L96.1,712.2 L97.6,712.7 L99.1,713.2 L100.6,713.7 L102.1,714.2 L103.6,714.7 L105.1,715.3 L106.6,715.8 L108.1,716.4 L109.6,717.0 L111.1,717.6 L112.6,718.2 L114.1,718.9 L115.6,719.6 L117.1,720.3 L118.6,721.0 L120.1,721.8 L121.6,722.5 L123.1,723.3 L124.6,724.2 L126.1,725.1 L127.6,726.0 L129.1,726.9 L130.6,727.9 L132.1,728.9 L133.6,729.9 L135.1,731.0 L136.6,732.1 L138.1,733.3 L139.6,734.5 L141.1,735.7 L142.6,737.0 L144.1,738.4 L145.6,739.7 L147.1,741.2 L148.6,742.6 L150.1,744.2 L151.6,745.7 L153.1,747.4 L154.6,749.1 L156.1,750.8 L157.6,752.6 L159.1,754.4 L160.6,756.3 L162.1,758.3 L163.6,760.3 L165.1,762.4 L166.6,764.6 L168.1,766.8 L169.6,769.1 L171.1,771.4 L172.6,773.8 L174.1,776.2 L175.6,778.7 L177.1,781.2 L178.6,783.8 L180.1,786.4 L181.6,789.0 L183.1,791.7 L184.6,794.5 L186.1,797.3 L187.6,800.1 L189.1,803.0 L190.6,805.9 L192.1,808.9 L193.6,811.8 L195.1,814.9 L196.6,817.9 L198.1,821.0 L199.6,824.1 L201.1,827.2 L202.6,830.3 L204.1,833.4 L205.6,836.4 L207.1,839.4 L208.6,842.4 L210.1,845.3 L211.6,848.1 L213.1,850.8 L214.6,853.4 L216.1,855.9 L217.6,858.3 L219.1,860.5 L220.6,862.5 L222.1,864.4 L223.6,866.0 L225.1,867.5 L226.6,868.7 L228.1,869.8 L229.6,870.6 L231.1,871.2 L232.6,871.6 L234.1,871.8 L235.6,871.8 L237.1,871.4 L238.6,870.7 L240.1,869.7 L241.6,868.5 L243.1,867.0 L244.6,865.2 L246.1,863.2 L247.6,861.0 L249.1,858.6 L250.6,856.1 L252.1,853.3 L253.6,850.5 L255.1,847.6 L256.6,844.5 L258.1,841.5 L259.6,838.4 L261.1,835.3 L262.6,832.2 L264.1,829.2 L265.6,826.2 L267.1,823.3 L268.6,820.5 L270.1,817.7 L271.6,814.9 L273.1,812.3 L274.6,809.6 L276.1,807.1 L277.6,804.5 L279.1,802.0 L280.6,799.6 L282.1,797.2 L283.6,794.8 L285.1,792.5 L286.6,790.2 L288.1,788.0 L289.6,785.8 L291.1,783.6 L292.6,781.5 L294.1,779.4 L295.6,777.3 L297.1,775.3 L298.6,773.4 L300.1,771.4 L301.6,769.5 L303.1,767.7 L304.6,765.9 L306.1,764.1 L307.6,762.4 L309.1,760.7 L310.6,759.1 L312.1,757.5 L313.6,755.9 L315.1,754.4 L316.6,752.9 L318.1,751.5 L319.6,750.1 L321.1,748.7 L322.6,747.4 L324.1,746.1 L325.6,744.8 L327.1,743.6 L328.6,742.4 L330.1,741.3 L331.6,740.1 L333.1,739.0 L334.6,738.0 L336.1,736.9 L337.6,735.9 L339.1,734.9 L340.6,734.0 L342.1,733.1 L343.6,732.2 L345.1,731.3 L346.6,730.4 L348.1,729.6 L349.6,728.8 L351.1,728.0 L352.6,727.3 L354.1,726.5 L355.6,725.8 L357.1,725.1 L358.6,724.4 L360.1,723.8 L361.6,723.1 L363.1,722.5 L364.6,721.9 L366.1,721.3 L367.6,720.7 L369.1,720.2 L370.6,719.6 L372.1,719.1 L373.6,718.6 L375.1,718.1 L376.6,717.6 L378.1,717.1 L379.6,716.6 L381.1,716.1 L382.6,715.7 L384.1,715.2 L385.6,714.8 L387.1,714.3 L388.6,713.9 L390.1,713.5 L391.6,713.1 L393.1,712.6 L394.6,712.2 L396.1,711.9 L397.6,711.5 L399.1,711.1 L400.6,710.7 L402.1,710.4 L403.6,710.0 L405.1,709.7 L406.6,709.3 L408.1,709.0 L409.6,708.7 L411.1,708.3 L412.6,708.0 L414.1,707.7 L415.6,707.4 L417.1,707.1 L418.6,706.8 L420.1,706.5 L421.6,706.3 L423.1,706.0 L424.6,705.7 L426.1,705.5 L427.6,705.2 L429.1,705.0 L430.6,704.7 L432.1,704.5 L433.6,704.3 L435.1,704.1 L436.6,703.8 L438.1,703.6 L439.6,703.4 L441.1,703.2 L442.6,703.0 L444.1,702.8 L445.6,702.6 L447.1,702.5 L448.6,702.3 L450.1,702.1 L451.6,701.9 L453.1,701.8 L454.6,701.6 L456.1,701.5 L457.6,701.3 L459.1,701.2 L460.6,701.0 L462.1,700.9 L463.6,700.7 L465.1,700.6 L466.6,700.5 L468.1,700.4 L469.6,700.2 L471.1,700.1 L472.6,700.0 L474.1,699.9 L475.6,699.8 L477.1,699.7 L478.6,699.6 L480.1,699.5 L481.6,699.4 L483.1,699.3 L484.6,699.2 L486.1,699.1 L487.6,699.0 L489.1,699.0 L490.6,698.9 L492.1,698.8 L493.6,698.7 L495.1,698.7 L496.6,698.6 L498.1,698.5 L499.6,698.5 L501.1,698.4 L502.6,698.3 L504.1,698.3 L505.6,698.2 L507.1,698.2 L508.6,698.1 L510.1,698.0 L511.6,698.0 L513.1,697.9 L514.6,697.9 L516.1,697.8 L517.6,697.8 L519.1,697.7 L520.6,697.7 L522.1,697.6 L523.6,697.6 L525.1,697.6 L526.6,697.5 L528.1,697.5 L529.6,697.4 L531.1,697.4 L532.6,697.3 L534.1,697.3 L535.6,697.2 L537.1,697.2 L538.6,697.2 L540.1,697.1 L541.6,697.1 L543.1,697.0 L544.6,697.0 L546.1,696.9 L547.6,696.9 L549.1,696.8 L550.6,696.8 L552.1,696.7 L553.6,696.7 L555.1,696.6 L556.6,696.6 L558.1,696.5 L559.6,696.5 L561.1,696.4 L562.6,696.4 L564.1,696.3 L565.6,696.2 L567.1,696.2 L568.6,696.1 L570.1,696.0 L571.6,696.0 L573.1,695.9 L574.6,695.8 L576.1,695.8 L577.6,695.7 L579.1,695.6 L580.6,695.5 L582.1,695.5 L583.6,695.5 L585.1,695.5 L586.6,695.5 L588.1,695.5 L589.6,695.5 L591.1,695.5 L592.6,695.5 L594.1,695.5 L595.6,695.5 L597.1,695.5 L598.6,695.5 L600.1,695.5 L601.6,695.5 L603.1,695.5 L604.6,695.5 L606.1,695.5 L607.6,695.5 L609.1,695.5 L610.6,695.5 L612.1,695.5 L613.6,695.5 L615.1,695.5 L616.6,695.5 L618.1,695.5 L619.6,695.5 L621.1,695.5 L622.6,695.5 L624.1,695.5 L625.6,695.5 L627.1,695.5 L628.6,695.5 L630.1,695.5 L631.6,695.5 L633.1,695.5 L634.6,695.5 L636.1,695.5 L637.6,695.5 L639.1,695.5 L640.6,695.5 L642.1,695.5 L643.6,695.5 L645.1,695.5 L646.6,695.5 L648.1,695.5 L649.6,695.5 L651.1,695.5 L652.6,695.5 L654.1,695.5 L655.6,695.5 L657.1,695.5 L659.1,695.5"/>
<path d="M94.6,711.7 L96.1,712.2 L97.6,712.7 L99.1,713.2 L100.6,713.7 L102.1,714.2 L103.6,714.7 L105.1,715.3 L106.6,715.8 L108.1,716.4 L109.6,717.0 L111.1,717.6 L112.6,718.2 L114.1,718.9 L115.6,719.6 L117.1,720.3 L118.6,721.0 L120.1,721.8 L121.6,722.5 L123.1,723.3 L124.6,724.2 L126.1,725.1 L127.6,726.0 L129.1,726.9 L130.6,727.9 L132.1,728.9 L133.6,729.9 L135.1,731.0 L136.6,732.1 L138.1,733.3 L139.6,734.5 L141.1,735.7 L142.6,737.0 L144.1,738.4 L145.6,739.7 L147.1,741.2 L148.6,742.6 L150.1,744.2 L151.6,745.7 L153.1,747.4 L154.6,749.0 L156.1,750.8 L157.6,752.6 L159.1,754.4 L160.6,756.3 L162.1,758.3 L163.6,760.3 L165.1,762.4 L166.6,764.5 L168.1,766.7 L169.6,768.9 L171.1,771.2 L172.6,773.5 L174.1,775.9 L175.6,778.3 L177.1,780.8 L178.6,783.3 L180.1,785.8 L181.6,788.3 L183.1,790.9 L184.6,793.5 L186.1,796.1 L187.6,798.7 L189.1,801.3 L190.6,803.9 L192.1,806.6 L193.6,809.2 L195.1,811.9 L196.6,814.5 L198.1,817.1 L199.6,819.7 L201.1,822.2 L202.6,824.7 L204.1,827.2 L205.6,829.6 L207.1,831.9 L208.6,834.1 L210.1,836.3 L211.6,838.3 L213.1,840.3 L214.6,842.1 L216.1,843.9 L217.6,845.5 L219.1,847.0 L220.6,848.3 L222.1,849.5 L223.6,850.6 L225.1,851.5 L226.6,852.3 L228.1,853.0 L229.6,853.5 L231.1,853.9 L232.6,854.1 L234.1,854.3 L235.6,854.3 L237.1,854.2 L238.6,853.9 L240.1,853.5 L241.6,852.9 L243.1,852.2 L244.6,851.3 L246.1,850.3 L247.6,849.1 L249.1,847.8 L250.6,846.3 L252.1,844.6 L253.6,842.8 L255.1,840.8 L256.6,838.8 L258.1,836.6 L259.6,834.4 L261.1,832.0 L262.6,829.7 L264.1,827.2 L265.6,824.8 L267.1,822.3 L268.6,819.9 L270.1,817.5 L271.6,815.0 L273.1,812.6 L274.6,810.2 L276.1,807.8 L277.6,805.4 L279.1,803.1 L280.6,800.7 L282.1,798.4 L283.6,796.1 L285.1,793.8 L286.6,791.6 L288.1,789.4 L289.6,787.2 L291.1,785.1 L292.6,783.0 L294.1,780.9 L295.6,778.9 L297.1,776.9 L298.6,774.9 L300.1,773.0 L301.6,771.1 L303.1,769.3 L304.6,767.5 L306.1,765.7 L307.6,764.0 L309.1,762.3 L310.6,760.6 L312.1,759.0 L313.6,757.5 L315.1,755.9 L316.6,754.5 L318.1,753.0 L319.6,751.6 L321.1,750.2 L322.6,748.9 L324.1,747.6 L325.6,746.3 L327.1,745.0 L328.6,743.8 L330.1,742.7 L331.6,741.5 L333.1,740.4 L334.6,739.3 L336.1,738.3 L337.6,737.2 L339.1,736.2 L340.6,735.3 L342.1,734.3 L343.6,733.4 L345.1,732.5 L346.6,731.6 L348.1,730.8 L349.6,730.0 L351.1,729.2 L352.6,728.4 L354.1,727.7 L355.6,726.9 L357.1,726.2 L358.6,725.5 L360.1,724.9 L361.6,724.2 L363.1,723.6 L364.6,722.9 L366.1,722.3 L367.6,721.7 L369.1,721.2 L370.6,720.6 L372.1,720.1 L373.6,719.5 L375.1,719.0 L376.6,718.5 L378.1,718.0 L379.6,717.5 L381.1,717.0 L382.6,716.6 L384.1,716.1 L385.6,715.6 L387.1,715.2 L388.6,714.8 L390.1,714.3 L391.6,713.9 L393.1,713.5 L394.6,713.1 L396.1,712.7 L397.6,712.3 L399.1,711.9 L400.6,711.5 L402.1,711.2 L403.6,710.8 L405.1,710.5 L406.6,710.1 L408.1,709.8 L409.6,709.4 L411.1,709.1 L412.6,708.8 L414.1,708.5 L415.6,708.2 L417.1,707.9 L418.6,707.6 L420.1,707.3 L421.6,707.0 L423.1,706.7 L424.6,706.4 L426.1,706.2 L427.6,705.9 L429.1,705.7 L430.6,705.4 L432.1,705.2 L433.6,704.9 L435.1,704.7 L436.6,704.5 L438.1,704.2 L439.6,704.0 L441.1,703.8 L442.6,703.6 L444.1,703.4 L445.6,703.2 L447.1,703.0 L448.6,702.8 L450.1,702.6 L451.6,702.5 L453.1,702.3 L454.6,702.1 L456.1,702.0 L457.6,701.8 L459.1,701.7 L460.6,701.5 L462.1,701.4 L463.6,701.2 L465.1,701.1 L466.6,700.9 L468.1,700.8 L469.6,700.7 L471.1,700.5 L472.6,700.4 L474.1,700.3 L475.6,700.2 L477.1,700.1 L478.6,700.0 L480.1,699.9 L481.6,699.8 L483.1,699.7 L484.6,699.6 L486.1,699.5 L487.6,699.4 L489.1,699.3 L490.6,699.2 L492.1,699.1 L493.6,699.1 L495.1,699.0 L496.6,698.9 L498.1,698.8 L499.6,698.8 L501.1,698.7 L502.6,698.6 L504.1,698.6 L505.6,698.5 L507.1,698.4 L508.6,698.4 L510.1,698.3 L511.6,698.3 L513.1,698.2 L514.6,698.1 L516.1,698.1 L517.6,698.0 L519.1,698.0 L520.6,697.9 L522.1,697.9 L523.6,697.8 L525.1,697.8 L526.6,697.8 L528.1,697.7 L529.6,697.7 L531.1,697.6 L532.6,697.6 L534.1,697.5 L535.6,697.5 L537.1,697.4 L538.6,697.4 L540.1,697.4 L541.6,697.3 L543.1,697.3 L544.6,697.2 L546.1,697.2 L547.6,697.1 L549.1,697.1 L550.6,697.1 L552.1,697.0 L553.6,697.0 L555.1,696.9 L556.6,696.9 L558.1,696.8 L559.6,696.8 L561.1,696.7 L562.6,696.7 L564.1,696.6 L565.6,696.6 L567.1,696.5 L568.6,696.5 L570.1,696.4 L571.6,696.3 L573.1,696.3 L574.6,696.2 L576.1,696.1 L577.6,696.1 L579.1,696.0 L580.6,695.9 L582.1,695.9 L583.6,695.8 L585.1,695.7 L586.6,695.6 L588.1,695.6 L589.6,695.6 L591.1,695.6 L592.6,695.6 L594.1,695.6 L595.6,695.6 L597.1,695.6 L598.6,695.6 L600.1,695.6 L601.6,695.6 L603.1,695.6 L604.6,695.6 L606.1,695.6 L607.6,695.6 L609.1,695.6 L610.6,695.6 L612.1,695.6 L613.6,695.6 L615.1,695.6 L616.6,695.6 L618.1,695.6 L619.6,695.6 L621.1,695.6 L622.6,695.6 L624.1,695.6 L625.6,695.6 L627.1,695.6 L628.6,695.6 L630.1,695.6 L631.6,695.6 L633.1,695.6 L634.6,695.6 L636.1,695.6 L637.6,695.6 L639.1,695.6 L640.6,695.6 L642.1,695.6 L643.6,695.6 L645.1,695.6 L646.6,695.6 L648.1,695.6 L649.6,695.6 L651.1,695.6 L652.6,695.6 L654.1,695.6 L655.6,695.6 L657.1,695.6 L659.1,695.6"/>
<path d="M94.6,711.7 L96.1,712.2 L97.6,712.7 L99.1,713.2 L100.6,713.7 L102.1,714.2 L103.6,714.7 L105.1,715.3 L106.6,715.8 L108.1,716.4 L109.6,717.0 L111.1,717.6 L112.6,718.2 L114.1,718.9 L115.6,719.6 L117.1,720.3 L118.6,721.0 L120.1,721.8 L121.6,722.5 L123.1,723.3 L124.6,724.2 L126.1,725.1 L127.6,726.0 L129.1,726.9 L130.6,727.9 L132.1,728.9 L133.6,729.9 L135.1,731.0 L136.6,732.1 L138.1,733.3 L139.6,734.5 L141.1,735.7 L142.6,737.0 L144.1,738.4 L145.6,739.7 L147.1,741.2 L148.6,742.6 L150.1,744.2 L151.6,745.7 L153.1,747.4 L154.6,749.0 L156.1,750.8 L157.6,752.6 L159.1,754.4 L160.6,756.3 L162.1,758.3 L163.6,760.3 L165.1,762.4 L166.6,764.5 L168.1,766.7 L169.6,769.0 L171.1,771.3 L172.6,773.7 L174.1,776.1 L175.6,778.5 L177.1,781.0 L178.6,783.5 L180.1,786.1 L181.6,788.7 L183.1,791.4 L184.6,794.0 L186.1,796.7 L187.6,799.5 L189.1,802.2 L190.6,805.0 L192.1,807.8 L193.6,810.7 L195.1,813.5 L196.6,816.4 L198.1,819.2 L199.6,822.1 L201.1,825.0 L202.6,827.8 L204.1,830.6 L205.6,833.3 L207.1,836.0 L208.6,838.7 L210.1,841.2 L211.6,843.7 L213.1,846.1 L214.6,848.3 L216.1,850.5 L217.6,852.5 L219.1,854.4 L220.6,856.1 L222.1,857.7 L223.6,859.1 L225.1,860.3 L226.6,861.3 L228.1,862.2 L229.6,862.9 L231.1,863.4 L232.6,863.7 L234.1,863.9 L235.6,863.9 L237.1,863.7 L238.6,863.2 L240.1,862.5 L241.6,861.6 L243.1,860.5 L244.6,859.2 L246.1,857.7 L247.6,856.1 L249.1,854.3 L250.6,852.3 L252.1,850.1 L253.6,847.9 L255.1,845.5 L256.6,843.0 L258.1,840.4 L259.6,837.8 L261.1,835.2 L262.6,832.5 L264.1,829.8 L265.6,827.2 L267.1,824.5 L268.6,821.9 L270.1,819.3 L271.6,816.8 L273.1,814.3 L274.6,811.8 L276.1,809.3 L277.6,806.9 L279.1,804.5 L280.6,802.2 L282.1,799.9 L283.6,797.6 L285.1,795.3 L286.6,793.1 L288.1,790.9 L289.6,788.7 L291.1,786.6 L292.6,784.5 L294.1,782.4 L295.6,780.4 L297.1,778.4 L298.6,776.5 L300.1,774.5 L301.6,772.7 L303.1,770.8 L304.6,769.0 L306.1,767.2 L307.6,765.5 L309.1,763.8 L310.6,762.2 L312.1,760.6 L313.6,759.0 L315.1,757.5 L316.6,756.0 L318.1,754.5 L319.6,753.1 L321.1,751.7 L322.6,750.3 L324.1,749.0 L325.6,747.7 L327.1,746.5 L328.6,745.2 L330.1,744.1 L331.6,742.9 L333.1,741.8 L334.6,740.7 L336.1,739.6 L337.6,738.6 L339.1,737.5 L340.6,736.6 L342.1,735.6 L343.6,734.7 L345.1,733.8 L346.6,732.9 L348.1,732.0 L349.6,731.2 L351.1,730.4 L352.6,729.6 L354.1,728.8 L355.6,728.1 L357.1,727.3 L358.6,726.6 L360.1,725.9 L361.6,725.3 L363.1,724.6 L364.6,724.0 L366.1,723.3 L367.6,722.7 L369.1,722.2 L370.6,721.6 L372.1,721.0 L373.6,720.5 L375.1,720.0 L376.6,719.4 L378.1,718.9 L379.6,718.4 L381.1,717.9 L382.6,717.5 L384.1,717.0 L385.6,716.5 L387.1,716.1 L388.6,715.6 L390.1,715.2 L391.6,714.8 L393.1,714.4 L394.6,713.9 L396.1,713.5 L397.6,713.1 L399.1,712.8 L400.6,712.4 L402.1,712.0 L403.6,711.6 L405.1,711.3 L406.6,710.9 L408.1,710.6 L409.6,710.2 L411.1,709.9 L412.6,709.5 L414.1,709.2 L415.6,708.9 L417.1,708.6 L418.6,708.3 L420.1,708.0 L421.6,707.7 L423.1,707.4 L424.6,707.1 L426.1,706.9 L427.6,706.6 L429.1,706.3 L430.6,706.1 L432.1,705.8 L433.6,705.6 L435.1,705.3 L436.6,705.1 L438.1,704.9 L439.6,704.6 L441.1,704.4 L442.6,704.2 L444.1,704.0 L445.6,703.8 L447.1,703.6 L448.6,703.4 L450.1,703.2 L451.6,703.0 L453.1,702.8 L454.6,702.7 L456.1,702.5 L457.6,702.3 L459.1,702.2 L460.6,702.0 L462.1,701.8 L463.6,701.7 L465.1,701.5 L466.6,701.4 L468.1,701.3 L469.6,701.1 L471.1,701.0 L472.6,700.9 L474.1,700.7 L475.6,700.6 L477.1,700.5 L478.6,700.4 L480.1,700.3 L481.6,700.2 L483.1,700.1 L484.6,700.0 L486.1,699.9 L487.6,699.8 L489.1,699.7 L490.6,699.6 L492.1,699.5 L493.6,699.4 L495.1,699.3 L496.6,699.2 L498.1,699.2 L499.6,699.1 L501.1,699.0 L502.6,698.9 L504.1,698.9 L505.6,698.8 L507.1,698.7 L508.6,698.7 L510.1,698.6 L511.6,698.5 L513.1,698.5 L514.6,698.4 L516.1,698.4 L517.6,698.3 L519.1,698.3 L520.6,698.2 L522.1,698.1 L523.6,698.1 L525.1,698.1 L526.6,698.0 L528.1,698.0 L529.6,697.9 L531.1,697.9 L532.6,697.8 L534.1,697.8 L535.6,697.7 L537.1,697.7 L538.6,697.6 L540.1,697.6 L541.6,697.6 L543.1,697.5 L544.6,697.5 L546.1,697.4 L547.6,697.4 L549.1,697.3 L550.6,697.3 L552.1,697.3 L553.6,697.2 L555.1,697.2 L556.6,697.1 L558.1,697.1 L559.6,697.0 L561.1,697.0 L562.6,697.0 L564.1,696.9 L565.6,696.9 L567.1,696.8 L568.6,696.8 L570.1,696.7 L571.6,696.7 L573.1,696.6 L574.6,696.5 L576.1,696.5 L577.6,696.4 L579.1,696.4 L580.6,696.3 L582.1,696.2 L583.6,696.2 L585.1,696.1 L586.6,696.0 L588.1,696.0 L589.6,695.9 L591.1,695.8 L592.6,695.7 L594.1,695.7 L595.6,695.7 L597.1,695.7 L598.6,695.7 L600.1,695.7 L601.6,695.7 L603.1,695.7 L604.6,695.7 L606.1,695.7 L607.6,695.7 L609.1,695.7 L610.6,695.7 L612.1,695.7 L613.6,695.7 L615.1,695.7 L616.6,695.7 L618.1,695.7 L619.6,695.7 L621.1,695.7 L622.6,695.7 L624.1,695.7 L625.6,695.7 L627.1,695.7 L628.6,695.7 L630.1,695.7 L631.6,695.7 L633.1,695.7 L634.6,695.7 L636.1,695.7 L637.6,695.7 L639.1,695.7 L640.6,695.7 L642.1,695.7 L643.6,695.7 L645.1,695.7 L646.6,695.7 L648.1,695.7 L649.6,695.7 L651.1,695.7 L652.6,695.7 L654.1,695.7 L655.6,695.7 L657.1,695.7 L659.1,695.7"/>
<path d="M94.6,711.7 L96.1,712.2 L97.6,712.7 L99.1,713.2 L100.6,713.7 L102.1,714.2 L103.6,714.7 L105.1,715.3 L106.6,715.8 L108.1,716.4 L109.6,717.0 L111.1,717.6 L112.6,718.2 L114.1,718.9 L115.6,719.6 L117.1,720.3 L118.6,721.0 L120.1,721.8 L121.6,722.5 L123.1,723.3 L124.6,724.2 L126.1,725.1 L127.6,726.0 L129.1,726.9 L130.6,727.9 L132.1,728.9 L133.6,729.9 L135.1,731.0 L136.6,732.1 L138.1,733.3 L139.6,734.5 L141.1,735.7 L142.6,737.0 L144.1,738.4 L145.6,739.7 L147.1,741.2 L148.6,742.6 L150.1,744.2 L151.6,745.7 L153.1,747.4 L154.6,749.0 L156.1,750.8 L157.6,752.6 L159.1,754.4 L160.6,756.3 L162.1,758.3 L163.6,760.3 L165.1,762.4 L166.6,764.5 L168.1,766.7 L169.6,769.0 L171.1,771.3 L172.6,773.6 L174.1,776.0 L175.6,778.4 L177.1,780.9 L178.6,783.4 L180.1,785.9 L181.6,788.5 L183.1,791.1 L184.6,793.7 L186.1,796.4 L187.6,799.0 L189.1,801.7 L190.6,804.4 L192.1,807.1 L193.6,809.9 L195.1,812.6 L196.6,815.3 L198.1,818.1 L199.6,820.8 L201.1,823.5 L202.6,826.1 L204.1,828.7 L205.6,831.3 L207.1,833.8 L208.6,836.2 L210.1,838.5 L211.6,840.8 L213.1,842.9 L214.6,845.0 L216.1,846.9 L217.6,848.7 L219.1,850.3 L220.6,851.9 L222.1,853.2 L223.6,854.5 L225.1,855.5 L226.6,856.4 L228.1,857.2 L229.6,857.8 L231.1,858.2 L232.6,858.5 L234.1,858.7 L235.6,858.7 L237.1,858.5 L238.6,858.2 L240.1,857.7 L241.6,857.0 L243.1,856.2 L244.6,855.2 L246.1,854.0 L247.6,852.7 L249.1,851.2 L250.6,849.6 L252.1,847.8 L253.6,845.9 L255.1,843.9 L256.6,841.7 L258.1,839.5 L259.6,837.1 L261.1,834.8 L262.6,832.3 L264.1,829.9 L265.6,827.4 L267.1,824.9 L268.6,822.5 L270.1,820.0 L271.6,817.6 L273.1,815.2 L274.6,812.8 L276.1,810.4 L277.6,808.0 L279.1,805.7 L280.6,803.4 L282.1,801.1 L283.6,798.9 L285.1,796.6 L286.6,794.5 L288.1,792.3 L289.6,790.1 L291.1,788.0 L292.6,786.0 L294.1,783.9 L295.6,781.9 L297.1,779.9 L298.6,778.0 L300.1,776.1 L301.6,774.2 L303.1,772.3 L304.6,770.5 L306.1,768.8 L307.6,767.0 L309.1,765.3 L310.6,763.7 L312.1,762.1 L313.6,760.5 L315.1,759.0 L316.6,757.5 L318.1,756.0 L319.6,754.5 L321.1,753.1 L322.6,751.8 L324.1,750.5 L325.6,749.2 L327.1,747.9 L328.6,746.7 L330.1,745.4 L331.6,744.3 L333.1,743.1 L334.6,742.0 L336.1,740.9 L337.6,739.9 L339.1,738.8 L340.6,737.8 L342.1,736.9 L343.6,735.9 L345.1,735.0 L346.6,734.1 L348.1,733.2 L349.6,732.4 L351.1,731.5 L352.6,730.7 L354.1,729.9 L355.6,729.2 L357.1,728.4 L358.6,727.7 L360.1,727.0 L361.6,726.3 L363.1,725.7 L364.6,725.0 L366.1,724.4 L367.6,723.8 L369.1,723.2 L370.6,722.6 L372.1,722.0 L373.6,721.4 L375.1,720.9 L376.6,720.4 L378.1,719.9 L379.6,719.3 L381.1,718.8 L382.6,718.4 L384.1,717.9 L385.6,717.4 L387.1,717.0 L388.6,716.5 L390.1,716.1 L391.6,715.6 L393.1,715.2 L394.6,714.8 L396.1,714.4 L397.6,714.0 L399.1,713.6 L400.6,713.2 L402.1,712.8 L403.6,712.4 L405.1,712.1 L406.6,711.7 L408.1,711.3 L409.6,711.0 L411.1,710.6 L412.6,710.3 L414.1,710.0 L415.6,709.7 L417.1,709.3 L418.6,709.0 L420.1,708.7 L421.6,708.4 L423.1,708.1 L424.6,707.8 L426.1,707.6 L427.6,707.3 L429.1,707.0 L430.6,706.7 L432.1,706.5 L433.6,706.2 L435.1,706.0 L436.6,705.7 L438.1,705.5 L439.6,705.3 L441.1,705.0 L442.6,704.8 L444.1,704.6 L445.6,704.4 L447.1,704.2 L448.6,704.0 L450.1,703.8 L451.6,703.6 L453.1,703.4 L454.6,703.2 L456.1,703.0 L457.6,702.8 L459.1,702.7 L460.6,702.5 L462.1,702.3 L463.6,702.2 L465.1,702.0 L466.6,701.9 L468.1,701.7 L469.6,701.6 L471.1,701.4 L472.6,701.3 L474.1,701.2 L475.6,701.0 L477.1,700.9 L478.6,700.8 L480.1,700.7 L481.6,700.6 L483.1,700.5 L484.6,700.3 L486.1,700.2 L487.6,700.1 L489.1,700.0 L490.6,699.9 L492.1,699.8 L493.6,699.7 L495.1,699.7 L496.6,699.6 L498.1,699.5 L499.6,699.4 L501.1,699.3 L502.6,699.2 L504.1,699.2 L505.6,699.1 L507.1,699.0 L508.6,699.0 L510.1,698.9 L511.6,698.8 L513.1,698.8 L514.6,698.7 L516.1,698.6 L517.6,698.6 L519.1,698.5 L520.6,698.5 L522.1,698.4 L523.6,698.4 L525.1,698.3 L526.6,698.3 L528.1,698.2 L529.6,698.2 L531.1,698.1 L532.6,698.1 L534.1,698.0 L535.6,698.0 L537.1,697.9 L538.6,697.9 L540.1,697.8 L541.6,697.8 L543.1,697.8 L544.6,697.7 L546.1,697.7 L547.6,697.6 L549.1,697.6 L550.6,697.6 L552.1,697.5 L553.6,697.5 L555.1,697.4 L556.6,697.4 L558.1,697.3 L559.6,697.3 L561.1,697.3 L562.6,697.2 L564.1,697.2 L565.6,697.1 L567.1,697.1 L568.6,697.0 L570.1,697.0 L571.6,696.9 L573.1,696.9 L574.6,696.8 L576.1,696.8 L577.6,696.7 L579.1,696.7 L580.6,696.6 L582.1,696.6 L583.6,696.5 L585.1,696.5 L586.6,696.4 L588.1,696.3 L589.6,696.3 L591.1,696.2 L592.6,696.1 L594.1,696.1 L595.6,696.0 L597.1,695.9 L598.6,695.9 L600.1,695.8 L601.6,695.8 L603.1,695.8 L604.6,695.8 L606.1,695.8 L607.6,695.8 L609.1,695.8 L610.6,695.8 L612.1,695.8 L613.6,695.8 L615.1,695.8 L616.6,695.8 L618.1,695.8 L619.6,695.8 L621.1,695.8 L622.6,695.8 L624.1,695.8 L625.6,695.8 L627.1,695.8 L628.6,695.8 L630.1,695.8 L631.6,695.8 L633.1,695.8 L634.6,695.8 L636.1,695.8 L637.6,695.8 L639.1,695.8 L640.6,695.8 L642.1,695.8 L643.6,695.8 L645.1,695.8 L646.6,695.8 L648.1,695.8 L649.6,695.8 L651.1,695.8 L652.6,695.8 L654.1,695.8 L655.6,695.8 L657.1,695.8 L659.1,695.8"/>
<path d="M94.6,711.7 L96.1,712.2 L97.6,712.7 L99.1,713.2 L100.6,713.7 L102.1,714.2 L103.6,714.7 L105.1,715.3 L106.6,715.8 L108.1,716.4 L109.6,717.0 L111.1,717.6 L112.6,718.2 L114.1,718.9 L115.6,719.6 L117.1,720.3 L118.6,721.0 L120.1,721.8 L121.6,722.5 L123.1,723.3 L124.6,724.2 L126.1,725.1 L127.6,726.0 L129.1,726.9 L130.6,727.9 L132.1,728.9 L133.6,729.9 L135.1,731.0 L136.6,732.1 L138.1,733.3 L139.6,734.5 L141.1,735.7 L142.6,737.0 L144.1,738.4 L145.6,739.7 L147.1,741.2 L148.6,742.6 L150.1,744.2 L151.6,745.7 L153.1,747.4 L154.6,749.0 L156.1,750.8 L157.6,752.6 L159.1,754.4 L160.6,756.3 L162.1,758.3 L163.6,760.3 L165.1,762.4 L166.6,764.6 L168.1,766.8 L169.6,769.0 L171.1,771.3 L172.6,773.7 L174.1,776.1 L175.6,778.6 L177.1,781.1 L178.6,783.6 L180.1,786.2 L181.6,788.8 L183.1,791.5 L184.6,794.2 L186.1,796.9 L187.6,799.7 L189.1,802.5 L190.6,805.3 L192.1,808.2 L193.6,811.1 L195.1,814.0 L196.6,816.9 L198.1,819.8 L199.6,822.8 L201.1,825.7 L202.6,828.6 L204.1,831.5 L205.6,834.4 L207.1,837.2 L208.6,839.9 L210.1,842.6 L211.6,845.2 L213.1,847.7 L214.6,850.0 L216.1,852.3 L217.6,854.4 L219.1,856.4 L220.6,858.3 L222.1,859.9 L223.6,861.4 L225.1,862.7 L226.6,863.8 L228.1,864.7 L229.6,865.5 L231.1,866.0 L232.6,866.4 L234.1,866.5 L235.6,866.5 L237.1,866.3 L238.6,865.8 L240.1,865.1 L241.6,864.1 L243.1,863.0 L244.6,861.6 L246.1,860.1 L247.6,858.4 L249.1,856.6 L250.6,854.5 L252.1,852.4 L253.6,850.1 L255.1,847.7 L256.6,845.2 L258.1,842.7 L259.6,840.1 L261.1,837.4 L262.6,834.8 L264.1,832.1 L265.6,829.5 L267.1,826.8 L268.6,824.2 L270.1,821.7 L271.6,819.2 L273.1,816.7 L274.6,814.2 L276.1,811.8 L277.6,809.4 L279.1,807.1 L280.6,804.8 L282.1,802.5 L283.6,800.2 L285.1,798.0 L286.6,795.8 L288.1,793.7 L289.6,791.6 L291.1,789.5 L292.6,787.4 L294.1,785.4 L295.6,783.4 L297.1,781.4 L298.6,779.5 L300.1,777.5 L301.6,775.7 L303.1,773.8 L304.6,772.0 L306.1,770.3 L307.6,768.5 L309.1,766.8 L310.6,765.2 L312.1,763.6 L313.6,762.0 L315.1,760.4 L316.6,758.9 L318.1,757.4 L319.6,756.0 L321.1,754.6 L322.6,753.2 L324.1,751.9 L325.6,750.6 L327.1,749.3 L328.6,748.0 L330.1,746.8 L331.6,745.6 L333.1,744.5 L334.6,743.4 L336.1,742.3 L337.6,741.2 L339.1,740.1 L340.6,739.1 L342.1,738.1 L343.6,737.2 L345.1,736.2 L346.6,735.3 L348.1,734.4 L349.6,733.6 L351.1,732.7 L352.6,731.9 L354.1,731.1 L355.6,730.3 L357.1,729.6 L358.6,728.8 L360.1,728.1 L361.6,727.4 L363.1,726.7 L364.6,726.0 L366.1,725.4 L367.6,724.8 L369.1,724.2 L370.6,723.6 L372.1,723.0 L373.6,722.4 L375.1,721.9 L376.6,721.3 L378.1,720.8 L379.6,720.3 L381.1,719.8 L382.6,719.3 L384.1,718.8 L385.6,718.3 L387.1,717.8 L388.6,717.4 L390.1,716.9 L391.6,716.5 L393.1,716.1 L394.6,715.6 L396.1,715.2 L397.6,714.8 L399.1,714.4 L400.6,714.0 L402.1,713.6 L403.6,713.2 L405.1,712.9 L406.6,712.5 L408.1,712.1 L409.6,711.8 L411.1,711.4 L412.6,711.1 L414.1,710.7 L415.6,710.4 L417.1,710.1 L418.6,709.8 L420.1,709.5 L421.6,709.1 L423.1,708.8 L424.6,708.6 L426.1,708.3 L427.6,708.0 L429.1,707.7 L430.6,707.4 L432.1,707.2 L433.6,706.9 L435.1,706.6 L436.6,706.4 L438.1,706.1 L439.6,705.9 L441.1,705.7 L442.6,705.4 L444.1,705.2 L445.6,705.0 L447.1,704.8 L448.6,704.6 L450.1,704.4 L451.6,704.2 L453.1,704.0 L454.6,703.8 L456.1,703.6 L457.6,703.4 L459.1,703.2 L460.6,703.0 L462.1,702.9 L463.6,702.7 L465.1,702.5 L466.6,702.4 L468.1,702.2 L469.6,702.1 L471.1,701.9 L472.6,701.8 L474.1,701.6 L475.6,701.5 L477.1,701.4 L478.6,701.2 L480.1,701.1 L481.6,701.0 L483.1,700.9 L484.6,700.7 L486.1,700.6 L487.6,700.5 L489.1,700.4 L490.6,700.3 L492.1,700.2 L493.6,700.1 L495.1,700.0 L496.6,699.9 L498.1,699.8 L499.6,699.7 L501.1,699.7 L502.6,699.6 L504.1,699.5 L505.6,699.4 L507.1,699.3 L508.6,699.3 L510.1,699.2 L511.6,699.1 L513.1,699.1 L514.6,699.0 L516.1,698.9 L517.6,698.9 L519.1,698.8 L520.6,698.7 L522.1,698.7 L523.6,698.6 L525.1,698.6 L526.6,698.5 L528.1,698.5 L529.6,698.4 L531.1,698.4 L532.6,698.3 L534.1,698.3 L535.6,698.2 L537.1,698.2 L538.6,698.1 L540.1,698.1 L541.6,698.0 L543.1,698.0 L544.6,698.0 L546.1,697.9 L547.6,697.9 L549.1,697.8 L550.6,697.8 L552.1,697.7 L553.6,697.7 L555.1,697.7 L556.6,697.6 L558.1,697.6 L559.6,697.5 L561.1,697.5 L562.6,697.5 L564.1,697.4 L565.6,697.4 L567.1,697.3 L568.6,697.3 L570.1,697.3 L571.6,697.2 L573.1,697.2 L574.6,697.1 L576.1,697.1 L577.6,697.0 L579.1,697.0 L580.6,696.9 L582.1,696.9 L583.6,696.8 L585.1,696.8 L586.6,696.7 L588.1,696.7 L589.6,696.6 L591.1,696.6 L592.6,696.5 L594.1,696.4 L595.6,696.4 L597.1,696.3 L598.6,696.2 L600.1,696.2 L601.6,696.1 L603.1,696.0 L604.6,696.0 L606.1,695.9 L607.6,695.9 L609.1,695.9 L610.6,695.9 L612.1,695.9 L613.6,695.9 L615.1,695.9 L616.6,695.9 L618.1,695.9 L619.6,695.9 L621.1,695.9 L622.6,695.9 L624.1,695.9 L625.6,695.9 L627.1,695.9 L628.6,695.9 L630.1,695.9 L631.6,695.9 L633.1,695.9 L634.6,695.9 L636.1,695.9 L637.6,695.9 L639.1,695.9 L640.6,695.9 L642.1,695.9 L643.6,695.9 L645.1,695.9 L646.6,695.9 L648.1,695.9 L649.6,695.9 L651.1,695.9 L652.6,695.9 L654.1,695.9 L655.6,695.9 L657.1,695.9 L659.1,695.9"/>
<path d="M94.6,711.7 L96.1,712.2 L97.6,712.7 L99.1,713.2 L100.6,713.7 L102.1,714.2 L103.6,714.7 L105.1,715.3 L106.6,715.8 L108.1,716.4 L109.6,717.0 L111.1,717.6 L112.6,718.2 L114.1,718.9 L115.6,719.6 L117.1,720.3 L118.6,721.0 L120.1,721.8 L121.6,722.5 L123.1,723.3 L124.6,724.2 L126.1,725.1 L127.6,726.0 L129.1,726.9 L130.6,727.9 L132.1,728.9 L133.6,729.9 L135.1,731.0 L136.6,732.1 L138.1,733.3 L139.6,734.5 L141.1,735.7 L142.6,737.0 L144.1,738.4 L145.6,739.7 L147.1,741.2 L148.6,742.6 L150.1,744.2 L151.6,745.7 L153.1,747.4 L154.6,749.0 L156.1,750.8 L157.6,752.6 L159.1,754.4 L160.6,756.3 L162.1,758.3 L163.6,760.3 L165.1,762.4 L166.6,764.5 L168.1,766.7 L169.6,769.0 L171.1,771.3 L172.6,773.6 L174.1,776.0 L175.6,778.4 L177.1,780.9 L178.6,783.4 L180.1,786.0 L181.6,788.6 L183.1,791.2 L184.6,793.8 L186.1,796.5 L187.6,799.2 L189.1,801.9 L190.6,804.6 L192.1,807.4 L193.6,810.1 L195.1,812.9 L196.6,815.7 L198.1,818.5 L199.6,821.2 L201.1,824.0 L202.6,826.7 L204.1,829.3 L205.6,832.0 L207.1,834.5 L208.6,837.0 L210.1,839.4 L211.6,841.7 L213.1,844.0 L214.6,846.1 L216.1,848.1 L217.6,850.0 L219.1,851.7 L220.6,853.3 L222.1,854.7 L223.6,856.0 L225.1,857.1 L226.6,858.1 L228.1,858.8 L229.6,859.5 L231.1,859.9 L232.6,860.3 L234.1,860.4 L235.6,860.4 L237.1,860.3 L238.6,859.9 L240.1,859.4 L241.6,858.7 L243.1,857.9 L244.6,856.9 L246.1,855.7 L247.6,854.4 L249.1,852.9 L250.6,851.3 L252.1,849.6 L253.6,847.7 L255.1,845.7 L256.6,843.6 L258.1,841.4 L259.6,839.1 L261.1,836.7 L262.6,834.4 L264.1,831.9 L265.6,829.5 L267.1,827.1 L268.6,824.6 L270.1,822.2 L271.6,819.8 L273.1,817.5 L274.6,815.1 L276.1,812.8 L277.6,810.5 L279.1,808.2 L280.6,805.9 L282.1,803.7 L283.6,801.5 L285.1,799.3 L286.6,797.1 L288.1,795.0 L289.6,792.9 L291.1,790.8 L292.6,788.8 L294.1,786.8 L295.6,784.8 L297.1,782.8 L298.6,780.9 L300.1,779.0 L301.6,777.1 L303.1,775.3 L304.6,773.5 L306.1,771.7 L307.6,770.0 L309.1,768.3 L310.6,766.7 L312.1,765.0 L313.6,763.4 L315.1,761.9 L316.6,760.4 L318.1,758.9 L319.6,757.4 L321.1,756.0 L322.6,754.6 L324.1,753.3 L325.6,752.0 L327.1,750.7 L328.6,749.4 L330.1,748.2 L331.6,747.0 L333.1,745.8 L334.6,744.7 L336.1,743.6 L337.6,742.5 L339.1,741.4 L340.6,740.4 L342.1,739.4 L343.6,738.4 L345.1,737.5 L346.6,736.5 L348.1,735.6 L349.6,734.8 L351.1,733.9 L352.6,733.1 L354.1,732.2 L355.6,731.4 L357.1,730.7 L358.6,729.9 L360.1,729.2 L361.6,728.5 L363.1,727.8 L364.6,727.1 L366.1,726.4 L367.6,725.8 L369.1,725.2 L370.6,724.6 L372.1,724.0 L373.6,723.4 L375.1,722.8 L376.6,722.3 L378.1,721.7 L379.6,721.2 L381.1,720.7 L382.6,720.2 L384.1,719.7 L385.6,719.2 L387.1,718.7 L388.6,718.3 L390.1,717.8 L391.6,717.4 L393.1,716.9 L394.6,716.5 L396.1,716.1 L397.6,715.7 L399.1,715.2 L400.6,714.8 L402.1,714.4 L403.6,714.1 L405.1,713.7 L406.6,713.3 L408.1,712.9 L409.6,712.6 L411.1,712.2 L412.6,711.9 L414.1,711.5 L415.6,711.2 L417.1,710.8 L418.6,710.5 L420.1,710.2 L421.6,709.9 L423.1,709.6 L424.6,709.3 L426.1,709.0 L427.6,708.7 L429.1,708.4 L430.6,708.1 L432.1,707.8 L433.6,707.6 L435.1,707.3 L436.6,707.0 L438.1,706.8 L439.6,706.5 L441.1,706.3 L442.6,706.1 L444.1,705.8 L445.6,705.6 L447.1,705.4 L448.6,705.2 L450.1,704.9 L451.6,704.7 L453.1,704.5 L454.6,704.3 L456.1,704.1 L457.6,703.9 L459.1,703.8 L460.6,703.6 L462.1,703.4 L463.6,703.2 L465.1,703.0 L466.6,702.9 L468.1,702.7 L469.6,702.6 L471.1,702.4 L472.6,702.3 L474.1,702.1 L475.6,702.0 L477.1,701.8 L478.6,701.7 L480.1,701.6 L481.6,701.4 L483.1,701.3 L484.6,701.2 L486.1,701.1 L487.6,700.9 L489.1,700.8 L490.6,700.7 L492.1,700.6 L493.6,700.5 L495.1,700.4 L496.6,700.3 L498.1,700.2 L499.6,700.1 L501.1,700.0 L502.6,699.9 L504.1,699.8 L505.6,699.8 L507.1,699.7 L508.6,699.6 L510.1,699.5 L511.6,699.4 L513.1,699.4 L514.6,699.3 L516.1,699.2 L517.6,699.2 L519.1,699.1 L520.6,699.0 L522.1,699.0 L523.6,698.9 L525.1,698.8 L526.6,698.8 L528.1,698.7 L529.6,698.7 L531.1,698.6 L532.6,698.6 L534.1,698.5 L535.6,698.5 L537.1,698.4 L538.6,698.4 L540.1,698.3 L541.6,698.3 L543.1,698.2 L544.6,698.2 L546.1,698.2 L547.6,698.1 L549.1,698.1 L550.6,698.0 L552.1,698.0 L553.6,697.9 L555.1,697.9 L556.6,697.9 L558.1,697.8 L559.6,697.8 L561.1,697.7 L562.6,697.7 L564.1,697.7 L565.6,697.6 L567.1,697.6 L568.6,697.5 L570.1,697.5 L571.6,697.5 L573.1,697.4 L574.6,697.4 L576.1,697.3 L577.6,697.3 L579.1,697.2 L580.6,697.2 L582.1,697.2 L583.6,697.1 L585.1,697.1 L586.6,697.0 L588.1,697.0 L589.6,696.9 L591.1,696.9 L592.6,696.8 L594.1,696.8 L595.6,696.7 L597.1,696.7 L598.6,696.6 L600.1,696.5 L601.6,696.5 L603.1,696.4 L604.6,696.3 L606.1,696.3 L607.6,696.2 L609.1,696.1 L610.6,696.1 L612.1,696.0 L613.6,696.0 L615.1,696.0 L616.6,696.0 L618.1,696.0 L619.6,696.0 L621.1,696.0 L622.6,696.0 L624.1,696.0 L625.6,696.0 L627.1,696.0 L628.6,696.0 L630.1,696.0 L631.6,696.0 L633.1,696.0 L634.6,696.0 L636.1,696.0 L637.6,696.0 L639.1,696.0 L640.6,696.0 L642.1,696.0 L643.6,696.0 L645.1,696.0 L646.6,696.0 L648.1,696.0 L649.6,696.0 L651.1,696.0 L652.6,696.0 L654.1,696.0 L655.6,696.0 L657.1,696.0 L659.1,696.0"/>
<path d="M94.6,711.7 L96.1,712.2 L97.6,712.7 L99.1,713.2 L100.6,713.7 L102.1,714.2 L103.6,714.7 L105.1,715.3 L106.6,715.8 L108.1,716.4 L109.6,717.0 L111.1,717.6 L112.6,718.2 L114.1,718.9 L115.6,719.6 L117.1,720.3 L118.6,721.0 L120.1,721.8 L121.6,722.5 L123.1,723.3 L124.6,724.2 L126.1,725.1 L127.6,726.0 L129.1,726.9 L130.6,727.9 L132.1,728.9 L133.6,729.9 L135.1,731.0 L136.6,732.1 L138.1,733.3 L139.6,734.5 L141.1,735.7 L142.6,737.0 L144.1,738.4 L145.6,739.7 L147.1,741.2 L148.6,742.6 L150.1,744.2 L151.6,745.7 L153.1,747.4 L154.6,749.0 L156.1,750.8 L157.6,752.6 L159.1,754.4 L160.6,756.3 L162.1,758.3 L163.6,760.3 L165.1,762.4 L166.6,764.5 L168.1,766.7 L169.6,768.9 L171.1,771.2 L172.6,773.6 L174.1,775.9 L175.6,778.4 L177.1,780.8 L178.6,783.3 L180.1,785.8 L181.6,788.4 L183.1,790.9 L184.6,793.5 L186.1,796.2 L187.6,798.8 L189.1,801.4 L190.6,804.1 L192.1,806.7 L193.6,809.4 L195.1,812.1 L196.6,814.7 L198.1,817.4 L199.6,820.0 L201.1,822.6 L202.6,825.1 L204.1,827.6 L205.6,830.1 L207.1,832.5 L208.6,834.7 L210.1,837.0 L211.6,839.1 L213.1,841.1 L214.6,843.0 L216.1,844.8 L217.6,846.4 L219.1,848.0 L220.6,849.4 L222.1,850.7 L223.6,851.8 L225.1,852.7 L226.6,853.5 L228.1,854.2 L229.6,854.8 L231.1,855.2 L232.6,855.4 L234.1,855.6 L235.6,855.6 L237.1,855.6 L238.6,855.3 L240.1,855.0 L241.6,854.5 L243.1,853.9 L244.6,853.1 L246.1,852.3 L247.6,851.3 L249.1,850.1 L250.6,848.8 L252.1,847.4 L253.6,845.8 L255.1,844.1 L256.6,842.3 L258.1,840.4 L259.6,838.4 L261.1,836.3 L262.6,834.2 L264.1,832.0 L265.6,829.7 L267.1,827.4 L268.6,825.1 L270.1,822.8 L271.6,820.5 L273.1,818.3 L274.6,816.0 L276.1,813.7 L277.6,811.5 L279.1,809.3 L280.6,807.0 L282.1,804.9 L283.6,802.7 L285.1,800.5 L286.6,798.4 L288.1,796.3 L289.6,794.2 L291.1,792.2 L292.6,790.1 L294.1,788.1 L295.6,786.2 L297.1,784.2 L298.6,782.3 L300.1,780.4 L301.6,778.6 L303.1,776.7 L304.6,775.0 L306.1,773.2 L307.6,771.5 L309.1,769.8 L310.6,768.1 L312.1,766.5 L313.6,764.9 L315.1,763.3 L316.6,761.8 L318.1,760.3 L319.6,758.9 L321.1,757.4 L322.6,756.0 L324.1,754.7 L325.6,753.4 L327.1,752.1 L328.6,750.8 L330.1,749.6 L331.6,748.3 L333.1,747.2 L334.6,746.0 L336.1,744.9 L337.6,743.8 L339.1,742.7 L340.6,741.7 L342.1,740.7 L343.6,739.7 L345.1,738.7 L346.6,737.8 L348.1,736.8 L349.6,735.9 L351.1,735.1 L352.6,734.2 L354.1,733.4 L355.6,732.6 L357.1,731.8 L358.6,731.0 L360.1,730.3 L361.6,729.6 L363.1,728.8 L364.6,728.1 L366.1,727.5 L367.6,726.8 L369.1,726.2 L370.6,725.6 L372.1,724.9 L373.6,724.3 L375.1,723.8 L376.6,723.2 L378.1,722.7 L379.6,722.1 L381.1,721.6 L382.6,721.1 L384.1,720.6 L385.6,720.1 L387.1,719.6 L388.6,719.1 L390.1,718.7 L391.6,718.2 L393.1,717.8 L394.6,717.3 L396.1,716.9 L397.6,716.5 L399.1,716.1 L400.6,715.7 L402.1,715.3 L403.6,714.9 L405.1,714.5 L406.6,714.1 L408.1,713.7 L409.6,713.4 L411.1,713.0 L412.6,712.6 L414.1,712.3 L415.6,711.9 L417.1,711.6 L418.6,711.3 L420.1,710.9 L421.6,710.6 L423.1,710.3 L424.6,710.0 L426.1,709.7 L427.6,709.4 L429.1,709.1 L430.6,708.8 L432.1,708.5 L433.6,708.3 L435.1,708.0 L436.6,707.7 L438.1,707.5 L439.6,707.2 L441.1,706.9 L442.6,706.7 L444.1,706.5 L445.6,706.2 L447.1,706.0 L448.6,705.8 L450.1,705.5 L451.6,705.3 L453.1,705.1 L454.6,704.9 L456.1,704.7 L457.6,704.5 L459.1,704.3 L460.6,704.1 L462.1,703.9 L463.6,703.8 L465.1,703.6 L466.6,703.4 L468.1,703.2 L469.6,703.1 L471.1,702.9 L472.6,702.7 L474.1,702.6 L475.6,702.4 L477.1,702.3 L478.6,702.1 L480.1,702.0 L481.6,701.9 L483.1,701.7 L484.6,701.6 L486.1,701.5 L487.6,701.4 L489.1,701.2 L490.6,701.1 L492.1,701.0 L493.6,700.9 L495.1,700.8 L496.6,700.7 L498.1,700.6 L499.6,700.5 L501.1,700.4 L502.6,700.3 L504.1,700.2 L505.6,700.1 L507.1,700.0 L508.6,699.9 L510.1,699.8 L511.6,699.8 L513.1,699.7 L514.6,699.6 L516.1,699.5 L517.6,699.5 L519.1,699.4 L520.6,699.3 L522.1,699.3 L523.6,699.2 L525.1,699.1 L526.6,699.1 L528.1,699.0 L529.6,698.9 L531.1,698.9 L532.6,698.8 L534.1,698.8 L535.6,698.7 L537.1,698.7 L538.6,698.6 L540.1,698.6 L541.6,698.5 L543.1,698.5 L544.6,698.4 L546.1,698.4 L547.6,698.3 L549.1,698.3 L550.6,698.3 L552.1,698.2 L553.6,698.2 L555.1,698.1 L556.6,698.1 L558.1,698.1 L559.6,698.0 L561.1,698.0 L562.6,697.9 L564.1,697.9 L565.6,697.9 L567.1,697.8 L568.6,697.8 L570.1,697.7 L571.6,697.7 L573.1,697.7 L574.6,697.6 L576.1,697.6 L577.6,697.5 L579.1,697.5 L580.6,697.5 L582.1,697.4 L583.6,697.4 L585.1,697.3 L586.6,697.3 L588.1,697.2 L589.6,697.2 L591.1,697.2 L592.6,697.1 L594.1,697.1 L595.6,697.0 L597.1,697.0 L598.6,696.9 L600.1,696.9 L601.6,696.8 L603.1,696.7 L604.6,696.7 L606.1,696.6 L607.6,696.6 L609.1,696.5 L610.6,696.4 L612.1,696.4 L613.6,696.3 L615.1,696.2 L616.6,696.2 L618.1,696.1 L619.6,696.1 L621.1,696.1 L622.6,696.1 L624.1,696.1 L625.6,696.1 L627.1,696.1 L628.6,696.1 L630.1,696.1 L631.6,696.1 L633.1,696.1 L634.6,696.1 L636.1,696.1 L637.6,696.1 L639.1,696.1 L640.6,696.1 L642.1,696.1 L643.6,696.1 L645.1,696.1 L646.6,696.1 L648.1,696.1 L649.6,696.1 L651.1,696.1 L652.6,696.1 L654.1,696.1 L655.6,696.1 L657.1,696.1 L659.1,696.1"/>
<path d="M94.6,711.7 L96.1,712.2 L97.6,712.7 L99.1,713.2 L100.6,713.7 L102.1,714.2 L103.6,714.7 L105.1,715.3 L106.6,715.8 L108.1,716.4 L109.6,717.0 L111.1,717.6 L112.6,718.2 L114.1,718.9 L115.6,719.6 L117.1,720.3 L118.6,721.0 L120.1,721.8 L121.6,722.5 L123.1,723.3 L124.6,724.2 L126.1,725.1 L127.6,726.0 L129.1,726.9 L130.6,727.9 L132.1,728.9 L133.6,729.9 L135.1,731.0 L136.6,732.1 L138.1,733.3 L139.6,734.5 L141.1,735.7 L142.6,737.0 L144.1,738.4 L145.6,739.7 L147.1,741.2 L148.6,742.6 L150.1,744.2 L151.6,745.7 L153.1,747.4 L154.6,749.1 L156.1,750.8 L157.6,752.6 L159.1,754.4 L160.6,756.3 L162.1,758.3 L163.6,760.3 L165.1,762.4 L166.6,764.6 L168.1,766.8 L169.6,769.0 L171.1,771.4 L172.6,773.7 L174.1,776.2 L175.6,778.6 L177.1,781.1 L178.6,783.7 L180.1,786.3 L181.6,789.0 L183.1,791.7 L184.6,794.4 L186.1,797.2 L187.6,800.0 L189.1,802.8 L190.6,805.7 L192.1,808.6 L193.6,811.6 L195.1,814.6 L196.6,817.6 L198.1,820.6 L199.6,823.7 L201.1,826.7 L202.6,829.7 L204.1,832.7 L205.6,835.7 L207.1,838.7 L208.6,841.6 L210.1,844.4 L211.6,847.1 L213.1,849.8 L214.6,852.3 L216.1,854.7 L217.6,857.0 L219.1,859.1 L220.6,861.1 L222.1,862.9 L223.6,864.5 L225.1,865.9 L226.6,867.1 L228.1,868.1 L229.6,868.9 L231.1,869.5 L232.6,869.9 L234.1,870.1 L235.6,870.0 L237.1,869.7 L238.6,869.2 L240.1,868.5 L241.6,867.5 L243.1,866.3 L244.6,865.0 L246.1,863.4 L247.6,861.7 L249.1,859.8 L250.6,857.8 L252.1,855.6 L253.6,853.4 L255.1,851.0 L256.6,848.6 L258.1,846.1 L259.6,843.5 L261.1,840.9 L262.6,838.3 L264.1,835.7 L265.6,833.2 L267.1,830.6 L268.6,828.0 L270.1,825.6 L271.6,823.1 L273.1,820.7 L274.6,818.3 L276.1,816.0 L277.6,813.7 L279.1,811.4 L280.6,809.2 L282.1,807.0 L283.6,804.8 L285.1,802.7 L286.6,800.5 L288.1,798.5 L289.6,796.4 L291.1,794.4 L292.6,792.4 L294.1,790.4 L295.6,788.4 L297.1,786.5 L298.6,784.6 L300.1,782.7 L301.6,780.9 L303.1,779.1 L304.6,777.3 L306.1,775.6 L307.6,773.8 L309.1,772.1 L310.6,770.5 L312.1,768.9 L313.6,767.3 L315.1,765.7 L316.6,764.2 L318.1,762.7 L319.6,761.2 L321.1,759.8 L322.6,758.4 L324.1,757.0 L325.6,755.7 L327.1,754.3 L328.6,753.1 L330.1,751.8 L331.6,750.6 L333.1,749.4 L334.6,748.2 L336.1,747.1 L337.6,746.0 L339.1,744.9 L340.6,743.8 L342.1,742.8 L343.6,741.8 L345.1,740.8 L346.6,739.8 L348.1,738.9 L349.6,737.9 L351.1,737.0 L352.6,736.2 L354.1,735.3 L355.6,734.5 L357.1,733.7 L358.6,732.9 L360.1,732.1 L361.6,731.4 L363.1,730.6 L364.6,729.9 L366.1,729.2 L367.6,728.5 L369.1,727.9 L370.6,727.2 L372.1,726.6 L373.6,726.0 L375.1,725.4 L376.6,724.8 L378.1,724.2 L379.6,723.7 L381.1,723.1 L382.6,722.6 L384.1,722.1 L385.6,721.6 L387.1,721.1 L388.6,720.6 L390.1,720.1 L391.6,719.6 L393.1,719.2 L394.6,718.7 L396.1,718.3 L397.6,717.9 L399.1,717.4 L400.6,717.0 L402.1,716.6 L403.6,716.2 L405.1,715.8 L406.6,715.4 L408.1,715.0 L409.6,714.7 L411.1,714.3 L412.6,713.9 L414.1,713.6 L415.6,713.2 L417.1,712.9 L418.6,712.5 L420.1,712.2 L421.6,711.9 L423.1,711.5 L424.6,711.2 L426.1,710.9 L427.6,710.6 L429.1,710.3 L430.6,710.0 L432.1,709.7 L433.6,709.4 L435.1,709.1 L436.6,708.8 L438.1,708.6 L439.6,708.3 L441.1,708.0 L442.6,707.8 L444.1,707.5 L445.6,707.3 L447.1,707.0 L448.6,706.8 L450.1,706.6 L451.6,706.3 L453.1,706.1 L454.6,705.9 L456.1,705.7 L457.6,705.5 L459.1,705.3 L460.6,705.1 L462.1,704.9 L463.6,704.7 L465.1,704.5 L466.6,704.3 L468.1,704.1 L469.6,703.9 L471.1,703.8 L472.6,703.6 L474.1,703.4 L475.6,703.3 L477.1,703.1 L478.6,702.9 L480.1,702.8 L481.6,702.6 L483.1,702.5 L484.6,702.4 L486.1,702.2 L487.6,702.1 L489.1,702.0 L490.6,701.8 L492.1,701.7 L493.6,701.6 L495.1,701.5 L496.6,701.3 L498.1,701.2 L499.6,701.1 L501.1,701.0 L502.6,700.9 L504.1,700.8 L505.6,700.7 L507.1,700.6 L508.6,700.5 L510.1,700.4 L511.6,700.3 L513.1,700.2 L514.6,700.2 L516.1,700.1 L517.6,700.0 L519.1,699.9 L520.6,699.8 L522.1,699.8 L523.6,699.7 L525.1,699.6 L526.6,699.6 L528.1,699.5 L529.6,699.4 L531.1,699.4 L532.6,699.3 L534.1,699.2 L535.6,699.2 L537.1,699.1 L538.6,699.1 L540.1,699.0 L541.6,699.0 L543.1,698.9 L544.6,698.9 L546.1,698.8 L547.6,698.8 L549.1,698.7 L550.6,698.7 L552.1,698.6 L553.6,698.6 L555.1,698.5 L556.6,698.5 L558.1,698.4 L559.6,698.4 L561.1,698.4 L562.6,698.3 L564.1,698.3 L565.6,698.2 L567.1,698.2 L568.6,698.2 L570.1,698.1 L571.6,698.1 L573.1,698.0 L574.6,698.0 L576.1,698.0 L577.6,697.9 L579.1,697.9 L580.6,697.9 L582.1,697.8 L583.6,697.8 L585.1,697.7 L586.6,697.7 L588.1,697.7 L589.6,697.6 L591.1,697.6 L592.6,697.5 L594.1,697.5 L595.6,697.5 L597.1,697.4 L598.6,697.4 L600.1,697.3 L601.6,697.3 L603.1,697.2 L604.6,697.2 L606.1,697.1 L607.6,697.1 L609.1,697.0 L610.6,697.0 L612.1,696.9 L613.6,696.9 L615.1,696.8 L616.6,696.8 L618.1,696.7 L619.6,696.7 L621.1,696.6 L622.6,696.5 L624.1,696.5 L625.6,696.4 L627.1,696.3 L628.6,696.3 L630.1,696.2 L631.6,696.2 L633.1,696.2 L634.6,696.2 L636.1,696.2 L637.6,696.2 L639.1,696.2 L640.6,696.2 L642.1,696.2 L643.6,696.2 L645.1,696.2 L646.6,696.2 L648.1,696.2 L649.6,696.2 L651.1,696.2 L652.6,696.2 L654.1,696.2 L655.6,696.2 L657.1,696.2 L659.1,696.2"/>
<path d="M94.6,711.7 L96.1,712.2 L97.6,712.7 L99.1,713.2 L100.6,713.7 L102.1,714.2 L103.6,714.7 L105.1,715.3 L106.6,715.8 L108.1,716.4 L109.6,717.0 L111.1,717.6 L112.6,718.2 L114.1,718.9 L115.6,719.6 L117.1,720.3 L118.6,721.0 L120.1,721.8 L121.6,722.5 L123.1,723.3 L124.6,724.2 L126.1,725.1 L127.6,726.0 L129.1,726.9 L130.6,727.9 L132.1,728.9 L133.6,729.9 L135.1,731.0 L136.6,732.1 L138.1,733.3 L139.6,734.5 L141.1,735.7 L142.6,737.0 L144.1,738.4 L145.6,739.7 L147.1,741.2 L148.6,742.6 L150.1,744.2 L151.6,745.7 L153.1,747.4 L154.6,749.0 L156.1,750.8 L157.6,752.6 L159.1,754.4 L160.6,756.3 L162.1,758.3 L163.6,760.3 L165.1,762.4 L166.6,764.5 L168.1,766.7 L169.6,769.0 L171.1,771.3 L172.6,773.6 L174.1,776.0 L175.6,778.4 L177.1,780.9 L178.6,783.4 L180.1,786.0 L181.6,788.5 L183.1,791.1 L184.6,793.8 L186.1,796.4 L187.6,799.1 L189.1,801.8 L190.6,804.5 L192.1,807.3 L193.6,810.0 L195.1,812.8 L196.6,815.5 L198.1,818.3 L199.6,821.0 L201.1,823.7 L202.6,826.4 L204.1,829.0 L205.6,831.6 L207.1,834.1 L208.6,836.6 L210.1,839.0 L211.6,841.3 L213.1,843.4 L214.6,845.5 L216.1,847.5 L217.6,849.3 L219.1,851.0 L220.6,852.6 L222.1,854.0 L223.6,855.2 L225.1,856.3 L226.6,857.2 L228.1,858.0 L229.6,858.6 L231.1,859.1 L232.6,859.4 L234.1,859.5 L235.6,859.6 L237.1,859.5 L238.6,859.2 L240.1,858.8 L241.6,858.3 L243.1,857.6 L244.6,856.8 L246.1,855.9 L247.6,854.9 L249.1,853.7 L250.6,852.4 L252.1,851.0 L253.6,849.4 L255.1,847.8 L256.6,846.0 L258.1,844.1 L259.6,842.2 L261.1,840.2 L262.6,838.1 L264.1,835.9 L265.6,833.8 L267.1,831.6 L268.6,829.3 L270.1,827.1 L271.6,824.9 L273.1,822.7 L274.6,820.5 L276.1,818.4 L277.6,816.2 L279.1,814.1 L280.6,811.9 L282.1,809.8 L283.6,807.8 L285.1,805.7 L286.6,803.6 L288.1,801.6 L289.6,799.6 L291.1,797.6 L292.6,795.7 L294.1,793.8 L295.6,791.8 L297.1,790.0 L298.6,788.1 L300.1,786.3 L301.6,784.5 L303.1,782.7 L304.6,780.9 L306.1,779.2 L307.6,777.5 L309.1,775.8 L310.6,774.1 L312.1,772.5 L313.6,770.9 L315.1,769.4 L316.6,767.8 L318.1,766.3 L319.6,764.8 L321.1,763.4 L322.6,762.0 L324.1,760.6 L325.6,759.2 L327.1,757.9 L328.6,756.6 L330.1,755.3 L331.6,754.1 L333.1,752.9 L334.6,751.7 L336.1,750.5 L337.6,749.4 L339.1,748.2 L340.6,747.2 L342.1,746.1 L343.6,745.0 L345.1,744.0 L346.6,743.0 L348.1,742.1 L349.6,741.1 L351.1,740.2 L352.6,739.3 L354.1,738.4 L355.6,737.5 L357.1,736.7 L358.6,735.9 L360.1,735.1 L361.6,734.3 L363.1,733.5 L364.6,732.7 L366.1,732.0 L367.6,731.3 L369.1,730.6 L370.6,729.9 L372.1,729.3 L373.6,728.6 L375.1,728.0 L376.6,727.4 L378.1,726.8 L379.6,726.2 L381.1,725.6 L382.6,725.0 L384.1,724.5 L385.6,724.0 L387.1,723.4 L388.6,722.9 L390.1,722.4 L391.6,721.9 L393.1,721.4 L394.6,721.0 L396.1,720.5 L397.6,720.1 L399.1,719.6 L400.6,719.2 L402.1,718.8 L403.6,718.4 L405.1,717.9 L406.6,717.5 L408.1,717.1 L409.6,716.8 L411.1,716.4 L412.6,716.0 L414.1,715.6 L415.6,715.2 L417.1,714.9 L418.6,714.5 L420.1,714.2 L421.6,713.8 L423.1,713.5 L424.6,713.2 L426.1,712.8 L427.6,712.5 L429.1,712.2 L430.6,711.9 L432.1,711.6 L433.6,711.3 L435.1,711.0 L436.6,710.7 L438.1,710.4 L439.6,710.1 L441.1,709.8 L442.6,709.5 L444.1,709.3 L445.6,709.0 L447.1,708.8 L448.6,708.5 L450.1,708.2 L451.6,708.0 L453.1,707.8 L454.6,707.5 L456.1,707.3 L457.6,707.1 L459.1,706.8 L460.6,706.6 L462.1,706.4 L463.6,706.2 L465.1,706.0 L466.6,705.8 L468.1,705.6 L469.6,705.4 L471.1,705.2 L472.6,705.0 L474.1,704.8 L475.6,704.6 L477.1,704.5 L478.6,704.3 L480.1,704.1 L481.6,704.0 L483.1,703.8 L484.6,703.6 L486.1,703.5 L487.6,703.3 L489.1,703.2 L490.6,703.0 L492.1,702.9 L493.6,702.8 L495.1,702.6 L496.6,702.5 L498.1,702.4 L499.6,702.2 L501.1,702.1 L502.6,702.0 L504.1,701.9 L505.6,701.7 L507.1,701.6 L508.6,701.5 L510.1,701.4 L511.6,701.3 L513.1,701.2 L514.6,701.1 L516.1,701.0 L517.6,700.9 L519.1,700.8 L520.6,700.7 L522.1,700.6 L523.6,700.6 L525.1,700.5 L526.6,700.4 L528.1,700.3 L529.6,700.2 L531.1,700.2 L532.6,700.1 L534.1,700.0 L535.6,699.9 L537.1,699.9 L538.6,699.8 L540.1,699.8 L541.6,699.7 L543.1,699.6 L544.6,699.6 L546.1,699.5 L547.6,699.5 L549.1,699.4 L550.6,699.3 L552.1,699.3 L553.6,699.2 L555.1,699.2 L556.6,699.1 L558.1,699.1 L559.6,699.0 L561.1,699.0 L562.6,698.9 L564.1,698.9 L565.6,698.9 L567.1,698.8 L568.6,698.8 L570.1,698.7 L571.6,698.7 L573.1,698.7 L574.6,698.6 L576.1,698.6 L577.6,698.5 L579.1,698.5 L580.6,698.5 L582.1,698.4 L583.6,698.4 L585.1,698.4 L586.6,698.3 L588.1,698.3 L589.6,698.2 L591.1,698.2 L592.6,698.2 L594.1,698.1 L595.6,698.1 L597.1,698.1 L598.6,698.0 L600.1,698.0 L601.6,697.9 L603.1,697.9 L604.6,697.9 L606.1,697.8 L607.6,697.8 L609.1,697.8 L610.6,697.7 L612.1,697.7 L613.6,697.6 L615.1,697.6 L616.6,697.6 L618.1,697.5 L619.6,697.5 L621.1,697.4 L622.6,697.4 L624.1,697.3 L625.6,697.3 L627.1,697.2 L628.6,697.2 L630.1,697.1 L631.6,697.1 L633.1,697.0 L634.6,697.0 L636.1,696.9 L637.6,696.8 L639.1,696.8 L640.6,696.7 L642.1,696.7 L643.6,696.6 L645.1,696.5 L646.6,696.5 L648.1,696.5 L649.6,696.5 L651.1,696.5 L652.6,696.5 L654.1,696.5 L655.6,696.5 L657.1,696.5 L659.1,696.5"/>
<path d="M94.6,711.7 L96.1,712.2 L97.6,712.7 L99.1,713.2 L100.6,713.7 L102.1,714.2 L103.6,714.7 L105.1,715.3 L106.6,715.8 L108.1,716.4 L109.6,717.0 L111.1,717.6 L112.6,718.2 L114.1,718.9 L115.6,719.6 L117.1,720.3 L118.6,721.0 L120.1,721.8 L121.6,722.5 L123.1,723.3 L124.6,724.2 L126.1,725.1 L127.6,726.0 L129.1,726.9 L130.6,727.9 L132.1,728.9 L133.6,729.9 L135.1,731.0 L136.6,732.1 L138.1,733.3 L139.6,734.5 L141.1,735.7 L142.6,737.0 L144.1,738.4 L145.6,739.7 L147.1,741.2 L148.6,742.6 L150.1,744.2 L151.6,745.7 L153.1,747.4 L154.6,749.0 L156.1,750.8 L157.6,752.6 L159.1,754.4 L160.6,756.3 L162.1,758.3 L163.6,760.3 L165.1,762.4 L166.6,764.5 L168.1,766.7 L169.6,769.0 L171.1,771.3 L172.6,773.7 L174.1,776.1 L175.6,778.5 L177.1,781.0 L178.6,783.5 L180.1,786.1 L181.6,788.7 L183.1,791.3 L184.6,794.0 L186.1,796.7 L187.6,799.4 L189.1,802.1 L190.6,804.9 L192.1,807.7 L193.6,810.5 L195.1,813.4 L196.6,816.2 L198.1,819.0 L199.6,821.9 L201.1,824.7 L202.6,827.5 L204.1,830.3 L205.6,833.0 L207.1,835.7 L208.6,838.3 L210.1,840.8 L211.6,843.2 L213.1,845.6 L214.6,847.8 L216.1,849.9 L217.6,851.9 L219.1,853.7 L220.6,855.4 L222.1,857.0 L223.6,858.3 L225.1,859.5 L226.6,860.5 L228.1,861.4 L229.6,862.0 L231.1,862.5 L232.6,862.9 L234.1,863.0 L235.6,863.1 L237.1,862.9 L238.6,862.6 L240.1,862.2 L241.6,861.7 L243.1,861.0 L244.6,860.1 L246.1,859.2 L247.6,858.1 L249.1,856.9 L250.6,855.6 L252.1,854.1 L253.6,852.6 L255.1,851.0 L256.6,849.2 L258.1,847.4 L259.6,845.6 L261.1,843.6 L262.6,841.6 L264.1,839.6 L265.6,837.5 L267.1,835.4 L268.6,833.3 L270.1,831.2 L271.6,829.1 L273.1,826.9 L274.6,824.8 L276.1,822.8 L277.6,820.7 L279.1,818.7 L280.6,816.6 L282.1,814.6 L283.6,812.6 L285.1,810.7 L286.6,808.7 L288.1,806.8 L289.6,804.9 L291.1,803.0 L292.6,801.1 L294.1,799.2 L295.6,797.4 L297.1,795.6 L298.6,793.8 L300.1,792.0 L301.6,790.3 L303.1,788.5 L304.6,786.8 L306.1,785.1 L307.6,783.4 L309.1,781.8 L310.6,780.2 L312.1,778.6 L313.6,777.0 L315.1,775.5 L316.6,773.9 L318.1,772.4 L319.6,770.9 L321.1,769.5 L322.6,768.1 L324.1,766.7 L325.6,765.3 L327.1,763.9 L328.6,762.6 L330.1,761.3 L331.6,760.0 L333.1,758.8 L334.6,757.6 L336.1,756.4 L337.6,755.2 L339.1,754.0 L340.6,752.9 L342.1,751.8 L343.6,750.7 L345.1,749.7 L346.6,748.6 L348.1,747.6 L349.6,746.6 L351.1,745.6 L352.6,744.7 L354.1,743.7 L355.6,742.8 L357.1,741.9 L358.6,741.1 L360.1,740.2 L361.6,739.4 L363.1,738.5 L364.6,737.7 L366.1,737.0 L367.6,736.2 L369.1,735.4 L370.6,734.7 L372.1,734.0 L373.6,733.3 L375.1,732.6 L376.6,731.9 L378.1,731.3 L379.6,730.6 L381.1,730.0 L382.6,729.4 L384.1,728.8 L385.6,728.2 L387.1,727.6 L388.6,727.1 L390.1,726.5 L391.6,726.0 L393.1,725.5 L394.6,725.0 L396.1,724.5 L397.6,724.0 L399.1,723.5 L400.6,723.0 L402.1,722.6 L403.6,722.1 L405.1,721.7 L406.6,721.2 L408.1,720.8 L409.6,720.4 L411.1,720.0 L412.6,719.6 L414.1,719.2 L415.6,718.8 L417.1,718.4 L418.6,718.0 L420.1,717.7 L421.6,717.3 L423.1,716.9 L424.6,716.6 L426.1,716.2 L427.6,715.9 L429.1,715.5 L430.6,715.2 L432.1,714.9 L433.6,714.5 L435.1,714.2 L436.6,713.9 L438.1,713.6 L439.6,713.3 L441.1,713.0 L442.6,712.7 L444.1,712.4 L445.6,712.1 L447.1,711.8 L448.6,711.5 L450.1,711.3 L451.6,711.0 L453.1,710.7 L454.6,710.5 L456.1,710.2 L457.6,709.9 L459.1,709.7 L460.6,709.5 L462.1,709.2 L463.6,709.0 L465.1,708.7 L466.6,708.5 L468.1,708.3 L469.6,708.1 L471.1,707.8 L472.6,707.6 L474.1,707.4 L475.6,707.2 L477.1,707.0 L478.6,706.8 L480.1,706.6 L481.6,706.4 L483.1,706.2 L484.6,706.0 L486.1,705.8 L487.6,705.7 L489.1,705.5 L490.6,705.3 L492.1,705.1 L493.6,705.0 L495.1,704.8 L496.6,704.7 L498.1,704.5 L499.6,704.3 L501.1,704.2 L502.6,704.1 L504.1,703.9 L505.6,703.8 L507.1,703.6 L508.6,703.5 L510.1,703.4 L511.6,703.2 L513.1,703.1 L514.6,703.0 L516.1,702.8 L517.6,702.7 L519.1,702.6 L520.6,702.5 L522.1,702.4 L523.6,702.3 L525.1,702.2 L526.6,702.1 L528.1,702.0 L529.6,701.9 L531.1,701.8 L532.6,701.7 L534.1,701.6 L535.6,701.5 L537.1,701.4 L538.6,701.3 L540.1,701.2 L541.6,701.1 L543.1,701.1 L544.6,701.0 L546.1,700.9 L547.6,700.8 L549.1,700.7 L550.6,700.7 L552.1,700.6 L553.6,700.5 L555.1,700.5 L556.6,700.4 L558.1,700.3 L559.6,700.3 L561.1,700.2 L562.6,700.2 L564.1,700.1 L565.6,700.0 L567.1,700.0 L568.6,699.9 L570.1,699.9 L571.6,699.8 L573.1,699.8 L574.6,699.7 L576.1,699.7 L577.6,699.6 L579.1,699.6 L580.6,699.5 L582.1,699.5 L583.6,699.4 L585.1,699.4 L586.6,699.4 L588.1,699.3 L589.6,699.3 L591.1,699.2 L592.6,699.2 L594.1,699.2 L595.6,699.1 L597.1,699.1 L598.6,699.1 L600.1,699.0 L601.6,699.0 L603.1,698.9 L604.6,698.9 L606.1,698.9 L607.6,698.8 L609.1,698.8 L610.6,698.8 L612.1,698.7 L613.6,698.7 L615.1,698.7 L616.6,698.6 L618.1,698.6 L619.6,698.6 L621.1,698.5 L622.6,698.5 L624.1,698.5 L625.6,698.4 L627.1,698.4 L628.6,698.4 L630.1,698.3 L631.6,698.3 L633.1,698.3 L634.6,698.2 L636.1,698.2 L637.6,698.1 L639.1,698.1 L640.6,698.1 L642.1,698.0 L643.6,698.0 L645.1,698.0 L646.6,697.9 L648.1,697.9 L649.6,697.8 L651.1,697.8 L652.6,697.7 L654.1,697.7 L655.6,697.6 L657.1,697.6 L659.1,697.5"/>
<path d="M94.6,711.7 L96.1,712.2 L97.6,712.7 L99.1,713.2 L100.6,713.7 L102.1,714.2 L103.6,714.7 L105.1,715.3 L106.6,715.8 L108.1,716.4 L109.6,717.0 L111.1,717.6 L112.6,718.2 L114.1,718.9 L115.6,719.6 L117.1,720.3 L118.6,721.0 L120.1,721.8 L121.6,722.5 L123.1,723.3 L124.6,724.2 L126.1,725.1 L127.6,726.0 L129.1,726.9 L130.6,727.9 L132.1,728.9 L133.6,729.9 L135.1,731.0 L136.6,732.1 L138.1,733.3 L139.6,734.5 L141.1,735.7 L142.6,737.0 L144.1,738.4 L145.6,739.7 L147.1,741.2 L148.6,742.6 L150.1,744.2 L151.6,745.7 L153.1,747.4 L154.6,749.0 L156.1,750.8 L157.6,752.6 L159.1,754.4 L160.6,756.3 L162.1,758.3 L163.6,760.3 L165.1,762.4 L166.6,764.5 L168.1,766.7 L169.6,768.9 L171.1,771.2 L172.6,773.5 L174.1,775.9 L175.6,778.3 L177.1,780.8 L178.6,783.2 L180.1,785.7 L181.6,788.3 L183.1,790.8 L184.6,793.4 L186.1,796.0 L187.6,798.6 L189.1,801.2 L190.6,803.8 L192.1,806.5 L193.6,809.1 L195.1,811.7 L196.6,814.3 L198.1,816.9 L199.6,819.5 L201.1,822.0 L202.6,824.5 L204.1,826.9 L205.6,829.2 L207.1,831.5 L208.6,833.7 L210.1,835.8 L211.6,837.8 L213.1,839.8 L214.6,841.6 L216.1,843.3 L217.6,844.8 L219.1,846.3 L220.6,847.6 L222.1,848.8 L223.6,849.8 L225.1,850.7 L226.6,851.5 L228.1,852.1 L229.6,852.6 L231.1,853.0 L232.6,853.3 L234.1,853.4 L235.6,853.5 L237.1,853.5 L238.6,853.4 L240.1,853.3 L241.6,853.1 L243.1,852.9 L244.6,852.5 L246.1,852.1 L247.6,851.6 L249.1,851.0 L250.6,850.3 L252.1,849.5 L253.6,848.5 L255.1,847.5 L256.6,846.3 L258.1,845.0 L259.6,843.7 L261.1,842.2 L262.6,840.6 L264.1,838.9 L265.6,837.2 L267.1,835.4 L268.6,833.6 L270.1,831.7 L271.6,829.7 L273.1,827.8 L274.6,825.8 L276.1,823.9 L277.6,821.9 L279.1,820.0 L280.6,818.0 L282.1,816.1 L283.6,814.2 L285.1,812.2 L286.6,810.3 L288.1,808.4 L289.6,806.6 L291.1,804.7 L292.6,802.9 L294.1,801.0 L295.6,799.2 L297.1,797.4 L298.6,795.7 L300.1,793.9 L301.6,792.2 L303.1,790.5 L304.6,788.8 L306.1,787.1 L307.6,785.5 L309.1,783.8 L310.6,782.2 L312.1,780.6 L313.6,779.1 L315.1,777.5 L316.6,776.0 L318.1,774.5 L319.6,773.0 L321.1,771.6 L322.6,770.1 L324.1,768.7 L325.6,767.4 L327.1,766.0 L328.6,764.7 L330.1,763.4 L331.6,762.1 L333.1,760.8 L334.6,759.6 L336.1,758.4 L337.6,757.2 L339.1,756.1 L340.6,754.9 L342.1,753.8 L343.6,752.7 L345.1,751.6 L346.6,750.6 L348.1,749.5 L349.6,748.5 L351.1,747.5 L352.6,746.6 L354.1,745.6 L355.6,744.7 L357.1,743.8 L358.6,742.9 L360.1,742.0 L361.6,741.2 L363.1,740.3 L364.6,739.5 L366.1,738.7 L367.6,737.9 L369.1,737.2 L370.6,736.4 L372.1,735.7 L373.6,735.0 L375.1,734.3 L376.6,733.6 L378.1,732.9 L379.6,732.2 L381.1,731.6 L382.6,731.0 L384.1,730.4 L385.6,729.7 L387.1,729.2 L388.6,728.6 L390.1,728.0 L391.6,727.5 L393.1,726.9 L394.6,726.4 L396.1,725.9 L397.6,725.4 L399.1,724.9 L400.6,724.4 L402.1,723.9 L403.6,723.5 L405.1,723.0 L406.6,722.6 L408.1,722.1 L409.6,721.7 L411.1,721.3 L412.6,720.9 L414.1,720.4 L415.6,720.0 L417.1,719.7 L418.6,719.3 L420.1,718.9 L421.6,718.5 L423.1,718.2 L424.6,717.8 L426.1,717.4 L427.6,717.1 L429.1,716.7 L430.6,716.4 L432.1,716.1 L433.6,715.7 L435.1,715.4 L436.6,715.1 L438.1,714.8 L439.6,714.4 L441.1,714.1 L442.6,713.8 L444.1,713.5 L445.6,713.2 L447.1,712.9 L448.6,712.6 L450.1,712.4 L451.6,712.1 L453.1,711.8 L454.6,711.5 L456.1,711.3 L457.6,711.0 L459.1,710.7 L460.6,710.5 L462.1,710.2 L463.6,710.0 L465.1,709.7 L466.6,709.5 L468.1,709.3 L469.6,709.0 L471.1,708.8 L472.6,708.6 L474.1,708.4 L475.6,708.2 L477.1,707.9 L478.6,707.7 L480.1,707.5 L481.6,707.3 L483.1,707.1 L484.6,706.9 L486.1,706.7 L487.6,706.5 L489.1,706.4 L490.6,706.2 L492.1,706.0 L493.6,705.8 L495.1,705.7 L496.6,705.5 L498.1,705.3 L499.6,705.2 L501.1,705.0 L502.6,704.8 L504.1,704.7 L505.6,704.5 L507.1,704.4 L508.6,704.2 L510.1,704.1 L511.6,704.0 L513.1,703.8 L514.6,703.7 L516.1,703.6 L517.6,703.4 L519.1,703.3 L520.6,703.2 L522.1,703.1 L523.6,702.9 L525.1,702.8 L526.6,702.7 L528.1,702.6 L529.6,702.5 L531.1,702.4 L532.6,702.3 L534.1,702.2 L535.6,702.1 L537.1,702.0 L538.6,701.9 L540.1,701.8 L541.6,701.7 L543.1,701.6 L544.6,701.5 L546.1,701.4 L547.6,701.4 L549.1,701.3 L550.6,701.2 L552.1,701.1 L553.6,701.0 L555.1,701.0 L556.6,700.9 L558.1,700.8 L559.6,700.8 L561.1,700.7 L562.6,700.6 L564.1,700.6 L565.6,700.5 L567.1,700.4 L568.6,700.4 L570.1,700.3 L571.6,700.3 L573.1,700.2 L574.6,700.2 L576.1,700.1 L577.6,700.0 L579.1,700.0 L580.6,699.9 L582.1,699.9 L583.6,699.8 L585.1,699.8 L586.6,699.8 L588.1,699.7 L589.6,699.7 L591.1,699.6 L592.6,699.6 L594.1,699.5 L595.6,699.5 L597.1,699.5 L598.6,699.4 L600.1,699.4 L601.6,699.3 L603.1,699.3 L604.6,699.3 L606.1,699.2 L607.6,699.2 L609.1,699.2 L610.6,699.1 L612.1,699.1 L613.6,699.1 L615.1,699.0 L616.6,699.0 L618.1,699.0 L619.6,698.9 L621.1,698.9 L622.6,698.9 L624.1,698.8 L625.6,698.8 L627.1,698.8 L628.6,698.7 L630.1,698.7 L631.6,698.7 L633.1,698.6 L634.6,698.6 L636.1,698.6 L637.6,698.5 L639.1,698.5 L640.6,698.5 L642.1,698.4 L643.6,698.4 L645.1,698.4 L646.6,698.3 L648.1,698.3 L649.6,698.2 L651.1,698.2 L652.6,698.2 L654.1,698.1 L655.6,698.1 L657.1,698.0 L659.1,698.0"/>
<path d="M94.6,711.7 L96.1,712.2 L97.6,712.7 L99.1,713.2 L100.6,713.7 L102.1,714.2 L103.6,714.7 L105.1,715.3 L106.6,715.8 L108.1,716.4 L109.6,717.0 L111.1,717.6 L112.6,718.2 L114.1,718.9 L115.6,719.6 L117.1,720.3 L118.6,721.0 L120.1,721.8 L121.6,722.5 L123.1,723.3 L124.6,724.2 L126.1,725.1 L127.6,726.0 L129.1,726.9 L130.6,727.9 L132.1,728.9 L133.6,729.9 L135.1,731.0 L136.6,732.1 L138.1,733.3 L139.6,734.5 L141.1,735.7 L142.6,737.0 L144.1,738.4 L145.6,739.7 L147.1,741.2 L148.6,742.6 L150.1,744.2 L151.6,745.7 L153.1,747.4 L154.6,749.0 L156.1,750.8 L157.6,752.6 L159.1,754.4 L160.6,756.3 L162.1,758.3 L163.6,760.3 L165.1,762.4 L166.6,764.6 L168.1,766.8 L169.6,769.0 L171.1,771.3 L172.6,773.7 L174.1,776.1 L175.6,778.5 L177.1,781.0 L178.6,783.6 L180.1,786.2 L181.6,788.8 L183.1,791.4 L184.6,794.1 L186.1,796.9 L187.6,799.6 L189.1,802.4 L190.6,805.2 L192.1,808.1 L193.6,810.9 L195.1,813.8 L196.6,816.7 L198.1,819.6 L199.6,822.5 L201.1,825.5 L202.6,828.3 L204.1,831.2 L205.6,834.0 L207.1,836.8 L208.6,839.5 L210.1,842.1 L211.6,844.7 L213.1,847.1 L214.6,849.5 L216.1,851.7 L217.6,853.8 L219.1,855.8 L220.6,857.6 L222.1,859.2 L223.6,860.6 L225.1,861.9 L226.6,863.0 L228.1,863.9 L229.6,864.6 L231.1,865.1 L232.6,865.5 L234.1,865.7 L235.6,865.7 L237.1,865.5 L238.6,865.3 L240.1,864.8 L241.6,864.3 L243.1,863.6 L244.6,862.7 L246.1,861.8 L247.6,860.7 L249.1,859.5 L250.6,858.3 L252.1,856.9 L253.6,855.4 L255.1,853.9 L256.6,852.3 L258.1,850.6 L259.6,848.9 L261.1,847.1 L262.6,845.2 L264.1,843.3 L265.6,841.4 L267.1,839.5 L268.6,837.5 L270.1,835.6 L271.6,833.6 L273.1,831.6 L274.6,829.7 L276.1,827.7 L277.6,825.8 L279.1,823.8 L280.6,821.9 L282.1,820.0 L283.6,818.2 L285.1,816.3 L286.6,814.5 L288.1,812.6 L289.6,810.8 L291.1,809.0 L292.6,807.3 L294.1,805.5 L295.6,803.8 L297.1,802.0 L298.6,800.3 L300.1,798.6 L301.6,796.9 L303.1,795.3 L304.6,793.6 L306.1,792.0 L307.6,790.4 L309.1,788.8 L310.6,787.2 L312.1,785.7 L313.6,784.2 L315.1,782.6 L316.6,781.1 L318.1,779.7 L319.6,778.2 L321.1,776.8 L322.6,775.4 L324.1,774.0 L325.6,772.6 L327.1,771.2 L328.6,769.9 L330.1,768.6 L331.6,767.3 L333.1,766.0 L334.6,764.8 L336.1,763.5 L337.6,762.3 L339.1,761.2 L340.6,760.0 L342.1,758.9 L343.6,757.7 L345.1,756.6 L346.6,755.6 L348.1,754.5 L349.6,753.5 L351.1,752.5 L352.6,751.5 L354.1,750.5 L355.6,749.5 L357.1,748.6 L358.6,747.6 L360.1,746.7 L361.6,745.8 L363.1,745.0 L364.6,744.1 L366.1,743.3 L367.6,742.4 L369.1,741.6 L370.6,740.9 L372.1,740.1 L373.6,739.3 L375.1,738.6 L376.6,737.8 L378.1,737.1 L379.6,736.4 L381.1,735.8 L382.6,735.1 L384.1,734.4 L385.6,733.8 L387.1,733.1 L388.6,732.5 L390.1,731.9 L391.6,731.3 L393.1,730.8 L394.6,730.2 L396.1,729.6 L397.6,729.1 L399.1,728.6 L400.6,728.0 L402.1,727.5 L403.6,727.0 L405.1,726.5 L406.6,726.0 L408.1,725.6 L409.6,725.1 L411.1,724.7 L412.6,724.2 L414.1,723.8 L415.6,723.3 L417.1,722.9 L418.6,722.5 L420.1,722.1 L421.6,721.7 L423.1,721.3 L424.6,720.9 L426.1,720.6 L427.6,720.2 L429.1,719.8 L430.6,719.5 L432.1,719.1 L433.6,718.8 L435.1,718.4 L436.6,718.1 L438.1,717.7 L439.6,717.4 L441.1,717.1 L442.6,716.8 L444.1,716.4 L445.6,716.1 L447.1,715.8 L448.6,715.5 L450.1,715.2 L451.6,714.9 L453.1,714.6 L454.6,714.3 L456.1,714.0 L457.6,713.8 L459.1,713.5 L460.6,713.2 L462.1,712.9 L463.6,712.7 L465.1,712.4 L466.6,712.2 L468.1,711.9 L469.6,711.7 L471.1,711.4 L472.6,711.2 L474.1,710.9 L475.6,710.7 L477.1,710.4 L478.6,710.2 L480.1,710.0 L481.6,709.8 L483.1,709.5 L484.6,709.3 L486.1,709.1 L487.6,708.9 L489.1,708.7 L490.6,708.5 L492.1,708.3 L493.6,708.1 L495.1,707.9 L496.6,707.7 L498.1,707.5 L499.6,707.3 L501.1,707.2 L502.6,707.0 L504.1,706.8 L505.6,706.6 L507.1,706.5 L508.6,706.3 L510.1,706.1 L511.6,706.0 L513.1,705.8 L514.6,705.7 L516.1,705.5 L517.6,705.4 L519.1,705.2 L520.6,705.1 L522.1,704.9 L523.6,704.8 L525.1,704.7 L526.6,704.5 L528.1,704.4 L529.6,704.3 L531.1,704.1 L532.6,704.0 L534.1,703.9 L535.6,703.8 L537.1,703.6 L538.6,703.5 L540.1,703.4 L541.6,703.3 L543.1,703.2 L544.6,703.1 L546.1,703.0 L547.6,702.9 L549.1,702.8 L550.6,702.7 L552.1,702.6 L553.6,702.5 L555.1,702.4 L556.6,702.3 L558.1,702.2 L559.6,702.1 L561.1,702.1 L562.6,702.0 L564.1,701.9 L565.6,701.8 L567.1,701.7 L568.6,701.7 L570.1,701.6 L571.6,701.5 L573.1,701.4 L574.6,701.4 L576.1,701.3 L577.6,701.2 L579.1,701.2 L580.6,701.1 L582.1,701.0 L583.6,701.0 L585.1,700.9 L586.6,700.9 L588.1,700.8 L589.6,700.7 L591.1,700.7 L592.6,700.6 L594.1,700.6 L595.6,700.5 L597.1,700.5 L598.6,700.4 L600.1,700.4 L601.6,700.3 L603.1,700.3 L604.6,700.3 L606.1,700.2 L607.6,700.2 L609.1,700.1 L610.6,700.1 L612.1,700.0 L613.6,700.0 L615.1,700.0 L616.6,699.9 L618.1,699.9 L619.6,699.8 L621.1,699.8 L622.6,699.8 L624.1,699.7 L625.6,699.7 L627.1,699.7 L628.6,699.6 L630.1,699.6 L631.6,699.6 L633.1,699.5 L634.6,699.5 L636.1,699.5 L637.6,699.4 L639.1,699.4 L640.6,699.4 L642.1,699.3 L643.6,699.3 L645.1,699.3 L646.6,699.2 L648.1,699.2 L649.6,699.2 L651.1,699.2 L652.6,699.1 L654.1,699.1 L655.6,699.1 L657.1,699.0 L659.1,699.0"/>
<path d="M94.6,711.7 L96.1,712.2 L97.6,712.7 L99.1,713.2 L100.6,713.7 L102.1,714.2 L103.6,714.7 L105.1,715.3 L106.6,715.8 L108.1,716.4 L109.6,717.0 L111.1,717.6 L112.6,718.2 L114.1,718.9 L115.6,719.6 L117.1,720.3 L118.6,721.0 L120.1,721.8 L121.6,722.5 L123.1,723.3 L124.6,724.2 L126.1,725.1 L127.6,726.0 L129.1,726.9 L130.6,727.9 L132.1,728.9 L133.6,729.9 L135.1,731.0 L136.6,732.1 L138.1,733.3 L139.6,734.5 L141.1,735.7 L142.6,737.0 L144.1,738.4 L145.6,739.7 L147.1,741.2 L148.6,742.6 L150.1,744.2 L151.6,745.7 L153.1,747.4 L154.6,749.0 L156.1,750.8 L157.6,752.6 L159.1,754.4 L160.6,756.3 L162.1,758.3 L163.6,760.3 L165.1,762.4 L166.6,764.5 L168.1,766.7 L169.6,769.0 L171.1,771.2 L172.6,773.6 L174.1,776.0 L175.6,778.4 L177.1,780.9 L178.6,783.4 L180.1,785.9 L181.6,788.5 L183.1,791.1 L184.6,793.7 L186.1,796.3 L187.6,799.0 L189.1,801.6 L190.6,804.3 L192.1,807.0 L193.6,809.7 L195.1,812.5 L196.6,815.2 L198.1,817.9 L199.6,820.6 L201.1,823.2 L202.6,825.8 L204.1,828.4 L205.6,830.9 L207.1,833.4 L208.6,835.8 L210.1,838.1 L211.6,840.3 L213.1,842.4 L214.6,844.4 L216.1,846.3 L217.6,848.0 L219.1,849.7 L220.6,851.2 L222.1,852.5 L223.6,853.7 L225.1,854.7 L226.6,855.6 L228.1,856.3 L229.6,856.9 L231.1,857.3 L232.6,857.6 L234.1,857.8 L235.6,857.8 L237.1,857.8 L238.6,857.8 L240.1,857.6 L241.6,857.4 L243.1,857.1 L244.6,856.8 L246.1,856.4 L247.6,855.9 L249.1,855.3 L250.6,854.6 L252.1,853.8 L253.6,853.0 L255.1,852.1 L256.6,851.1 L258.1,849.9 L259.6,848.8 L261.1,847.5 L262.6,846.1 L264.1,844.7 L265.6,843.2 L267.1,841.7 L268.6,840.1 L270.1,838.5 L271.6,836.8 L273.1,835.1 L274.6,833.4 L276.1,831.7 L277.6,829.9 L279.1,828.1 L280.6,826.4 L282.1,824.6 L283.6,822.9 L285.1,821.2 L286.6,819.5 L288.1,817.8 L289.6,816.1 L291.1,814.4 L292.6,812.7 L294.1,811.0 L295.6,809.4 L297.1,807.7 L298.6,806.1 L300.1,804.5 L301.6,802.9 L303.1,801.3 L304.6,799.7 L306.1,798.2 L307.6,796.6 L309.1,795.1 L310.6,793.6 L312.1,792.1 L313.6,790.6 L315.1,789.2 L316.6,787.7 L318.1,786.3 L319.6,784.8 L321.1,783.4 L322.6,782.1 L324.1,780.7 L325.6,779.3 L327.1,778.0 L328.6,776.7 L330.1,775.4 L331.6,774.1 L333.1,772.8 L334.6,771.6 L336.1,770.3 L337.6,769.1 L339.1,767.9 L340.6,766.7 L342.1,765.6 L343.6,764.4 L345.1,763.3 L346.6,762.2 L348.1,761.1 L349.6,760.1 L351.1,759.0 L352.6,758.0 L354.1,757.0 L355.6,756.0 L357.1,755.0 L358.6,754.0 L360.1,753.1 L361.6,752.2 L363.1,751.3 L364.6,750.4 L366.1,749.5 L367.6,748.6 L369.1,747.8 L370.6,746.9 L372.1,746.1 L373.6,745.3 L375.1,744.5 L376.6,743.7 L378.1,743.0 L379.6,742.2 L381.1,741.5 L382.6,740.8 L384.1,740.1 L385.6,739.4 L387.1,738.7 L388.6,738.0 L390.1,737.4 L391.6,736.7 L393.1,736.1 L394.6,735.5 L396.1,734.9 L397.6,734.3 L399.1,733.7 L400.6,733.1 L402.1,732.6 L403.6,732.0 L405.1,731.5 L406.6,731.0 L408.1,730.4 L409.6,729.9 L411.1,729.4 L412.6,728.9 L414.1,728.5 L415.6,728.0 L417.1,727.5 L418.6,727.1 L420.1,726.6 L421.6,726.2 L423.1,725.7 L424.6,725.3 L426.1,724.9 L427.6,724.5 L429.1,724.1 L430.6,723.7 L432.1,723.3 L433.6,722.9 L435.1,722.6 L436.6,722.2 L438.1,721.8 L439.6,721.5 L441.1,721.1 L442.6,720.8 L444.1,720.5 L445.6,720.1 L447.1,719.8 L448.6,719.5 L450.1,719.1 L451.6,718.8 L453.1,718.5 L454.6,718.2 L456.1,717.9 L457.6,717.6 L459.1,717.3 L460.6,717.0 L462.1,716.7 L463.6,716.4 L465.1,716.2 L466.6,715.9 L468.1,715.6 L469.6,715.3 L471.1,715.1 L472.6,714.8 L474.1,714.5 L475.6,714.3 L477.1,714.0 L478.6,713.8 L480.1,713.5 L481.6,713.3 L483.1,713.0 L484.6,712.8 L486.1,712.5 L487.6,712.3 L489.1,712.1 L490.6,711.8 L492.1,711.6 L493.6,711.4 L495.1,711.2 L496.6,711.0 L498.1,710.8 L499.6,710.5 L501.1,710.3 L502.6,710.1 L504.1,709.9 L505.6,709.7 L507.1,709.5 L508.6,709.3 L510.1,709.2 L511.6,709.0 L513.1,708.8 L514.6,708.6 L516.1,708.4 L517.6,708.2 L519.1,708.1 L520.6,707.9 L522.1,707.7 L523.6,707.6 L525.1,707.4 L526.6,707.2 L528.1,707.1 L529.6,706.9 L531.1,706.8 L532.6,706.6 L534.1,706.5 L535.6,706.3 L537.1,706.2 L538.6,706.1 L540.1,705.9 L541.6,705.8 L543.1,705.6 L544.6,705.5 L546.1,705.4 L547.6,705.3 L549.1,705.1 L550.6,705.0 L552.1,704.9 L553.6,704.8 L555.1,704.6 L556.6,704.5 L558.1,704.4 L559.6,704.3 L561.1,704.2 L562.6,704.1 L564.1,704.0 L565.6,703.9 L567.1,703.8 L568.6,703.7 L570.1,703.6 L571.6,703.5 L573.1,703.4 L574.6,703.3 L576.1,703.2 L577.6,703.1 L579.1,703.0 L580.6,703.0 L582.1,702.9 L583.6,702.8 L585.1,702.7 L586.6,702.6 L588.1,702.6 L589.6,702.5 L591.1,702.4 L592.6,702.3 L594.1,702.3 L595.6,702.2 L597.1,702.1 L598.6,702.1 L600.1,702.0 L601.6,701.9 L603.1,701.9 L604.6,701.8 L606.1,701.7 L607.6,701.7 L609.1,701.6 L610.6,701.6 L612.1,701.5 L613.6,701.5 L615.1,701.4 L616.6,701.3 L618.1,701.3 L619.6,701.2 L621.1,701.2 L622.6,701.1 L624.1,701.1 L625.6,701.0 L627.1,701.0 L628.6,701.0 L630.1,700.9 L631.6,700.9 L633.1,700.8 L634.6,700.8 L636.1,700.7 L637.6,700.7 L639.1,700.7 L640.6,700.6 L642.1,700.6 L643.6,700.6 L645.1,700.5 L646.6,700.5 L648.1,700.4 L649.6,700.4 L651.1,700.4 L652.6,700.3 L654.1,700.3 L655.6,700.3 L657.1,700.2 L659.1,700.2"/>
<path d="M94.6,711.7 L96.1,712.2 L97.6,712.7 L99.1,713.2 L100.6,713.7 L102.1,714.2 L103.6,714.7 L105.1,715.3 L106.6,715.8 L108.1,716.4 L109.6,717.0 L111.1,717.6 L112.6,718.2 L114.1,718.9 L115.6,719.6 L117.1,720.3 L118.6,721.0 L120.1,721.8 L121.6,722.5 L123.1,723.3 L124.6,724.2 L126.1,725.1 L127.6,726.0 L129.1,726.9 L130.6,727.9 L132.1,728.9 L133.6,729.9 L135.1,731.0 L136.6,732.1 L138.1,733.3 L139.6,734.5 L141.1,735.7 L142.6,737.0 L144.1,738.4 L145.6,739.7 L147.1,741.2 L148.6,742.6 L150.1,744.2 L151.6,745.7 L153.1,747.4 L154.6,749.1 L156.1,750.8 L157.6,752.6 L159.1,754.4 L160.6,756.4 L162.1,758.3 L163.6,760.4 L165.1,762.5 L166.6,764.6 L168.1,766.8 L169.6,769.1 L171.1,771.4 L172.6,773.8 L174.1,776.3 L175.6,778.8 L177.1,781.3 L178.6,783.9 L180.1,786.5 L181.6,789.2 L183.1,792.0 L184.6,794.8 L186.1,797.6 L187.6,800.5 L189.1,803.5 L190.6,806.4 L192.1,809.5 L193.6,812.6 L195.1,815.7 L196.6,818.9 L198.1,822.1 L199.6,825.3 L201.1,828.6 L202.6,831.8 L204.1,835.1 L205.6,838.3 L207.1,841.5 L208.6,844.7 L210.1,847.8 L211.6,850.8 L213.1,853.7 L214.6,856.5 L216.1,859.2 L217.6,861.8 L219.1,864.2 L220.6,866.4 L222.1,868.5 L223.6,870.3 L225.1,871.9 L226.6,873.2 L228.1,874.4 L229.6,875.3 L231.1,876.0 L232.6,876.4 L234.1,876.6 L235.6,876.6 L237.1,876.3 L238.6,875.9 L240.1,875.3 L241.6,874.5 L243.1,873.5 L244.6,872.3 L246.1,871.0 L247.6,869.6 L249.1,868.1 L250.6,866.5 L252.1,864.9 L253.6,863.1 L255.1,861.4 L256.6,859.6 L258.1,857.8 L259.6,856.0 L261.1,854.2 L262.6,852.4 L264.1,850.6 L265.6,848.9 L267.1,847.1 L268.6,845.3 L270.1,843.6 L271.6,841.8 L273.1,840.1 L274.6,838.3 L276.1,836.6 L277.6,834.9 L279.1,833.2 L280.6,831.5 L282.1,829.9 L283.6,828.2 L285.1,826.5 L286.6,824.9 L288.1,823.3 L289.6,821.7 L291.1,820.1 L292.6,818.5 L294.1,817.0 L295.6,815.4 L297.1,813.9 L298.6,812.4 L300.1,810.8 L301.6,809.3 L303.1,807.8 L304.6,806.4 L306.1,804.9 L307.6,803.4 L309.1,802.0 L310.6,800.5 L312.1,799.1 L313.6,797.7 L315.1,796.3 L316.6,794.9 L318.1,793.5 L319.6,792.2 L321.1,790.8 L322.6,789.5 L324.1,788.1 L325.6,786.8 L327.1,785.5 L328.6,784.2 L330.1,783.0 L331.6,781.7 L333.1,780.5 L334.6,779.2 L336.1,778.0 L337.6,776.8 L339.1,775.6 L340.6,774.4 L342.1,773.3 L343.6,772.1 L345.1,771.0 L346.6,769.9 L348.1,768.8 L349.6,767.7 L351.1,766.6 L352.6,765.6 L354.1,764.6 L355.6,763.5 L357.1,762.5 L358.6,761.5 L360.1,760.6 L361.6,759.6 L363.1,758.7 L364.6,757.7 L366.1,756.8 L367.6,755.9 L369.1,755.0 L370.6,754.2 L372.1,753.3 L373.6,752.5 L375.1,751.6 L376.6,750.8 L378.1,750.0 L379.6,749.2 L381.1,748.5 L382.6,747.7 L384.1,746.9 L385.6,746.2 L387.1,745.5 L388.6,744.8 L390.1,744.0 L391.6,743.4 L393.1,742.7 L394.6,742.0 L396.1,741.3 L397.6,740.7 L399.1,740.1 L400.6,739.4 L402.1,738.8 L403.6,738.2 L405.1,737.6 L406.6,737.1 L408.1,736.5 L409.6,735.9 L411.1,735.4 L412.6,734.8 L414.1,734.3 L415.6,733.8 L417.1,733.3 L418.6,732.8 L420.1,732.3 L421.6,731.8 L423.1,731.3 L424.6,730.8 L426.1,730.4 L427.6,729.9 L429.1,729.5 L430.6,729.0 L432.1,728.6 L433.6,728.2 L435.1,727.7 L436.6,727.3 L438.1,726.9 L439.6,726.5 L441.1,726.1 L442.6,725.8 L444.1,725.4 L445.6,725.0 L447.1,724.6 L448.6,724.3 L450.1,723.9 L451.6,723.6 L453.1,723.2 L454.6,722.9 L456.1,722.6 L457.6,722.3 L459.1,721.9 L460.6,721.6 L462.1,721.3 L463.6,721.0 L465.1,720.7 L466.6,720.4 L468.1,720.1 L469.6,719.8 L471.1,719.5 L472.6,719.2 L474.1,718.9 L475.6,718.7 L477.1,718.4 L478.6,718.1 L480.1,717.8 L481.6,717.6 L483.1,717.3 L484.6,717.0 L486.1,716.8 L487.6,716.5 L489.1,716.3 L490.6,716.0 L492.1,715.8 L493.6,715.5 L495.1,715.3 L496.6,715.0 L498.1,714.8 L499.6,714.6 L501.1,714.3 L502.6,714.1 L504.1,713.9 L505.6,713.7 L507.1,713.4 L508.6,713.2 L510.1,713.0 L511.6,712.8 L513.1,712.6 L514.6,712.4 L516.1,712.2 L517.6,712.0 L519.1,711.8 L520.6,711.6 L522.1,711.4 L523.6,711.2 L525.1,711.0 L526.6,710.8 L528.1,710.6 L529.6,710.5 L531.1,710.3 L532.6,710.1 L534.1,709.9 L535.6,709.8 L537.1,709.6 L538.6,709.4 L540.1,709.2 L541.6,709.1 L543.1,708.9 L544.6,708.8 L546.1,708.6 L547.6,708.5 L549.1,708.3 L550.6,708.2 L552.1,708.0 L553.6,707.9 L555.1,707.7 L556.6,707.6 L558.1,707.4 L559.6,707.3 L561.1,707.2 L562.6,707.0 L564.1,706.9 L565.6,706.8 L567.1,706.6 L568.6,706.5 L570.1,706.4 L571.6,706.3 L573.1,706.1 L574.6,706.0 L576.1,705.9 L577.6,705.8 L579.1,705.7 L580.6,705.6 L582.1,705.5 L583.6,705.4 L585.1,705.2 L586.6,705.1 L588.1,705.0 L589.6,704.9 L591.1,704.8 L592.6,704.7 L594.1,704.6 L595.6,704.6 L597.1,704.5 L598.6,704.4 L600.1,704.3 L601.6,704.2 L603.1,704.1 L604.6,704.0 L606.1,703.9 L607.6,703.9 L609.1,703.8 L610.6,703.7 L612.1,703.6 L613.6,703.5 L615.1,703.5 L616.6,703.4 L618.1,703.3 L619.6,703.2 L621.1,703.2 L622.6,703.1 L624.1,703.0 L625.6,703.0 L627.1,702.9 L628.6,702.8 L630.1,702.8 L631.6,702.7 L633.1,702.7 L634.6,702.6 L636.1,702.5 L637.6,702.5 L639.1,702.4 L640.6,702.4 L642.1,702.3 L643.6,702.3 L645.1,702.2 L646.6,702.2 L648.1,702.1 L649.6,702.1 L651.1,702.0 L652.6,702.0 L654.1,701.9 L655.6,701.9 L657.1,701.8 L659.1,701.8"/>
<path d="M94.6,711.7 L96.1,712.2 L97.6,712.7 L99.1,713.2 L100.6,713.7 L102.1,714.2 L103.6,714.7 L105.1,715.3 L106.6,715.8 L108.1,716.4 L109.6,717.0 L111.1,717.6 L112.6,718.2 L114.1,718.9 L115.6,719.6 L117.1,720.3 L118.6,721.0 L120.1,721.8 L121.6,722.5 L123.1,723.3 L124.6,724.2 L126.1,725.1 L127.6,726.0 L129.1,726.9 L130.6,727.9 L132.1,728.9 L133.6,729.9 L135.1,731.0 L136.6,732.1 L138.1,733.3 L139.6,734.5 L141.1,735.7 L142.6,737.0 L144.1,738.4 L145.6,739.7 L147.1,741.2 L148.6,742.6 L150.1,744.2 L151.6,745.7 L153.1,747.4 L154.6,749.0 L156.1,750.8 L157.6,752.6 L159.1,754.4 L160.6,756.3 L162.1,758.3 L163.6,760.3 L165.1,762.4 L166.6,764.5 L168.1,766.7 L169.6,769.0 L171.1,771.3 L172.6,773.6 L174.1,776.0 L175.6,778.5 L177.1,780.9 L178.6,783.5 L180.1,786.0 L181.6,788.6 L183.1,791.2 L184.6,793.9 L186.1,796.6 L187.6,799.3 L189.1,802.0 L190.6,804.7 L192.1,807.5 L193.6,810.3 L195.1,813.1 L196.6,815.9 L198.1,818.7 L199.6,821.4 L201.1,824.2 L202.6,827.0 L204.1,829.7 L205.6,832.3 L207.1,834.9 L208.6,837.4 L210.1,839.9 L211.6,842.2 L213.1,844.5 L214.6,846.7 L216.1,848.7 L217.6,850.6 L219.1,852.4 L220.6,854.0 L222.1,855.5 L223.6,856.8 L225.1,857.9 L226.6,858.9 L228.1,859.7 L229.6,860.3 L231.1,860.8 L232.6,861.1 L234.1,861.3 L235.6,861.3 L237.1,861.4 L238.6,861.3 L240.1,861.3 L241.6,861.1 L243.1,860.9 L244.6,860.7 L246.1,860.4 L247.6,860.0 L249.1,859.6 L250.6,859.2 L252.1,858.7 L253.6,858.1 L255.1,857.5 L256.6,856.8 L258.1,856.1 L259.6,855.3 L261.1,854.5 L262.6,853.7 L264.1,852.8 L265.6,851.8 L267.1,850.9 L268.6,849.8 L270.1,848.8 L271.6,847.7 L273.1,846.5 L274.6,845.4 L276.1,844.2 L277.6,843.0 L279.1,841.7 L280.6,840.5 L282.1,839.2 L283.6,837.9 L285.1,836.6 L286.6,835.3 L288.1,833.9 L289.6,832.6 L291.1,831.3 L292.6,830.0 L294.1,828.6 L295.6,827.3 L297.1,826.0 L298.6,824.7 L300.1,823.4 L301.6,822.1 L303.1,820.8 L304.6,819.5 L306.1,818.2 L307.6,816.9 L309.1,815.7 L310.6,814.4 L312.1,813.1 L313.6,811.9 L315.1,810.7 L316.6,809.4 L318.1,808.2 L319.6,807.0 L321.1,805.8 L322.6,804.6 L324.1,803.4 L325.6,802.2 L327.1,801.0 L328.6,799.8 L330.1,798.7 L331.6,797.5 L333.1,796.4 L334.6,795.2 L336.1,794.1 L337.6,793.0 L339.1,791.9 L340.6,790.8 L342.1,789.7 L343.6,788.6 L345.1,787.5 L346.6,786.4 L348.1,785.4 L349.6,784.3 L351.1,783.3 L352.6,782.2 L354.1,781.2 L355.6,780.2 L357.1,779.2 L358.6,778.2 L360.1,777.2 L361.6,776.3 L363.1,775.3 L364.6,774.3 L366.1,773.4 L367.6,772.5 L369.1,771.5 L370.6,770.6 L372.1,769.7 L373.6,768.8 L375.1,768.0 L376.6,767.1 L378.1,766.2 L379.6,765.4 L381.1,764.6 L382.6,763.7 L384.1,762.9 L385.6,762.1 L387.1,761.3 L388.6,760.5 L390.1,759.8 L391.6,759.0 L393.1,758.2 L394.6,757.5 L396.1,756.8 L397.6,756.0 L399.1,755.3 L400.6,754.6 L402.1,753.9 L403.6,753.2 L405.1,752.6 L406.6,751.9 L408.1,751.2 L409.6,750.6 L411.1,749.9 L412.6,749.3 L414.1,748.7 L415.6,748.1 L417.1,747.5 L418.6,746.9 L420.1,746.3 L421.6,745.7 L423.1,745.1 L424.6,744.5 L426.1,744.0 L427.6,743.4 L429.1,742.9 L430.6,742.4 L432.1,741.8 L433.6,741.3 L435.1,740.8 L436.6,740.3 L438.1,739.8 L439.6,739.3 L441.1,738.8 L442.6,738.3 L444.1,737.9 L445.6,737.4 L447.1,737.0 L448.6,736.5 L450.1,736.1 L451.6,735.6 L453.1,735.2 L454.6,734.8 L456.1,734.4 L457.6,733.9 L459.1,733.5 L460.6,733.1 L462.1,732.7 L463.6,732.4 L465.1,732.0 L466.6,731.6 L468.1,731.2 L469.6,730.9 L471.1,730.5 L472.6,730.1 L474.1,729.8 L475.6,729.4 L477.1,729.1 L478.6,728.8 L480.1,728.4 L481.6,728.1 L483.1,727.8 L484.6,727.5 L486.1,727.2 L487.6,726.8 L489.1,726.5 L490.6,726.2 L492.1,725.9 L493.6,725.6 L495.1,725.4 L496.6,725.1 L498.1,724.8 L499.6,724.5 L501.1,724.2 L502.6,724.0 L504.1,723.7 L505.6,723.4 L507.1,723.2 L508.6,722.9 L510.1,722.7 L511.6,722.4 L513.1,722.2 L514.6,721.9 L516.1,721.7 L517.6,721.4 L519.1,721.2 L520.6,720.9 L522.1,720.7 L523.6,720.5 L525.1,720.2 L526.6,720.0 L528.1,719.8 L529.6,719.6 L531.1,719.3 L532.6,719.1 L534.1,718.9 L535.6,718.7 L537.1,718.5 L538.6,718.2 L540.1,718.0 L541.6,717.8 L543.1,717.6 L544.6,717.4 L546.1,717.2 L547.6,717.0 L549.1,716.8 L550.6,716.6 L552.1,716.4 L553.6,716.2 L555.1,716.0 L556.6,715.8 L558.1,715.7 L559.6,715.5 L561.1,715.3 L562.6,715.1 L564.1,714.9 L565.6,714.7 L567.1,714.6 L568.6,714.4 L570.1,714.2 L571.6,714.0 L573.1,713.9 L574.6,713.7 L576.1,713.5 L577.6,713.4 L579.1,713.2 L580.6,713.1 L582.1,712.9 L583.6,712.7 L585.1,712.6 L586.6,712.4 L588.1,712.3 L589.6,712.1 L591.1,712.0 L592.6,711.8 L594.1,711.7 L595.6,711.5 L597.1,711.4 L598.6,711.2 L600.1,711.1 L601.6,711.0 L603.1,710.8 L604.6,710.7 L606.1,710.6 L607.6,710.4 L609.1,710.3 L610.6,710.2 L612.1,710.0 L613.6,709.9 L615.1,709.8 L616.6,709.7 L618.1,709.5 L619.6,709.4 L621.1,709.3 L622.6,709.2 L624.1,709.1 L625.6,709.0 L627.1,708.8 L628.6,708.7 L630.1,708.6 L631.6,708.5 L633.1,708.4 L634.6,708.3 L636.1,708.2 L637.6,708.1 L639.1,708.0 L640.6,707.9 L642.1,707.8 L643.6,707.7 L645.1,707.6 L646.6,707.5 L648.1,707.4 L649.6,707.3 L651.1,707.2 L652.6,707.1 L654.1,707.0 L655.6,707.0 L657.1,706.9 L659.1,706.7"/>
</g>
<g fill="none" clip-path="url(#cpc)" stroke-linejoin="round">
<path d="M94.6,711.7 L96.1,712.2 L97.6,712.7 L99.1,713.2 L100.6,713.7 L102.1,714.2 L103.6,714.7 L105.1,715.3 L106.6,715.8 L108.1,716.4 L109.6,717.0 L111.1,717.6 L112.6,718.2 L114.1,718.9 L115.6,719.6 L117.1,720.3 L118.6,721.0 L120.1,721.8 L121.6,722.5 L123.1,723.3 L124.6,724.2 L126.1,725.1 L127.6,726.0 L129.1,726.9 L130.6,727.9 L132.1,728.9 L133.6,729.9 L135.1,731.0 L136.6,732.1 L138.1,733.3 L139.6,734.5 L141.1,735.7 L142.6,737.0 L144.1,738.4 L145.6,739.7 L147.1,741.2 L148.6,742.6 L150.1,744.2 L151.6,745.7 L153.1,747.4 L154.6,749.0 L156.1,750.8 L157.6,752.6 L159.1,754.4 L160.6,756.3 L162.1,758.3 L163.6,760.3 L165.1,762.4 L166.6,764.5 L168.1,766.7 L169.6,769.0 L171.1,771.3 L172.6,773.6 L174.1,776.0 L175.6,778.5 L177.1,780.9 L178.6,783.5 L180.1,786.0 L181.6,788.6 L183.1,791.2 L184.6,793.9 L186.1,796.6 L187.6,799.3 L189.1,802.0 L190.6,804.7 L192.1,807.5 L193.6,810.3 L195.1,813.1 L196.6,815.9 L198.1,818.7 L199.6,821.4 L201.1,824.2 L202.6,827.0 L204.1,829.7 L205.6,832.3 L207.1,834.9 L208.6,837.4 L210.1,839.9 L211.6,842.2 L213.1,844.5 L214.6,846.7 L216.1,848.7 L217.6,850.6 L219.1,852.4 L220.6,854.0 L222.1,855.5 L223.6,856.8 L225.1,857.9 L226.6,858.9 L228.1,859.7 L229.6,860.3 L231.1,860.8 L232.6,861.1 L234.1,861.3 L235.6,861.3 L237.1,861.2 L238.6,860.9 L240.1,860.5 L241.6,860.0 L243.1,859.3 L244.6,858.5 L246.1,857.5 L247.6,856.4 L249.1,855.2 L250.6,853.9 L252.1,852.5 L253.6,850.9 L255.1,849.3 L256.6,847.5 L258.1,845.7 L259.6,843.7 L261.1,841.8 L262.6,839.7 L264.1,837.6 L265.6,835.5 L267.1,833.3 L268.6,831.1 L270.1,828.9 L271.6,826.8 L273.1,824.6 L274.6,822.4 L276.1,820.3 L277.6,818.2 L279.1,816.1 L280.6,814.0 L282.1,812.0 L283.6,809.9 L285.1,807.9 L286.6,805.9 L288.1,803.9 L289.6,801.9 L291.1,800.0 L292.6,798.1 L294.1,796.2 L295.6,794.3 L297.1,792.4 L298.6,790.6 L300.1,788.8 L301.6,787.0 L303.1,785.2 L304.6,783.5 L306.1,781.8 L307.6,780.1 L309.1,778.4 L310.6,776.8 L312.1,775.2 L313.6,773.6 L315.1,772.0 L316.6,770.5 L318.1,769.0 L319.6,767.5 L321.1,766.1 L322.6,764.6 L324.1,763.2 L325.6,761.9 L327.1,760.5 L328.6,759.2 L330.1,757.9 L331.6,756.7 L333.1,755.4 L334.6,754.2 L336.1,753.0 L337.6,751.9 L339.1,750.8 L340.6,749.6 L342.1,748.6 L343.6,747.5 L345.1,746.5 L346.6,745.4 L348.1,744.4 L349.6,743.5 L351.1,742.5 L352.6,741.6 L354.1,740.7 L355.6,739.8 L357.1,738.9 L358.6,738.1 L360.1,737.3 L361.6,736.4 L363.1,735.7 L364.6,734.9 L366.1,734.1 L367.6,733.4 L369.1,732.7 L370.6,732.0 L372.1,731.3 L373.6,730.6 L375.1,730.0 L376.6,729.3 L378.1,728.7 L379.6,728.1 L381.1,727.5 L382.6,726.9 L384.1,726.3 L385.6,725.8 L387.1,725.2 L388.6,724.7 L390.1,724.2 L391.6,723.7 L393.1,723.2 L394.6,722.7 L396.1,722.2 L397.6,721.7 L399.1,721.3 L400.6,720.8 L402.1,720.4 L403.6,720.0 L405.1,719.5 L406.6,719.1 L408.1,718.7 L409.6,718.3 L411.1,717.9 L412.6,717.5 L414.1,717.1 L415.6,716.8 L417.1,716.4 L418.6,716.0 L420.1,715.7 L421.6,715.3 L423.1,715.0 L424.6,714.6 L426.1,714.3 L427.6,714.0 L429.1,713.6 L430.6,713.3 L432.1,713.0 L433.6,712.7 L435.1,712.4 L436.6,712.1 L438.1,711.8 L439.6,711.5 L441.1,711.2 L442.6,710.9 L444.1,710.6 L445.6,710.3 L447.1,710.1 L448.6,709.8 L450.1,709.5 L451.6,709.3 L453.1,709.0 L454.6,708.8 L456.1,708.5 L457.6,708.3 L459.1,708.0 L460.6,707.8 L462.1,707.6 L463.6,707.4 L465.1,707.1 L466.6,706.9 L468.1,706.7 L469.6,706.5 L471.1,706.3 L472.6,706.1 L474.1,705.9 L475.6,705.7 L477.1,705.5 L478.6,705.3 L480.1,705.2 L481.6,705.0 L483.1,704.8 L484.6,704.6 L486.1,704.5 L487.6,704.3 L489.1,704.1 L490.6,704.0 L492.1,703.8 L493.6,703.7 L495.1,703.5 L496.6,703.4 L498.1,703.2 L499.6,703.1 L501.1,703.0 L502.6,702.8 L504.1,702.7 L505.6,702.6 L507.1,702.5 L508.6,702.3 L510.1,702.2 L511.6,702.1 L513.1,702.0 L514.6,701.9 L516.1,701.8 L517.6,701.7 L519.1,701.6 L520.6,701.5 L522.1,701.4 L523.6,701.3 L525.1,701.2 L526.6,701.1 L528.1,701.0 L529.6,700.9 L531.1,700.8 L532.6,700.7 L534.1,700.7 L535.6,700.6 L537.1,700.5 L538.6,700.4 L540.1,700.4 L541.6,700.3 L543.1,700.2 L544.6,700.1 L546.1,700.1 L547.6,700.0 L549.1,699.9 L550.6,699.9 L552.1,699.8 L553.6,699.8 L555.1,699.7 L556.6,699.7 L558.1,699.6 L559.6,699.5 L561.1,699.5 L562.6,699.4 L564.1,699.4 L565.6,699.3 L567.1,699.3 L568.6,699.3 L570.1,699.2 L571.6,699.2 L573.1,699.1 L574.6,699.1 L576.1,699.0 L577.6,699.0 L579.1,699.0 L580.6,698.9 L582.1,698.9 L583.6,698.8 L585.1,698.8 L586.6,698.8 L588.1,698.7 L589.6,698.7 L591.1,698.6 L592.6,698.6 L594.1,698.6 L595.6,698.5 L597.1,698.5 L598.6,698.5 L600.1,698.4 L601.6,698.4 L603.1,698.4 L604.6,698.3 L606.1,698.3 L607.6,698.3 L609.1,698.2 L610.6,698.2 L612.1,698.2 L613.6,698.1 L615.1,698.1 L616.6,698.0 L618.1,698.0 L619.6,698.0 L621.1,697.9 L622.6,697.9 L624.1,697.8 L625.6,697.8 L627.1,697.8 L628.6,697.7 L630.1,697.7 L631.6,697.6 L633.1,697.6 L634.6,697.6 L636.1,697.5 L637.6,697.5 L639.1,697.4 L640.6,697.4 L642.1,697.3 L643.6,697.3 L645.1,697.2 L646.6,697.2 L648.1,697.1 L649.6,697.0 L651.1,697.0 L652.6,696.9 L654.1,696.9 L655.6,696.8 L657.1,696.7 L659.1,696.6" stroke="#6a9a0c" stroke-width="6.80"/>
</g>
<g stroke="#000" fill="none">
<path d="M207.51,905.20v-12.40M207.51,642.60v12.40M320.42,905.20v-12.40M320.42,642.60v12.40M433.33,905.20v-12.40M433.33,642.60v12.40M546.24,905.20v-12.40M546.24,642.60v12.40M94.60,861.43h12.40M659.15,861.43h-12.40M94.60,773.90h12.40M659.15,773.90h-12.40M94.60,686.37h12.40M659.15,686.37h-12.40" stroke-width="1.70"/>
<rect x="94.60" y="642.60" width="564.55" height="262.60" stroke-width="3.20"/>
</g>
<g opacity="0.999">
<line x1="403.6" x2="436.1" y1="220.0" y2="220.0" stroke="#e2001e" stroke-width="6"/>
<line x1="403.6" x2="436.1" y1="247.2" y2="247.2" stroke="#3565cb" stroke-width="6"/>
<text class="lg" x="453.0" y="226.8" textLength="190.2" lengthAdjust="spacingAndGlyphs">Average (estimated)</text>
<text class="lg" x="453.0" y="253.9" textLength="182.4" lengthAdjust="spacingAndGlyphs">Average (empirical)</text>
<text class="tk" x="95.50" y="305.40" text-anchor="middle" textLength="15.6" lengthAdjust="spacingAndGlyphs">0</text>
<text class="tk" x="208.41" y="305.40" text-anchor="middle" textLength="15.6" lengthAdjust="spacingAndGlyphs">2</text>
<text class="tk" x="321.32" y="305.40" text-anchor="middle" textLength="15.6" lengthAdjust="spacingAndGlyphs">4</text>
<text class="tk" x="434.23" y="305.40" text-anchor="middle" textLength="15.6" lengthAdjust="spacingAndGlyphs">6</text>
<text class="tk" x="547.14" y="305.40" text-anchor="middle" textLength="15.6" lengthAdjust="spacingAndGlyphs">8</text>
<text class="tk" x="660.05" y="305.40" text-anchor="middle" textLength="31.2" lengthAdjust="spacingAndGlyphs">10</text>
<text class="tk" x="95.50" y="620.90" text-anchor="middle" textLength="15.6" lengthAdjust="spacingAndGlyphs">0</text>
<text class="tk" x="208.41" y="620.90" text-anchor="middle" textLength="15.6" lengthAdjust="spacingAndGlyphs">2</text>
<text class="tk" x="321.32" y="620.90" text-anchor="middle" textLength="15.6" lengthAdjust="spacingAndGlyphs">4</text>
<text class="tk" x="434.23" y="620.90" text-anchor="middle" textLength="15.6" lengthAdjust="spacingAndGlyphs">6</text>
<text class="tk" x="547.14" y="620.90" text-anchor="middle" textLength="15.6" lengthAdjust="spacingAndGlyphs">8</text>
<text class="tk" x="660.05" y="620.90" text-anchor="middle" textLength="31.2" lengthAdjust="spacingAndGlyphs">10</text>
<text class="tk" x="95.50" y="936.30" text-anchor="middle" textLength="15.6" lengthAdjust="spacingAndGlyphs">0</text>
<text class="tk" x="208.41" y="936.30" text-anchor="middle" textLength="15.6" lengthAdjust="spacingAndGlyphs">2</text>
<text class="tk" x="321.32" y="936.30" text-anchor="middle" textLength="15.6" lengthAdjust="spacingAndGlyphs">4</text>
<text class="tk" x="434.23" y="936.30" text-anchor="middle" textLength="15.6" lengthAdjust="spacingAndGlyphs">6</text>
<text class="tk" x="547.14" y="936.30" text-anchor="middle" textLength="15.6" lengthAdjust="spacingAndGlyphs">8</text>
<text class="tk" x="660.05" y="936.30" text-anchor="middle" textLength="31.2" lengthAdjust="spacingAndGlyphs">10</text>
<text class="tk" x="85.4" y="19.00" text-anchor="end" textLength="39.3" lengthAdjust="spacingAndGlyphs">1.0</text>
<text class="tk" x="85.4" y="71.52" text-anchor="end" textLength="39.3" lengthAdjust="spacingAndGlyphs">0.8</text>
<text class="tk" x="85.4" y="124.04" text-anchor="end" textLength="39.3" lengthAdjust="spacingAndGlyphs">0.6</text>
<text class="tk" x="85.4" y="176.56" text-anchor="end" textLength="39.3" lengthAdjust="spacingAndGlyphs">0.4</text>
<text class="tk" x="85.4" y="229.08" text-anchor="end" textLength="39.3" lengthAdjust="spacingAndGlyphs">0.2</text>
<text class="tk" x="85.4" y="281.60" text-anchor="end" textLength="39.3" lengthAdjust="spacingAndGlyphs">0.0</text>
<text class="tk" x="85.4" y="334.50" text-anchor="end" textLength="39.3" lengthAdjust="spacingAndGlyphs">1.0</text>
<text class="tk" x="85.4" y="387.02" text-anchor="end" textLength="39.3" lengthAdjust="spacingAndGlyphs">0.8</text>
<text class="tk" x="85.4" y="439.54" text-anchor="end" textLength="39.3" lengthAdjust="spacingAndGlyphs">0.6</text>
<text class="tk" x="85.4" y="492.06" text-anchor="end" textLength="39.3" lengthAdjust="spacingAndGlyphs">0.4</text>
<text class="tk" x="85.4" y="544.58" text-anchor="end" textLength="39.3" lengthAdjust="spacingAndGlyphs">0.2</text>
<text class="tk" x="85.4" y="597.10" text-anchor="end" textLength="39.3" lengthAdjust="spacingAndGlyphs">0.0</text>
<text class="tk" x="84.8" y="868.03" text-anchor="end" textLength="31.0" lengthAdjust="spacingAndGlyphs">10</text>
<text class="tk" x="84.8" y="780.50" text-anchor="end" textLength="31.0" lengthAdjust="spacingAndGlyphs">20</text>
<text class="tk" x="84.8" y="692.97" text-anchor="end" textLength="31.0" lengthAdjust="spacingAndGlyphs">30</text>
<text class="pl" x="117.2" y="65.10" textLength="22.2" lengthAdjust="spacingAndGlyphs">a</text>
<text class="pl" x="117.7" y="379.40" textLength="26.0" lengthAdjust="spacingAndGlyphs">b</text>
<text class="pl" x="116.8" y="696.00" textLength="22.2" lengthAdjust="spacingAndGlyphs">c</text>
<text class="lb" transform="translate(24.1,141.60) rotate(-90)" text-anchor="middle" textLength="171.0" lengthAdjust="spacingAndGlyphs">Correlation</text>
<text class="lb" transform="translate(24.1,457.60) rotate(-90)" text-anchor="middle" textLength="173.5" lengthAdjust="spacingAndGlyphs">Complexity</text>
<text class="lb" transform="translate(32.0,771.90) rotate(-90)" text-anchor="middle" textLength="135.5" lengthAdjust="spacingAndGlyphs">Distance</text>
<text class="lb" x="379.2" y="980.0" text-anchor="middle" textLength="322.0" lengthAdjust="spacingAndGlyphs">Coupling strength, g</text>
</g>
</svg></body></html>
